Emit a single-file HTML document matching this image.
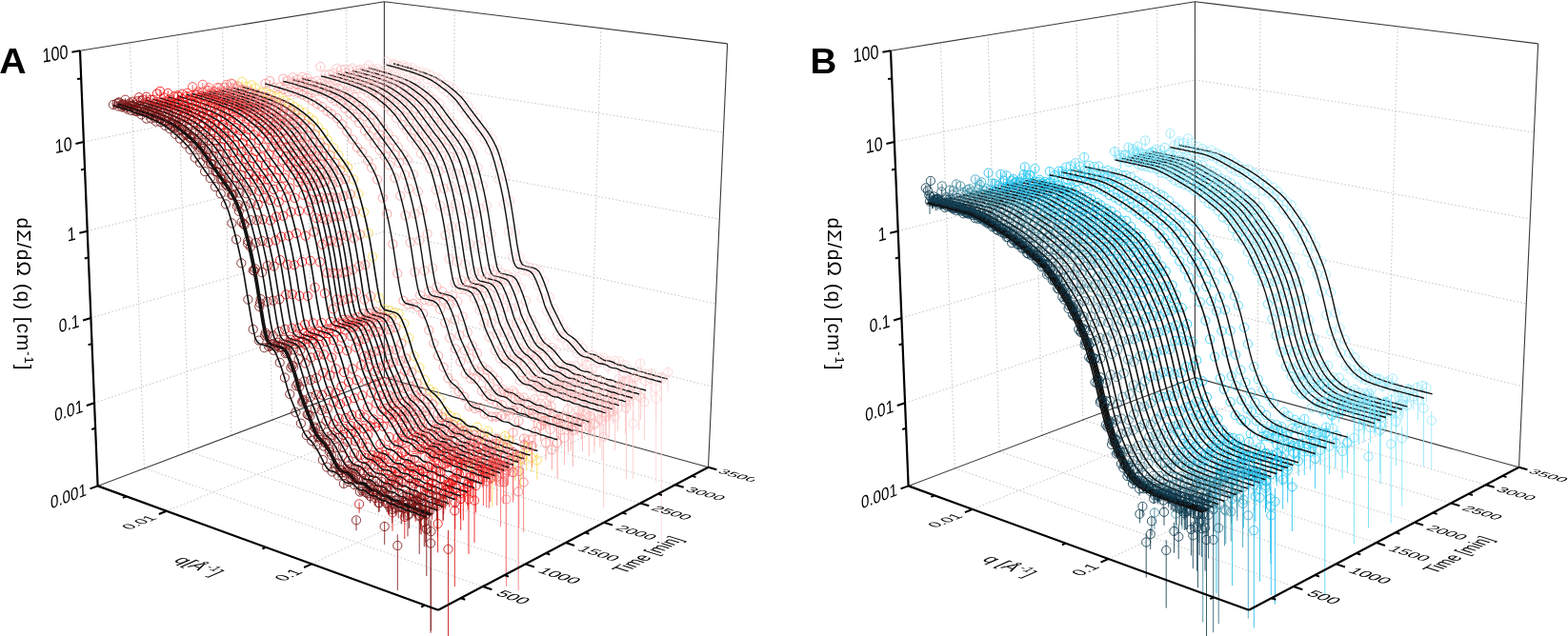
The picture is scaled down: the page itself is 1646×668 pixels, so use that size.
<!DOCTYPE html>
<html><head><meta charset="utf-8"><title>SANS time series</title><style>html,body{margin:0;padding:0;background:#fff;}svg{display:block;}</style></head><body>
<svg width="1646" height="668" viewBox="0 0 1646 668">
<defs><clipPath id="cpA"><rect x="0" y="0" width="792" height="668"/></clipPath></defs>
<g clip-path="url(#cpA)">
<path d="M99 423.2L403.4 320.7M403.4 320.7L747.3 405.9M95.4 334L403.4 243.4M403.4 243.4L751.2 319M91.7 242.7L403.4 164.5M403.4 164.5L755.3 230.1M87.9 149.1L403.4 84M403.4 84L759.4 139.1M151.5 491.8L136.4 44.8M151.5 491.8L506.9 616M198.2 474.2L186.2 36.8M198.2 474.2L551.5 592.4M242.9 457.3L233.6 29.1M242.9 457.3L593.8 570M285.6 441.1L279 21.8M285.6 441.1L634 548.8M326.5 425.6L322.3 14.8M326.5 425.6L672.2 528.5M365.8 410.8L363.7 8.1M365.8 410.8L708.7 509.2M473.5 416L477.2 10.8M174.9 536.8L473.5 416M618.8 456.3L630.9 29.6M327.1 592.3L618.8 456.3" stroke="#c6c6c6" stroke-width="1" stroke-dasharray="1.6 2.2" fill="none"/>
<path d="M84 53.3L403.4 1.7M403.4 1.7L763.6 45.9M763.6 45.9L743.5 490.8M403.4 1.7L403.4 396.5M102.6 510.4L403.4 396.5M403.4 396.5L743.5 490.8" stroke="#3a3a3a" stroke-width="1.1" fill="none"/>
<marker id="mA0" markerUnits="userSpaceOnUse" markerWidth="12" markerHeight="12" refX="6" refY="6" overflow="visible"><circle cx="6" cy="6" r="4.6" fill="none" stroke="#fdd4d4" stroke-width="0.85"/></marker>
<path d="M413.1 65.3V71.6M418.1 67.6V71.7M422.7 67.6V70.6M426.9 69.4V71.6M432.6 70.7V72.2M437.3 73.6V74.9M441.8 75.2V76.3M447.1 76.4V77.2M451.9 78.8V79.8M456.8 80.8V81.7M461.6 83V83.9M466.8 88.6V89.3M471.2 90.2V91M476.4 93.6V94.2M481.3 99.2V100M486.7 105.5V106.4M491.5 110.6V111.2M496.3 117.6V118.2M501.1 123.3V124M506.4 131.4V132M511.5 139.1V139.8M516.4 145.5V146.2M522 157.2V157.8M526.9 171.1V171.9M530.3 185V185.7M535.4 210.6V211.5M540.7 243.8V244.7M545.3 269.2V269.9M550.6 278.3V279.3M555.8 280.8V281.7M561.8 281.6V282.6M565.7 284.3V285.2M571 295.2V296.4M576.9 311.8V313M581.4 324.2V325.7M586.4 334.9V336.3M591 344V346.6M595.8 348.3V350.6M601.7 358.4V361M607 359.3V362.1M611.7 364.6V367.8M617.1 372.3V376.8M622.2 391.8V398.7M627.8 374.2V379.1M633.7 374.3V379.3M639.2 377.6V383.7M644.7 377V385.2M650 376.4V386M655.9 380.2V390M661.4 388.1V401.5M666.6 391.6V405.5M672.2 377.9V391.3M678.2 388.1V405.5M683.1 392.5V417.2M688.7 409V506.9M694.3 393.2V569.4M701.2 384.8V410.9" stroke="#fdd4d4" fill="none" stroke-width="0.85"/>
<path d="M413.1 66.8 418.1 69.1 422.7 68.3 426.9 70 432.6 71.2 437.3 74.1 441.8 75.5 447.1 76.6 451.9 79.1 456.8 81.1 461.6 83.3 466.8 88.8 471.2 90.5 476.4 93.8 481.3 99.5 486.7 105.7 491.5 110.8 496.3 117.8 501.1 123.6 506.4 131.6 511.5 139.3 516.4 145.7 522 157.3 526.9 171.3 530.3 185.3 535.4 210.9 540.7 244 545.3 269.4 550.6 278.6 555.8 281.1 561.8 282 565.7 284.5 571 295.6 576.9 312.3 581.4 324.6 586.4 335.4 591 344.7 595.8 349.1 601.7 359.2 607 360.3 611.7 365.6 617.1 374 622.2 394.1 627.8 376.1 633.7 375.7 639.2 379.5 644.7 379 650 379.1 655.9 383.2 661.4 391.1 666.6 396.6 672.2 381.6 678.2 392.7 683.1 398 688.7 418.9 694.3 398.1 701.2 391.1" fill="none" stroke="none" marker-start="url(#mA0)" marker-mid="url(#mA0)" marker-end="url(#mA0)"/>
<polyline points="413,66.9 414.7,67.3 416.4,67.8 418.1,68.2 419.7,68.7 421.4,69.1 423.1,69.6 424.8,70.1 426.5,70.5 428.2,71 429.9,71.5 431.6,72 433.3,72.5 435,73.1 436.8,73.6 438.5,74.2 440.2,74.8 441.9,75.3 443.6,75.9 445.3,76.6 447.1,77.2 448.8,77.9 450.5,78.6 452.3,79.3 454,80.1 455.7,80.9 457.5,81.7 459.2,82.6 460.9,83.6 462.7,84.7 464.4,85.8 466.2,87 467.9,88.3 469.6,89.5 471.4,90.8 473.1,92.2 474.9,93.6 476.6,95 478.4,96.6 480.1,98.2 481.9,99.9 483.7,101.6 485.4,103.5 487.2,105.6 488.9,107.9 490.7,110.4 492.4,112.8 494.2,115.2 496,117.5 497.7,119.9 499.5,122.2 501.2,124.5 503,126.8 504.8,129.2 506.6,131.5 508.3,133.8 510.1,136.1 511.9,138.5 513.6,141.1 515.4,143.9 517.2,146.9 518.9,150.2 520.7,153.9 522.5,158.1 524.2,163.1 525.9,168.8 527.7,175.1 529.4,181.7 531.1,188.7 532.8,196.2 534.5,204.4 536.2,213.2 537.8,223 539.5,234.1 541.1,245.2 542.7,256.2 544.4,265.5 546.1,273.3 547.8,277 549.6,278.9 551.4,279.5 553.3,279.9 555.1,280.3 556.9,280.7 558.8,281.1 560.6,281.6 562.4,282.4 564.3,283.7 566.1,285.6 567.9,289 569.6,292.9 571.4,297.2 573.1,301.9 574.9,307 576.6,312.5 578.4,318.2 580.1,322.4 581.9,326.1 583.7,329.7 585.5,333.3 587.3,337 589.1,340.6 590.9,344 592.7,347 594.5,349.4 596.3,351.3 598.2,352.5 600.1,353.7 601.9,355.1 603.8,356.7 605.6,358.6 607.5,360.6 609.3,362.8 611.1,365 613,367.2 614.8,369 616.7,370.4 618.6,371.3 620.5,371.9 622.4,372.2 624.3,372.7 626.2,373.4 628.1,374.5 630,375.8 631.9,377.1 633.8,378.1 635.7,378.7 637.7,378.9 639.6,379.2 641.5,379.7 643.4,380.5 645.4,381.6 647.3,382.6 649.2,383.2 651.2,383.5 653.1,383.8 655.1,384.4 657,385.3 658.9,386.3 660.9,386.9 662.9,387.2 664.8,387.5 666.8,388.3 668.7,389.2 670.7,389.9 672.7,390.2 674.7,390.6 676.6,391.3 678.6,392.1 680.6,392.6 682.6,392.9 684.6,393.5 686.5,394.3 688.5,394.8 690.5,395.2 692.5,395.8 694.5,396.5 696.5,396.9 698.6,397.4 700.6,398.1" stroke="#111" fill="none" stroke-width="1.4"/>
<marker id="mA4" markerUnits="userSpaceOnUse" markerWidth="12" markerHeight="12" refX="6" refY="6" overflow="visible"><circle cx="6" cy="6" r="4.6" fill="none" stroke="#fdd1d1" stroke-width="0.85"/></marker>
<path d="M405.7 63.4V68.6M411.2 67.4V70.5M415.4 67.6V70.1M419.5 69.5V71.9M425.2 70.7V72.7M430.6 72.7V74.2M435 76.1V77.3M440 78.4V79.4M444.6 78.7V79.5M448.8 83.2V84.2M453.8 84.9V85.9M459 87.3V87.9M464.4 92.7V94M469.5 96.5V97.2M474.7 101V101.7M479.3 105.1V105.9M484.8 113V113.7M489.3 118.8V119.6M494.2 125.1V125.7M499.8 133.1V133.9M504.2 137.7V138.5M508.5 145.9V146.8M514.2 157.3V158.2M519.6 173.7V174.3M523.3 187.8V188.3M529.2 214.3V214.9M533.9 242.9V243.6M538.2 270V270.7M543.2 281.7V282.5M548.8 283.5V284.3M554 284.3V285.3M559.9 288.9V290.3M564.6 299.5V300.6M568.8 312.6V314M574.1 326.6V328.1M579.9 335.8V337.6M585.4 351.6V353.7M590 354.1V357M595.2 360.9V364.4M601.2 362.4V366M605.7 369.7V372.9M610.8 377.2V383.6M615.8 373.5V378.3M621.8 371.6V376M628.2 379.5V385M632.2 377.6V382.5M638.2 382.7V393.2M642.2 409V428.8M649.4 383.5V392.7M655.1 388.3V397.5M660 394.4V413.6M664.5 431.1V503.1M672 387.4V402.8M677.3 395.6V419.5M683.9 386.3V404M688.7 400.8V442.7M694.4 390.5V422.3" stroke="#fdd1d1" fill="none" stroke-width="0.85"/>
<path d="M405.7 64.6 411.2 68.6 415.4 68.2 419.5 70.2 425.2 71.3 430.6 73 435 76.6 440 78.7 444.6 79 448.8 83.4 453.8 85.2 459 87.5 464.4 92.9 469.5 96.7 474.7 101.3 479.3 105.4 484.8 113.1 489.3 119 494.2 125.3 499.8 133.2 504.2 138 508.5 146.1 514.2 157.6 519.6 174 523.3 188 529.2 214.5 533.9 243.1 538.2 270.2 543.2 281.9 548.8 283.8 554 284.5 559.9 289.2 564.6 299.9 568.8 313.1 574.1 326.9 579.9 336.4 585.4 352.2 590 354.7 595.2 361.8 601.2 363.5 605.7 370.8 610.8 378.7 615.8 375 621.8 373.2 628.2 381.2 632.2 378.8 638.2 384.6 642.2 414.3 649.4 385.9 655.1 392.1 660 399.4 664.5 444.9 672 393.6 677.3 400.2 683.9 392.3 688.7 408 694.4 395.9" fill="none" stroke="none" marker-start="url(#mA4)" marker-mid="url(#mA4)" marker-end="url(#mA4)"/>
<polyline points="405.7,68.1 407.4,68.6 409.1,69 410.8,69.5 412.5,69.9 414.2,70.4 415.9,70.9 417.6,71.3 419.3,71.8 421,72.3 422.7,72.8 424.4,73.3 426.1,73.8 427.8,74.4 429.6,74.9 431.3,75.5 433,76 434.7,76.6 436.4,77.2 438.2,77.9 439.9,78.5 441.6,79.2 443.4,79.9 445.1,80.6 446.8,81.4 448.6,82.2 450.3,83 452.1,83.9 453.8,84.9 455.5,86 457.3,87.1 459,88.3 460.8,89.6 462.5,90.9 464.3,92.2 466,93.5 467.8,94.9 469.6,96.3 471.3,97.9 473.1,99.5 474.8,101.2 476.6,103 478.4,104.9 480.1,107 481.9,109.3 483.6,111.7 485.4,114.2 487.2,116.6 488.9,118.9 490.7,121.2 492.5,123.6 494.3,125.9 496,128.3 497.8,130.6 499.6,133 501.4,135.3 503.1,137.6 504.9,140 506.7,142.6 508.5,145.4 510.3,148.4 512,151.7 513.8,155.3 515.6,159.5 517.3,164.5 519.1,170.3 520.8,176.6 522.5,183.2 524.2,190.2 525.9,197.7 527.7,205.9 529.3,214.8 531,224.6 532.7,235.7 534.3,246.8 536,258 537.6,267.4 539.3,275.3 541.1,279.1 542.9,281.1 544.7,281.7 546.5,282.1 548.4,282.5 550.2,282.9 552.1,283.4 553.9,283.9 555.7,284.6 557.6,286 559.4,287.9 561.2,291.3 563,295.2 564.7,299.5 566.5,304.3 568.3,309.3 570,314.9 571.8,320.7 573.5,324.9 575.3,328.6 577.1,332.3 578.9,335.9 580.7,339.6 582.5,343.3 584.3,346.7 586.1,349.7 588,352.2 589.8,354.1 591.7,355.3 593.5,356.5 595.4,357.9 597.2,359.6 599.1,361.5 600.9,363.5 602.8,365.8 604.6,368 606.5,370.2 608.4,372.1 610.2,373.5 612.1,374.4 614,374.9 616,375.3 617.9,375.7 619.8,376.5 621.7,377.6 623.6,379 625.5,380.2 627.4,381.2 629.3,381.8 631.3,382 633.2,382.3 635.1,382.8 637.1,383.7 639,384.8 640.9,385.8 642.8,386.4 644.8,386.6 646.8,386.9 648.7,387.6 650.7,388.6 652.6,389.5 654.6,390.1 656.5,390.4 658.5,390.8 660.5,391.6 662.4,392.5 664.4,393.1 666.4,393.4 668.4,393.8 670.4,394.6 672.3,395.4 674.3,395.9 676.3,396.2 678.3,396.9 680.3,397.6 682.3,398.1 684.3,398.5 686.3,399.2 688.3,399.9 690.3,400.2 692.4,400.7 694.4,401.5" stroke="#111" fill="none" stroke-width="1.4"/>
<marker id="mA8" markerUnits="userSpaceOnUse" markerWidth="12" markerHeight="12" refX="6" refY="6" overflow="visible"><circle cx="6" cy="6" r="4.6" fill="none" stroke="#fccaca" stroke-width="0.85"/></marker>
<path d="M387 67.4V72.1M391.6 71.3V74.9M396.5 71.1V74.9M401 74.4V76.4M406.3 76.6V78.4M411.5 78.2V79.7M416.1 80.1V81.2M421.4 81V81.9M426.1 83.5V84.4M431.5 85.5V86.3M435.9 87.2V88M440.3 90.7V91.4M446.1 96.5V97.2M450.9 100.8V101.3M455.6 104.3V105M461.3 108.6V109.4M466.2 116.4V117.1M471.4 123.7V124.4M476.1 129.3V130.2M481.4 137.8V138.5M486.5 144.3V145.1M492.3 151.6V152.2M496.4 160.5V161.1M501.7 176.1V176.8M506.8 195.3V195.8M510.9 215.6V216.3M515.8 245.6V246.3M522 281.6V282.4M525.6 286.1V286.6M531.8 288.2V288.9M536.4 290.8V291.8M541.7 293.3V294.4M546.4 301.7V302.6M551.9 315.3V316.7M557.6 335.3V337.2M561.9 341.8V343.9M567.9 354.4V356.6M573 359V361.5M579.1 364.1V366.5M583.4 367V369.8M588.8 396.5V403.8M594.5 382V385.8M599.5 382.6V386.8M604.4 382.7V387.9M611.2 386.3V393.1M615.7 382V385.7M621.6 385.2V392.1M627.4 396.3V411M631.9 434.1V483.7M637.8 400.6V416M643.7 403.8V423M649.6 394.4V410.4M655.9 395.5V410.1M661.8 404.9V429.3M666.3 391.6V409.5M672.6 409.7V441.3M676.5 413.2V462.6" stroke="#fccaca" fill="none" stroke-width="0.85"/>
<path d="M387 68.6 391.6 72.8 396.5 72.2 401 75.1 406.3 77.2 411.5 78.8 416.1 80.4 421.4 81.3 426.1 83.7 431.5 85.7 435.9 87.4 440.3 91 446.1 96.7 450.9 100.9 455.6 104.5 461.3 108.9 466.2 116.6 471.4 123.9 476.1 129.5 481.4 138 486.5 144.5 492.3 151.9 496.4 160.7 501.7 176.3 506.8 195.4 510.9 215.8 515.8 245.9 522 281.9 525.6 286.3 531.8 288.4 536.4 291.1 541.7 293.7 546.4 302 551.9 315.8 557.6 335.8 561.9 342.5 567.9 355.4 573 360.2 579.1 365.1 583.4 367.7 588.8 398.1 594.5 383.3 599.5 384.6 604.4 384.4 611.2 388.5 615.7 383.6 621.6 387.3 627.4 399.5 631.9 442 637.8 404.9 643.7 409.3 649.6 398 655.9 400.7 661.8 413.5 666.3 396.1 672.6 417.9 676.5 422.2" fill="none" stroke="none" marker-start="url(#mA8)" marker-mid="url(#mA8)" marker-end="url(#mA8)"/>
<polyline points="386.9,71.4 388.6,71.9 390.3,72.3 392,72.7 393.7,73.2 395.4,73.7 397.1,74.2 398.8,74.7 400.5,75.1 402.2,75.6 404,76.1 405.7,76.7 407.4,77.2 409.1,77.7 410.8,78.3 412.6,78.8 414.3,79.4 416,80 417.8,80.6 419.5,81.2 421.3,81.9 423,82.6 424.7,83.3 426.5,84 428.2,84.8 430,85.6 431.7,86.4 433.5,87.3 435.3,88.3 437,89.4 438.8,90.5 440.5,91.7 442.3,93 444.1,94.2 445.8,95.6 447.6,96.9 449.4,98.3 451.1,99.8 452.9,101.3 454.7,102.9 456.5,104.6 458.2,106.4 460,108.3 461.8,110.4 463.6,112.7 465.4,115.1 467.1,117.6 468.9,120.1 470.7,122.5 472.5,124.8 474.3,127.2 476.1,129.6 477.9,132 479.7,134.4 481.4,136.7 483.2,139.1 485,141.4 486.8,143.9 488.6,146.5 490.4,149.3 492.2,152.3 494,155.6 495.8,159.2 497.6,163.4 499.4,168.3 501.1,174 502.9,180.3 504.7,187.1 506.4,194.1 508.2,201.7 509.9,209.9 511.6,218.8 513.3,228.6 515,239.8 516.7,251.2 518.4,262.5 520.1,272.2 521.8,280.5 523.6,284.7 525.4,286.8 527.2,287.5 529.1,287.9 530.9,288.3 532.8,288.7 534.6,289.2 536.5,289.7 538.3,290.4 540.2,291.8 542,293.7 543.8,297.1 545.6,301.1 547.4,305.4 549.2,310.3 551,315.5 552.8,321.2 554.5,327.1 556.3,331.4 558.2,335.3 560,339 561.8,342.7 563.6,346.5 565.4,350.3 567.2,353.8 569.1,356.9 570.9,359.5 572.8,361.3 574.7,362.6 576.5,363.9 578.4,365.4 580.3,367.1 582.2,369 584,371.2 585.9,373.5 587.8,375.9 589.6,378.1 591.5,380 593.4,381.4 595.3,382.3 597.2,382.8 599.2,383.2 601.1,383.7 603,384.6 604.9,385.7 606.8,387.1 608.8,388.4 610.7,389.4 612.6,389.9 614.6,390.2 616.5,390.4 618.5,391 620.4,392 622.4,393.2 624.3,394.1 626.3,394.7 628.3,394.9 630.2,395.3 632.2,396 634.2,397 636.1,398 638.1,398.5 640.1,398.8 642.1,399.2 644.1,400.1 646,401 648,401.6 650,401.9 652,402.4 654,403.3 656,404 658,404.4 660,404.8 662,405.6 664.1,406.3 666.1,406.7 668.1,407.2 670.1,407.9 672.1,408.5 674.2,408.9 676.2,409.5 678.2,410.2" stroke="#111" fill="none" stroke-width="1.4"/>
<marker id="mA12" markerUnits="userSpaceOnUse" markerWidth="12" markerHeight="12" refX="6" refY="6" overflow="visible"><circle cx="6" cy="6" r="4.6" fill="none" stroke="#fcc7c7" stroke-width="0.85"/></marker>
<path d="M378.1 71.1V77.6M383.7 71V74.4M388.3 73.8V77.7M393 75V77.4M397.4 77V78.7M402.4 78V79.5M407.5 79.9V80.9M413 83.3V84.1M417.3 84.2V85.2M421.9 86.9V87.7M427.2 89.7V90.4M432.5 94.5V95.2M438.4 96.8V97.5M443.8 101.8V102.5M447.7 103.9V104.8M453.3 110.6V111.4M458.6 119.1V119.8M463.6 126.2V126.9M468.2 130.1V130.8M472.8 138.1V138.8M478.3 144V144.6M482.8 151.7V152.4M488.8 160.9V161.6M494.1 178.3V179M498.1 192.2V192.8M503.7 218.9V219.6M508.7 252V252.7M513.9 282.3V283.2M519.1 288.2V289M524.2 290.8V291.7M528.8 293V293.9M534.2 294.3V295.2M540.1 305.1V306.1M544.4 320.9V322.7M549.7 334.1V335.2M555.5 348.1V349.9M560.2 355.3V357.6M564.8 363.9V366.5M570.6 365.3V368.2M576.3 372.5V375M581.3 379.8V383.6M587.2 383.8V390.1M592.7 387V391.4M597.4 390.6V396.4M602.9 393.8V400M608 414.3V428.2M613.7 397.6V406M620.1 394.1V404.7M624.1 434.6V468M631.5 397V405.7M635.6 426.6V457M642 401.5V416.1M648.9 403.3V426M653.7 397V414M659.1 407V434.5M664.9 408.9V441.2M670.9 407.5V451.5" stroke="#fcc7c7" fill="none" stroke-width="0.85"/>
<path d="M378.1 73.1 383.7 72.2 388.3 74.9 393 75.7 397.4 77.3 402.4 78.5 407.5 80.2 413 83.6 417.3 84.4 421.9 87.1 427.2 89.9 432.5 94.7 438.4 97 443.8 102.1 447.7 104.1 453.3 110.9 458.6 119.4 463.6 126.5 468.2 130.4 472.8 138.4 478.3 144.2 482.8 151.9 488.8 161.1 494.1 178.5 498.1 192.4 503.7 219 508.7 252.3 513.9 282.6 519.1 288.4 524.2 291.1 528.8 293.3 534.2 294.7 540.1 305.5 544.4 321.3 549.7 334.5 555.5 348.7 560.2 355.7 564.8 364.5 570.6 366 576.3 373.2 581.3 380.9 587.2 385 592.7 388.2 597.4 392.2 602.9 395.8 608 418.7 613.7 399.6 620.1 396.7 624.1 444.7 631.5 400 635.6 432.9 642 404.9 648.9 407.6 653.7 400.5 659.1 416.6 664.9 415.1 670.9 415.7" fill="none" stroke="none" marker-start="url(#mA12)" marker-mid="url(#mA12)" marker-end="url(#mA12)"/>
<polyline points="378.5,72.9 380.2,73.3 381.9,73.7 383.6,74.2 385.4,74.7 387.1,75.1 388.8,75.6 390.5,76.1 392.2,76.6 393.9,77.1 395.7,77.6 397.4,78.1 399.1,78.6 400.8,79.2 402.6,79.7 404.3,80.3 406,80.9 407.8,81.5 409.5,82.1 411.3,82.7 413,83.4 414.8,84.1 416.5,84.8 418.3,85.5 420,86.3 421.8,87.1 423.5,87.9 425.3,88.8 427.1,89.8 428.8,90.9 430.6,92 432.4,93.2 434.1,94.4 435.9,95.7 437.7,97.1 439.4,98.4 441.2,99.8 443,101.3 444.8,102.8 446.6,104.4 448.3,106.1 450.1,107.9 451.9,109.8 453.7,111.9 455.5,114.2 457.3,116.6 459.1,119.1 460.9,121.6 462.6,124 464.4,126.4 466.2,128.8 468,131.2 469.8,133.6 471.6,136 473.4,138.4 475.2,140.7 477,143.1 478.8,145.6 480.7,148.2 482.5,151 484.3,154 486.1,157.3 487.9,160.9 489.7,165 491.4,170 493.2,175.7 495,182 496.8,188.8 498.5,195.8 500.3,203.4 502,211.7 503.8,220.6 505.5,230.4 507.2,241.6 508.9,253.1 510.6,264.4 512.3,274.4 514,282.8 515.8,287.2 517.6,289.3 519.5,290 521.3,290.4 523.2,290.9 525.1,291.3 526.9,291.8 528.8,292.3 530.6,293 532.5,294.3 534.3,296.3 536.2,299.7 538,303.7 539.8,308.1 541.6,313 543.4,318.2 545.2,324 546.9,329.9 548.7,334.3 550.6,338.2 552.4,341.9 554.2,345.7 556,349.6 557.9,353.4 559.7,357 561.5,360.1 563.4,362.7 565.3,364.6 567.1,365.9 569,367.1 570.9,368.6 572.8,370.4 574.7,372.4 576.5,374.6 578.4,376.9 580.3,379.3 582.2,381.6 584.1,383.5 586,385 587.9,385.8 589.8,386.3 591.7,386.7 593.7,387.3 595.6,388.1 597.5,389.3 599.5,390.8 601.4,392.1 603.3,393 605.3,393.5 607.2,393.8 609.2,394.1 611.1,394.7 613.1,395.7 615,396.9 617,397.8 619,398.4 620.9,398.6 622.9,399 624.9,399.7 626.9,400.8 628.8,401.7 630.8,402.2 632.8,402.5 634.8,403 636.8,403.9 638.8,404.8 640.8,405.4 642.8,405.7 644.8,406.2 646.8,407.1 648.8,407.8 650.8,408.2 652.8,408.6 654.9,409.4 656.9,410.2 658.9,410.5 660.9,411 663,411.8 665,412.4 667,412.8 669.1,413.4 671.1,414.1" stroke="#111" fill="none" stroke-width="1.4"/>
<marker id="mA16" markerUnits="userSpaceOnUse" markerWidth="12" markerHeight="12" refX="6" refY="6" overflow="visible"><circle cx="6" cy="6" r="4.6" fill="none" stroke="#fcc4c4" stroke-width="0.85"/></marker>
<path d="M369.9 69.9V77.2M375 72.3V77.1M379.7 74.5V77.6M384.6 76.8V79.3M389.6 79.9V81.4M394.9 79.5V81.3M400.2 82.6V83.9M405.1 84.4V85.4M409.7 85.3V86.1M414.3 87.8V88.7M419.4 92.6V93.4M424.4 94.2V94.9M430 99V99.6M433.5 101V101.7M439.8 107V107.8M444 110.8V111.6M449.9 118.7V119.5M455.5 126.8V127.6M459.8 131.3V132.1M464.3 139.9V140.8M470.9 147.6V148.3M476.1 156.3V157M480.9 164.8V165.6M486.3 181.1V181.7M490.5 197.2V197.9M496.3 224.9V225.6M501.3 257.3V258.2M505.8 284.9V285.8M510.9 292.1V293.2M516.6 293.1V293.9M521.8 295.5V296.5M526.3 298.9V300.4M532.3 312V313M537.2 323.3V324.6M542.1 338.7V340.3M547.8 350.3V352M552.8 361.5V363.3M558.1 368.3V370.9M562.9 372.3V374.7M568.9 374.1V376.4M572.8 407.1V413.8M579.2 387.2V390.4M584 388.6V393.6M589.5 392V396.9M595.8 399.6V405.5M601.2 398.3V406.6M607 394.8V401.9M612 423.1V442.1M618.3 398.7V406.2M623.4 400V410.4M629.5 402.4V411.4M633.6 445.9V532.9M639.9 426.5V448.9M645.7 430.6V472.9M652.3 402.6V423.2M657.4 420V503.1M664.2 398.5V426.9" stroke="#fcc4c4" fill="none" stroke-width="0.85"/>
<path d="M369.9 71.6 375 73.8 379.7 75.5 384.6 77.4 389.6 80.2 394.9 80.1 400.2 83 405.1 84.6 409.7 85.6 414.3 88.1 419.4 92.8 424.4 94.4 430 99.2 433.5 101.2 439.8 107.2 444 111 449.9 119 455.5 127.1 459.8 131.6 464.3 140.1 470.9 147.8 476.1 156.5 480.9 165.1 486.3 181.4 490.5 197.4 496.3 225.1 501.3 257.6 505.8 285.3 510.9 292.4 516.6 293.4 521.8 295.8 526.3 299.3 532.3 312.3 537.2 323.7 542.1 339.2 547.8 350.8 552.8 362 558.1 369 562.9 373.2 568.9 374.9 572.8 408.6 579.2 388.3 584 390.3 589.5 393.3 595.8 401.4 601.2 401.6 607 397 612 427.4 618.3 400.5 623.4 403.1 629.5 404.9 633.6 458.8 639.9 433 645.7 437.5 652.3 409.7 657.4 428.6 664.2 404.9" fill="none" stroke="none" marker-start="url(#mA16)" marker-mid="url(#mA16)" marker-end="url(#mA16)"/>
<polyline points="370.1,74.3 371.8,74.8 373.5,75.2 375.2,75.7 377,76.1 378.7,76.6 380.4,77.1 382.1,77.6 383.8,78.1 385.6,78.6 387.3,79.1 389,79.6 390.8,80.1 392.5,80.7 394.2,81.2 396,81.8 397.7,82.4 399.5,83 401.2,83.6 403,84.2 404.7,84.9 406.5,85.6 408.2,86.3 410,87 411.7,87.8 413.5,88.6 415.3,89.4 417,90.3 418.8,91.3 420.6,92.4 422.3,93.5 424.1,94.7 425.9,95.9 427.7,97.2 429.4,98.6 431.2,99.9 433,101.3 434.8,102.8 436.6,104.3 438.4,106 440.2,107.7 441.9,109.5 443.7,111.4 445.5,113.4 447.3,115.7 449.1,118.1 450.9,120.7 452.7,123.2 454.5,125.6 456.3,128 458.1,130.4 459.9,132.8 461.7,135.2 463.5,137.7 465.3,140.1 467.2,142.4 469,144.8 470.8,147.3 472.6,149.9 474.4,152.7 476.2,155.7 478,159 479.8,162.6 481.6,166.7 483.4,171.7 485.2,177.4 487,183.7 488.8,190.5 490.6,197.5 492.3,205.1 494.1,213.4 495.9,222.4 497.6,232.2 499.3,243.4 501,255 502.7,266.4 504.5,276.5 506.2,285 508,289.6 509.8,291.8 511.7,292.6 513.5,293 515.4,293.4 517.3,293.9 519.1,294.3 521,294.9 522.9,295.6 524.7,296.9 526.6,298.8 528.4,302.3 530.2,306.3 532.1,310.7 533.9,315.7 535.7,321 537.5,326.8 539.3,332.8 541.1,337.2 542.9,341.1 544.7,344.9 546.6,348.8 548.4,352.7 550.2,356.5 552.1,360.1 553.9,363.3 555.8,365.9 557.7,367.8 559.6,369.1 561.4,370.4 563.3,372 565.2,373.8 567.1,375.8 569,378 570.9,380.4 572.8,382.8 574.6,385.1 576.5,387.1 578.5,388.5 580.4,389.4 582.3,389.9 584.3,390.3 586.2,390.8 588.1,391.7 590.1,393 592,394.4 593.9,395.7 595.9,396.7 597.8,397.2 599.8,397.4 601.8,397.7 603.7,398.4 605.7,399.4 607.6,400.6 609.6,401.6 611.6,402.1 613.6,402.3 615.5,402.7 617.5,403.5 619.5,404.6 621.5,405.5 623.5,406 625.5,406.3 627.5,406.8 629.5,407.7 631.5,408.7 633.5,409.2 635.5,409.5 637.5,410.1 639.5,411 641.5,411.7 643.6,412 645.6,412.5 647.6,413.3 649.6,414.1 651.7,414.4 653.7,414.9 655.7,415.8 657.8,416.3 659.8,416.7 661.9,417.4 663.9,418.1" stroke="#111" fill="none" stroke-width="1.4"/>
<marker id="mA20" markerUnits="userSpaceOnUse" markerWidth="12" markerHeight="12" refX="6" refY="6" overflow="visible"><circle cx="6" cy="6" r="4.6" fill="none" stroke="#fbc1c1" stroke-width="0.85"/></marker>
<path d="M362.1 71.1V76.6M366.9 71.8V76.5M371.9 76.8V80.7M376.3 76.7V78.6M381.7 83V84.6M386.8 83.5V84.8M392 82.9V84.2M396.5 84.8V85.8M400.9 87.7V89M406.4 89.8V90.5M411.7 92.7V93.4M416.7 95.5V96.2M422.3 101.2V102M426.5 103.4V104M431.3 108.4V109.3M436.6 113.8V114.4M442.2 120.9V121.6M446.7 127.3V127.8M451.8 134.5V135.3M457 141.2V141.8M463 149.6V150.3M467.8 154.9V155.5M472.7 164.9V165.8M478.3 182.1V182.8M483.3 199.6V200.4M487.7 220.5V221.1M493.4 256.1V256.8M498.1 285.2V286M502.3 293.8V294.9M508 295.1V296M513.9 295.6V296.6M519.2 301.4V302.6M524.1 312.7V313.9M529.1 323V324.1M534.7 339.8V342M539.1 350.6V352.7M545.2 365.1V367M550.3 369.6V371.8M555.8 372.2V374.4M560.9 377.9V381.3M566.9 385.3V388.9M570.9 390.4V394.4M576 436.7V451.2M583.2 396.4V402.7M588.1 399.2V406M594.6 400.8V407.5M599.8 403.2V412.7M605.1 396.1V402.9M611.2 411.5V423M616.6 406V414.9M622.4 412.3V427.9M627.5 415.6V440.8M633.5 407V426.8M639.4 420.8V459.5M645.3 413.9V436.2M651.2 400V415.6M656.5 412.7V455.5" stroke="#fbc1c1" fill="none" stroke-width="0.85"/>
<path d="M362.1 73.1 366.9 73.4 371.9 78 376.3 77.3 381.7 83.4 386.8 83.9 392 83.2 396.5 85 400.9 87.9 406.4 90 411.7 93 416.7 95.7 422.3 101.5 426.5 103.5 431.3 108.7 436.6 114 442.2 121 446.7 127.5 451.8 134.7 457 141.3 463 149.9 467.8 155.1 472.7 165.2 478.3 182.4 483.3 199.8 487.7 220.7 493.4 256.3 498.1 285.5 502.3 294 508 295.3 513.9 295.9 519.2 301.9 524.1 313 529.1 323.3 534.7 340.5 539.1 351.1 545.2 365.7 550.3 370.2 555.8 373 560.9 378.9 566.9 386.3 570.9 391.7 576 441.4 583.2 398.3 588.1 401.2 594.6 402.8 599.8 406 605.1 399.1 611.2 415.2 616.6 408.5 622.4 416.6 627.5 420.2 633.5 414.3 639.4 428.8 645.3 418.7 651.2 404.3 656.5 422.4" fill="none" stroke="none" marker-start="url(#mA20)" marker-mid="url(#mA20)" marker-end="url(#mA20)"/>
<polyline points="361.9,75.7 363.6,76.2 365.3,76.6 367,77.1 368.8,77.6 370.5,78 372.2,78.5 373.9,79 375.7,79.5 377.4,80 379.1,80.5 380.9,81.1 382.6,81.6 384.3,82.1 386.1,82.7 387.8,83.2 389.6,83.8 391.3,84.4 393.1,85.1 394.8,85.7 396.6,86.3 398.3,87 400.1,87.7 401.9,88.5 403.6,89.2 405.4,90 407.2,90.9 408.9,91.8 410.7,92.8 412.5,93.8 414.3,95 416,96.2 417.8,97.4 419.6,98.7 421.4,100 423.2,101.4 425,102.8 426.8,104.3 428.6,105.8 430.4,107.5 432.1,109.2 433.9,111 435.7,112.8 437.5,114.9 439.3,117.2 441.1,119.6 443,122.2 444.8,124.7 446.6,127.2 448.4,129.6 450.2,132 452,134.4 453.8,136.8 455.6,139.3 457.4,141.7 459.3,144.1 461.1,146.5 462.9,148.9 464.7,151.6 466.5,154.4 468.4,157.4 470.2,160.7 472,164.3 473.8,168.4 475.6,173.3 477.4,179 479.2,185.3 481,192.1 482.8,199.2 484.6,206.8 486.4,215.1 488.1,224.1 489.9,233.9 491.6,245.2 493.3,256.8 495.1,268.3 496.8,278.6 498.6,287.2 500.4,292 502.2,294.3 504.1,295.1 505.9,295.5 507.8,296 509.7,296.4 511.5,296.9 513.4,297.4 515.3,298.1 517.2,299.5 519,301.4 520.9,304.8 522.7,308.9 524.5,313.3 526.3,318.3 528.1,323.6 530,329.5 531.8,335.6 533.6,340.1 535.4,344 537.3,347.8 539.1,351.7 540.9,355.7 542.8,359.6 544.6,363.2 546.5,366.4 548.4,369.1 550.2,371 552.1,372.3 554,373.6 555.9,375.2 557.8,377 559.7,379.1 561.6,381.3 563.5,383.8 565.4,386.3 567.3,388.6 569.2,390.6 571.1,392 573,392.9 575,393.4 576.9,393.8 578.9,394.3 580.8,395.3 582.8,396.5 584.7,398 586.6,399.3 588.6,400.3 590.6,400.8 592.5,401 594.5,401.3 596.5,402 598.4,403.1 600.4,404.3 602.4,405.2 604.4,405.7 606.4,405.9 608.3,406.4 610.3,407.2 612.3,408.3 614.3,409.2 616.3,409.7 618.3,410 620.3,410.6 622.3,411.5 624.3,412.4 626.3,412.9 628.4,413.2 630.4,413.9 632.4,414.8 634.4,415.5 636.4,415.8 638.5,416.3 640.5,417.2 642.5,417.9 644.6,418.2 646.6,418.8 648.7,419.6 650.7,420.1 652.8,420.5 654.8,421.3 656.9,421.9" stroke="#111" fill="none" stroke-width="1.4"/>
<marker id="mA24" markerUnits="userSpaceOnUse" markerWidth="12" markerHeight="12" refX="6" refY="6" overflow="visible"><circle cx="6" cy="6" r="4.6" fill="none" stroke="#fbbebe" stroke-width="0.85"/></marker>
<path d="M353.3 70.5V76.9M358.3 72V74.5M362.9 76.1V78.9M367.7 80.2V82.9M373 82.6V85.1M377.8 80.6V81.7M382.6 84.4V85.4M387.8 88.2V89.4M392.2 88.3V89.1M397.4 91V91.8M402.5 93.4V94.2M407.8 97.4V98.2M411.6 100.2V100.8M417.2 104.2V104.9M422.5 109.2V109.7M427.2 114.8V115.6M432.5 120.9V121.7M437.8 127.5V128.1M442.7 135.5V136.3M447 139.9V140.6M452.2 147.1V147.7M456.7 152.3V152.9M463.2 163.8V164.5M468.1 176.1V176.8M473.6 195.5V196.2M478.1 213.9V214.7M482.6 237.5V238.1M488.3 277.2V278.1M492.3 295.4V296.2M498 298.7V299.8M503.2 301.6V302.7M508.8 302.2V303.2M514.1 307.8V308.9M518.7 319.2V320.4M523.6 334.3V335.5M529 348.7V350.1M534 359V361M539.8 371.1V373.9M544.8 375.8V378M550.6 379.2V381.7M556.4 384.7V387.9M560.2 390.2V394.1M565.6 399.9V405.5M570.6 437.8V451.3M577 400.1V405M582.1 404.3V409.7M587.1 402.7V408.4M594.5 402.8V410.4M598.9 407.3V414M603.8 412V423.3M609.3 398.7V407.7M616.1 414.6V429M620.8 433.5V458.8M627.1 409.4V426.4M631.9 423V444.3M638.4 412.7V440.9M643.6 426.3V445M648.6 418.9V452.8" stroke="#fbbebe" fill="none" stroke-width="0.85"/>
<path d="M353.3 71.8 358.3 73.1 362.9 77.1 367.7 81.1 373 83.1 377.8 81.1 382.6 84.7 387.8 88.5 392.2 88.6 397.4 91.2 402.5 93.7 407.8 97.6 411.6 100.4 417.2 104.4 422.5 109.4 427.2 115 432.5 121.1 437.8 127.6 442.7 135.8 447 140.1 452.2 147.3 456.7 152.5 463.2 164 468.1 176.3 473.6 195.8 478.1 214.2 482.6 237.7 488.3 277.5 492.3 295.6 498 298.9 503.2 302 508.8 302.4 514.1 308.2 518.7 319.5 523.6 334.6 529 349.2 534 359.7 539.8 371.8 544.8 376.6 550.6 380 556.4 385.8 560.2 391.6 565.6 401.4 570.6 441.8 577 401.4 582.1 406 587.1 404.5 594.5 405.6 598.9 409.1 603.8 414.7 609.3 400.6 616.1 419.4 620.8 439.7 627.1 412.1 631.9 427.1 638.4 418.3 643.6 432.2 648.6 428.3" fill="none" stroke="none" marker-start="url(#mA24)" marker-mid="url(#mA24)" marker-end="url(#mA24)"/>
<polyline points="353.6,77.2 355.3,77.6 357,78.1 358.8,78.5 360.5,79 362.2,79.5 363.9,80 365.7,80.5 367.4,81 369.1,81.5 370.9,82 372.6,82.5 374.4,83 376.1,83.6 377.9,84.1 379.6,84.7 381.4,85.3 383.1,85.9 384.9,86.5 386.6,87.2 388.4,87.8 390.2,88.5 391.9,89.2 393.7,89.9 395.5,90.7 397.2,91.5 399,92.4 400.8,93.3 402.6,94.2 404.3,95.3 406.1,96.4 407.9,97.6 409.7,98.9 411.5,100.2 413.3,101.5 415.1,102.9 416.9,104.3 418.7,105.8 420.5,107.3 422.3,109 424.1,110.7 425.9,112.5 427.7,114.4 429.5,116.4 431.3,118.7 433.1,121.1 434.9,123.7 436.7,126.2 438.5,128.7 440.4,131.1 442.2,133.5 444,136 445.8,138.4 447.6,140.9 449.5,143.3 451.3,145.7 453.1,148.1 454.9,150.6 456.8,153.2 458.6,156.1 460.4,159.1 462.3,162.4 464.1,166 465.9,170.1 467.7,174.9 469.5,180.6 471.4,187 473.2,193.8 475,200.9 476.8,208.5 478.5,216.8 480.3,225.8 482.1,235.6 483.8,246.9 485.6,258.7 487.3,270.2 489.1,280.7 490.9,289.4 492.7,294.5 494.5,296.8 496.4,297.6 498.2,298.1 500.1,298.5 502,298.9 503.9,299.4 505.8,300 507.6,300.7 509.5,302 511.4,303.9 513.2,307.4 515.1,311.5 516.9,315.9 518.7,321 520.6,326.3 522.4,332.2 524.2,338.4 526,342.9 527.9,346.9 529.7,350.8 531.6,354.7 533.4,358.7 535.3,362.6 537.1,366.4 539,369.6 540.9,372.3 542.8,374.2 544.7,375.6 546.6,376.9 548.5,378.5 550.4,380.3 552.3,382.4 554.2,384.7 556.1,387.2 558,389.7 559.9,392.1 561.8,394.1 563.7,395.5 565.7,396.4 567.6,396.9 569.6,397.3 571.5,397.9 573.5,398.8 575.4,400.2 577.3,401.6 579.3,403 581.3,403.9 583.2,404.4 585.2,404.6 587.2,404.9 589.2,405.7 591.1,406.8 593.1,408 595.1,408.9 597.1,409.4 599.1,409.6 601.1,410.1 603.1,411 605.1,412.1 607,413 609.1,413.4 611.1,413.7 613.1,414.3 615.1,415.3 617.1,416.2 619.1,416.7 621.2,417 623.2,417.7 625.2,418.6 627.2,419.3 629.3,419.6 631.3,420.2 633.4,421.1 635.4,421.7 637.5,422 639.5,422.7 641.6,423.5 643.6,424 645.7,424.4 647.7,425.2 649.8,425.8" stroke="#111" fill="none" stroke-width="1.4"/>
<marker id="mA28" markerUnits="userSpaceOnUse" markerWidth="12" markerHeight="12" refX="6" refY="6" overflow="visible"><circle cx="6" cy="6" r="4.6" fill="none" stroke="#fbbbbb" stroke-width="0.85"/></marker>
<path d="M345.4 76.7V81.9M350 76.1V81.2M355 78.5V81M359.3 81V83.1M365.4 82.9V84.8M369.4 82.8V84M374.6 86.2V87.5M379.1 88.1V88.9M384.3 91V92.1M388.3 91.2V92.4M393.6 94.2V94.8M398.2 98.9V99.8M404.5 101.6V102.3M408.6 106.1V106.7M413.6 110.7V111.5M419.7 115.9V116.5M424.1 121.7V122.4M429.3 127.5V128.1M434.9 137V137.8M439.8 143.7V144.5M444.8 150.1V151M450.1 156.9V157.6M454.2 163.1V163.7M460.6 179.9V180.5M465.7 197.6V198.3M470.9 221.2V221.8M474.4 238.1V238.9M479.8 274.5V275.3M484.9 294.4V295.2M491 298.4V299.3M495.8 302.5V303.7M501.5 303.9V304.9M506.2 310.4V311.8M510.9 323.5V324.8M515.7 338.9V340.3M521.2 350.3V351.8M527.2 364.7V366.3M531.5 372.6V374.7M536.4 377.7V380.2M542.6 380.5V382.5M548.3 389.9V393.5M554.1 395.6V399.2M559.1 398.2V402.1M564.4 398.3V402.5M568.7 403.3V409M574.7 407.6V413.9M580.2 409.3V414.4M586 408.8V415.8M591.1 411.3V417.9M596.8 436.2V459.3M603.3 413.2V423.7M608.7 407V417.1M614 412.5V425.5M619.4 431.2V455.3M625.8 412.7V432.8M631.5 421.1V441.6M636.2 430.4V462.7M643.7 412.9V436.1" stroke="#fbbbbb" fill="none" stroke-width="0.85"/>
<path d="M345.4 78.2 350 77 355 79.4 359.3 81.6 365.4 83.3 369.4 83.3 374.6 86.6 379.1 88.4 384.3 91.3 388.3 91.4 393.6 94.4 398.2 99.2 404.5 101.8 408.6 106.3 413.6 111 419.7 116.1 424.1 122 429.3 127.7 434.9 137.3 439.8 143.9 444.8 150.4 450.1 157.1 454.2 163.3 460.6 180.1 465.7 197.9 470.9 221.4 474.4 238.3 479.8 274.8 484.9 294.6 491 298.7 495.8 303 501.5 304.2 506.2 310.9 510.9 323.9 515.7 339.3 521.2 350.9 527.2 365.1 531.5 373.4 536.4 378.4 542.6 381.2 548.3 390.9 554.1 396.7 559.1 399.7 564.4 399.9 568.7 404.9 574.7 409.3 580.2 411 586 411.1 591.1 412.8 596.8 443 603.3 416.4 608.7 409 614 416.7 619.4 436.7 625.8 416.7 631.5 425.3 636.2 437.7 643.7 418.8" fill="none" stroke="none" marker-start="url(#mA28)" marker-mid="url(#mA28)" marker-end="url(#mA28)"/>
<polyline points="345.3,78.6 347,79 348.7,79.5 350.4,80 352.2,80.4 353.9,80.9 355.6,81.4 357.4,81.9 359.1,82.4 360.8,82.9 362.6,83.5 364.3,84 366.1,84.5 367.8,85.1 369.6,85.6 371.3,86.2 373.1,86.8 374.8,87.4 376.6,88 378.4,88.7 380.1,89.3 381.9,90 383.7,90.7 385.4,91.4 387.2,92.2 389,93 390.8,93.9 392.6,94.7 394.3,95.7 396.1,96.8 397.9,97.9 399.7,99.1 401.5,100.4 403.3,101.7 405.1,103 406.9,104.4 408.7,105.8 410.5,107.3 412.3,108.8 414.1,110.5 415.9,112.2 417.7,114 419.6,115.9 421.4,117.9 423.2,120.2 425,122.6 426.8,125.2 428.6,127.8 430.5,130.3 432.3,132.7 434.1,135.1 435.9,137.6 437.8,140 439.6,142.5 441.4,145 443.3,147.4 445.1,149.8 446.9,152.3 448.8,154.9 450.6,157.8 452.4,160.8 454.3,164.1 456.1,167.7 457.9,171.8 459.8,176.6 461.6,182.3 463.4,188.6 465.2,195.5 467,202.6 468.9,210.2 470.7,218.6 472.5,227.6 474.2,237.4 476,248.7 477.8,260.5 479.5,272.1 481.3,282.8 483.1,291.7 484.9,296.9 486.8,299.3 488.6,300.2 490.5,300.6 492.4,301.1 494.3,301.5 496.1,302 498,302.5 499.9,303.2 501.8,304.6 503.7,306.5 505.5,309.9 507.4,314.1 509.2,318.6 511.1,323.6 512.9,329 514.7,335 516.6,341.2 518.4,345.8 520.3,349.8 522.1,353.7 524,357.7 525.8,361.8 527.7,365.8 529.6,369.5 531.4,372.8 533.3,375.5 535.2,377.5 537.1,378.8 539,380.2 541,381.8 542.9,383.7 544.8,385.8 546.7,388.1 548.6,390.7 550.5,393.2 552.4,395.6 554.3,397.7 556.2,399.1 558.2,400 560.2,400.4 562.1,400.8 564.1,401.4 566,402.4 568,403.8 569.9,405.3 571.9,406.7 573.8,407.6 575.8,408 577.8,408.3 579.8,408.6 581.8,409.4 583.8,410.5 585.7,411.8 587.7,412.7 589.7,413.1 591.7,413.3 593.7,413.8 595.7,414.8 597.7,415.9 599.7,416.8 601.8,417.2 603.8,417.5 605.8,418.2 607.8,419.2 609.8,420.1 611.9,420.5 613.9,420.8 615.9,421.6 618,422.5 620,423.1 622,423.5 624.1,424.1 626.1,425 628.2,425.6 630.3,425.9 632.3,426.6 634.4,427.4 636.4,427.9 638.5,428.4 640.6,429.2 642.6,429.7" stroke="#111" fill="none" stroke-width="1.4"/>
<marker id="mA32" markerUnits="userSpaceOnUse" markerWidth="12" markerHeight="12" refX="6" refY="6" overflow="visible"><circle cx="6" cy="6" r="4.6" fill="none" stroke="#fab8b8" stroke-width="0.85"/></marker>
<path d="M336.4 68.6V73M341.4 77.4V82.1M346 82.2V85.3M351.8 83.4V86M356.3 83.9V85.3M361.3 86.8V87.9M366 88.8V89.9M371.5 90.5V91.8M375.8 92.7V93.7M381.7 93.6V94.4M386.5 97.4V98.3M390.8 100.1V100.8M396 102.2V103M401.4 106.6V107.2M406.7 111.2V111.9M410.9 117V117.7M416.1 123.9V124.7M422.4 131V131.7M426.9 135.8V136.5M432 144.5V145.2M437.6 151.8V152.5M442.1 161.2V161.8M446.9 164.7V165.3M451.5 176.9V177.5M457.7 199.4V200.2M462 215.5V216.3M467.7 246.8V247.4M471.6 271.6V272.3M477.3 296.7V297.5M482.6 303.5V304.4M487.4 303.6V304.6M493 306.2V307.1M498.1 313.2V314.2M503.7 325.5V326.7M508.3 338.4V340M513.8 353.8V355M519.7 367.7V369.3M525 375.7V378.3M530.5 381.2V383.9M534.4 432.8V444.6M539.9 411.3V416.2M545.9 398.6V402M551.5 398.9V402.6M556.8 403.8V408.3M562.8 404.9V409M567.3 410V415M573.1 409.9V416.2M578 416.4V425.6M584.3 406.1V411.7M590.5 412.4V420.3M595.7 413V424.7M601.6 413.3V425.5M606.9 426.8V447.9M612.8 426.1V444.2M617.9 425.8V455M623.8 433V475.5M629.8 435.5V469.8M636.3 418.2V444.6" stroke="#fab8b8" fill="none" stroke-width="0.85"/>
<path d="M336.4 70 341.4 78.7 346 83.1 351.8 84.3 356.3 84.2 361.3 87.1 366 89.1 371.5 90.8 375.8 93.1 381.7 93.9 386.5 97.7 390.8 100.3 396 102.5 401.4 106.9 406.7 111.5 410.9 117.2 416.1 124.2 422.4 131.2 426.9 136 432 144.7 437.6 152 442.1 161.4 446.9 164.9 451.5 177.1 457.7 199.6 462 215.8 467.7 247 471.6 271.8 477.3 296.9 482.6 303.8 487.4 303.9 493 306.5 498.1 313.4 503.7 325.9 508.3 339.3 513.8 354.2 519.7 368.2 525 376.5 530.5 382.1 534.4 436.5 539.9 413 545.9 399.8 551.5 400 556.8 404.9 562.8 406.4 567.3 411.4 573.1 412.2 578 417.8 584.3 407.4 590.5 414.9 595.7 415.9 601.6 417.9 606.9 430.9 612.8 432 617.9 429.6 623.8 445.8 629.8 440.5 636.3 426.5" fill="none" stroke="none" marker-start="url(#mA32)" marker-mid="url(#mA32)" marker-end="url(#mA32)"/>
<polyline points="337,79.8 338.7,80.3 340.5,80.7 342.2,81.2 343.9,81.7 345.7,82.2 347.4,82.7 349.1,83.2 350.9,83.7 352.6,84.2 354.4,84.7 356.1,85.2 357.9,85.8 359.6,86.3 361.4,86.9 363.1,87.4 364.9,88 366.7,88.6 368.4,89.3 370.2,89.9 372,90.6 373.8,91.3 375.5,92 377.3,92.7 379.1,93.5 380.9,94.3 382.7,95.1 384.4,96 386.2,97 388,98 389.8,99.2 391.6,100.4 393.4,101.6 395.2,102.9 397,104.3 398.8,105.7 400.6,107.1 402.4,108.6 404.3,110.1 406.1,111.7 407.9,113.5 409.7,115.3 411.5,117.2 413.4,119.2 415.2,121.4 417,123.9 418.8,126.5 420.7,129.1 422.5,131.6 424.3,134 426.1,136.5 428,139 429.8,141.4 431.6,143.9 433.5,146.4 435.3,148.9 437.2,151.3 439,153.8 440.9,156.4 442.7,159.2 444.6,162.3 446.4,165.5 448.2,169.1 450.1,173.2 451.9,178 453.8,183.7 455.6,190 457.4,196.9 459.2,204.1 461.1,211.7 462.9,220 464.7,229.1 466.5,238.9 468.3,250.2 470.1,262.1 471.8,273.8 473.6,284.7 475.4,293.6 477.2,299.1 479.1,301.5 481,302.5 482.9,303 484.7,303.4 486.6,303.9 488.5,304.4 490.4,304.9 492.3,305.6 494.2,306.9 496.1,308.8 497.9,312.3 499.8,316.4 501.7,321 503.5,326.1 505.3,331.5 507.2,337.5 509,343.8 510.9,348.5 512.7,352.5 514.6,356.5 516.5,360.6 518.3,364.7 520.2,368.7 522.1,372.5 524,375.9 525.9,378.6 527.8,380.6 529.7,381.9 531.6,383.3 533.5,385 535.4,386.9 537.4,389.1 539.3,391.4 541.2,394 543.1,396.6 545,399.1 546.9,401.1 548.9,402.6 550.8,403.4 552.8,403.9 554.8,404.3 556.7,404.9 558.7,406 560.7,407.4 562.6,408.9 564.6,410.3 566.5,411.2 568.5,411.6 570.5,411.8 572.5,412.2 574.5,413 576.5,414.2 578.5,415.5 580.5,416.4 582.5,416.8 584.5,417 586.5,417.5 588.5,418.5 590.5,419.7 592.5,420.5 594.5,420.9 596.6,421.2 598.6,421.9 600.6,423 602.6,423.9 604.7,424.3 606.7,424.6 608.8,425.4 610.8,426.4 612.9,427 614.9,427.3 617,427.9 619,428.9 621.1,429.4 623.1,429.8 625.2,430.5 627.3,431.3 629.3,431.7 631.4,432.3 633.5,433.1 635.6,433.6" stroke="#111" fill="none" stroke-width="1.4"/>
<marker id="mA36" markerUnits="userSpaceOnUse" markerWidth="12" markerHeight="12" refX="6" refY="6" overflow="visible"><circle cx="6" cy="6" r="4.6" fill="none" stroke="#faafaf" stroke-width="0.85"/></marker>
<path d="M317.3 78.8V85.1M322.3 80.6V84.3M327.2 84.4V87.8M332.4 84.2V86.3M336.9 86.8V88.8M341.5 89V90.3M346.4 89.4V91M351.2 92.6V93.8M356.6 94V95M361.3 97.7V98.6M366.1 99.3V100.2M371.9 101.9V102.6M377.2 106.9V107.6M381.1 109.2V109.8M387.2 116V116.7M392 120.4V121.1M396.7 125.6V126.4M402 133.4V134.1M407.3 140.2V140.9M413.5 146.8V147.5M417.8 154.3V154.8M423.6 161.9V162.5M427.9 168.1V168.7M433.8 183.1V183.8M438.9 200.9V201.7M443.4 220.2V220.9M448.6 245.4V246M454.1 281.5V282M458.4 301V302M464.3 306V306.8M469 311.1V311.8M474.9 310.4V311.3M480.4 316.3V317.2M485.7 332.1V333M490.8 348.9V350.3M495.8 362.5V364.7M501 370.7V372.3M506.1 384V386.3M511.6 388.3V390.5M517 393.4V396.6M522.4 398.6V401.7M528.1 408.4V411.3M533.2 411.5V415.2M538.4 408.9V413.9M544.8 415.4V420.8M549.8 415.8V420.1M554.9 421.2V428.6M560.9 416.8V424.4M566.8 421.9V431.8M572.5 421.5V429.9M578.4 423V434.2M584.5 438.1V454.5M588.6 444.5V467.1M596.2 426.5V441.7M601.1 436.2V456.2M606.7 434.6V457.6M611.5 440.9V474.1M618.3 439V479.4" stroke="#faafaf" fill="none" stroke-width="0.85"/>
<path d="M317.3 80.7 322.3 82 327.2 85.9 332.4 84.9 336.9 87.5 341.5 89.4 346.4 89.8 351.2 93 356.6 94.2 361.3 98 366.1 99.6 371.9 102 377.2 107.1 381.1 109.4 387.2 116.2 392 120.7 396.7 125.8 402 133.7 407.3 140.4 413.5 147.1 417.8 154.4 423.6 162.1 427.9 168.3 433.8 183.3 438.9 201.2 443.4 220.4 448.6 245.5 454.1 281.7 458.4 301.3 464.3 306.2 469 311.3 474.9 310.7 480.4 316.7 485.7 332.5 490.8 349.4 495.8 363 501 371 506.1 384.8 511.6 388.9 517 394.5 522.4 399.7 528.1 409.1 533.2 412.7 538.4 410.5 544.8 417.4 549.8 417.5 554.9 423 560.9 419.4 566.8 423.7 572.5 423.4 578.4 426.5 584.5 441.9 588.6 451.4 596.2 429.9 601.1 441.3 606.7 442.5 611.5 448.6 618.3 448.6" fill="none" stroke="none" marker-start="url(#mA36)" marker-mid="url(#mA36)" marker-end="url(#mA36)"/>
<polyline points="317.2,82.6 318.9,83 320.7,83.5 322.4,84 324.2,84.4 325.9,84.9 327.7,85.4 329.4,85.9 331.2,86.5 332.9,87 334.7,87.5 336.4,88 338.2,88.6 340,89.1 341.7,89.7 343.5,90.3 345.3,90.9 347.1,91.5 348.8,92.1 350.6,92.8 352.4,93.4 354.2,94.1 356,94.8 357.8,95.6 359.6,96.3 361.4,97.2 363.2,98 365,98.9 366.8,99.8 368.6,100.9 370.4,102 372.2,103.2 374,104.5 375.8,105.8 377.6,107.2 379.5,108.5 381.3,110 383.1,111.5 384.9,113 386.8,114.6 388.6,116.4 390.4,118.2 392.3,120.1 394.1,122.1 395.9,124.3 397.8,126.8 399.6,129.3 401.5,132 403.3,134.6 405.2,137.1 407,139.6 408.9,142.1 410.7,144.6 412.6,147.1 414.4,149.6 416.3,152.1 418.1,154.6 420,157.1 421.9,159.7 423.7,162.6 425.6,165.6 427.5,168.9 429.3,172.5 431.2,176.5 433.1,181.3 434.9,186.9 436.8,193.2 438.6,200.1 440.5,207.4 442.4,215 444.2,223.4 446,232.5 447.9,242.3 449.7,253.7 451.5,265.8 453.3,277.7 455.2,288.9 457,298.2 458.8,304.3 460.7,306.8 462.6,308 464.5,308.4 466.4,308.9 468.3,309.4 470.2,309.9 472.1,310.4 474,311.1 475.9,312.4 477.8,314.3 479.7,317.8 481.6,322 483.5,326.6 485.3,331.8 487.2,337.4 489.1,343.5 490.9,350 492.8,354.8 494.7,359 496.6,363.1 498.5,367.2 500.4,371.5 502.3,375.7 504.2,379.6 506.1,383.1 508,385.9 509.9,387.9 511.8,389.4 513.8,390.8 515.7,392.5 517.6,394.5 519.6,396.8 521.5,399.3 523.4,402 525.4,404.8 527.3,407.3 529.2,409.4 531.2,410.9 533.2,411.8 535.1,412.2 537.1,412.7 539.1,413.3 541.1,414.5 543.1,415.9 545,417.6 547,419 549,419.9 551,420.3 553,420.5 555,420.9 557,421.8 559,423.1 561,424.4 563,425.2 565.1,425.6 567.1,425.8 569.1,426.4 571.1,427.5 573.2,428.7 575.2,429.5 577.2,429.9 579.3,430.2 581.3,431.1 583.4,432.2 585.4,433 587.5,433.3 589.5,433.8 591.6,434.7 593.6,435.6 595.7,436.1 597.8,436.5 599.8,437.3 601.9,438.2 604,438.7 606.1,439.1 608.2,439.9 610.2,440.7 612.3,441.1 614.4,441.7 616.5,442.6 618.6,443" stroke="#111" fill="none" stroke-width="1.4"/>
<marker id="mA40" markerUnits="userSpaceOnUse" markerWidth="12" markerHeight="12" refX="6" refY="6" overflow="visible"><circle cx="6" cy="6" r="4.6" fill="none" stroke="#f9a8a8" stroke-width="0.85"/></marker>
<path d="M307.6 79.5V85M312.5 82.1V86M317.9 85.5V88.3M322.9 85.5V87.4M327.6 89.2V90.8M332.4 90.1V91.5M337.1 91.1V92.2M342.8 95.9V97.1M346.5 94.5V95.5M352.6 97.3V98.1M357.6 100.1V100.8M362.6 103.6V104.4M367.5 107.1V107.6M372.7 111V111.7M378 114.7V115.5M382.6 121.6V122.4M388.4 128.8V129.8M393.2 136V136.9M398.4 141.1V142.1M402.5 146V146.5M408.3 155.3V156M413.9 162.2V162.9M419 170.8V171.3M424.9 183.3V184M429.1 198.1V198.9M435.4 224.4V225M440.4 252.2V253.1M445.3 284.1V284.9M450.2 305.5V306.4M455.2 310.3V311.3M460.5 310.3V311.3M466 314.3V315.6M471.6 319.8V320.9M477.2 335.1V337.1M482.4 351.9V353.2M487.8 367.5V369.1M493.1 375.8V377.7M497.7 387.4V389.2M503.2 390.2V393M509.3 395.7V399.5M513.9 404.5V408.1M520.2 408.3V411.3M525.2 411.5V415.2M530.2 411.1V415.8M536.5 416.6V421.1M541.9 423.4V429.2M547.2 418.6V425.2M551.9 430.4V437.8M558.8 428.7V437.5M564.6 427.9V438.2M570.3 438.3V450.3M576.1 427.5V438.5M581.3 431.7V443.5M586.5 436.9V460.1M592.6 454V488.6M599.2 439.8V472.8M604.9 433V456.7M610.3 432.7V460.9" stroke="#f9a8a8" fill="none" stroke-width="0.85"/>
<path d="M307.6 81.4 312.5 83.4 317.9 86.2 322.9 86.2 327.6 89.7 332.4 90.5 337.1 91.4 342.8 96.2 346.5 94.8 352.6 97.6 357.6 100.4 362.6 103.8 367.5 107.3 372.7 111.2 378 114.9 382.6 121.8 388.4 129.1 393.2 136.2 398.4 141.4 402.5 146.2 408.3 155.5 413.9 162.4 419 171 424.9 183.6 429.1 198.3 435.4 224.6 440.4 252.5 445.3 284.3 450.2 305.8 455.2 310.6 460.5 310.6 466 314.7 471.6 320.2 477.2 335.8 482.4 352.3 487.8 368.1 493.1 376.3 497.7 388.1 503.2 390.6 509.3 396.6 513.9 405.3 520.2 409.4 525.2 412.4 530.2 412.8 536.5 418.1 541.9 425.1 547.2 420.5 551.9 432.3 558.8 430.9 564.6 431 570.3 442.1 576.1 430.7 581.3 434.2 586.5 440.5 592.6 459.9 599.2 448.8 604.9 438.5 610.3 440.8" fill="none" stroke="none" marker-start="url(#mA40)" marker-mid="url(#mA40)" marker-end="url(#mA40)"/>
<polyline points="307.9,83.8 309.6,84.3 311.4,84.8 313.1,85.3 314.9,85.7 316.6,86.2 318.4,86.7 320.1,87.3 321.9,87.8 323.6,88.3 325.4,88.8 327.2,89.4 328.9,89.9 330.7,90.5 332.5,91 334.3,91.6 336,92.2 337.8,92.8 339.6,93.5 341.4,94.1 343.2,94.8 345,95.5 346.8,96.2 348.6,96.9 350.4,97.7 352.2,98.5 354,99.4 355.8,100.2 357.6,101.2 359.4,102.2 361.2,103.4 363,104.6 364.8,105.8 366.7,107.1 368.5,108.5 370.3,109.9 372.1,111.3 374,112.8 375.8,114.4 377.6,116 379.5,117.7 381.3,119.5 383.2,121.4 385,123.4 386.9,125.7 388.7,128.1 390.6,130.7 392.4,133.4 394.3,136 396.1,138.5 398,141 399.8,143.5 401.7,146 403.6,148.6 405.4,151.1 407.3,153.7 409.2,156.1 411,158.7 412.9,161.3 414.8,164.1 416.7,167.2 418.5,170.5 420.4,174.1 422.3,178.1 424.2,182.8 426,188.4 427.9,194.8 429.8,201.7 431.7,209 433.5,216.6 435.4,225 437.2,234.1 439.1,244 440.9,255.3 442.8,267.5 444.6,279.4 446.4,290.9 448.3,300.3 450.2,306.7 452,309.3 453.9,310.6 455.8,311 457.7,311.5 459.6,311.9 461.6,312.4 463.5,313 465.4,313.7 467.3,315 469.2,316.9 471.1,320.3 473,324.6 474.9,329.3 476.8,334.5 478.7,340.1 480.5,346.3 482.4,352.9 484.3,357.7 486.2,362 488.1,366.1 490,370.4 491.9,374.7 493.8,378.9 495.7,383 497.6,386.5 499.5,389.4 501.5,391.4 503.4,392.9 505.4,394.3 507.3,396.1 509.2,398.2 511.2,400.5 513.1,403 515.1,405.8 517,408.6 518.9,411.2 520.9,413.4 522.9,414.9 524.8,415.7 526.8,416.2 528.8,416.6 530.8,417.3 532.8,418.5 534.8,420 536.7,421.7 538.7,423.1 540.7,424 542.7,424.4 544.8,424.5 546.8,425 548.8,425.9 550.8,427.3 552.8,428.6 554.8,429.4 556.9,429.8 558.9,430 560.9,430.7 562.9,431.8 565,433 567,433.8 569.1,434.1 571.1,434.5 573.2,435.4 575.2,436.5 577.3,437.3 579.3,437.6 581.4,438.1 583.5,439.1 585.5,440 587.6,440.5 589.7,440.8 591.8,441.7 593.8,442.6 595.9,443.1 598,443.5 600.1,444.4 602.2,445.1 604.3,445.5 606.4,446.2 608.5,447 610.6,447.4" stroke="#111" fill="none" stroke-width="1.4"/>
<marker id="mA44" markerUnits="userSpaceOnUse" markerWidth="12" markerHeight="12" refX="6" refY="6" overflow="visible"><circle cx="6" cy="6" r="4.6" fill="none" stroke="#f9a0a0" stroke-width="0.85"/></marker>
<path d="M297.2 81V89.8M301.9 83.2V88.7M307.7 85.7V89.1M311.6 87.9V90.5M316.9 89.5V91.2M322 91.8V93.5M326.6 93.9V95.1M331.7 95.4V96.6M336.7 95.5V96.5M341.8 98.3V99M347.7 103V103.8M352.2 106V106.8M357.6 108.4V109.2M362 113.6V114.3M367.3 118.8V119.6M372.4 123V123.6M377.2 128.7V129.6M383 137.1V137.8M387.7 142.3V143M393 150.1V150.8M398.7 157.4V158.3M404.1 164.3V164.9M408.9 173.2V173.9M414.5 186.7V187.4M420.2 205.5V206.2M425.6 226.1V226.7M430.6 254.6V255.3M435.3 285.5V286.2M441.1 309.8V310.9M445.8 314.7V315.3M451.1 316V317M457 316.8V318M462.1 324.5V325.4M467.4 338.7V340.2M472.2 354.1V355.9M477.7 365.8V367.3M483.3 379.4V381.2M488.7 392V393.8M494.2 396.7V399M498.7 397.4V399.6M505.8 409.8V412.6M510.6 415.4V419.1M515.5 418.4V421.8M521.8 422V427.1M526.9 423.7V429.7M532.3 429.4V437.5M538.8 428.5V436.2M543.4 427.5V434.8M548.1 473.5V502.5M554.9 427.9V436.2M560.7 434.3V449.7M568.1 435.2V451.4M572.2 436.9V450.9M577.6 445V463.7M584.3 435.6V459.3M590.4 431.3V453.5M596.4 443.1V474.9M601.3 444.1V490.2" stroke="#f9a0a0" fill="none" stroke-width="0.85"/>
<path d="M297.2 82.7 301.9 84.7 307.7 86.5 311.6 88.6 316.9 90.2 322 92.4 326.6 94.3 331.7 95.7 336.7 95.8 341.8 98.6 347.7 103.2 352.2 106.2 357.6 108.7 362 113.8 367.3 119 372.4 123.2 377.2 129 383 137.3 387.7 142.6 393 150.3 398.7 157.7 404.1 164.5 408.9 173.4 414.5 186.9 420.2 205.7 425.6 226.3 430.6 254.8 435.3 285.7 441.1 310.1 445.8 314.9 451.1 316.3 457 317.1 462.1 324.8 467.4 339.1 472.2 354.7 477.7 366.3 483.3 379.9 488.7 392.5 494.2 397.7 498.7 398.1 505.8 410.7 510.6 416.1 515.5 419.4 521.8 423.3 526.9 425.3 532.3 431.6 538.8 431.1 543.4 429.3 548.1 481.5 554.9 431.2 560.7 438 568.1 439.4 572.2 442.1 577.6 451 584.3 440.3 590.4 439.1 596.4 448 601.3 452" fill="none" stroke="none" marker-start="url(#mA44)" marker-mid="url(#mA44)" marker-end="url(#mA44)"/>
<polyline points="297.4,85.3 299.1,85.8 300.9,86.2 302.6,86.7 304.4,87.2 306.2,87.7 307.9,88.2 309.7,88.7 311.4,89.2 313.2,89.8 315,90.3 316.7,90.9 318.5,91.4 320.3,92 322.1,92.5 323.9,93.1 325.6,93.7 327.4,94.3 329.2,95 331,95.6 332.8,96.3 334.6,97 336.4,97.7 338.2,98.4 340,99.2 341.8,100 343.6,100.9 345.4,101.8 347.3,102.7 349.1,103.7 350.9,104.9 352.7,106.1 354.6,107.3 356.4,108.6 358.2,110 360,111.4 361.9,112.9 363.7,114.3 365.6,115.9 367.4,117.5 369.3,119.3 371.1,121.1 373,123 374.8,125 376.7,127.2 378.5,129.6 380.4,132.2 382.3,134.9 384.1,137.6 386,140.1 387.9,142.6 389.7,145.2 391.6,147.7 393.5,150.3 395.3,152.8 397.2,155.4 399.1,157.9 401,160.4 402.9,163.1 404.7,165.9 406.6,169 408.5,172.2 410.4,175.8 412.3,179.8 414.2,184.5 416.1,190.1 417.9,196.4 419.8,203.4 421.7,210.7 423.6,218.4 425.5,226.8 427.4,235.9 429.2,245.8 431.1,257.1 433,269.4 434.8,281.4 436.7,293.1 438.5,302.7 440.4,309.5 442.3,312.1 444.2,313.5 446.1,313.9 448,314.4 449.9,314.8 451.9,315.3 453.8,315.9 455.7,316.6 457.6,317.9 459.5,319.8 461.5,323.2 463.4,327.5 465.3,332.2 467.2,337.5 469.1,343.2 470.9,349.4 472.8,356.1 474.7,361.1 476.6,365.4 478.6,369.6 480.5,373.9 482.4,378.3 484.3,382.6 486.2,386.7 488.1,390.3 490.1,393.2 492,395.3 493.9,396.8 495.9,398.3 497.9,400.1 499.8,402.2 501.8,404.6 503.7,407.2 505.7,410.1 507.6,412.9 509.6,415.6 511.5,417.8 513.5,419.3 515.5,420.1 517.5,420.6 519.5,421.1 521.5,421.8 523.5,423 525.4,424.6 527.4,426.3 529.4,427.7 531.4,428.6 533.5,429 535.5,429.1 537.5,429.6 539.5,430.6 541.5,432 543.6,433.3 545.6,434.1 547.6,434.5 549.7,434.7 551.7,435.4 553.8,436.6 555.8,437.9 557.8,438.6 559.9,438.9 562,439.3 564,440.3 566.1,441.4 568.1,442.2 570.2,442.5 572.3,443 574.4,444 576.4,444.9 578.5,445.4 580.6,445.8 582.7,446.7 584.8,447.6 586.9,448 589,448.5 591.1,449.5 593.2,450.1 595.3,450.5 597.4,451.3 599.5,452.1 601.6,452.4" stroke="#111" fill="none" stroke-width="1.4"/>
<marker id="mA48" markerUnits="userSpaceOnUse" markerWidth="12" markerHeight="12" refX="6" refY="6" overflow="visible"><circle cx="6" cy="6" r="4.6" fill="none" stroke="#f89292" stroke-width="0.85"/></marker>
<path d="M278.5 86.3V93.5M283.3 83.9V88.4M287.7 91.3V94.6M293.5 90.7V93.3M297.8 93.2V95.3M302.8 95.9V97.2M308.3 96.1V97.3M313.3 96.8V97.9M317.7 99.3V100.2M323.1 102V103M327.9 105.5V106.4M332.9 109.2V109.8M338.1 111.8V112.4M343.7 116.5V117.4M348 119.4V120.1M354 124V124.7M358.8 130.2V130.8M364.3 138.1V138.9M370.1 146.3V147M375.1 154.7V155.5M380 159.4V160.1M386.2 168.7V169.2M390.2 176.1V176.7M396.1 188.2V188.9M401.8 207.5V208.2M406.3 224.5V225.2M412.3 256.2V257.3M417.3 287V287.6M423.4 315.5V316.2M428.4 319.5V320.7M433.7 318.7V319.5M438.2 321.9V322.9M444.1 329V330.3M450.3 346.4V347.9M455.3 360.2V361.7M460 373.1V375M465.6 385.1V386.7M470.4 396.7V398.4M476.6 402.9V405M481.6 409.7V413.3M487 415.7V418.7M492.6 425.8V430.1M498.9 427.8V432.2M503.6 426.4V431.1M508.6 433.4V437M516.4 436V442.2M521 435V441.6M526.7 435V442.5M531.1 487.1V606.8M538.6 449.6V465.3M544.5 439.2V450.7M550 455.9V472.3M555.7 457.1V474.6M561.9 449V470M567.7 441.4V463.2M573 456.9V483.4M579.3 462.7V493.7M585.1 457.5V502.6" stroke="#f89292" fill="none" stroke-width="0.85"/>
<path d="M278.5 87.8 283.3 85.1 287.7 92 293.5 91.7 297.8 93.8 302.8 96.4 308.3 96.4 313.3 97 317.7 99.6 323.1 102.4 327.9 105.7 332.9 109.4 338.1 112.1 343.7 116.8 348 119.6 354 124.1 358.8 130.4 364.3 138.4 370.1 146.5 375.1 155 380 159.7 386.2 168.8 390.2 176.3 396.1 188.6 401.8 207.8 406.3 224.7 412.3 256.4 417.3 287.2 423.4 315.8 428.4 319.8 433.7 319 438.2 322.3 444.1 329.4 450.3 346.7 455.3 360.5 460 373.7 465.6 385.7 470.4 397.1 476.6 403.5 481.6 411.1 487 416.6 492.6 426.8 498.9 429.2 503.6 427.9 508.6 434.6 516.4 437.6 521 437.7 526.7 436.6 531.1 496.2 538.6 454.3 544.5 442.1 550 460.6 555.7 461.7 561.9 453.1 567.7 446.8 573 464.9 579.3 472.4 585.1 465.1" fill="none" stroke="none" marker-start="url(#mA48)" marker-mid="url(#mA48)" marker-end="url(#mA48)"/>
<polyline points="278.2,88 279.9,88.4 281.7,88.9 283.4,89.4 285.2,89.9 287,90.4 288.7,90.9 290.5,91.4 292.3,92 294.1,92.5 295.8,93 297.6,93.6 299.4,94.1 301.2,94.7 303,95.3 304.8,95.9 306.6,96.5 308.4,97.1 310.2,97.7 312,98.4 313.8,99.1 315.6,99.8 317.4,100.5 319.2,101.2 321,102 322.8,102.8 324.7,103.7 326.5,104.6 328.3,105.5 330.2,106.5 332,107.6 333.8,108.8 335.7,110.1 337.5,111.4 339.4,112.8 341.2,114.2 343.1,115.7 344.9,117.2 346.8,118.7 348.6,120.4 350.5,122.1 352.3,123.9 354.2,125.8 356.1,127.8 358,130 359.8,132.4 361.7,135 363.6,137.7 365.5,140.4 367.4,143 369.2,145.6 371.1,148.2 373,150.7 374.9,153.3 376.8,155.9 378.7,158.5 380.6,161.1 382.5,163.6 384.4,166.3 386.3,169.1 388.2,172.2 390.1,175.5 392,179.1 393.9,183.1 395.8,187.7 397.7,193.2 399.6,199.5 401.6,206.5 403.5,213.9 405.4,221.6 407.3,230 409.2,239.2 411.1,249.1 413,260.3 414.9,272.8 416.8,285 418.7,297.1 420.6,306.9 422.5,314.3 424.4,317.3 426.3,318.8 428.3,319.2 430.2,319.7 432.1,320.2 434,320.7 436,321.3 437.9,321.9 439.8,323.2 441.8,325.1 443.7,328.5 445.6,332.9 447.6,337.6 449.5,343 451.4,348.8 453.3,355.1 455.2,362.1 457.2,367.1 459.1,371.6 461,375.9 463,380.4 464.9,384.9 466.8,389.3 468.8,393.6 470.7,397.3 472.7,400.3 474.6,402.5 476.6,404 478.5,405.6 480.5,407.4 482.5,409.7 484.5,412.2 486.4,414.9 488.4,417.9 490.4,420.9 492.3,423.7 494.3,425.9 496.3,427.5 498.3,428.3 500.3,428.8 502.3,429.2 504.3,430 506.3,431.3 508.3,433 510.3,434.8 512.4,436.3 514.4,437.1 516.4,437.4 518.5,437.6 520.5,438.2 522.5,439.3 524.6,440.8 526.6,442.1 528.6,442.9 530.7,443.1 532.8,443.4 534.8,444.2 536.9,445.6 538.9,446.8 541,447.5 543.1,447.7 545.1,448.2 547.2,449.3 549.3,450.5 551.4,451.1 553.4,451.4 555.5,452.1 557.6,453.2 559.7,454 561.8,454.4 563.9,454.9 566,455.9 568.1,456.8 570.2,457.1 572.4,457.8 574.5,458.8 576.6,459.3 578.7,459.7 580.8,460.7 583,461.3 585.1,461.7" stroke="#111" fill="none" stroke-width="1.4"/>
<marker id="mA52" markerUnits="userSpaceOnUse" markerWidth="12" markerHeight="12" refX="6" refY="6" overflow="visible"><circle cx="6" cy="6" r="4.6" fill="none" stroke="#f8d848" stroke-width="0.85"/></marker>
<path d="M254.1 84.6V88.8M258.9 89.7V93.3M263.9 88.8V92.3M268.4 92V94.1M274.1 96.5V98.4M278.8 96.7V98.3M283.7 98.5V99.9M289.3 101.5V102.7M293.2 101.8V102.7M298.5 105.6V106.3M303.8 108.1V109M309 112V112.8M313.7 115.1V115.8M319 118.1V119M324.5 122.9V123.6M329 126.4V127.1M334.1 133.4V133.9M339.5 139.5V140.5M343.7 146.8V147.5M350.1 155.1V155.6M355.4 162.7V163.5M361.2 172.2V173.1M365.1 175.3V176.2M371.1 188.2V189M376.5 203.3V204M381.9 222.7V223.3M386.5 244.4V244.9M391 269.5V270.4M397.7 312.6V313.4M403.1 324.6V325.4M408.4 325.5V326.2M413.3 328.1V329.4M418.6 329.2V330.2M424.3 339.6V340.8M429.3 354.7V355.7M434.6 373.5V374.6M440.5 385.7V387.4M446 398.6V400.6M450.7 408.2V410M455.9 411.4V414.6M461.7 418.6V421M467.8 430.9V435.2M472.9 436.1V440.1M478.8 438V441M484.3 443V448.7M490.1 448.3V454.4M494.6 482.3V501.8M501 446.8V453.1M506.9 455.3V465.6M512.1 450.5V458M516.8 492.4V532.5M524 461.6V478.6M530.1 455V469.6M534.8 458.4V472.3M540.9 473V505.1M546.7 472.8V512.5M552.7 464V493.7M558.1 472V496.1M563.8 476.6V503.6" stroke="#f8d848" fill="none" stroke-width="0.85"/>
<path d="M254.1 85.8 258.9 90.9 263.9 89.5 268.4 92.6 274.1 97.1 278.8 97.2 283.7 99 289.3 101.8 293.2 102.1 298.5 105.8 303.8 108.3 309 112.2 313.7 115.3 319 118.4 324.5 123.1 329 126.6 334.1 133.6 339.5 139.8 343.7 147 350.1 155.3 355.4 162.9 361.2 172.5 365.1 175.6 371.1 188.5 376.5 203.5 381.9 222.9 386.5 244.6 391 269.7 397.7 312.8 403.1 324.9 408.4 325.8 413.3 328.4 418.6 329.5 424.3 339.8 429.3 355 434.6 374 440.5 386.2 446 399.1 450.7 408.9 455.9 412 461.7 419.4 467.8 432.1 472.9 437 478.8 438.9 484.3 444.8 490.1 450.9 494.6 488.4 501 448.5 506.9 457.7 512.1 452.7 516.8 501.1 524 466.1 530.1 458 534.8 463 540.9 480.2 546.7 482.5 552.7 469.9 558.1 480.8 563.8 483.4" fill="none" stroke="none" marker-start="url(#mA52)" marker-mid="url(#mA52)" marker-end="url(#mA52)"/>
<polyline points="254.1,91.3 255.8,91.8 257.6,92.3 259.4,92.8 261.2,93.3 262.9,93.8 264.7,94.3 266.5,94.8 268.3,95.4 270.1,95.9 271.9,96.5 273.7,97 275.5,97.6 277.3,98.1 279.1,98.7 280.9,99.3 282.7,99.9 284.5,100.6 286.3,101.2 288.1,101.9 289.9,102.6 291.8,103.3 293.6,104 295.4,104.7 297.2,105.5 299.1,106.3 300.9,107.2 302.8,108.1 304.6,109 306.4,110 308.3,111.1 310.1,112.3 312,113.6 313.9,114.9 315.7,116.3 317.6,117.7 319.5,119.2 321.3,120.7 323.2,122.2 325.1,123.9 326.9,125.6 328.8,127.4 330.7,129.3 332.6,131.4 334.5,133.5 336.4,135.9 338.3,138.5 340.2,141.2 342.1,144 344,146.7 345.9,149.3 347.8,151.9 349.7,154.5 351.6,157.2 353.5,159.8 355.5,162.5 357.4,165.1 359.3,167.7 361.2,170.3 363.1,173.2 365.1,176.2 367,179.5 368.9,183.1 370.9,187.1 372.8,191.6 374.7,197.1 376.7,203.4 378.6,210.3 380.6,217.8 382.5,225.6 384.5,234 386.4,243.2 388.4,253.2 390.3,264.3 392.3,276.9 394.2,289.4 396.2,301.9 398.1,312.2 400.1,320.4 402,323.6 403.9,325.4 405.9,325.9 407.8,326.4 409.8,326.9 411.7,327.4 413.7,327.9 415.6,328.6 417.6,329.9 419.5,331.8 421.5,335.1 423.4,339.6 425.4,344.4 427.3,349.9 429.3,355.9 431.2,362.3 433.2,369.5 435.1,374.7 437.1,379.3 439.1,383.8 441,388.4 443,393.1 444.9,397.8 446.9,402.2 448.9,406.1 450.8,409.2 452.8,411.5 454.8,413.1 456.8,414.7 458.8,416.7 460.8,419 462.8,421.6 464.8,424.6 466.7,427.8 468.7,430.9 470.7,433.9 472.7,436.2 474.7,437.8 476.8,438.6 478.8,439.1 480.8,439.5 482.9,440.4 484.9,441.9 486.9,443.7 488.9,445.6 491,447.1 493,447.9 495.1,448.1 497.1,448.3 499.2,449 501.2,450.2 503.3,451.8 505.3,453.1 507.4,453.8 509.5,454.1 511.6,454.4 513.6,455.4 515.7,456.8 517.8,458.1 519.9,458.6 522,458.9 524,459.5 526.1,460.8 528.2,461.9 530.3,462.5 532.4,462.8 534.5,463.6 536.7,464.8 538.8,465.5 540.9,465.8 543,466.5 545.1,467.6 547.3,468.3 549.4,468.7 551.5,469.5 553.7,470.5 555.8,470.9 558,471.5 560.1,472.5 562.3,473 564.4,473.6" stroke="#111" fill="none" stroke-width="1.6"/>
<marker id="mA56" markerUnits="userSpaceOnUse" markerWidth="12" markerHeight="12" refX="6" refY="6" overflow="visible"><circle cx="6" cy="6" r="4.6" fill="none" stroke="#f57878" stroke-width="0.85"/></marker>
<path d="M244.1 86.4V93.4M249.6 89V93.2M254.5 93V96.4M259.8 94.6V96.7M263.9 96.9V99.2M269.6 98.2V99.7M274.4 100.7V101.9M279.9 101.8V102.9M283.8 104.8V105.7M289.7 106.5V107.4M293.3 108.4V109.4M299 111V111.8M304.5 116V116.8M309.2 119V119.9M315.2 123.9V124.6M319.8 129.9V130.6M325.3 133.6V134.4M330.4 140.9V141.6M336 149.9V150.8M340.7 154.9V155.6M346.6 162.9V163.7M351.4 170.8V171.5M357 178.4V179.1M362.4 187.9V188.6M367.7 203.6V204.2M372.5 221.8V222.3M378 246.2V246.9M383.4 277.9V278.7M389.1 310.8V311.6M394.5 327.2V327.9M398.8 329.5V330.4M404.2 333.5V334.8M410.8 333.8V334.8M415.3 343.7V345M421.4 360.3V361.3M426.3 376.1V377.5M432.2 390.2V391.8M437.5 402.2V403.8M442.4 410.1V412.4M448.8 418.4V420.9M454.3 423.7V426.6M459.5 433.6V437.2M464 436.5V440.4M470 442.6V445.8M476.1 444.6V450.3M481.9 448.1V453.1M486.7 450.8V456.5M491.6 452.8V461.9M497.9 455.2V462.6M504.4 454.7V462.4M509.4 460.3V469.9M516.2 463.8V474.3M521.3 456.6V468.7M527.8 465V477.3M531.5 503.1V615.9M538.6 473.3V497.4M544.2 498.4V620.4M550.3 461V488.3M558.3 463V490.9" stroke="#f57878" fill="none" stroke-width="0.85"/>
<path d="M244.1 88.3 249.6 90.5 254.5 94.1 259.8 95.3 263.9 97.5 269.6 98.8 274.4 101.1 279.9 102.1 283.8 105 289.7 106.8 293.3 108.7 299 111.2 304.5 116.2 309.2 119.2 315.2 124.1 319.8 130.1 325.3 133.8 330.4 141.2 336 150.1 340.7 155.2 346.6 163.2 351.4 171 357 178.6 362.4 188 367.7 203.8 372.5 222 378 246.4 383.4 278.1 389.1 311.1 394.5 327.4 398.8 329.9 404.2 333.9 410.8 334.1 415.3 344 421.4 360.7 426.3 376.5 432.2 390.8 437.5 402.6 442.4 410.9 448.8 419.3 454.3 424.5 459.5 434.4 464 438 470 443.5 476.1 446.1 481.9 449.8 486.7 452.2 491.6 455.5 497.9 456.9 504.4 456.4 509.4 462.7 516.2 466.9 521.3 460.9 527.8 468.4 531.5 524.4 538.6 480 544.2 516.3 550.3 467.2 558.3 468.4" fill="none" stroke="none" marker-start="url(#mA56)" marker-mid="url(#mA56)" marker-end="url(#mA56)"/>
<polyline points="244.8,92.6 246.6,93.1 248.4,93.6 250.2,94.1 251.9,94.6 253.7,95.1 255.5,95.6 257.3,96.1 259.1,96.7 260.9,97.2 262.7,97.8 264.5,98.3 266.3,98.9 268.1,99.5 269.9,100.1 271.7,100.7 273.5,101.3 275.3,101.9 277.2,102.5 279,103.2 280.8,103.9 282.6,104.6 284.5,105.3 286.3,106.1 288.1,106.9 290,107.7 291.8,108.5 293.6,109.4 295.5,110.3 297.3,111.3 299.2,112.4 301.1,113.6 302.9,114.9 304.8,116.2 306.7,117.6 308.5,119 310.4,120.5 312.3,122 314.2,123.6 316,125.2 317.9,127 319.8,128.8 321.7,130.7 323.6,132.7 325.5,134.8 327.4,137.2 329.3,139.8 331.2,142.6 333.1,145.4 335,148.1 337,150.7 338.9,153.3 340.8,156 342.7,158.6 344.6,161.3 346.6,164 348.5,166.6 350.4,169.2 352.3,171.9 354.3,174.7 356.2,177.8 358.1,181.1 360.1,184.7 362,188.6 364,193.1 365.9,198.5 367.9,204.8 369.8,211.8 371.8,219.3 373.8,227.1 375.7,235.5 377.7,244.7 379.7,254.7 381.6,265.9 383.6,278.5 385.6,291.1 387.6,303.7 389.5,314.2 391.5,322.6 393.4,326.1 395.4,327.9 397.3,328.4 399.2,328.9 401.2,329.4 403.1,329.9 405.1,330.5 407.1,331.2 409,332.5 411,334.3 413,337.7 414.9,342.2 416.9,347 418.8,352.5 420.8,358.5 422.8,365 424.7,372.3 426.7,377.6 428.7,382.3 430.6,386.8 432.6,391.5 434.6,396.3 436.6,401 438.5,405.5 440.5,409.4 442.5,412.7 444.5,414.9 446.5,416.5 448.5,418.2 450.5,420.2 452.5,422.6 454.5,425.3 456.5,428.3 458.5,431.5 460.5,434.8 462.5,437.8 464.5,440.2 466.5,441.7 468.5,442.6 470.5,443 472.6,443.5 474.6,444.4 476.7,445.9 478.7,447.8 480.7,449.7 482.8,451.2 484.8,452 486.9,452.2 488.9,452.4 491,453.1 493.1,454.4 495.1,456.1 497.2,457.4 499.3,458.1 501.3,458.3 503.4,458.7 505.5,459.7 507.6,461.2 509.7,462.4 511.8,462.9 513.9,463.2 516,463.9 518.1,465.2 520.2,466.3 522.3,466.8 524.4,467.1 526.5,468 528.6,469.2 530.7,469.9 532.9,470.2 535,471 537.1,472.1 539.3,472.8 541.4,473.1 543.5,474.1 545.7,475 547.8,475.4 550,476.1 552.1,477.1 554.3,477.5 556.5,478.1" stroke="#111" fill="none" stroke-width="1.6"/>
<marker id="mA60" markerUnits="userSpaceOnUse" markerWidth="12" markerHeight="12" refX="6" refY="6" overflow="visible"><circle cx="6" cy="6" r="4.6" fill="none" stroke="#f57070" stroke-width="0.85"/></marker>
<path d="M237.8 87.6V92.4M242.6 86.6V89.8M247.8 91.5V94.3M252.1 94.6V97.1M257 98.4V101.1M262.3 99.1V100.5M267.4 101V102.4M272.3 104.1V105M277.3 108V109M282.9 107.1V107.8M287.5 111.1V112.4M291.9 113V113.8M297.3 116.1V116.9M303.3 120.4V121.1M308.1 125.6V126.1M312.4 128.6V129.5M317.8 134.6V135.5M323.6 142.7V143.5M328.5 149.2V150.1M334.1 157.6V158.4M338.8 164.1V164.7M344.5 171.9V172.5M350 181.5V182.1M355.4 191V192.1M360.6 205.8V206.3M365.9 223.7V224.5M371.4 249.9V250.6M377 279.4V280.1M382.5 314.3V315.2M387.3 328.7V329.4M392.7 332.1V333.3M398.4 332.9V334M403.3 333.1V334.1M409 345.7V347.1M415.5 366.9V368.9M420.2 378.7V379.9M425.2 389V390.7M430.6 405.1V406.8M436 415.1V416.8M441.3 417V419.3M447.1 430.7V434.1M452.8 464.5V471.3M458.6 444.7V449.2M464.2 443.7V448.7M468.6 443.2V447.7M475.1 449.4V455.6M480.3 452.5V457.6M486.4 452V459.2M491.9 461.4V469.3M497.5 458.1V467.8M502.8 466.4V475.1M509.2 462.1V473M514.9 469.8V490.7M520.9 471.3V485.8M526.5 474.7V496.5M532.2 464.9V481.1M538.7 479.2V525M544.7 483.2V554.5M549.6 491.9V559.1" stroke="#f57070" fill="none" stroke-width="0.85"/>
<path d="M237.8 88.9 242.6 87.7 247.8 92.4 252.1 95.4 257 99.1 262.3 99.6 267.4 101.4 272.3 104.4 277.3 108.3 282.9 107.4 287.5 111.4 291.9 113.3 297.3 116.4 303.3 120.6 308.1 125.7 312.4 128.9 317.8 134.9 323.6 142.9 328.5 149.4 334.1 157.8 338.8 164.3 344.5 172 350 181.8 355.4 191.3 360.6 205.9 365.9 223.9 371.4 250.2 377 279.6 382.5 314.7 387.3 328.9 392.7 332.5 398.4 333.2 403.3 333.4 409 346.1 415.5 367.4 420.2 379 425.2 389.6 430.6 405.8 436 415.5 441.3 417.7 447.1 431.9 452.8 466.3 458.6 445.4 464.2 445.2 468.6 444.8 475.1 451.5 480.3 453.9 486.4 453.5 491.9 463.6 497.5 461.5 502.8 469 509.2 465.4 514.9 472.7 520.9 477.9 526.5 480.3 532.2 469.8 538.7 496.1 544.7 494.8 549.6 506.6" fill="none" stroke="none" marker-start="url(#mA60)" marker-mid="url(#mA60)" marker-end="url(#mA60)"/>
<polyline points="237.6,93.6 239.3,94.1 241.1,94.6 242.9,95.1 244.7,95.6 246.5,96.1 248.3,96.6 250,97.1 251.8,97.7 253.6,98.2 255.4,98.8 257.2,99.4 259,99.9 260.9,100.5 262.7,101.1 264.5,101.7 266.3,102.3 268.1,102.9 269.9,103.6 271.8,104.3 273.6,104.9 275.4,105.7 277.3,106.4 279.1,107.1 280.9,107.9 282.8,108.7 284.6,109.6 286.5,110.5 288.3,111.4 290.2,112.4 292,113.5 293.9,114.7 295.8,115.9 297.6,117.3 299.5,118.7 301.4,120.1 303.3,121.6 305.1,123.1 307,124.7 308.9,126.3 310.8,128 312.7,129.8 314.6,131.8 316.5,133.8 318.4,135.9 320.3,138.3 322.2,140.9 324.1,143.6 326.1,146.4 328,149.2 329.9,151.8 331.8,154.5 333.7,157.1 335.7,159.8 337.6,162.5 339.5,165.2 341.5,167.8 343.4,170.4 345.3,173.1 347.3,175.9 349.2,179 351.2,182.3 353.1,185.9 355.1,189.8 357,194.3 359,199.7 360.9,206 362.9,213 364.9,220.5 366.9,228.3 368.8,236.7 370.8,246 372.8,256 374.8,267.1 376.8,279.8 378.8,292.4 380.7,305.1 382.7,315.7 384.7,324.4 386.6,328 388.6,329.9 390.5,330.4 392.5,330.9 394.4,331.4 396.4,332 398.4,332.5 400.3,333.2 402.3,334.5 404.3,336.3 406.2,339.6 408.2,344.2 410.2,349.1 412.1,354.6 414.1,360.7 416.1,367.2 418.1,374.5 420,379.9 422,384.6 424,389.2 426,393.9 428,398.7 429.9,403.5 431.9,408.1 433.9,412.1 435.9,415.3 437.9,417.6 439.9,419.3 441.9,420.9 443.9,423 445.9,425.4 447.9,428.2 449.9,431.2 451.9,434.5 453.9,437.8 455.9,440.9 457.9,443.3 460,444.9 462,445.7 464,446.1 466.1,446.6 468.1,447.6 470.2,449.1 472.2,451.1 474.2,453 476.3,454.5 478.3,455.3 480.4,455.5 482.5,455.7 484.5,456.4 486.6,457.8 488.7,459.4 490.7,460.8 492.8,461.4 494.9,461.6 497,462 499.1,463.1 501.2,464.6 503.3,465.8 505.4,466.3 507.5,466.6 509.6,467.3 511.7,468.7 513.8,469.8 515.9,470.3 518,470.6 520.1,471.5 522.3,472.8 524.4,473.4 526.5,473.7 528.7,474.6 530.8,475.7 532.9,476.3 535.1,476.7 537.2,477.7 539.4,478.6 541.6,479 543.7,479.7 545.9,480.7 548,481.1 550.2,481.8" stroke="#111" fill="none" stroke-width="1.6"/>
<marker id="mA64" markerUnits="userSpaceOnUse" markerWidth="12" markerHeight="12" refX="6" refY="6" overflow="visible"><circle cx="6" cy="6" r="4.6" fill="none" stroke="#f56969" stroke-width="0.85"/></marker>
<path d="M230 90.7V97.9M235.4 90V94.4M239.3 94.9V98.2M244.9 96.6V99M249.9 99.5V101.2M254.7 101.3V102.6M259.9 103.3V104.5M264.9 104.5V105.7M270.2 107.6V108.6M275.2 107.7V108.6M279.5 111.4V112.2M285.7 114.7V115.6M290.6 116.7V117.4M296.1 120.9V121.6M301.3 125.4V126.1M306.7 130.6V131.3M311.7 138.8V139.4M316.4 143.8V144.5M322.3 152V153M327 159V159.7M332.2 164.2V164.7M337.7 172.1V172.5M343.7 183.1V183.9M348.8 193.5V194.2M353.8 207.5V208.1M359.2 227V227.7M364.3 247.6V248.5M370.5 283.1V283.7M374 306.6V307.5M381 329.2V330M386.2 332.9V334M391.5 333.7V334.5M397.5 339.3V340.4M402.4 348.1V349.4M408.6 367.6V369.1M412.9 380.1V381.4M419.8 395.3V396.9M424.1 407.5V409.5M430.1 418.7V420.5M435 420.5V422.7M440.5 429.4V432.5M446.3 435.7V438.3M452.2 445.3V449.4M457.2 449.6V452.9M462.7 452.6V456.7M468.4 454.5V460.3M473.7 453.9V459.9M479.4 458.8V465.1M485.7 466.8V477.3M491.8 464.6V475.9M497.6 462.8V472.5M502.9 465.4V475.9M508.8 470.8V486.2M513.4 471.6V482.5M520.2 462.2V477.7M525.6 496.3V552.9M532.2 483.4V511.1M538.5 468.8V486.5M544.1 472.2V495.7" stroke="#f56969" fill="none" stroke-width="0.85"/>
<path d="M230 92.5 235.4 91.7 239.3 95.9 244.9 97.5 249.9 100.1 254.7 101.8 259.9 103.6 264.9 104.9 270.2 108 275.2 107.9 279.5 111.6 285.7 115.1 290.6 116.9 296.1 121.1 301.3 125.7 306.7 130.8 311.7 139 316.4 144.1 322.3 152.3 327 159.2 332.2 164.3 337.7 172.3 343.7 183.4 348.8 193.7 353.8 207.7 359.2 227.2 364.3 247.9 370.5 283.3 374 306.9 381 329.5 386.2 333.3 391.5 334 397.5 339.7 402.4 348.5 408.6 368 412.9 380.5 419.8 395.9 424.1 407.8 430.1 419.2 435 421.2 440.5 430.6 446.3 436.7 452.2 446.3 457.2 450.8 462.7 453.8 468.4 456.2 473.7 456 479.4 461.2 485.7 469.8 491.8 468.2 497.6 465.5 502.9 469.1 508.8 474.9 513.4 475.2 520.2 465.8 525.6 506.1 532.2 494.2 538.5 474.9 544.1 479.3" fill="none" stroke="none" marker-start="url(#mA64)" marker-mid="url(#mA64)" marker-end="url(#mA64)"/>
<polyline points="230.4,94.6 232.2,95.1 234,95.6 235.8,96.1 237.6,96.6 239.4,97.1 241.1,97.6 242.9,98.2 244.7,98.7 246.5,99.3 248.3,99.8 250.1,100.4 252,101 253.8,101.5 255.6,102.1 257.4,102.7 259.2,103.3 261,104 262.9,104.6 264.7,105.3 266.5,106 268.4,106.7 270.2,107.4 272,108.2 273.9,109 275.7,109.8 277.6,110.6 279.4,111.5 281.3,112.4 283.2,113.4 285,114.5 286.9,115.7 288.8,117 290.6,118.3 292.5,119.7 294.4,121.1 296.3,122.6 298.2,124.1 300,125.7 301.9,127.3 303.8,129.1 305.7,130.9 307.6,132.8 309.5,134.8 311.5,137 313.4,139.3 315.3,141.9 317.2,144.7 319.1,147.5 321.1,150.3 323,152.9 324.9,155.6 326.8,158.2 328.8,160.9 330.7,163.6 332.6,166.3 334.6,169 336.5,171.6 338.5,174.3 340.4,177.1 342.4,180.2 344.3,183.5 346.3,187.1 348.2,191 350.2,195.5 352.2,200.8 354.1,207.1 356.1,214.1 358.1,221.6 360.1,229.4 362.1,237.9 364.1,247.1 366.1,257.2 368.1,268.2 370.1,281 372.1,293.7 374.1,306.5 376,317.3 378,326.1 380,329.9 381.9,331.8 383.9,332.4 385.9,332.9 387.8,333.4 389.8,333.9 391.7,334.5 393.7,335.2 395.7,336.4 397.7,338.3 399.6,341.6 401.6,346.1 403.6,351.1 405.6,356.6 407.6,362.7 409.5,369.3 411.5,376.7 413.5,382.2 415.5,386.9 417.5,391.6 419.5,396.3 421.5,401.2 423.5,406 425.4,410.6 427.4,414.7 429.4,418 431.4,420.3 433.4,421.9 435.4,423.6 437.5,425.7 439.5,428.2 441.5,431 443.5,434.1 445.5,437.5 447.5,440.8 449.5,443.9 451.6,446.3 453.6,447.9 455.6,448.8 457.7,449.2 459.7,449.7 461.8,450.7 463.8,452.3 465.9,454.2 467.9,456.2 470,457.7 472,458.5 474.1,458.7 476.2,458.9 478.2,459.7 480.3,461.1 482.4,462.8 484.4,464.1 486.5,464.7 488.6,464.9 490.7,465.3 492.8,466.5 494.9,468 497,469.2 499.1,469.7 501.2,469.9 503.3,470.7 505.4,472.1 507.5,473.2 509.7,473.7 511.8,474 513.9,475 516.1,476.2 518.2,476.9 520.3,477.2 522.5,478.1 524.6,479.2 526.8,479.8 528.9,480.2 531.1,481.2 533.2,482.1 535.4,482.5 537.6,483.3 539.7,484.2 541.9,484.6 544.1,485.4" stroke="#111" fill="none" stroke-width="1.6"/>
<marker id="mA68" markerUnits="userSpaceOnUse" markerWidth="12" markerHeight="12" refX="6" refY="6" overflow="visible"><circle cx="6" cy="6" r="4.6" fill="none" stroke="#f56262" stroke-width="0.85"/></marker>
<path d="M224.9 94.5V102.1M228.4 90.8V94.4M233.8 96V98.7M238.9 98.1V100.8M244 99.4V101.5M248.8 103.1V104.6M253.5 103.7V104.9M258.9 105.6V107M264.7 107.6V108.6M269.1 110.3V111M274.6 112.9V113.7M278.9 114.7V115.6M284.7 119.6V120.5M290.3 124.1V124.9M294.9 126.4V127.2M299.6 131.3V132M305.8 139V139.7M311.1 143.9V144.6M316.3 151.1V151.8M321 158.5V159.1M326.4 166.8V167.5M331.6 173.5V174.3M336.9 181.3V182M341.5 190.4V191.1M348.2 206.9V207.6M353.4 227.1V227.8M358.2 247.2V248.2M364.7 285.2V286M369.2 312.8V313.5M375.5 333V333.9M381 337.1V338M386.7 336.1V337.1M390.9 338.1V339M396.9 348.6V350.1M402.6 365.2V366.5M407.5 382.3V383.7M413.7 399.1V400.6M418.6 407.3V409.2M424.8 421.4V423.3M429.8 428.2V431.3M435.7 434.1V437M441.1 441.3V444.7M446 477.5V486.7M452 474.7V481.6M457.9 449.4V453.3M463.4 462.4V468.2M469.4 460.1V467M474.8 466.6V475.2M480.7 469V479.2M485.8 462.5V469.5M492.4 468.9V479.4M497.9 462.8V472.4M503.3 466.4V476.5M509.4 470.1V480.6M514.8 471.2V492.1M520.6 484.8V502.7M527.3 484.7V511.2M533.3 482V509.5M538.6 488.1V527.7" stroke="#f56262" fill="none" stroke-width="0.85"/>
<path d="M224.9 96.5 228.4 91.9 233.8 96.8 238.9 98.8 244 100.4 248.8 103.6 253.5 104 258.9 105.9 264.7 108 269.1 110.5 274.6 113.1 278.9 115 284.7 119.8 290.3 124.3 294.9 126.7 299.6 131.5 305.8 139.2 311.1 144.1 316.3 151.3 321 158.7 326.4 167 331.6 173.8 336.9 181.4 341.5 190.6 348.2 207.2 353.4 227.4 358.2 247.5 364.7 285.4 369.2 313 375.5 333.3 381 337.3 386.7 336.3 390.9 338.4 396.9 348.9 402.6 365.6 407.5 382.8 413.7 399.5 418.6 407.8 424.8 421.8 429.8 429.3 435.7 434.9 441.1 442.2 446 479.7 452 476.7 457.9 451.1 463.4 464.3 469.4 462.3 474.8 468.8 480.7 471.9 485.8 464.7 492.4 472.4 497.9 465.7 503.3 470.4 509.4 473.6 514.8 475.8 520.6 488.8 527.3 490.1 533.3 489.6 538.6 495.8" fill="none" stroke="none" marker-start="url(#mA68)" marker-mid="url(#mA68)" marker-end="url(#mA68)"/>
<polyline points="224.4,95.4 226.2,95.9 228,96.4 229.7,96.9 231.5,97.4 233.3,98 235.1,98.5 236.9,99 238.7,99.6 240.5,100.1 242.3,100.7 244.1,101.2 245.9,101.8 247.8,102.4 249.6,103 251.4,103.6 253.2,104.2 255,104.8 256.9,105.5 258.7,106.2 260.5,106.9 262.4,107.6 264.2,108.3 266.1,109 267.9,109.8 269.8,110.6 271.6,111.5 273.5,112.4 275.3,113.3 277.2,114.3 279.1,115.4 280.9,116.6 282.8,117.8 284.7,119.2 286.6,120.6 288.5,122 290.3,123.5 292.2,125 294.1,126.6 296,128.2 297.9,130 299.8,131.8 301.7,133.7 303.6,135.7 305.6,137.8 307.5,140.2 309.4,142.8 311.3,145.6 313.3,148.4 315.2,151.2 317.1,153.8 319.1,156.5 321,159.2 322.9,161.9 324.9,164.6 326.8,167.3 328.7,170 330.7,172.6 332.6,175.3 334.6,178.2 336.5,181.2 338.5,184.5 340.5,188.1 342.4,192 344.4,196.5 346.4,201.8 348.4,208.1 350.4,215 352.3,222.6 354.3,230.4 356.3,238.9 358.3,248.1 360.4,258.2 362.4,269.2 364.4,282 366.4,294.8 368.4,307.7 370.4,318.5 372.4,327.5 374.4,331.5 376.3,333.5 378.3,334.1 380.2,334.6 382.2,335.1 384.2,335.6 386.1,336.2 388.1,336.9 390.1,338.1 392.1,340 394,343.2 396,347.8 398,352.7 400,358.3 402,364.5 404,371 406,378.6 408,384.1 410,388.9 412,393.5 414,398.3 416,403.2 418,408.1 419.9,412.8 421.9,416.8 424,420.2 426,422.5 428,424.2 430,425.9 432,428.1 434,430.6 436,433.4 438,436.5 440.1,439.9 442.1,443.3 444.1,446.5 446.1,448.9 448.2,450.5 450.2,451.4 452.3,451.8 454.3,452.3 456.4,453.3 458.4,454.9 460.5,457 462.5,459 464.6,460.5 466.6,461.2 468.7,461.4 470.8,461.6 472.9,462.4 474.9,463.8 477,465.6 479.1,466.9 481.2,467.5 483.3,467.7 485.4,468.1 487.5,469.3 489.6,470.9 491.7,472.1 493.8,472.5 495.9,472.8 498,473.6 500.1,475 502.3,476.1 504.4,476.5 506.5,476.9 508.7,478 510.8,479.2 512.9,479.8 515.1,480.1 517.2,481.1 519.4,482.2 521.5,482.7 523.7,483.2 525.8,484.2 528,485.1 530.2,485.4 532.3,486.3 534.5,487.2 536.7,487.6 538.9,488.4" stroke="#111" fill="none" stroke-width="1.6"/>
<marker id="mA72" markerUnits="userSpaceOnUse" markerWidth="12" markerHeight="12" refX="6" refY="6" overflow="visible"><circle cx="6" cy="6" r="4.6" fill="none" stroke="#f55d5d" stroke-width="0.85"/></marker>
<path d="M219.2 89.7V97M224.5 94.8V99.1M228.7 96.8V99.9M233.5 97.9V100.4M239.4 101.9V103.8M243.9 101.2V102.7M249.2 106.3V107.6M253.8 107.6V108.4M258.6 108.7V109.5M263.9 112.2V113M269 112.9V113.7M274.2 115.6V116.3M279.3 119.7V120.3M284.3 122.9V123.9M290 127.9V128.8M294.6 130V130.8M299.2 136.4V137M305.6 146.5V147.1M311.4 152.7V153.4M316.6 162V162.6M321.8 166.6V167.4M326.6 173V173.6M331.8 183.6V184.6M336.9 191.7V192.3M343 207.9V208.6M348.5 227.5V228.2M354.4 254.2V255.1M360.2 286.3V286.9M364.6 313.8V314.6M370.4 334.5V335.3M375.6 338.7V339.6M381.5 337.6V338.5M386.9 341.6V342.7M392.1 348.3V349.6M398 368V369.4M402.9 383.6V385M409.3 400.8V402.3M414.5 416.3V418.1M420.2 423.1V425M425.7 430.8V433.2M430.7 431.5V433.5M435.3 440.2V442.9M442.8 447.7V450.6M446.8 454.2V457.7M452.8 455.6V460.5M459.4 455.8V461.7M464.4 460.9V466M470.1 463.6V469.9M476.3 467.1V474.1M480.7 470.5V481.3M487.6 475.8V487.3M492.3 472.7V482.6M498.7 477.6V491.6M505.3 482V508.6M510.8 483.1V505M516.6 478.5V508.4M521.7 491.4V530.9M528.5 482.6V506.5M534.2 476.2V501.1" stroke="#f55d5d" fill="none" stroke-width="0.85"/>
<path d="M219.2 92.1 224.5 95.9 228.7 97.8 233.5 98.7 239.4 102.4 243.9 101.7 249.2 106.6 253.8 107.9 258.6 108.9 263.9 112.5 269 113.1 274.2 115.9 279.3 119.8 284.3 123.2 290 128 294.6 130.3 299.2 136.6 305.6 146.7 311.4 152.9 316.6 162.2 321.8 166.9 326.6 173.2 331.8 183.9 336.9 191.9 343 208.1 348.5 227.8 354.4 254.5 360.2 286.5 364.6 314.1 370.4 334.7 375.6 339 381.5 337.9 386.9 342 392.1 348.7 398 368.4 402.9 384 409.3 401.2 414.5 416.9 420.2 423.7 425.7 431.6 430.7 432.3 435.3 440.9 442.8 448.5 446.8 455 452.8 456.9 459.4 457.7 464.4 462.3 470.1 465.6 476.3 469.1 480.7 472.5 487.6 479.2 492.3 475.9 498.7 482.1 505.3 489.1 510.8 487.4 516.6 489.9 521.7 500.8 528.5 490.4 534.2 483.9" fill="none" stroke="none" marker-start="url(#mA72)" marker-mid="url(#mA72)" marker-end="url(#mA72)"/>
<polyline points="219.2,96.1 221,96.6 222.8,97.1 224.6,97.7 226.4,98.2 228.2,98.7 230,99.2 231.8,99.7 233.6,100.3 235.4,100.8 237.2,101.4 239,102 240.8,102.5 242.6,103.1 244.5,103.7 246.3,104.3 248.1,105 249.9,105.6 251.8,106.2 253.6,106.9 255.4,107.6 257.3,108.3 259.1,109 261,109.8 262.8,110.6 264.7,111.4 266.5,112.2 268.4,113.1 270.2,114.1 272.1,115.1 274,116.1 275.9,117.3 277.7,118.6 279.6,119.9 281.5,121.3 283.4,122.7 285.3,124.2 287.2,125.8 289.1,127.3 291,129 292.9,130.7 294.8,132.5 296.7,134.5 298.6,136.5 300.5,138.6 302.5,140.9 304.4,143.5 306.3,146.3 308.2,149.1 310.2,151.9 312.1,154.6 314.1,157.3 316,160 317.9,162.7 319.9,165.4 321.8,168.1 323.8,170.8 325.7,173.5 327.7,176.2 329.6,179 331.6,182.1 333.6,185.4 335.5,189 337.5,192.9 339.5,197.4 341.4,202.6 343.4,208.9 345.4,215.9 347.4,223.4 349.4,231.3 351.5,239.7 353.5,249 355.5,259 357.5,270.1 359.5,282.8 361.6,295.7 363.6,308.7 365.6,319.6 367.6,328.8 369.6,332.8 371.5,334.9 373.5,335.5 375.4,336 377.4,336.5 379.4,337 381.3,337.6 383.3,338.3 385.3,339.5 387.3,341.4 389.3,344.7 391.3,349.2 393.3,354.2 395.3,359.8 397.3,366 399.3,372.5 401.3,380.1 403.3,385.7 405.3,390.5 407.3,395.2 409.3,400 411.3,405 413.3,409.9 415.3,414.6 417.3,418.7 419.3,422.1 421.3,424.5 423.3,426.1 425.3,427.9 427.3,430 429.4,432.6 431.4,435.4 433.4,438.6 435.4,442.1 437.5,445.5 439.5,448.7 441.5,451.2 443.6,452.8 445.6,453.6 447.7,454 449.7,454.6 451.8,455.6 453.8,457.2 455.9,459.3 457.9,461.3 460,462.8 462.1,463.5 464.1,463.7 466.2,464 468.3,464.8 470.4,466.2 472.5,468 474.5,469.3 476.6,469.9 478.7,470 480.9,470.5 482.9,471.8 485,473.4 487.2,474.5 489.3,474.9 491.4,475.2 493.5,476.1 495.6,477.5 497.7,478.6 499.9,479 502,479.4 504.2,480.5 506.3,481.7 508.4,482.3 510.6,482.6 512.7,483.6 514.9,484.7 517,485.2 519.2,485.7 521.4,486.8 523.5,487.6 525.7,488 527.9,488.9 530.1,489.8 532.2,490.2 534.4,491" stroke="#111" fill="none" stroke-width="1.6"/>
<marker id="mA76" markerUnits="userSpaceOnUse" markerWidth="12" markerHeight="12" refX="6" refY="6" overflow="visible"><circle cx="6" cy="6" r="4.6" fill="none" stroke="#f55252" stroke-width="0.85"/></marker>
<path d="M212.8 87.1V92.3M218 93.3V97.9M223.2 97.8V100.5M227.9 99.5V102.5M232.6 100.9V102.8M238.3 104.1V106.3M243 104.5V105.6M248.2 108.4V109.5M252.9 109.6V110.7M258.2 112.7V113.4M262.9 112.8V113.6M267.9 114.8V115.6M273.2 120.4V121.4M278.1 123.4V124.2M284 128.7V129.4M289.1 132.2V132.9M294.8 139.9V140.5M299.9 146V146.7M304.5 153.7V154.5M310.3 161.3V162.2M315.8 168.9V169.6M319.9 173.4V174M326.2 183.3V184.1M331.7 194.3V195.3M337 207.3V207.9M343.3 230.4V231.2M348.1 252.5V253.2M354.2 287V287.8M359 315.5V316.1M364.9 335.9V336.9M370.2 338.2V339.5M376.2 337.6V338.5M380.9 342.1V343.1M386 351.5V352.6M392.8 368.9V370.1M396.9 385.8V387.6M403.2 400.1V401.8M408.3 415.1V417.5M414.1 422.9V425.2M419.9 431.6V434.3M424.2 437.5V442.1M431.1 445.5V449.2M436.3 452.4V456.4M442.4 451.6V455M447.5 456.4V462.1M453.9 464.6V471.4M459.1 464.8V472.8M464.3 467.8V475.4M470.6 468.3V476.3M476.3 472.5V483.4M481.8 477V487M487.3 476.6V487.8M493.2 473.4V483.9M499 482.8V497.4M505 479.1V502.5M510.7 497.6V533.3M516.8 481.7V502.1M523 480.6V501.2M528.6 494.5V529.1" stroke="#f55252" fill="none" stroke-width="0.85"/>
<path d="M212.8 88.8 218 94.9 223.2 98.6 227.9 100.1 232.6 101.5 238.3 104.6 243 104.9 248.2 108.7 252.9 109.9 258.2 112.9 262.9 113.1 267.9 115.1 273.2 120.6 278.1 123.6 284 129 289.1 132.4 294.8 140.1 299.9 146.2 304.5 153.9 310.3 161.5 315.8 169.1 319.9 173.7 326.2 183.5 331.7 194.5 337 207.5 343.3 230.7 348.1 252.8 354.2 287.3 359 315.7 364.9 336.2 370.2 338.5 376.2 338 380.9 342.4 386 351.9 392.8 369.2 396.9 386.3 403.2 400.5 408.3 415.6 414.1 423.6 419.9 432.4 424.2 438.4 431.1 446.4 436.3 453.7 442.4 452.6 447.5 458.4 453.9 466.3 459.1 467.5 464.3 470.1 470.6 470.7 476.3 476.2 481.8 480.2 487.3 480.4 493.2 477.4 499 486.3 505 484.1 510.7 505.3 516.8 488.7 523 486.3 528.6 506.3" fill="none" stroke="none" marker-start="url(#mA76)" marker-mid="url(#mA76)" marker-end="url(#mA76)"/>
<polyline points="213.1,96.9 214.9,97.5 216.7,98 218.5,98.5 220.3,99 222.1,99.5 223.9,100.1 225.7,100.6 227.5,101.1 229.3,101.7 231.1,102.3 232.9,102.8 234.7,103.4 236.6,104 238.4,104.6 240.2,105.2 242,105.8 243.9,106.5 245.7,107.1 247.5,107.8 249.4,108.5 251.2,109.2 253.1,109.9 254.9,110.7 256.8,111.5 258.6,112.3 260.5,113.1 262.4,114 264.2,115 266.1,115.9 268,117 269.8,118.2 271.7,119.5 273.6,120.8 275.5,122.2 277.4,123.6 279.3,125.1 281.2,126.7 283.1,128.2 285,129.9 286.9,131.6 288.8,133.4 290.7,135.3 292.6,137.4 294.6,139.5 296.5,141.8 298.4,144.4 300.4,147.2 302.3,150 304.2,152.8 306.2,155.6 308.1,158.3 310.1,160.9 312,163.7 314,166.4 315.9,169.1 317.9,171.8 319.8,174.5 321.8,177.2 323.7,180 325.7,183.1 327.7,186.4 329.7,190 331.6,193.9 333.6,198.4 335.6,203.6 337.6,209.8 339.6,216.8 341.6,224.4 343.6,232.2 345.7,240.7 347.7,250 349.7,260 351.7,271.1 353.8,283.8 355.8,296.8 357.8,309.8 359.9,320.9 361.9,330.2 363.9,334.4 365.8,336.6 367.8,337.2 369.8,337.7 371.7,338.2 373.7,338.7 375.7,339.3 377.7,340 379.6,341.2 381.6,343.1 383.6,346.3 385.6,350.9 387.6,355.9 389.6,361.5 391.6,367.7 393.7,374.3 395.7,382 397.7,387.6 399.7,392.5 401.7,397.2 403.7,402.1 405.7,407 407.7,412 409.7,416.8 411.7,420.9 413.7,424.4 415.8,426.8 417.8,428.4 419.8,430.2 421.8,432.4 423.9,434.9 425.9,437.8 427.9,441.1 429.9,444.6 432,448.1 434,451.3 436,453.8 438.1,455.4 440.1,456.2 442.2,456.7 444.3,457.2 446.3,458.3 448.4,459.9 450.4,462 452.5,464.1 454.6,465.6 456.6,466.3 458.7,466.5 460.8,466.7 462.9,467.6 465,469.1 467.1,470.8 469.1,472.2 471.2,472.7 473.4,472.9 475.5,473.4 477.6,474.7 479.7,476.3 481.8,477.4 483.9,477.8 486,478.1 488.2,479.1 490.3,480.5 492.4,481.6 494.5,481.9 496.7,482.4 498.8,483.5 501,484.7 503.1,485.3 505.3,485.6 507.4,486.6 509.6,487.8 511.7,488.2 513.9,488.7 516.1,489.9 518.2,490.6 520.4,491 522.6,492 524.8,492.9 527,493.2 529.2,494.1" stroke="#111" fill="none" stroke-width="1.6"/>
<marker id="mA80" markerUnits="userSpaceOnUse" markerWidth="12" markerHeight="12" refX="6" refY="6" overflow="visible"><circle cx="6" cy="6" r="4.6" fill="none" stroke="#f54646" stroke-width="0.85"/></marker>
<path d="M207.4 94.7V101.2M212.9 95.1V100.7M218.5 98.7V101.7M222.7 98.7V102.1M228.2 103V104.6M233.1 104.5V106.9M237.6 104.2V105.8M242.8 109.8V111M248.1 110.7V111.5M252.5 111V111.9M258.3 115.1V115.8M263.4 117.5V118.2M268.3 121.7V122.7M273.5 123.7V124.4M278.4 130.5V131.3M283.5 135.6V136.2M289 139V139.7M295.7 147.4V148.1M300.1 154.9V155.5M305.4 163.5V164.2M310.6 168.7V169.4M316.3 177V177.8M322.1 185.7V186.4M326.7 195V195.8M332.3 209.2V210.1M338.2 228.9V229.8M343.6 252.9V253.7M349.4 286.3V286.9M353.8 314.2V315.1M359.9 335.6V336.4M366.4 337.3V338.2M370.7 342.9V344M376.7 342.6V343.6M382.5 355.7V357M387.8 372.2V373.8M393.3 389.5V390.9M398.2 400.6V402M403.1 413.6V415.4M409.5 425.9V428.1M415.4 431.7V434.1M420.7 439.7V442.8M426.4 447V450.2M431.6 455.3V458.3M437.2 457.2V460.9M443 458.5V463.3M449 464V469.1M455.7 467.1V472.8M460.3 468.3V474.6M465.8 469.7V478.1M471.8 472.4V480.2M477.9 471.5V482.3M483.5 481.2V500M489.2 485.9V500.6M494.6 493.8V521.3M500.9 480.3V497.8M507.3 488V507.4M513.3 489.7V533.8M518.5 478.2V498.4M525.4 478.7V509" stroke="#f54646" fill="none" stroke-width="0.85"/>
<path d="M207.4 96.7 212.9 96.5 218.5 99.8 222.7 99.5 228.2 103.6 233.1 105 237.6 104.7 242.8 110.2 248.1 110.9 252.5 111.2 258.3 115.4 263.4 117.8 268.3 121.9 273.5 123.9 278.4 130.7 283.5 135.9 289 139.3 295.7 147.8 300.1 155.1 305.4 163.7 310.6 169 316.3 177.1 322.1 186 326.7 195.2 332.3 209.5 338.2 229.2 343.6 253.2 349.4 286.6 353.8 314.4 359.9 335.9 366.4 337.5 370.7 343.2 376.7 342.8 382.5 356.1 387.8 372.8 393.3 390.1 398.2 401.1 403.1 414.1 409.5 426.6 415.4 432.3 420.7 440.6 426.4 448 431.6 456.1 437.2 458.6 443 460 449 465.8 455.7 469.1 460.3 470.1 465.8 472.5 471.8 475 477.9 474.7 483.5 484.9 489.2 489.4 494.6 499.2 500.9 483.8 507.3 493 513.3 496 518.5 483.1 525.4 488.7" fill="none" stroke="none" marker-start="url(#mA80)" marker-mid="url(#mA80)" marker-end="url(#mA80)"/>
<polyline points="208.1,97.6 209.9,98.2 211.7,98.7 213.5,99.2 215.3,99.7 217.1,100.2 218.9,100.8 220.7,101.3 222.5,101.8 224.3,102.4 226.1,103 228,103.6 229.8,104.1 231.6,104.7 233.4,105.3 235.2,105.9 237.1,106.5 238.9,107.2 240.8,107.8 242.6,108.5 244.4,109.2 246.3,109.9 248.1,110.7 250,111.4 251.8,112.2 253.7,113 255.6,113.9 257.4,114.8 259.3,115.7 261.2,116.7 263,117.7 264.9,118.9 266.8,120.2 268.7,121.5 270.6,122.9 272.5,124.4 274.4,125.9 276.3,127.4 278.2,129 280.1,130.6 282,132.3 283.9,134.2 285.8,136.1 287.8,138.1 289.7,140.2 291.6,142.5 293.6,145.1 295.5,147.9 297.4,150.8 299.4,153.6 301.3,156.3 303.3,159 305.2,161.7 307.2,164.4 309.1,167.2 311.1,169.9 313.1,172.6 315,175.3 317,178 318.9,180.9 320.9,183.9 322.9,187.3 324.9,190.8 326.8,194.7 328.8,199.2 330.8,204.4 332.8,210.6 334.8,217.6 336.9,225.2 338.9,233.1 340.9,241.5 342.9,250.8 345,260.9 347,271.9 349.1,284.7 351.1,297.7 353.2,310.7 355.2,322 357.2,331.4 359.2,335.7 361.2,337.9 363.1,338.6 365.1,339.1 367.1,339.6 369.1,340.1 371,340.7 373,341.4 375,342.6 377,344.5 379,347.7 381,352.3 383,357.3 385,362.9 387,369.2 389.1,375.8 391.1,383.5 393.1,389.2 395.1,394.1 397.1,398.8 399.1,403.7 401.1,408.7 403.2,413.8 405.2,418.6 407.2,422.8 409.2,426.2 411.2,428.6 413.3,430.3 415.3,432.1 417.3,434.3 419.3,436.9 421.4,439.8 423.4,443.1 425.4,446.6 427.5,450.2 429.5,453.4 431.6,455.9 433.6,457.6 435.7,458.4 437.7,458.8 439.8,459.4 441.9,460.5 443.9,462.2 446,464.3 448,466.4 450.1,467.9 452.2,468.6 454.3,468.7 456.4,469 458.5,469.8 460.5,471.4 462.6,473.2 464.7,474.5 466.8,475 468.9,475.2 471.1,475.7 473.2,477.1 475.3,478.7 477.4,479.8 479.5,480.2 481.6,480.5 483.8,481.5 485.9,483 488,484 490.2,484.3 492.3,484.8 494.5,486 496.6,487.2 498.8,487.7 500.9,488.1 503.1,489.1 505.2,490.3 507.4,490.7 509.6,491.2 511.7,492.4 513.9,493.1 516.1,493.5 518.3,494.5 520.5,495.4 522.7,495.7 524.9,496.7" stroke="#111" fill="none" stroke-width="1.6"/>
<marker id="mA84" markerUnits="userSpaceOnUse" markerWidth="12" markerHeight="12" refX="6" refY="6" overflow="visible"><circle cx="6" cy="6" r="4.6" fill="none" stroke="#f53838" stroke-width="0.85"/></marker>
<path d="M202.1 89.4V95.7M206.8 97.3V102.6M211.8 99.6V102.9M216.5 101.3V104.3M222.5 104.1V106M227 105.5V107.4M232 108.5V110M238 109.9V110.9M241.8 110.8V111.8M247.3 113.5V114.4M252.6 115.8V116.6M257.6 119.6V120.5M262.7 122.5V123.2M267.3 126.3V127.3M272.8 129.1V129.9M278 134.8V135.5M283.1 140.1V141M289 147V147.7M293.6 153.2V154M300 164.4V165.1M305.4 170.5V171.1M310.3 178.3V179.2M315.8 186.6V187.3M321.4 196.5V197.3M326.2 209.2V209.9M332.2 229V229.9M338.3 256.5V257.1M343.4 286.4V287.3M349.7 324.3V325.1M354.9 339.2V340.3M359.9 339.3V340.1M365.3 340.6V341.5M371.3 342.8V343.8M376.4 357.8V359.1M382.3 373.4V374.8M386.6 385V387M392.9 403.1V405.1M397.9 415V416.8M404.3 428.1V430.5M409.7 433.7V436.8M415.8 437.3V440.6M420.5 451.2V455M427.1 453.7V457.5M432.6 460.6V464.8M437.5 457V462.5M444 492.9V502.7M449.7 469.9V477M454.5 476.4V484.7M460.8 475.1V483.9M466.6 474.4V481.5M472.5 478.8V489.8M478.1 479.7V490.7M484.5 484.7V501.2M489.8 482.2V495.7M496 482.9V499.2M501.8 473.9V487.6M507.4 494.1V531M513 483.2V502.2M520.1 480.7V510.4" stroke="#f53838" fill="none" stroke-width="0.85"/>
<path d="M202.1 91.2 206.8 98.6 211.8 100.9 216.5 102.6 222.5 104.6 227 105.9 232 108.9 238 110.3 241.8 111.1 247.3 113.8 252.6 116.1 257.6 119.9 262.7 122.7 267.3 126.7 272.8 129.3 278 135 283.1 140.4 289 147.2 293.6 153.5 300 164.5 305.4 170.7 310.3 178.6 315.8 186.8 321.4 196.7 326.2 209.5 332.2 229.2 338.3 256.6 343.4 286.6 349.7 324.5 354.9 339.5 359.9 339.6 365.3 340.9 371.3 343.2 376.4 358.3 382.3 373.8 386.6 385.5 392.9 403.5 397.9 415.7 404.3 429 409.7 434.6 415.8 438.2 420.5 452.2 427.1 455 432.6 461.7 437.5 459 444 495.7 449.7 471.8 454.5 478.1 460.8 478.1 466.6 476.8 472.5 481.7 478.1 482.9 484.5 489.3 489.8 485.6 496 486.5 501.8 477.8 507.4 501.3 513 488.7 520.1 486" fill="none" stroke="none" marker-start="url(#mA84)" marker-mid="url(#mA84)" marker-end="url(#mA84)"/>
<polyline points="202.2,98.5 203.9,99 205.7,99.5 207.5,100 209.3,100.6 211.1,101.1 212.9,101.6 214.8,102.1 216.6,102.7 218.4,103.3 220.2,103.8 222,104.4 223.8,105 225.7,105.6 227.5,106.2 229.3,106.8 231.2,107.4 233,108 234.8,108.7 236.7,109.4 238.5,110.1 240.4,110.8 242.2,111.5 244.1,112.3 245.9,113.1 247.8,113.9 249.7,114.7 251.5,115.6 253.4,116.6 255.3,117.5 257.2,118.6 259,119.8 260.9,121 262.8,122.4 264.7,123.8 266.6,125.2 268.5,126.7 270.4,128.3 272.3,129.8 274.3,131.5 276.2,133.2 278.1,135 280,137 281.9,139 283.9,141.1 285.8,143.4 287.7,146 289.7,148.8 291.6,151.6 293.6,154.5 295.5,157.2 297.5,159.9 299.5,162.7 301.4,165.4 303.4,168.1 305.3,170.9 307.3,173.6 309.3,176.3 311.2,179 313.2,181.9 315.2,184.9 317.1,188.3 319.1,191.8 321.1,195.7 323.1,200.2 325.1,205.4 327.1,211.6 329.1,218.5 331.2,226.1 333.2,234 335.2,242.5 337.3,251.8 339.3,261.8 341.4,272.9 343.4,285.6 345.5,298.7 347.6,311.8 349.6,323.2 351.6,332.8 353.6,337.3 355.6,339.5 357.6,340.2 359.6,340.7 361.5,341.3 363.5,341.8 365.5,342.4 367.5,343 369.5,344.3 371.5,346.1 373.5,349.3 375.5,353.9 377.5,358.9 379.5,364.6 381.6,370.9 383.6,377.5 385.6,385.3 387.6,391 389.6,396 391.7,400.8 393.7,405.7 395.7,410.8 397.7,415.8 399.8,420.7 401.8,424.9 403.8,428.4 405.8,430.8 407.9,432.6 409.9,434.4 411.9,436.6 414,439.2 416,442.2 418,445.5 420.1,449.1 422.1,452.7 424.2,456 426.2,458.5 428.3,460.2 430.3,461 432.4,461.4 434.5,462 436.5,463.1 438.6,464.8 440.7,467 442.7,469.1 444.8,470.6 446.9,471.3 449,471.4 451.1,471.7 453.2,472.6 455.3,474.2 457.4,476 459.5,477.3 461.6,477.8 463.7,478 465.8,478.6 467.9,479.9 470,481.6 472.1,482.7 474.3,483 476.4,483.3 478.5,484.4 480.7,485.9 482.8,486.9 484.9,487.2 487.1,487.7 489.2,488.9 491.4,490.1 493.6,490.6 495.7,491 497.9,492.1 500,493.2 502.2,493.6 504.4,494.2 506.6,495.4 508.8,496.1 510.9,496.5 513.1,497.5 515.3,498.3 517.5,498.7 519.7,499.7" stroke="#111" fill="none" stroke-width="1.6"/>
<marker id="mA88" markerUnits="userSpaceOnUse" markerWidth="12" markerHeight="12" refX="6" refY="6" overflow="visible"><circle cx="6" cy="6" r="4.6" fill="none" stroke="#f52929" stroke-width="0.85"/></marker>
<path d="M196.6 96.2V101.7M201.4 98.5V103.4M205.5 98.8V101.4M210.4 102.1V104.5M215.6 104.3V106M220.6 104.9V106.3M225.6 106.5V107.8M230.1 108.7V109.7M234.8 111.1V112.2M239.8 115.1V116.1M245.2 116.8V117.6M250.9 117.7V118.6M255.3 122V122.7M260.8 125.1V126.2M265.6 128.6V129.3M271 136.7V137.6M276.6 140.1V140.9M281.7 145.7V146.5M286.7 153.9V154.6M292.1 160.3V160.9M296.8 168.2V168.8M301.9 175.2V175.9M307.9 183.4V184.1M312.8 191V191.7M318.5 204.4V205.3M323.9 220.7V221.6M329.5 243.4V244.1M335.8 274.9V275.7M340.9 307.7V308.7M347.1 337.6V338.7M351.7 341.6V342.4M356.9 344.8V345.8M362.2 346.2V347.2M368.6 352.4V353.7M373.5 364.3V365.7M379.3 383.1V384.4M384.7 400.2V402.4M389.7 412V413.9M395 423.1V424.4M400.1 431.6V433.7M405.9 438.7V440.7M412 442.8V446.8M417.4 458.4V461.9M422.3 461.6V465.7M427.8 462.9V466.4M433.8 468.9V473.8M439.6 469.9V475M445.5 469.2V473.9M451.6 474.5V480.8M455.7 477.6V487.9M461.5 476.5V486.2M467.2 484.7V495.5M473.7 481.4V496.2M479.7 481.4V497.2M485.2 482.8V496.8M490.8 500.2V531.2M496.4 494.4V523M502.5 488.3V508.2M508.4 490.1V508.5M514.7 492.5V527" stroke="#f52929" fill="none" stroke-width="0.85"/>
<path d="M196.6 97.7 201.4 100.1 205.5 99.9 210.4 102.8 215.6 104.9 220.6 105.3 225.6 107 230.1 109 234.8 111.3 239.8 115.5 245.2 117 250.9 118 255.3 122.2 260.8 125.3 265.6 128.8 271 137 276.6 140.4 281.7 145.9 286.7 154.1 292.1 160.5 296.8 168.3 301.9 175.4 307.9 183.6 312.8 191.2 318.5 204.7 323.9 221 329.5 243.6 335.8 275.2 340.9 308.1 347.1 337.9 351.7 341.9 356.9 345.1 362.2 346.5 368.6 352.9 373.5 364.7 379.3 383.5 384.7 400.6 389.7 412.5 395 423.6 400.1 432.3 405.9 439.2 412 443.7 417.4 459.6 422.3 462.9 427.8 463.8 433.8 470.2 439.6 471.5 445.5 470.2 451.6 476.6 455.7 480.3 461.5 479.3 467.2 487.2 473.7 485.5 479.7 486.2 485.2 486.9 490.8 508.3 496.4 502.2 502.5 495.3 508.4 495 514.7 502.4" fill="none" stroke="none" marker-start="url(#mA88)" marker-mid="url(#mA88)" marker-end="url(#mA88)"/>
<polyline points="196,99.3 197.8,99.8 199.6,100.4 201.4,100.9 203.2,101.4 205,101.9 206.9,102.5 208.7,103 210.5,103.6 212.3,104.1 214.1,104.7 215.9,105.3 217.8,105.9 219.6,106.4 221.4,107 223.3,107.7 225.1,108.3 226.9,108.9 228.8,109.6 230.6,110.3 232.5,111 234.3,111.7 236.2,112.4 238,113.2 239.9,114 241.8,114.8 243.6,115.6 245.5,116.5 247.4,117.5 249.3,118.4 251.1,119.5 253,120.7 254.9,121.9 256.8,123.2 258.7,124.6 260.6,126.1 262.5,127.6 264.4,129.1 266.4,130.7 268.3,132.4 270.2,134.1 272.1,135.9 274,137.9 276,139.9 277.9,142 279.8,144.3 281.8,146.9 283.7,149.6 285.7,152.5 287.7,155.4 289.6,158.2 291.6,160.9 293.5,163.6 295.5,166.3 297.5,169.1 299.4,171.9 301.4,174.6 303.4,177.3 305.3,180 307.3,182.9 309.3,186 311.3,189.3 313.3,192.8 315.3,196.7 317.3,201.2 319.3,206.3 321.3,212.5 323.3,219.5 325.4,227.1 327.4,235 329.4,243.5 331.5,252.7 333.5,262.8 335.6,273.8 337.7,286.6 339.8,299.8 341.8,313 343.9,324.5 345.9,334.2 347.9,338.9 349.9,341.2 351.9,341.9 353.9,342.4 355.9,342.9 357.8,343.5 359.8,344.1 361.8,344.7 363.8,345.9 365.8,347.8 367.8,351 369.9,355.6 371.9,360.6 373.9,366.4 375.9,372.6 378,379.3 380,387.2 382,392.9 384.1,397.9 386.1,402.8 388.1,407.7 390.1,412.8 392.2,418 394.2,422.8 396.2,427.1 398.3,430.7 400.3,433.1 402.3,434.9 404.4,436.7 406.4,438.9 408.5,441.6 410.5,444.6 412.5,448 414.6,451.6 416.6,455.3 418.7,458.6 420.7,461.2 422.8,462.8 424.9,463.6 426.9,464.1 429,464.7 431.1,465.8 433.1,467.5 435.2,469.7 437.3,471.9 439.4,473.4 441.5,474.1 443.6,474.2 445.7,474.5 447.8,475.4 449.9,477 452,478.9 454.1,480.2 456.2,480.7 458.3,480.8 460.4,481.4 462.5,482.8 464.6,484.5 466.8,485.6 468.9,485.9 471,486.3 473.2,487.4 475.3,488.9 477.5,489.9 479.6,490.2 481.8,490.7 483.9,491.9 486.1,493.1 488.2,493.6 490.4,494 492.6,495.2 494.7,496.3 496.9,496.6 499.1,497.3 501.3,498.5 503.5,499.1 505.7,499.6 507.9,500.7 510,501.4 512.3,501.8 514.5,502.9" stroke="#111" fill="none" stroke-width="1.6"/>
<marker id="mA92" markerUnits="userSpaceOnUse" markerWidth="12" markerHeight="12" refX="6" refY="6" overflow="visible"><circle cx="6" cy="6" r="4.6" fill="none" stroke="#f31d1d" stroke-width="0.85"/></marker>
<path d="M186.4 97.3V105.6M191.3 97.4V102.2M195.8 100.2V103.1M200.4 104.4V106.6M205.7 105.5V107.4M210.4 108.3V110.3M214.9 109.5V110.6M220.7 111.7V113M225.2 112.3V113.4M230.3 115.8V116.8M235.8 117.5V118.1M240.6 120.9V121.5M245.5 122.8V123.6M250.3 126.3V127.2M256.8 133V133.8M260.6 135.9V136.8M266.6 141.4V142.3M271.7 146.8V147.6M276.5 154.6V155.1M282.2 162V162.8M287.6 170.4V171M293.1 178.2V178.8M298.4 186.6V187.2M304.2 197.3V198M309.4 207.7V208.4M314.1 221.5V222.4M320.7 247.5V248.4M325.8 273.6V274.1M330.6 301.7V302.3M337.6 338.6V339.7M342 346.2V347.2M347.5 344.7V346M353.2 347.5V348.6M358.8 354.3V355.6M364.1 367.8V369.1M370.2 387V388.6M374.5 398.9V400.1M380.3 415V416.2M385.9 426.8V429.4M392.2 439.7V441.7M397.7 443.3V445.9M402 447.2V449.4M408.5 457.9V461.3M413.5 467V470.6M418.1 465.2V469.9M425.2 472.5V477.1M429.6 500V509.4M435.2 479.4V485.3M442.1 470.2V475.3M447.4 529.3V562.1M453 485.7V495.5M458.4 489.7V502.4M464.8 484V498.3M470.2 482.2V491.9M476.2 497.7V522.2M482 493.3V513.1M487.9 500.4V527M493.4 494.7V523.2M499.5 504V538.5M506.3 487.8V511.6" stroke="#f31d1d" fill="none" stroke-width="0.85"/>
<path d="M186.4 100.1 191.3 98.7 195.8 101.2 200.4 105.2 205.7 106.2 210.4 109 214.9 109.8 220.7 112.1 225.2 112.6 230.3 116.3 235.8 117.7 240.6 121.1 245.5 123.1 250.3 126.5 256.8 133.3 260.6 136.2 266.6 141.7 271.7 147 276.5 154.7 282.2 162.3 287.6 170.6 293.1 178.4 298.4 186.8 304.2 197.5 309.4 207.9 314.1 221.7 320.7 247.7 325.8 273.8 330.6 301.9 337.6 339.1 342 346.4 347.5 345.1 353.2 347.8 358.8 354.6 364.1 368.2 370.2 387.4 374.5 399.2 380.3 415.3 385.9 427.5 392.2 440.4 397.7 444 402 447.8 408.5 459 413.5 468.2 418.1 466.4 425.2 474 429.6 502.8 435.2 480.9 442.1 472 447.4 539.5 453 488.1 458.4 493 464.8 487 470.2 485.3 476.2 503.3 482 497.9 487.9 505.1 493.4 501.7 499.5 510 506.3 492.8" fill="none" stroke="none" marker-start="url(#mA92)" marker-mid="url(#mA92)" marker-end="url(#mA92)"/>
<polyline points="186.1,100.7 187.9,101.2 189.7,101.8 191.5,102.3 193.3,102.8 195.1,103.3 196.9,103.9 198.7,104.4 200.5,105 202.4,105.5 204.2,106.1 206,106.7 207.8,107.3 209.7,107.9 211.5,108.5 213.4,109.1 215.2,109.7 217,110.4 218.9,111 220.7,111.7 222.6,112.4 224.5,113.1 226.3,113.9 228.2,114.6 230,115.4 231.9,116.2 233.8,117.1 235.7,118 237.5,118.9 239.4,119.9 241.3,120.9 243.2,122.1 245.1,123.3 247,124.7 248.9,126.1 250.8,127.5 252.7,129 254.7,130.6 256.6,132.2 258.5,133.8 260.4,135.6 262.4,137.4 264.3,139.3 266.2,141.3 268.2,143.5 270.1,145.7 272.1,148.3 274,151.1 276,154 278,156.9 279.9,159.7 281.9,162.4 283.9,165.2 285.8,167.9 287.8,170.7 289.8,173.5 291.8,176.2 293.7,179 295.7,181.7 297.7,184.6 299.7,187.6 301.7,191 303.7,194.5 305.7,198.4 307.7,202.8 309.7,207.9 311.8,214.1 313.8,221 315.8,228.6 317.9,236.6 320,245.1 322,254.4 324.1,264.5 326.2,275.5 328.3,288.2 330.4,301.6 332.5,314.8 334.6,326.5 336.6,336.4 338.6,341.5 340.6,343.9 342.6,344.7 344.6,345.2 346.6,345.7 348.6,346.3 350.6,346.9 352.6,347.5 354.6,348.7 356.6,350.6 358.6,353.7 360.6,358.4 362.7,363.4 364.7,369.2 366.8,375.5 368.8,382.2 370.9,390.2 372.9,396 374.9,401.1 377,406 379,411 381.1,416.2 383.1,421.4 385.1,426.4 387.2,430.8 389.2,434.4 391.3,436.8 393.3,438.6 395.4,440.5 397.4,442.8 399.4,445.5 401.5,448.6 403.6,452 405.6,455.7 407.7,459.5 409.7,462.9 411.8,465.5 413.9,467.2 415.9,468 418,468.4 420.1,469 422.2,470.2 424.2,472 426.3,474.3 428.4,476.4 430.5,478 432.6,478.6 434.7,478.8 436.8,479 438.9,480 441,481.7 443.1,483.6 445.2,484.9 447.4,485.3 449.5,485.5 451.6,486.2 453.7,487.6 455.9,489.4 458,490.4 460.1,490.7 462.3,491.1 464.4,492.2 466.6,493.8 468.7,494.7 470.9,495 473,495.6 475.2,496.9 477.4,498.1 479.5,498.5 481.7,499 483.9,500.2 486.1,501.2 488.3,501.6 490.4,502.3 492.6,503.5 494.8,504.1 497,504.6 499.2,505.8 501.4,506.4 503.6,506.9 505.9,508" stroke="#111" fill="none" stroke-width="1.6"/>
<marker id="mA96" markerUnits="userSpaceOnUse" markerWidth="12" markerHeight="12" refX="6" refY="6" overflow="visible"><circle cx="6" cy="6" r="4.6" fill="none" stroke="#f21212" stroke-width="0.85"/></marker>
<path d="M176.3 95.2V103.3M182.7 100V105.4M187 100.8V102.9M192 103.4V106M196.7 105.4V107.9M202 108.2V110.1M206.2 110.1V111.9M211 112.8V113.8M216.4 113.6V114.3M221.3 116V117M226.7 117.9V118.7M232.1 122.4V123.1M236.7 124.6V125.3M242 127.9V128.6M247.1 133.5V134.3M252.4 136.9V137.6M258.1 143.3V144.2M263.2 150.4V151.3M268.6 158.9V159.5M274.5 164.9V166M279 173.1V173.8M284.4 178.6V179.4M289.8 186.9V187.6M294.8 195.8V196.5M300.6 207.1V207.9M305.4 222.4V223M311 244.8V245.4M317.2 274.9V275.6M322.9 310.6V311.5M328.5 339.1V339.9M334.2 348V348.7M339.5 349.9V350.8M345 349.9V350.9M350.1 356.8V358.7M355.4 366.3V367.6M361.2 390.6V391.9M366 400.7V402.2M372 417.8V419.3M377.6 434.5V436.6M382.7 437.8V440M388.5 446.7V449.2M394.1 448V450M399.3 464.9V468.7M405.7 471.6V476.5M410.9 502.2V513.3M417.2 478.2V483.9M422.1 474V478.7M428.6 480V486.6M433.5 489.1V497.4M439.4 487.5V496.7M444.6 492.6V504.5M450.2 487.5V496.5M457.2 488.5V499M462.4 492.6V505.4M468 504.8V523.9M474.5 499.4V520.5M479.6 492.5V507.1M486.3 507.7V546.5M492 516.1V581.8M498 513.1V569.9" stroke="#f21212" fill="none" stroke-width="0.85"/>
<path d="M176.3 97.9 182.7 101.1 187 101.5 192 104 196.7 106 202 108.5 206.2 110.6 211 113.1 216.4 113.7 221.3 116.3 226.7 118.1 232.1 122.6 236.7 124.8 242 128 247.1 133.8 252.4 137.1 258.1 143.5 263.2 150.7 268.6 159.1 274.5 165.2 279 173.2 284.4 178.7 289.8 187.1 294.8 196.1 300.6 207.3 305.4 222.6 311 245 317.2 275.1 322.9 310.9 328.5 339.3 334.2 348.2 339.5 350.3 345 350.3 350.1 357.3 355.4 366.7 361.2 391 366 401.2 372 418.2 377.6 435.1 382.7 438.4 388.5 447.4 394.1 448.6 399.3 466.2 405.7 472.4 410.9 504.9 417.2 479.4 422.1 475.2 428.6 482.1 433.5 491.5 439.4 489.6 444.6 496.1 450.2 490.1 457.2 491.7 462.4 496.3 468 509.5 474.5 504.4 479.6 496.9 486.3 515.1 492 524.5 498 525.6" fill="none" stroke="none" marker-start="url(#mA96)" marker-mid="url(#mA96)" marker-end="url(#mA96)"/>
<polyline points="177.1,101.9 178.9,102.5 180.7,103 182.5,103.5 184.3,104.1 186.1,104.6 187.9,105.1 189.8,105.7 191.6,106.2 193.4,106.8 195.2,107.4 197.1,108 198.9,108.6 200.7,109.2 202.6,109.8 204.4,110.4 206.3,111 208.1,111.7 210,112.3 211.8,113 213.7,113.7 215.5,114.4 217.4,115.2 219.3,115.9 221.2,116.7 223,117.5 224.9,118.4 226.8,119.3 228.7,120.2 230.6,121.2 232.5,122.2 234.4,123.4 236.3,124.6 238.2,126 240.1,127.4 242,128.8 243.9,130.4 245.8,131.9 247.8,133.5 249.7,135.1 251.6,136.9 253.6,138.7 255.5,140.6 257.4,142.7 259.4,144.8 261.3,147 263.3,149.6 265.3,152.4 267.2,155.3 269.2,158.2 271.2,161 273.2,163.8 275.1,166.5 277.1,169.3 279.1,172.1 281.1,174.9 283.1,177.7 285.1,180.4 287,183.2 289,186.1 291,189.1 293,192.5 295,196 297,199.9 299.1,204.3 301.1,209.4 303.1,215.5 305.2,222.4 307.3,230 309.3,238 311.4,246.5 313.5,255.8 315.6,265.9 317.7,276.9 319.8,289.7 321.9,303.1 324,316.4 326.1,328.4 328.2,338.5 330.2,343.8 332.2,346.3 334.2,347.1 336.2,347.7 338.2,348.2 340.2,348.8 342.2,349.4 344.2,350 346.2,351.2 348.2,353 350.3,356.1 352.3,360.8 354.4,365.9 356.4,371.7 358.5,378.1 360.5,384.8 362.6,392.9 364.7,398.8 366.7,403.9 368.8,408.9 370.8,414 372.9,419.3 374.9,424.5 377,429.6 379,434 381.1,437.7 383.1,440.2 385.2,442 387.2,443.9 389.3,446.2 391.3,449 393.4,452.1 395.5,455.7 397.5,459.5 399.6,463.3 401.7,466.7 403.7,469.4 405.8,471.1 407.9,471.9 410,472.3 412,473 414.1,474.2 416.2,476.1 418.3,478.4 420.4,480.6 422.5,482.1 424.6,482.7 426.7,482.9 428.8,483.2 430.9,484.2 433,486 435.2,487.9 437.3,489.2 439.4,489.6 441.5,489.7 443.7,490.4 445.8,492 447.9,493.7 450.1,494.7 452.2,495 454.4,495.4 456.5,496.7 458.7,498.2 460.8,499.1 463,499.4 465.2,500 467.3,501.4 469.5,502.6 471.7,502.9 473.9,503.5 476.1,504.8 478.2,505.8 480.4,506.1 482.6,506.9 484.8,508.1 487,508.6 489.2,509.2 491.5,510.4 493.7,511 495.9,511.5 498.1,512.7" stroke="#111" fill="none" stroke-width="1.6"/>
<marker id="mA100" markerUnits="userSpaceOnUse" markerWidth="12" markerHeight="12" refX="6" refY="6" overflow="visible"><circle cx="6" cy="6" r="4.6" fill="none" stroke="#ef0808" stroke-width="0.85"/></marker>
<path d="M168 93.9V100.2M172.1 101.3V104.8M177.6 103.5V106.3M183 107.5V109.9M186.8 106.6V108.2M193.1 110.1V111.6M197.7 112.9V114.5M203.4 113.4V114.4M207.9 114.9V115.7M212.6 118.9V119.9M218.2 120.6V121.7M222.6 123.6V124.6M227.7 125.4V126.1M233.9 130.8V131.7M238.8 134.3V135.2M243.7 138.9V139.7M248.8 143.2V143.9M254.8 150.2V150.9M259.2 156.2V156.8M265.1 165.8V166.7M270.5 173.2V173.9M276.7 182.3V183M280.9 188.1V188.9M287.4 198.9V199.6M292.7 212.1V212.8M297.2 226.3V227.4M303 247.4V248.2M308.8 277.9V278.7M314.4 310.5V311.4M320.1 340.4V341.1M325.9 349.3V350.1M330.2 349.8V350.8M335.8 352.8V354.1M342.3 358.5V359.6M348.3 375.1V376.4M352.6 386.8V388.4M358.5 405.1V406.5M364 420.7V422.1M369.3 435.3V437.2M375.8 445.5V447.8M381.8 449.1V452.4M386.2 455.6V459.5M392.2 512.3V521.8M397.5 474.2V478.8M403.3 476.5V480.8M408 481.5V486M415.3 490.9V496M420.3 483V488.4M426.1 486.1V494.5M431.7 488.9V495.4M438.3 498.1V508.4M442.8 489.4V498.2M448.5 497.8V509.4M454.4 497.1V511.2M461 508.1V530M467.3 508.8V534.8M473.3 503.1V521.7M479.1 504.9V532.8M483.4 512.4V545.1M491.2 502.8V535.3" stroke="#ef0808" fill="none" stroke-width="0.85"/>
<path d="M168 95.8 172.1 102.5 177.6 104.5 183 108 186.8 107.3 193.1 110.6 197.7 113.3 203.4 113.9 207.9 115.2 212.6 119.2 218.2 120.9 222.6 123.9 227.7 125.7 233.9 131 238.8 134.6 243.7 139.2 248.8 143.4 254.8 150.3 259.2 156.4 265.1 166.1 270.5 173.4 276.7 182.4 280.9 188.3 287.4 199.1 292.7 212.3 297.2 226.7 303 247.6 308.8 278.2 314.4 310.8 320.1 340.7 325.9 349.5 330.2 350 335.8 353.1 342.3 358.8 348.3 375.5 352.6 387.3 358.5 405.8 364 421.3 369.3 435.9 375.8 446.3 381.8 450 386.2 456.6 392.2 514.1 397.5 476 403.3 477.9 408 482.3 415.3 492.2 420.3 484.3 426.1 489.2 431.7 490.9 438.3 501.1 442.8 492.4 448.5 500.6 454.4 500.9 461 512.6 467.3 514.8 473.3 508.5 479.1 512.7 483.4 518.4 491.2 511.2" fill="none" stroke="none" marker-start="url(#mA100)" marker-mid="url(#mA100)" marker-end="url(#mA100)"/>
<polyline points="168.2,103.1 170,103.7 171.8,104.2 173.7,104.8 175.5,105.3 177.3,105.8 179.1,106.4 180.9,106.9 182.8,107.5 184.6,108.1 186.4,108.6 188.3,109.2 190.1,109.8 191.9,110.4 193.8,111 195.6,111.7 197.5,112.3 199.3,112.9 201.2,113.6 203.1,114.3 204.9,115 206.8,115.7 208.7,116.5 210.5,117.2 212.4,118 214.3,118.8 216.2,119.7 218,120.6 219.9,121.5 221.8,122.5 223.7,123.5 225.6,124.7 227.5,125.9 229.5,127.2 231.4,128.6 233.3,130.1 235.2,131.6 237.1,133.2 239.1,134.8 241,136.4 242.9,138.2 244.9,140 246.8,141.9 248.8,143.9 250.7,146.1 252.7,148.3 254.7,150.9 256.6,153.6 258.6,156.6 260.6,159.5 262.6,162.4 264.6,165.1 266.6,167.9 268.5,170.7 270.5,173.5 272.5,176.3 274.5,179.1 276.5,181.9 278.5,184.7 280.5,187.5 282.5,190.6 284.5,193.9 286.5,197.5 288.5,201.4 290.6,205.7 292.6,210.8 294.7,216.9 296.7,223.8 298.8,231.4 300.9,239.5 303,247.9 305.1,257.2 307.2,267.3 309.3,278.3 311.5,291.1 313.6,304.6 315.7,318 317.8,330.2 319.9,340.5 322,346.1 324,348.7 326,349.6 328,350.1 330,350.7 332,351.2 334,351.8 336,352.5 338,353.6 340,355.5 342.1,358.5 344.1,363.2 346.2,368.3 348.3,374.2 350.3,380.6 352.4,387.4 354.5,395.5 356.5,401.6 358.6,406.8 360.7,411.8 362.7,416.9 364.8,422.2 366.8,427.6 368.9,432.7 371,437.2 373,440.9 375.1,443.5 377.1,445.3 379.2,447.3 381.3,449.6 383.3,452.5 385.4,455.6 387.5,459.2 389.6,463.1 391.6,467 393.7,470.6 395.8,473.3 397.9,475 400,475.8 402,476.2 404.1,476.8 406.2,478.1 408.3,480 410.4,482.4 412.5,484.7 414.6,486.2 416.7,486.8 418.9,486.9 421,487.2 423.1,488.3 425.2,490.2 427.3,492.1 429.5,493.4 431.6,493.7 433.7,493.9 435.9,494.7 438,496.3 440.1,498.1 442.3,499 444.4,499.3 446.6,499.7 448.8,501 450.9,502.6 453.1,503.5 455.3,503.7 457.4,504.4 459.6,505.9 461.8,507 464,507.3 466.2,507.9 468.4,509.3 470.5,510.2 472.8,510.5 475,511.4 477.2,512.7 479.4,513.1 481.6,513.7 483.8,515 486,515.5 488.2,516.1 490.5,517.3" stroke="#111" fill="none" stroke-width="1.6"/>
<marker id="mA104" markerUnits="userSpaceOnUse" markerWidth="12" markerHeight="12" refX="6" refY="6" overflow="visible"><circle cx="6" cy="6" r="4.6" fill="none" stroke="#e50b0b" stroke-width="0.85"/></marker>
<path d="M160.8 103V109.7M164.9 97.4V100.9M170 106.2V109.6M175 106.9V109.7M180 108.9V111.2M184.8 110.3V111.6M190.4 114V115.2M195.1 113.8V115.4M200.8 117.3V118.2M204.9 118.9V119.7M210.6 122.3V123.1M215.6 124.6V125.5M220.7 129.3V130.2M225.6 130.8V131.6M231.4 135.1V135.9M235.5 139.6V140.4M240.9 146.2V147.1M246.8 152.1V152.9M253.3 159.6V160.3M257.8 166.7V167.2M262.3 173.9V174.6M268.9 184.4V185.2M273.8 188.7V189.4M278.6 197.2V197.9M283.8 209.9V210.6M290.1 227.5V228.5M295.5 248.3V249.1M301.8 277.7V278.3M306.7 308.9V309.7M313.2 344.2V345M318.8 349.6V350.5M323.5 351.7V352.5M328.8 356.3V357.5M335.2 361.4V362.7M339.9 372.1V373.3M346.2 393.9V395.5M352.3 412.1V413.8M357.1 423.9V425.3M363 438.5V440.2M368.4 446.7V448.8M373.8 452.6V455.6M379.8 464.1V468.2M385.8 468.8V471.2M390.8 477.1V481.7M396.7 477.8V484.3M401.8 484.2V488.5M407.6 525.2V540M413.6 489.8V496.8M419.2 493.3V501.2M424.9 493.7V501.1M430.2 492.6V500.3M436.7 500.5V512.5M442.3 531.5V561.3M448.6 507.8V522M453.7 503.3V519.3M459.5 524V564.7M466.1 499.8V510.1M471.8 509V532.8M477.7 516.6V555.9M483.7 513.9V556.8" stroke="#e50b0b" fill="none" stroke-width="0.85"/>
<path d="M160.8 104.8 164.9 98.4 170 107.4 175 107.7 180 109.5 184.8 110.8 190.4 114.3 195.1 114.3 200.8 117.6 204.9 119.1 210.6 122.6 215.6 124.8 220.7 129.5 225.6 131 231.4 135.3 235.5 139.7 240.9 146.5 246.8 152.4 253.3 159.9 257.8 166.8 262.3 174.2 268.9 184.7 273.8 188.9 278.6 197.4 283.8 210.1 290.1 227.6 295.5 248.6 301.8 277.9 306.7 309.1 313.2 344.5 318.8 350 323.5 352 328.8 356.6 335.2 361.8 339.9 372.4 346.2 394.4 352.3 412.8 357.1 424.4 363 439 368.4 447.3 373.8 453.3 379.8 465.4 385.8 469.6 390.8 478.3 396.7 479.6 401.8 485.3 407.6 528.3 413.6 491.5 419.2 495.2 424.9 496.2 430.2 494.6 436.7 503.9 442.3 539.8 448.6 511.8 453.7 507.5 459.5 531.3 466.1 503.3 471.8 516.6 477.7 527.8 483.7 524.1" fill="none" stroke="none" marker-start="url(#mA104)" marker-mid="url(#mA104)" marker-end="url(#mA104)"/>
<polyline points="160.4,104.2 162.2,104.8 164,105.3 165.8,105.9 167.7,106.4 169.5,106.9 171.3,107.5 173.1,108 175,108.6 176.8,109.2 178.6,109.8 180.5,110.3 182.3,110.9 184.2,111.5 186,112.2 187.9,112.8 189.7,113.4 191.6,114.1 193.4,114.7 195.3,115.4 197.2,116.1 199,116.8 200.9,117.6 202.8,118.4 204.7,119.1 206.5,120 208.4,120.8 210.3,121.7 212.2,122.7 214.1,123.6 216,124.7 217.9,125.8 219.8,127.1 221.7,128.4 223.7,129.8 225.6,131.2 227.5,132.8 229.5,134.3 231.4,135.9 233.3,137.6 235.3,139.3 237.2,141.1 239.2,143.1 241.1,145.1 243.1,147.2 245.1,149.5 247,152 249,154.8 251,157.7 253,160.6 255,163.5 257,166.3 259,169.1 260.9,171.9 262.9,174.7 264.9,177.6 266.9,180.4 268.9,183.2 270.9,186 272.9,188.8 275,191.9 277,195.2 279,198.8 281,202.7 283.1,207 285.1,212.1 287.2,218.1 289.3,225 291.3,232.6 293.4,240.7 295.5,249.2 297.7,258.5 299.8,268.6 301.9,279.6 304.1,292.3 306.2,305.9 308.4,319.4 310.5,331.8 312.6,342.2 314.7,348.1 316.7,350.8 318.7,351.8 320.7,352.3 322.7,352.8 324.7,353.4 326.7,354 328.7,354.7 330.7,355.8 332.8,357.7 334.8,360.7 336.9,365.4 339,370.5 341,376.4 343.1,382.8 345.2,389.7 347.3,397.9 349.4,404 351.4,409.2 353.5,414.3 355.6,419.5 357.6,424.9 359.7,430.3 361.8,435.5 363.9,440 365.9,443.8 368,446.4 370.1,448.3 372.1,450.2 374.2,452.6 376.3,455.5 378.3,458.8 380.4,462.4 382.5,466.4 384.6,470.3 386.7,473.9 388.8,476.7 390.9,478.4 392.9,479.2 395,479.6 397.1,480.3 399.2,481.6 401.3,483.6 403.4,486 405.5,488.3 407.7,489.8 409.8,490.4 411.9,490.5 414,490.9 416.1,492 418.3,493.9 420.4,495.9 422.5,497.1 424.7,497.5 426.8,497.6 429,498.4 431.1,500.1 433.2,501.9 435.4,502.8 437.6,503 439.7,503.6 441.9,504.9 444.1,506.6 446.2,507.4 448.4,507.6 450.6,508.4 452.8,509.9 454.9,510.9 457.1,511.2 459.3,511.9 461.5,513.3 463.7,514.2 465.9,514.5 468.1,515.5 470.4,516.7 472.6,517.1 474.8,517.8 477,519 479.2,519.5 481.5,520.2 483.7,521.3" stroke="#111" fill="none" stroke-width="1.6"/>
<marker id="mA108" markerUnits="userSpaceOnUse" markerWidth="12" markerHeight="12" refX="6" refY="6" overflow="visible"><circle cx="6" cy="6" r="4.6" fill="none" stroke="#dc0e0e" stroke-width="0.85"/></marker>
<path d="M153.7 98.8V105.5M158.3 103.5V108.4M163.3 107.7V111.3M168.2 109.3V112.3M173.4 109.8V111.5M177.7 110.9V112.3M183.3 114V115M187.9 115V116.1M193.7 117.6V118.5M198 119.1V119.9M203.4 123V124M208.1 124.5V125.3M213.9 128.6V129.5M219.3 130.9V131.5M223.1 136.7V137.5M229.5 142V142.8M234.5 146.2V147.3M240 153V153.7M245.1 160.1V160.9M250.3 166.3V167M256.5 176V176.8M261.5 182.7V183.5M266.4 188.2V189.2M272 200.2V200.9M277.2 207.7V208.2M283.9 231.3V232.1M289.3 252.1V253M294 272.8V273.6M300.3 309.2V309.9M306.4 344.5V345.3M312 351.1V352M317.3 358.4V359.3M322.4 355.6V356.7M328.3 360.7V361.9M333.8 372.9V374.5M339.2 391.1V392.4M345.3 410.5V412.3M350.3 421.9V423.4M355.7 438.8V441M361.5 449.4V452.3M368.3 454.8V457.6M372.9 462.4V466M378.7 477V481.9M384 479.9V483.4M390.2 480.2V485.4M395.2 482.6V486.8M400.8 488.2V493.8M406.8 491.8V499.6M412 533.1V557.6M418 500.6V510.8M424.8 538.3V566.1M430.4 514.2V526.4M436.2 526.3V547.9M441.7 508V526.6M448 508V524.9M453.1 507.6V526M459.6 539.4V580.3M465.8 510.1V540M471.3 502.6V517.5M477.3 527.7V616.1" stroke="#dc0e0e" fill="none" stroke-width="0.85"/>
<path d="M153.7 101.7 158.3 104.7 163.3 108.8 168.2 110.2 173.4 110.3 177.7 111.5 183.3 114.2 187.9 115.4 193.7 117.8 198 119.4 203.4 123.3 208.1 124.8 213.9 129 219.3 131.1 223.1 137 229.5 142.2 234.5 146.4 240 153.2 245.1 160.3 250.3 166.5 256.5 176.2 261.5 183 266.4 188.5 272 200.5 277.2 207.9 283.9 231.6 289.3 252.4 294 273.1 300.3 309.4 306.4 344.8 312 351.4 317.3 358.7 322.4 355.9 328.3 361.1 333.8 373.3 339.2 391.5 345.3 410.9 350.3 422.4 355.7 439.5 361.5 450.3 368.3 455.6 372.9 463.3 378.7 478 384 481.2 390.2 481.7 395.2 484.2 400.8 490.1 406.8 494.3 412 538.3 418 503.9 424.8 543 430.4 517.9 436.2 532.7 441.7 513.4 448 512.6 453.1 512.9 459.6 550.1 465.8 518.1 471.3 507.2 477.3 536.4" fill="none" stroke="none" marker-start="url(#mA108)" marker-mid="url(#mA108)" marker-end="url(#mA108)"/>
<polyline points="153.5,105.1 155.3,105.7 157.1,106.3 159,106.8 160.8,107.4 162.6,107.9 164.4,108.5 166.3,109 168.1,109.6 169.9,110.1 171.8,110.7 173.6,111.3 175.4,111.9 177.3,112.5 179.1,113.1 181,113.8 182.9,114.4 184.7,115.1 186.6,115.7 188.4,116.4 190.3,117.1 192.2,117.8 194.1,118.6 195.9,119.4 197.8,120.2 199.7,121 201.6,121.8 203.5,122.7 205.4,123.7 207.3,124.6 209.2,125.7 211.1,126.8 213,128 215,129.4 216.9,130.8 218.8,132.2 220.7,133.8 222.7,135.3 224.6,136.9 226.6,138.6 228.5,140.3 230.5,142.2 232.4,144.1 234.4,146.1 236.3,148.2 238.3,150.5 240.3,153 242.3,155.8 244.3,158.7 246.3,161.7 248.3,164.6 250.3,167.4 252.3,170.2 254.3,173 256.3,175.8 258.3,178.7 260.3,181.5 262.3,184.3 264.3,187.1 266.3,190 268.3,193.1 270.3,196.4 272.4,199.9 274.4,203.8 276.4,208.2 278.5,213.2 280.6,219.2 282.7,226.1 284.8,233.7 286.9,241.8 289,250.3 291.1,259.6 293.2,269.7 295.4,280.7 297.5,293.4 299.7,307.1 301.9,320.6 304,333.2 306.2,343.7 308.2,349.9 310.3,352.6 312.3,353.7 314.3,354.2 316.3,354.7 318.3,355.3 320.3,355.9 322.3,356.6 324.3,357.7 326.4,359.6 328.4,362.5 330.5,367.3 332.6,372.4 334.7,378.3 336.7,384.8 338.8,391.7 340.9,399.9 343,406.1 345.1,411.4 347.2,416.5 349.3,421.8 351.3,427.2 353.4,432.7 355.5,437.9 357.6,442.5 359.7,446.4 361.7,449 363.8,450.9 365.9,452.9 368,455.3 370,458.2 372.1,461.5 374.2,465.2 376.3,469.3 378.4,473.3 380.5,476.9 382.6,479.7 384.7,481.4 386.8,482.2 388.9,482.7 391,483.3 393.1,484.7 395.2,486.7 397.3,489.2 399.4,491.5 401.5,493 403.6,493.6 405.8,493.7 407.9,494.1 410,495.2 412.1,497.2 414.3,499.2 416.4,500.4 418.6,500.7 420.7,500.9 422.9,501.8 425,503.5 427.2,505.3 429.3,506.2 431.5,506.4 433.7,506.9 435.8,508.4 438,510 440.2,510.8 442.4,511 444.5,511.8 446.7,513.4 448.9,514.4 451.1,514.7 453.3,515.4 455.5,516.9 457.7,517.7 459.9,518 462.2,519.1 464.4,520.2 466.6,520.6 468.8,521.4 471,522.6 473.3,523 475.5,523.8 477.8,524.9" stroke="#111" fill="none" stroke-width="1.6"/>
<marker id="mA112" markerUnits="userSpaceOnUse" markerWidth="12" markerHeight="12" refX="6" refY="6" overflow="visible"><circle cx="6" cy="6" r="4.6" fill="none" stroke="#c11212" stroke-width="0.85"/></marker>
<path d="M146 100.6V105.6M149.9 103.1V108.3M154.9 105.8V108.8M160.4 110.9V113.3M165.2 110.7V113.1M169.6 113.1V114.9M175.7 114.5V116M180.7 117.6V118.6M185.3 117.8V118.8M190.9 122.3V123.4M195.1 122.1V123M200.9 125V125.8M205 128.7V129.4M210.9 132.8V133.7M216 138.4V139.4M221.1 141.1V141.9M227 147.5V148.4M232.2 153.9V154.7M238.2 161.7V162.4M243.2 168.3V169.1M247.5 175.5V176.3M253.6 183.3V184.2M258.8 191.4V192.2M264.5 199.5V200.2M270.7 214.8V215.6M276 230.3V231M281.7 254.3V255.1M287.5 279.3V280.1M293.3 314.2V314.9M299.2 345.6V346.3M304.7 356.4V357.2M309.7 357.5V358.4M315.2 359.6V360.9M320.5 361.8V362.7M326.5 375.1V376.4M332.1 396.7V398M338.1 414.3V415.9M343.7 428.7V430.7M349.9 444.8V447M354.8 450.1V451.9M360.1 455.9V458.2M364.8 463.3V466.3M372 475.5V478.3M377.1 527.5V538.8M383.2 488.9V492.7M389.1 487V492.3M394.1 520V530.3M400.5 493.3V497.6M404.9 500V508.6M412 497.9V505.8M417.4 506.8V518.4M422.8 502.6V512.3M429.6 504.1V516.4M435.4 503.2V516.3M441.6 517.5V535.9M446.5 512.9V543.7M453.4 520.2V545.8M458 518.1V537.6M465 518.6V547.6M470.5 556.7V690.1" stroke="#c11212" fill="none" stroke-width="0.85"/>
<path d="M146 102.2 149.9 104.6 154.9 107 160.4 111.6 165.2 111.6 169.6 113.5 175.7 114.9 180.7 118 185.3 118.2 190.9 122.6 195.1 122.4 200.9 125.2 205 128.9 210.9 133 216 138.7 221.1 141.3 227 147.7 232.2 154.1 238.2 161.9 243.2 168.6 247.5 175.8 253.6 183.7 258.8 191.7 264.5 199.8 270.7 215 276 230.5 281.7 254.6 287.5 279.6 293.3 314.4 299.2 345.8 304.7 356.7 309.7 357.7 315.2 360 320.5 362 326.5 375.5 332.1 397.2 338.1 414.7 343.7 429.3 349.9 445.3 354.8 450.8 360.1 456.8 364.8 464.1 372 476.2 377.1 529.4 383.2 489.9 389.1 488.3 394.1 523.1 400.5 494.6 404.9 502.4 412 501.8 417.4 510.8 422.8 507.1 429.6 508.1 435.4 508.2 441.6 522.3 446.5 519.2 453.4 526.1 458 522.4 465 525.7 470.5 576.8" fill="none" stroke="none" marker-start="url(#mA112)" marker-mid="url(#mA112)" marker-end="url(#mA112)"/>
<polyline points="145.6,106.2 147.4,106.8 149.2,107.4 151,107.9 152.8,108.5 154.7,109 156.5,109.6 158.3,110.1 160.2,110.7 162,111.3 163.9,111.9 165.7,112.5 167.5,113.1 169.4,113.7 171.3,114.3 173.1,114.9 175,115.6 176.8,116.2 178.7,116.9 180.6,117.6 182.4,118.3 184.3,119 186.2,119.7 188.1,120.5 190,121.3 191.9,122.1 193.8,123 195.7,123.9 197.6,124.8 199.5,125.8 201.4,126.8 203.3,128 205.2,129.2 207.1,130.5 209.1,131.9 211,133.4 212.9,134.9 214.9,136.5 216.8,138.1 218.8,139.7 220.7,141.5 222.7,143.3 224.6,145.2 226.6,147.3 228.6,149.4 230.6,151.6 232.5,154.1 234.5,156.9 236.5,159.8 238.5,162.8 240.5,165.7 242.5,168.6 244.5,171.4 246.5,174.2 248.6,177.1 250.6,179.9 252.6,182.8 254.6,185.6 256.6,188.4 258.6,191.3 260.6,194.4 262.7,197.7 264.7,201.3 266.8,205.1 268.8,209.5 270.9,214.4 273,220.4 275.1,227.3 277.2,234.9 279.3,243 281.4,251.5 283.5,260.8 285.7,271 287.9,282 290,294.6 292.2,308.4 294.4,321.9 296.6,334.8 298.7,345.4 300.8,352 302.8,354.8 304.9,355.9 306.9,356.4 308.9,356.9 310.9,357.5 312.9,358.1 314.9,358.8 317,359.9 319,361.7 321.1,364.7 323.1,369.4 325.2,374.6 327.3,380.5 329.4,387 331.5,394 333.6,402.3 335.7,408.6 337.8,413.9 339.9,419.1 342,424.4 344.1,429.9 346.2,435.4 348.3,440.7 350.4,445.4 352.5,449.3 354.5,452 356.6,453.9 358.7,455.9 360.8,458.4 362.9,461.3 365,464.7 367.1,468.5 369.2,472.6 371.3,476.7 373.4,480.4 375.5,483.2 377.6,484.9 379.7,485.7 381.8,486.2 383.9,486.8 386,488.2 388.1,490.3 390.2,492.9 392.3,495.2 394.4,496.8 396.6,497.3 398.7,497.4 400.8,497.8 403,499 405.1,501 407.2,503 409.4,504.2 411.5,504.5 413.7,504.7 415.9,505.6 418,507.4 420.2,509.2 422.3,510.1 424.5,510.3 426.7,510.9 428.9,512.4 431,514 433.2,514.7 435.4,514.9 437.6,515.9 439.8,517.4 442,518.4 444.2,518.7 446.4,519.5 448.6,521 450.8,521.7 453,522 455.3,523.2 457.5,524.3 459.7,524.7 461.9,525.6 464.2,526.8 466.4,527.1 468.7,528 470.9,529.1" stroke="#111" fill="none" stroke-width="1.6"/>
<marker id="mA116" markerUnits="userSpaceOnUse" markerWidth="12" markerHeight="12" refX="6" refY="6" overflow="visible"><circle cx="6" cy="6" r="4.6" fill="none" stroke="#aa1616" stroke-width="0.85"/></marker>
<path d="M139.1 104.5V112.2M144.1 105.2V110.2M148.1 104.8V108.2M153.8 109.4V111.8M158.2 111.3V113.1M163.8 113.7V115.1M168.4 115.5V116.9M173.3 117.6V118.6M178.6 119.8V120.8M183.9 123V124.2M189.2 124.9V126.1M193.6 127.5V128.5M199 129.6V130.6M205.2 137V137.9M209.7 138.5V139.3M215.3 145.1V145.7M219.7 146.6V147.5M226.4 155.7V156.5M230.6 161.5V162.3M236.2 169.3V170.2M242.2 177.1V177.9M247.9 186.7V187.6M252.7 193.2V194.1M258.6 203.1V203.6M263.5 213.2V213.9M269.6 231.1V231.9M275.3 252.9V253.6M280.8 278.7V279.5M286.8 315.4V316.2M292.8 348V348.7M297.9 356.5V357.4M303.3 359.7V360.5M309.6 360.5V361.7M315.3 367.6V368.4M320.5 381.2V382.3M326.2 398.7V400.1M331.8 414.2V416M337.6 430.5V432.2M342.5 441.6V443.7M348.4 456.3V459.3M354.6 459.1V461M360 468.3V471M365.9 482.8V485.7M372 490.8V495.2M376.1 487.6V492.3M382.4 494.7V498.5M387.7 499.4V503.9M394.2 495.3V501.6M400.5 504.4V510.7M405.6 511.4V520M411.5 501.4V509.3M417.7 504V513.1M422.7 514.3V529.8M429.5 517.6V541.4M434.7 516.3V530.1M440.3 517V535.6M447.1 527.5V574.5M454 510.1V530.7M458.6 518.1V545.7M465.4 520.3V546.1" stroke="#aa1616" fill="none" stroke-width="0.85"/>
<path d="M139.1 106.7 144.1 106.3 148.1 105.9 153.8 110.1 158.2 111.9 163.8 114.2 168.4 115.9 173.3 118.1 178.6 120.1 183.9 123.4 189.2 125.4 193.6 127.8 199 129.8 205.2 137.2 209.7 138.7 215.3 145.2 219.7 146.9 226.4 156 230.6 161.8 236.2 169.6 242.2 177.3 247.9 186.9 252.7 193.6 258.6 203.3 263.5 213.4 269.6 231.3 275.3 253.1 280.8 279 286.8 315.7 292.8 348.2 297.9 356.7 303.3 360 309.6 361.1 315.3 367.8 320.5 381.5 326.2 399.2 331.8 414.6 337.6 431 342.5 442.1 348.4 457.1 354.6 459.8 360 469.4 365.9 483.9 372 492.1 376.1 489.3 382.4 496 387.7 501.3 394.2 497.1 400.5 506 405.6 514.5 411.5 504.1 417.7 506.6 422.7 519.1 429.5 520.8 434.7 521.1 440.3 522.3 447.1 536.5 454 514.4 458.6 523.3 465.4 527.6" fill="none" stroke="none" marker-start="url(#mA116)" marker-mid="url(#mA116)" marker-end="url(#mA116)"/>
<polyline points="138.9,107.1 140.7,107.7 142.5,108.3 144.4,108.9 146.2,109.4 148,110 149.9,110.5 151.7,111.1 153.5,111.6 155.4,112.2 157.2,112.8 159.1,113.4 160.9,114 162.8,114.6 164.6,115.2 166.5,115.9 168.4,116.5 170.2,117.2 172.1,117.8 174,118.5 175.8,119.2 177.7,120 179.6,120.7 181.5,121.5 183.4,122.3 185.3,123.1 187.2,124 189.1,124.9 191,125.8 192.9,126.8 194.8,127.8 196.7,128.9 198.6,130.2 200.6,131.5 202.5,132.9 204.4,134.3 206.4,135.9 208.3,137.4 210.3,139.1 212.2,140.7 214.2,142.5 216.2,144.3 218.1,146.2 220.1,148.2 222.1,150.4 224.1,152.6 226,155.1 228,157.8 230,160.8 232.1,163.8 234.1,166.7 236.1,169.6 238.1,172.4 240.1,175.3 242.1,178.1 244.1,181 246.1,183.9 248.2,186.7 250.2,189.5 252.2,192.4 254.2,195.5 256.3,198.8 258.3,202.4 260.4,206.2 262.4,210.6 264.5,215.5 266.6,221.4 268.7,228.3 270.8,235.9 272.9,244.1 275.1,252.6 277.2,261.9 279.4,272 281.5,283 283.7,295.6 285.9,309.5 288.2,323.1 290.3,336.1 292.5,346.9 294.6,353.7 296.6,356.5 298.6,357.7 300.7,358.2 302.7,358.8 304.7,359.4 306.7,360 308.7,360.7 310.8,361.7 312.8,363.6 314.9,366.5 317,371.2 319.1,376.4 321.2,382.4 323.3,388.9 325.4,395.9 327.5,404.3 329.6,410.6 331.7,416 333.8,421.2 335.9,426.6 338,432.1 340.1,437.7 342.2,443.1 344.3,447.8 346.4,451.7 348.5,454.5 350.6,456.4 352.7,458.4 354.7,460.9 356.8,463.9 358.9,467.3 361,471.2 363.2,475.3 365.3,479.5 367.4,483.3 369.5,486.1 371.6,487.9 373.7,488.7 375.8,489.1 377.9,489.8 380,491.2 382.1,493.4 384.3,496 386.4,498.4 388.5,499.9 390.6,500.4 392.8,500.5 394.9,500.9 397.1,502.2 399.2,504.2 401.3,506.3 403.5,507.4 405.7,507.7 407.8,507.9 410,508.9 412.1,510.7 414.3,512.5 416.5,513.4 418.6,513.5 420.8,514.2 423,515.8 425.2,517.4 427.4,518 429.6,518.3 431.8,519.3 434,520.9 436.2,521.8 438.4,522 440.6,522.9 442.8,524.4 445,525.1 447.2,525.5 449.5,526.7 451.7,527.8 453.9,528.1 456.2,529.1 458.4,530.2 460.7,530.6 462.9,531.5 465.1,532.6" stroke="#111" fill="none" stroke-width="1.6"/>
<marker id="mA120" markerUnits="userSpaceOnUse" markerWidth="12" markerHeight="12" refX="6" refY="6" overflow="visible"><circle cx="6" cy="6" r="4.6" fill="none" stroke="#8c1a1a" stroke-width="0.85"/></marker>
<path d="M131.6 103.1V110.7M136.3 107.1V111.5M141.6 109.2V112.4M146.7 110.7V113.3M151.7 111.8V113.8M156.8 115.1V117M160.8 117.8V118.8M166.9 120V121.6M172.9 121.4V122.3M176.9 122.7V123.6M182 126.6V127.5M187.5 127.8V128.8M191.6 129.9V130.6M197.3 133.6V134.3M203.4 140V140.9M208.4 145.5V146.2M213.2 149.3V150.1M218.8 156.6V157.6M223.9 163.5V164.3M230.1 172.4V173.1M235.6 177.8V178.8M240 186.6V187.6M246.5 194.7V195.5M251.4 202.3V203.2M257.5 216.4V217.4M263.3 230.9V231.7M268.6 254.7V255.3M275 285.9V286.6M280.4 316.4V317.4M286.7 352.2V353M291.7 359.5V360.3M297.5 361.1V362.1M302.9 361.5V362.6M308.1 366.9V368.1M313.5 377.1V378.2M319.3 400V401.8M325.8 416.6V417.9M330.8 428.5V430.2M336.8 447.3V449.2M343.3 453.5V455.3M347.4 459.9V462.1M353.3 469.3V472.2M359.2 478.2V481.3M365.1 488.2V492M370.7 492V496.5M377.3 493.9V498.3M382 501.6V507.7M387.6 499.9V505.8M394 503.5V511.4M399.5 511V520.9M405.4 510.6V519.7M411.3 511.5V522M417.1 520.4V533M423.4 526.6V546.7M428.3 524.7V546.7M436.1 520.9V535.1M441.5 519.2V535.5M447.3 524.2V543.1M453.7 521.6V541.2M458.9 522.9V557.6" stroke="#8c1a1a" fill="none" stroke-width="0.85"/>
<path d="M131.6 104.7 136.3 108.3 141.6 110 146.7 111.6 151.7 112.4 156.8 115.6 160.8 118.1 166.9 120.4 172.9 121.7 176.9 122.9 182 127 187.5 128.1 191.6 130.1 197.3 133.7 203.4 140.2 208.4 145.7 213.2 149.7 218.8 156.9 223.9 163.7 230.1 172.7 235.6 178.1 240 186.8 246.5 195 251.4 202.6 257.5 216.6 263.3 231.2 268.6 254.9 275 286.1 280.4 316.7 286.7 352.4 291.7 359.8 297.5 361.5 302.9 361.8 308.1 367.3 313.5 377.4 319.3 400.5 325.8 417 330.8 429.1 336.8 447.9 343.3 454.2 347.4 460.6 353.3 470.1 359.2 478.9 365.1 489.5 370.7 493.5 377.3 495.3 382 503.1 387.6 501.4 394 505.7 399.5 514.3 405.4 512.5 411.3 514 417.1 524.3 423.4 533.3 428.3 529.1 436.1 524.7 441.5 524.4 447.3 531.7 453.7 528.8 458.9 529.4" fill="none" stroke="none" marker-start="url(#mA120)" marker-mid="url(#mA120)" marker-end="url(#mA120)"/>
<polyline points="132,108.1 133.8,108.7 135.6,109.3 137.5,109.8 139.3,110.4 141.1,110.9 143,111.5 144.8,112 146.6,112.6 148.5,113.2 150.3,113.8 152.2,114.4 154,115 155.9,115.6 157.7,116.2 159.6,116.9 161.5,117.5 163.3,118.2 165.2,118.8 167.1,119.5 169,120.2 170.9,121 172.7,121.7 174.6,122.5 176.5,123.3 178.4,124.1 180.3,125 182.2,125.9 184.1,126.8 186.1,127.8 188,128.8 189.9,129.9 191.8,131.2 193.8,132.5 195.7,133.9 197.6,135.3 199.6,136.9 201.5,138.4 203.5,140.1 205.4,141.7 207.4,143.5 209.4,145.3 211.3,147.2 213.3,149.2 215.3,151.4 217.3,153.6 219.3,156.1 221.3,158.8 223.3,161.8 225.3,164.8 227.3,167.8 229.3,170.6 231.3,173.5 233.4,176.3 235.4,179.2 237.4,182.1 239.4,185 241.5,187.9 243.5,190.7 245.5,193.6 247.5,196.6 249.6,200 251.6,203.5 253.7,207.4 255.8,211.7 257.8,216.6 259.9,222.5 262,229.4 264.2,237 266.3,245.1 268.5,253.7 270.6,262.9 272.8,273.1 275,284.1 277.2,296.7 279.4,310.6 281.6,324.3 283.8,337.5 286,348.3 288.1,355.4 290.2,358.4 292.2,359.6 294.2,360.2 296.2,360.7 298.2,361.3 300.3,361.9 302.3,362.6 304.3,363.7 306.4,365.5 308.5,368.4 310.6,373.1 312.7,378.3 314.8,384.3 316.9,390.9 319,397.9 321.2,406.3 323.3,412.8 325.4,418.2 327.5,423.5 329.6,428.9 331.7,434.5 333.8,440.1 335.9,445.5 338,450.3 340.1,454.3 342.2,457.1 344.3,459 346.4,461.1 348.5,463.6 350.6,466.6 352.7,470.1 354.8,474 356.9,478.2 359,482.4 361.2,486.3 363.3,489.2 365.4,490.9 367.5,491.7 369.6,492.2 371.7,492.9 373.8,494.3 376,496.5 378.1,499.2 380.2,501.6 382.4,503.1 384.5,503.6 386.6,503.7 388.8,504.1 390.9,505.4 393.1,507.6 395.2,509.6 397.4,510.8 399.5,511 401.7,511.2 403.9,512.3 406,514.2 408.2,516 410.4,516.8 412.5,516.9 414.7,517.6 416.9,519.3 419.1,520.9 421.3,521.5 423.5,521.7 425.7,522.8 427.9,524.4 430.1,525.3 432.3,525.5 434.5,526.5 436.8,528 439,528.7 441.2,529.1 443.4,530.3 445.7,531.4 447.9,531.7 450.2,532.7 452.4,533.9 454.7,534.2 456.9,535.2 459.2,536.2" stroke="#111" fill="none" stroke-width="1.6"/>
<marker id="mA124" markerUnits="userSpaceOnUse" markerWidth="12" markerHeight="12" refX="6" refY="6" overflow="visible"><circle cx="6" cy="6" r="4.6" fill="none" stroke="#7f1717" stroke-width="0.85"/></marker>
<path d="M124.8 105.9V111.7M129.7 109.4V114.3M134.6 109.2V112.3M139.5 111V113.6M143.6 114.8V117.4M150.9 117.2V118.5M154.3 117.4V118.5M159.7 119V120.1M164.7 121.6V122.6M169.7 123.9V124.9M175.3 127.1V128M180.3 128.2V129M186 131.2V132M190.6 136.1V136.7M196.2 140.3V141.2M200.7 143.9V144.5M206.9 149.4V150.3M212.7 155.8V156.5M217.7 163.2V163.8M223.7 172.6V173.4M228.4 180.8V181.7M233.9 188.2V189.1M239.3 195.7V196.5M244.8 204.4V205M250.3 214.7V215.5M256.7 235.9V236.7M262.9 259.1V259.8M267.9 282.1V283M273.7 313.9V314.7M280.5 351.8V352.6M286 361.1V362M291.3 362.4V363.4M296.3 363.9V365M301.6 369V370.1M308.1 385.2V386.2M314.2 405.7V407.2M319.1 419.7V421M325.4 436.4V438.2M331.1 449.2V451.5M336.9 461.2V464.1M341.9 464.3V466.7M348 477.3V479.9M353.8 486V488.7M359.4 495.1V500M365.2 494.2V498.3M370.3 498.2V503.4M375.9 502.4V508M380.6 503.8V509.5M388.1 507.8V515.1M393.7 508.1V516.5M399.9 517.9V529M405 510.4V518.9M411.5 523.8V539.3M417.3 561.4V620.1M422.9 523.3V539.1M428.8 528.1V545.5M434.5 520.4V538.9M440.9 533.8V561.2M446.9 530.1V569.9M452.1 556.3V664.8" stroke="#7f1717" fill="none" stroke-width="0.85"/>
<path d="M124.8 107.3 129.7 110.8 134.6 110.2 139.5 111.7 143.6 115.7 150.9 117.6 154.3 117.7 159.7 119.3 164.7 122 169.7 124.1 175.3 127.4 180.3 128.4 186 131.4 190.6 136.3 196.2 140.6 200.7 144.1 206.9 149.8 212.7 156 217.7 163.4 223.7 172.9 228.4 181 233.9 188.4 239.3 195.9 244.8 204.6 250.3 214.9 256.7 236.2 262.9 259.3 267.9 282.4 273.7 314.1 280.5 352 286 361.3 291.3 362.7 296.3 364.2 301.6 369.4 308.1 385.6 314.2 406.1 319.1 420.2 325.4 437 331.1 449.9 336.9 461.9 341.9 465.1 348 478.1 353.8 486.6 359.4 496.2 365.2 495.3 370.3 500 375.9 504.1 380.6 505 388.1 511.3 393.7 511 399.9 520.3 405 512.9 411.5 528.6 417.3 573 422.9 527.8 428.8 533.4 434.5 526.4 440.9 541.3 446.9 540.4 452.1 570.6" fill="none" stroke="none" marker-start="url(#mA124)" marker-mid="url(#mA124)" marker-end="url(#mA124)"/>
<polyline points="125.1,109 126.9,109.6 128.8,110.2 130.6,110.8 132.4,111.3 134.3,111.9 136.1,112.4 138,113 139.8,113.6 141.6,114.2 143.5,114.7 145.4,115.4 147.2,116 149.1,116.6 150.9,117.2 152.8,117.8 154.7,118.5 156.5,119.1 158.4,119.8 160.3,120.5 162.2,121.2 164.1,122 166,122.7 167.8,123.5 169.7,124.3 171.6,125.1 173.5,126 175.5,126.9 177.4,127.8 179.3,128.8 181.2,129.8 183.1,130.9 185.1,132.1 187,133.5 188.9,134.9 190.9,136.3 192.8,137.9 194.8,139.4 196.8,141.1 198.7,142.7 200.7,144.5 202.6,146.3 204.6,148.2 206.6,150.2 208.6,152.4 210.6,154.6 212.6,157.1 214.6,159.8 216.6,162.7 218.6,165.8 220.6,168.8 222.7,171.7 224.7,174.5 226.7,177.4 228.7,180.3 230.8,183.2 232.8,186.1 234.8,189 236.8,191.8 238.9,194.7 240.9,197.8 243,201.1 245,204.7 247.1,208.5 249.2,212.8 251.2,217.7 253.4,223.6 255.5,230.4 257.6,238.1 259.8,246.2 261.9,254.7 264.1,264 266.3,274.2 268.5,285.2 270.7,297.7 272.9,311.7 275.2,325.4 277.4,338.8 279.6,349.8 281.7,357.2 283.8,360.2 285.8,361.5 287.8,362.1 289.8,362.6 291.9,363.2 293.9,363.8 295.9,364.5 298,365.5 300,367.4 302.1,370.2 304.2,375 306.3,380.2 308.4,386.2 310.6,392.8 312.7,399.8 314.8,408.3 317,414.9 319.1,420.4 321.2,425.7 323.3,431.1 325.4,436.7 327.6,442.4 329.7,447.9 331.8,452.8 333.9,456.8 336,459.6 338.1,461.6 340.2,463.7 342.3,466.2 344.4,469.3 346.5,472.8 348.6,476.8 350.7,481.1 352.9,485.4 355,489.3 357.1,492.2 359.2,494 361.3,494.8 363.5,495.2 365.6,495.9 367.7,497.4 369.8,499.7 372,502.4 374.1,504.8 376.2,506.4 378.4,506.8 380.5,506.9 382.7,507.3 384.8,508.7 387,510.9 389.1,513 391.3,514.1 393.5,514.3 395.6,514.5 397.8,515.6 400,517.6 402.1,519.4 404.3,520.2 406.5,520.3 408.7,521.1 410.9,522.8 413.1,524.4 415.3,525 417.5,525.2 419.7,526.3 421.9,528 424.1,528.8 426.3,529 428.6,530.1 430.8,531.6 433,532.2 435.2,532.6 437.5,534 439.7,535 442,535.3 444.2,536.4 446.5,537.5 448.7,537.8 451,538.9 453.2,539.9" stroke="#111" fill="none" stroke-width="1.6"/>
<marker id="mA128" markerUnits="userSpaceOnUse" markerWidth="12" markerHeight="12" refX="6" refY="6" overflow="visible"><circle cx="6" cy="6" r="4.6" fill="none" stroke="#7d1616" stroke-width="0.85"/></marker>
<path d="M124.6 106.7V112.4M129.4 107.7V113.4M133.2 111.3V115.6M139.1 109.9V112.3M143.4 114.1V116M148.4 114.7V116.4M154.2 117.8V118.9M158.8 120.3V121.5M164 122V122.9M168.6 124.8V125.6M174 126.5V127.6M179.3 129.8V130.9M184.8 133.2V133.8M190.1 135.5V136M195.4 140.3V141.1M199.4 144.5V145.4M205.6 150.3V151M210.9 155.4V156.1M216.2 164.4V165.1M222 172.1V172.9M227.3 179.8V180.4M232.5 188.4V189M237.9 194.1V194.7M243.8 205V205.9M250.8 221.6V222.4M255.8 234.9V235.7M260.3 252.8V253.5M266.8 284.2V285.1M272.9 318.1V318.9M278.7 349.3V350.2M284.9 361.3V362.1M289.6 364.1V365.1M295.2 363.9V365.1M301.2 370.5V371.6M306.7 383.8V384.8M312.5 402.6V403.7M317.7 420.7V422.3M323.5 435.4V437.3M329.8 447.9V449.9M335.2 457.7V460.1M341.6 464.4V466.8M345.7 473.7V476M351.8 485.1V488.4M358.3 492.8V497.5M364.2 493.2V497.1M369.7 500.6V506.7M375.3 500.8V506.4M380.7 510.9V519M386.6 509.5V516M392.1 514.5V523.4M398.2 523.7V537.3M403.7 547.8V572.1M410.2 521.5V535.4M415.8 530V541.6M421.9 527.1V543.4M427.7 523.1V542.2M434.4 519.9V541.8M440.2 533.2V582.1M445.8 528.8V559.9M452.4 546.4V662.5" stroke="#7d1616" fill="none" stroke-width="0.85"/>
<path d="M124.6 108.3 129.4 109.4 133.2 112.9 139.1 110.8 143.4 114.8 148.4 115.2 154.2 118.3 158.8 120.6 164 122.3 168.6 125 174 126.7 179.3 130.1 184.8 133.4 190.1 135.6 195.4 140.6 199.4 144.7 205.6 150.5 210.9 155.6 216.2 164.6 222 172.4 227.3 180 232.5 188.6 237.9 194.3 243.8 205.2 250.8 221.8 255.8 235.1 260.3 253 266.8 284.4 272.9 318.4 278.7 349.6 284.9 361.6 289.6 364.4 295.2 364.3 301.2 370.8 306.7 384 312.5 402.9 317.7 421.2 323.5 436 329.8 448.4 335.2 458.7 341.6 465.2 345.7 474.4 351.8 486.4 358.3 493.7 364.2 494.2 369.7 503.1 375.3 502.4 380.7 513 386.6 511.8 392.1 516.6 398.2 528.2 403.7 553 410.2 525.3 415.8 533.4 421.9 532.2 427.7 528.6 434.4 526.9 440.2 542.3 445.8 535.3 452.4 558.2" fill="none" stroke="none" marker-start="url(#mA128)" marker-mid="url(#mA128)" marker-end="url(#mA128)"/>
<polyline points="124,109.2 125.8,109.8 127.6,110.4 129.5,110.9 131.3,111.5 133.1,112 135,112.6 136.8,113.2 138.7,113.7 140.5,114.3 142.4,114.9 144.2,115.5 146.1,116.1 147.9,116.7 149.8,117.4 151.7,118 153.5,118.7 155.4,119.3 157.3,120 159.2,120.7 161.1,121.4 162.9,122.1 164.8,122.9 166.7,123.7 168.6,124.5 170.5,125.3 172.4,126.1 174.3,127 176.3,128 178.2,129 180.1,130 182,131.1 184,132.3 185.9,133.6 187.8,135 189.8,136.5 191.7,138 193.7,139.6 195.6,141.2 197.6,142.9 199.6,144.6 201.5,146.5 203.5,148.4 205.5,150.4 207.5,152.5 209.5,154.8 211.5,157.2 213.5,160 215.5,162.9 217.5,165.9 219.5,168.9 221.6,171.8 223.6,174.7 225.6,177.6 227.6,180.5 229.7,183.4 231.7,186.3 233.7,189.2 235.8,192 237.8,194.9 239.8,198 241.9,201.3 243.9,204.9 246,208.7 248.1,213 250.2,217.9 252.3,223.8 254.4,230.6 256.5,238.2 258.7,246.4 260.9,254.9 263,264.2 265.2,274.4 267.4,285.4 269.6,297.9 271.9,311.9 274.1,325.6 276.3,339 278.5,350 280.7,357.5 282.7,360.5 284.7,361.8 286.8,362.4 288.8,362.9 290.8,363.5 292.8,364.1 294.9,364.8 296.9,365.9 299,367.7 301.1,370.5 303.2,375.3 305.3,380.5 307.4,386.5 309.5,393.1 311.7,400.2 313.8,408.7 315.9,415.2 318.1,420.7 320.2,426 322.3,431.5 324.4,437.1 326.5,442.8 328.6,448.3 330.8,453.2 332.9,457.2 335,460 337.1,462 339.2,464.1 341.3,466.7 343.4,469.8 345.5,473.2 347.6,477.2 349.7,481.5 351.9,485.9 354,489.8 356.1,492.7 358.2,494.5 360.3,495.3 362.4,495.7 364.6,496.4 366.7,497.9 368.8,500.2 371,502.9 373.1,505.4 375.2,506.9 377.4,507.4 379.5,507.4 381.7,507.9 383.8,509.3 386,511.4 388.1,513.5 390.3,514.7 392.5,514.9 394.6,515.1 396.8,516.2 399,518.2 401.2,520 403.3,520.7 405.5,520.9 407.7,521.6 409.9,523.4 412.1,525 414.3,525.5 416.5,525.8 418.7,526.9 420.9,528.6 423.1,529.4 425.4,529.6 427.6,530.7 429.8,532.2 432,532.8 434.3,533.2 436.5,534.6 438.7,535.6 441,535.9 443.2,537 445.5,538.1 447.7,538.4 450,539.5 452.3,540.5" stroke="#111" fill="none" stroke-width="1.6"/>
<marker id="mA132" markerUnits="userSpaceOnUse" markerWidth="12" markerHeight="12" refX="6" refY="6" overflow="visible"><circle cx="6" cy="6" r="4.6" fill="none" stroke="#7b1616" stroke-width="0.85"/></marker>
<path d="M122.6 106.1V113.4M128.1 111.1V117.7M133.3 110.6V113.7M137.6 109.9V112.5M142 115.9V117.6M147.6 116.3V117.9M152.3 116.5V117.9M157.5 119.7V120.9M163.2 123.5V124.4M168.6 124.3V125.2M173.6 126.7V127.5M178.1 130.1V130.9M183.9 134V134.7M187.9 136.1V136.9M194.8 141.6V142.2M199.4 144.9V145.5M204.7 151.4V152.3M210 157V157.7M216.4 165.5V166.3M221 171.5V172.2M226.1 179.8V180.8M231.7 187.4V188.3M236.8 193.4V194.3M243.1 204.5V205.2M248.8 216.4V216.9M253.7 233V234M260.1 255.8V256.5M265.8 283.7V284.3M272.3 321.7V322.6M278.2 352.2V353.2M284 362.8V364.1M288.9 363V364.2M293.7 364.5V365.5M299.6 370.9V371.9M305.4 385.8V387.1M311 404.7V406M317.2 422.1V423.8M322.6 434.5V436.2M328.7 452.2V454.3M333.9 458.5V460.6M339.8 467.8V469.7M345.9 471.1V473.5M352.1 489.8V492.7M357.3 492.6V496.3M362.8 494.7V499.6M368.1 500.4V504.9M374 542.7V557.2M380.4 513.7V520.4M385.9 515.9V525.2M392 515.9V523.7M397.4 525.5V538.2M403.3 516.5V527M408.7 527.3V540.8M414.9 520.5V539.8M421.3 524.4V550.3M428 534.2V563.4M433.9 522.3V541.9M439 519V540.4M445.3 541.7V574.1M450.9 528.4V560.5" stroke="#7b1616" fill="none" stroke-width="0.85"/>
<path d="M122.6 108.6 128.1 112.3 133.3 111.4 137.6 110.7 142 116.6 147.6 116.8 152.3 117.1 157.5 120.2 163.2 123.7 168.6 124.6 173.6 126.9 178.1 130.4 183.9 134.2 187.9 136.3 194.8 141.7 199.4 145.1 204.7 151.7 210 157.3 216.4 165.7 221 171.7 226.1 180.1 231.7 187.7 236.8 193.6 243.1 204.8 248.8 216.6 253.7 233.2 260.1 256.1 265.8 283.9 272.3 322 278.2 352.4 284 363.1 288.9 363.3 293.7 364.9 299.6 371.2 305.4 386.2 311 405.2 317.2 422.6 322.6 435.1 328.7 452.7 333.9 459.3 339.8 468.6 345.9 471.9 352.1 490.7 357.3 493.9 362.8 496.5 368.1 501.8 374 546.3 380.4 515.5 385.9 518.2 392 518.9 397.4 528.1 403.3 519 408.7 532 414.9 525.7 421.3 533.1 428 541.3 433.9 528 439 525.6 445.3 548.3 450.9 536.9" fill="none" stroke="none" marker-start="url(#mA132)" marker-mid="url(#mA132)" marker-end="url(#mA132)"/>
<polyline points="122.9,109.3 124.7,109.9 126.5,110.5 128.4,111.1 130.2,111.6 132,112.2 133.9,112.8 135.7,113.3 137.5,113.9 139.4,114.5 141.2,115.1 143.1,115.7 145,116.3 146.8,116.9 148.7,117.5 150.6,118.2 152.4,118.8 154.3,119.5 156.2,120.1 158.1,120.8 159.9,121.6 161.8,122.3 163.7,123 165.6,123.8 167.5,124.6 169.4,125.4 171.3,126.3 173.2,127.2 175.1,128.1 177.1,129.1 179,130.1 180.9,131.3 182.8,132.5 184.8,133.8 186.7,135.2 188.7,136.6 190.6,138.2 192.6,139.8 194.5,141.4 196.5,143.1 198.5,144.8 200.4,146.6 202.4,148.5 204.4,150.6 206.4,152.7 208.4,155 210.4,157.4 212.4,160.1 214.4,163.1 216.4,166.1 218.4,169.1 220.5,172 222.5,174.9 224.5,177.8 226.5,180.6 228.6,183.6 230.6,186.5 232.6,189.3 234.7,192.2 236.7,195.1 238.7,198.2 240.8,201.5 242.9,205 244.9,208.9 247,213.2 249.1,218.1 251.2,223.9 253.3,230.8 255.5,238.4 257.6,246.6 259.8,255.1 261.9,264.4 264.1,274.5 266.3,285.6 268.6,298.1 270.8,312 273.1,325.8 275.3,339.3 277.5,350.3 279.6,357.8 281.7,360.8 283.7,362.1 285.7,362.7 287.7,363.2 289.8,363.8 291.8,364.4 293.8,365.1 295.9,366.2 297.9,368 300,370.9 302.1,375.6 304.2,380.8 306.3,386.8 308.5,393.5 310.6,400.5 312.8,409 314.9,415.6 317,421.1 319.1,426.4 321.3,431.9 323.4,437.5 325.5,443.2 327.6,448.7 329.7,453.6 331.8,457.7 333.9,460.5 336,462.4 338.1,464.5 340.2,467.1 342.3,470.2 344.5,473.7 346.6,477.7 348.7,482 350.8,486.3 353,490.3 355.1,493.2 357.2,495 359.3,495.8 361.4,496.2 363.6,496.9 365.7,498.4 367.8,500.7 370,503.5 372.1,505.9 374.2,507.4 376.4,507.9 378.5,507.9 380.7,508.4 382.8,509.8 385,512 387.1,514.1 389.3,515.2 391.5,515.4 393.6,515.6 395.8,516.8 398,518.8 400.2,520.6 402.3,521.3 404.5,521.4 406.7,522.2 408.9,523.9 411.1,525.5 413.3,526.1 415.5,526.3 417.7,527.5 419.9,529.2 422.1,530 424.4,530.2 426.6,531.3 428.8,532.8 431,533.4 433.3,533.8 435.5,535.2 437.8,536.2 440,536.5 442.3,537.6 444.5,538.7 446.8,539 449,540.1 451.3,541.1" stroke="#111" fill="none" stroke-width="1.6"/>
<marker id="mA136" markerUnits="userSpaceOnUse" markerWidth="12" markerHeight="12" refX="6" refY="6" overflow="visible"><circle cx="6" cy="6" r="4.6" fill="none" stroke="#731414" stroke-width="0.85"/></marker>
<path d="M118.9 108.5V114.6M124.1 109.9V113.5M128 108.6V112.4M133.7 113.9V116.8M137.9 115.5V117.3M143.6 116.6V118.1M148.4 119.9V121.4M153.8 124.2V125.8M158.6 124.2V125.4M163.9 127.3V128.3M168.9 127.9V128.7M173.3 131.6V132.5M178.2 134.9V135.9M184 140.7V141.8M189 145.4V146.2M194.5 150.7V151.7M199.6 156.7V157.5M204.7 165.5V166.3M210 170.6V171.3M215.1 179.9V180.5M220.8 186.9V187.8M226 196V196.6M231.7 203.2V203.9M237 214.1V214.8M243.4 234.2V235.1M248.1 251.4V252.1M253.3 276.2V276.8M260.4 314.4V315M265.7 345.7V346.6M271.7 357.4V358.1M277.5 364.9V365.9M282.4 363.7V364.5M287.3 367.5V368.5M293.7 380.4V381.5M298.9 396.2V397.4M304.3 413.7V414.6M310.4 432.4V434M315.9 444.2V445.9M321.8 456.7V458.1M327.1 462.2V464.5M332.8 466.6V468.6M338.8 482.1V484.9M343.1 489.7V492.1M348.6 494.5V497.3M355.1 498.4V502.2M360.9 506.3V512.1M366.2 505V508.9M372 506.8V513.5M377.9 513.9V520.3M383.8 515V520.8M388.6 518.7V528.4M394.9 517.2V527.9M400.5 519.9V531.5M406.1 524.8V538.1M411.7 530.7V549.4M418.2 528.5V544.3M423.5 518.4V531.1M429.5 534.8V555M435.9 527.5V543.1M441.4 529.6V556.3M447.8 540.3V605.1" stroke="#731414" fill="none" stroke-width="0.85"/>
<path d="M118.9 110 124.1 111.5 128 109.9 133.7 114.7 137.9 116.1 143.6 117.2 148.4 120.4 153.8 124.6 158.6 124.5 163.9 127.6 168.9 128.2 173.3 131.9 178.2 135.2 184 140.9 189 145.6 194.5 151 199.6 157 204.7 165.7 210 170.8 215.1 180.1 220.8 187.2 226 196.2 231.7 203.4 237 214.4 243.4 234.4 248.1 251.5 253.3 276.4 260.4 314.6 265.7 345.9 271.7 357.6 277.5 365.2 282.4 364 287.3 367.8 293.7 380.8 298.9 396.6 304.3 414 310.4 433 315.9 444.7 321.8 457.2 327.1 462.9 332.8 467.3 338.8 483 343.1 490.6 348.6 495.5 355.1 499.5 360.9 508 366.2 506.1 372 509.2 377.9 516.6 383.8 517.1 388.6 521.2 394.9 520.1 400.5 523.4 406.1 528.7 411.7 534.8 418.2 532.3 423.5 522 429.5 539.7 435.9 533.5 441.4 537.2 447.8 555.7" fill="none" stroke="none" marker-start="url(#mA136)" marker-mid="url(#mA136)" marker-end="url(#mA136)"/>
<polyline points="118.9,110.8 120.8,111.3 122.6,111.9 124.4,112.4 126.3,113 128.1,113.6 129.9,114.2 131.8,114.8 133.6,115.4 135.5,116 137.3,116.6 139.2,117.2 141.1,117.9 142.9,118.5 144.8,119.2 146.7,119.9 148.5,120.6 150.4,121.3 152.3,122.1 154.2,122.8 156.1,123.6 157.9,124.4 159.8,125.3 161.7,126.1 163.6,127.1 165.6,128 167.5,129 169.4,130.1 171.3,131.3 173.2,132.5 175.2,133.9 177.1,135.3 179,136.8 181,138.4 182.9,140 184.9,141.7 186.8,143.4 188.8,145.2 190.8,147 192.8,149 194.7,151.1 196.7,153.3 198.7,155.6 200.7,158.3 202.7,161.1 204.7,164.1 206.7,167.2 208.8,170.1 210.8,173 212.8,175.9 214.8,178.7 216.8,181.6 218.9,184.6 220.9,187.4 222.9,190.3 224.9,193.2 227,196.1 229,199.3 231.1,202.8 233.1,206.5 235.2,210.6 237.3,215.3 239.4,220.7 241.5,227.2 243.6,234.5 245.8,242.5 247.9,250.8 250.1,259.8 252.3,269.6 254.5,280.3 256.7,292.1 258.9,305.7 261.2,319.5 263.5,333.4 265.7,345.2 267.8,354.8 269.9,358.9 271.9,360.9 273.9,361.5 276,362.1 278,362.7 280,363.3 282,363.9 284,364.7 286.1,366.3 288.2,368.6 290.2,372.7 292.3,377.9 294.5,383.5 296.6,390 298.7,396.9 300.9,404.9 303,412.4 305.1,418.2 307.2,423.5 309.4,428.9 311.5,434.5 313.6,440.2 315.7,445.9 317.8,451 319.9,455.4 322,458.7 324.1,460.9 326.2,462.8 328.3,465.2 330.4,468.2 332.5,471.6 334.6,475.4 336.8,479.7 338.9,484 341,488.2 343.1,491.6 345.2,493.8 347.3,494.8 349.4,495.3 351.5,495.9 353.7,497.1 355.8,499.1 357.9,501.8 360,504.5 362.2,506.4 364.3,507.2 366.4,507.2 368.6,507.5 370.7,508.5 372.9,510.5 375,512.8 377.2,514.3 379.3,514.8 381.5,514.8 383.6,515.6 385.8,517.4 388,519.4 390.1,520.5 392.3,520.7 394.5,521.2 396.7,522.7 398.8,524.5 401,525.4 403.2,525.6 405.4,526.4 407.6,528 409.8,529.2 412,529.4 414.2,530.2 416.5,531.7 418.7,532.7 420.9,532.9 423.1,534 425.4,535.4 427.6,535.7 429.8,536.5 432.1,537.8 434.3,538.3 436.6,539.1 438.8,540.3 441.1,540.6 443.3,541.7 445.6,542.5 447.9,543" stroke="#111" fill="none" stroke-width="1.6"/>
<path d="M102.6 510.4L84 53.3M102.6 510.4L460 640.8M460 640.8L743.5 490.8" stroke="#000" stroke-width="2.2" fill="none" stroke-linejoin="miter"/>
<path d="M102.6 510.4L94.5 513.4M99 423.2L90.8 426M95.4 334L87.1 336.5M91.7 242.7L83.3 244.8M87.9 149.1L79.4 150.9M84 53.3L75.4 54.7M100.1 449.7L96.2 451M96.5 361.1L92.6 362.3M92.8 270.4L88.8 271.5M89.1 177.5L85 178.4M85.2 82.4L81.1 83.1M174.9 536.8L166.8 540M327.1 592.3L319.1 596M132.7 521.4L128.8 522.9M279.2 574.8L275.4 576.5M445.8 635.6L442.1 637.6M506.9 616L516.4 619.3M551.5 592.4L560.9 595.5M593.8 570L603 573M634 548.8L643.1 551.6M672.2 528.5L681.3 531.2M708.7 509.2L717.7 511.8M743.5 490.8L752.4 493.3M483.8 628.2L488.3 629.8M529.5 604L534 605.6M572.9 581.1L577.3 582.5M614.1 559.3L618.5 560.7M653.3 538.5L657.7 539.9M690.7 518.8L695 520M726.3 499.9L730.5 501.1" stroke="#000" stroke-width="2" fill="none"/>
<g font-family="&#39;Liberation Sans&#39;, Arial, sans-serif" fill="#000">
<text transform="matrix(0.8432 -0.3211 0.0433 1.0290 91.1652 520.1118)" font-size="18" text-anchor="end">0.001</text>
<text transform="matrix(0.8546 -0.2899 0.0444 1.0533 87.4826 432.6625)" font-size="18" text-anchor="end">0.01</text>
<text transform="matrix(0.8662 -0.2571 0.0454 1.0785 83.7125 343.1359)" font-size="18" text-anchor="end">0.1</text>
<text transform="matrix(0.8782 -0.2227 0.0465 1.1045 79.8518 251.4570)" font-size="18" text-anchor="end">1</text>
<text transform="matrix(0.8906 -0.1864 0.0477 1.1316 75.8971 157.5473)" font-size="18" text-anchor="end">10</text>
<text transform="matrix(0.9032 -0.1484 0.0488 1.1596 71.8451 61.3244)" font-size="18" text-anchor="end">100</text>
<text transform="matrix(0.8437 -0.3429 0.7864 0.2908 165.5815 544.4829)" font-size="18" text-anchor="end">0.01</text>
<text transform="matrix(0.8326 -0.3903 0.8938 0.3305 318.6116 601.0715)" font-size="18" text-anchor="end">0.1</text>
<text transform="matrix(0.9908 0.3476 -0.7637 0.4107 519.1629 624.6120)" font-size="18" text-anchor="start">500</text>
<text transform="matrix(0.9806 0.3297 -0.7243 0.3893 563.1955 600.4163)" font-size="18" text-anchor="start">1000</text>
<text transform="matrix(0.9701 0.3131 -0.6879 0.3696 604.9639 577.4648)" font-size="18" text-anchor="start">1500</text>
<text transform="matrix(0.9594 0.2978 -0.6543 0.3513 644.6383 555.6639)" font-size="18" text-anchor="start">2000</text>
<text transform="matrix(0.9486 0.2835 -0.6230 0.3343 682.3724 534.9291)" font-size="18" text-anchor="start">2500</text>
<text transform="matrix(0.9377 0.2703 -0.5940 0.3185 718.3052 515.1843)" font-size="18" text-anchor="start">3000</text>
<text transform="matrix(0.9268 0.2580 -0.5669 0.3038 752.5626 496.3600)" font-size="18" text-anchor="start">3500</text>
<text transform="matrix(0.6583 -0.3756 1.0067 0.3181 686.7152 584.7347)" font-size="20.5" text-anchor="middle">Time [min]</text>
<text transform="matrix(0.8489 0.3281 -0.8803 0.3875 202.5026 597.4940)" font-size="21" text-anchor="middle">q[&#197;<tspan dy="-8" font-size="14">-1</tspan><tspan dy="8">]</tspan></text>
</g>
<text x="0" y="0" transform="translate(18 309) rotate(90)" font-family="&#39;Liberation Sans&#39;, Arial, sans-serif" font-size="21" letter-spacing="0.9" text-anchor="middle">d&#931;/d&#937; (q) [cm<tspan dy="-8" font-size="13">-1</tspan><tspan dy="8">]</tspan></text>
</g>
<path d="M950 423.2L1254.4 320.7M1254.4 320.7L1598.3 405.9M946.4 334L1254.4 243.4M1254.4 243.4L1602.2 319M942.7 242.7L1254.4 164.5M1254.4 164.5L1606.3 230.1M938.9 149.1L1254.4 84M1254.4 84L1610.4 139.1M1002.5 491.8L987.4 44.8M1002.5 491.8L1357.9 616M1049.2 474.2L1037.2 36.8M1049.2 474.2L1402.5 592.4M1093.9 457.3L1084.6 29.1M1093.9 457.3L1444.8 570M1136.6 441.1L1130 21.8M1136.6 441.1L1485 548.8M1177.5 425.6L1173.3 14.8M1177.5 425.6L1523.2 528.5M1216.8 410.8L1214.7 8.1M1216.8 410.8L1559.7 509.2M1319.7 414.6L1323.1 10.2M1020.9 534.9L1319.7 414.6M1456 452.4L1467.3 27.9M1163.5 587L1456 452.4" stroke="#c6c6c6" stroke-width="1" stroke-dasharray="1.6 2.2" fill="none"/>
<path d="M935 53.3L1254.4 1.7M1254.4 1.7L1614.6 45.9M1614.6 45.9L1594.5 490.8M1254.4 1.7L1254.4 396.5M953.6 510.4L1254.4 396.5M1254.4 396.5L1594.5 490.8" stroke="#3a3a3a" stroke-width="1.1" fill="none"/>
<marker id="mB0" markerUnits="userSpaceOnUse" markerWidth="12" markerHeight="12" refX="6" refY="6" overflow="visible"><circle cx="6" cy="6" r="4.6" fill="none" stroke="#9be8fa" stroke-width="0.85"/></marker>
<path d="M1237.7 145.5V155.6M1242.2 148.2V156.1M1247 143.7V148.5M1251.1 148.3V152.8M1257.4 153.4V155.8M1262 155.4V157.4M1266.3 157.9V159.6M1271.6 157.3V158.5M1276.3 160.2V161.4M1280.8 162.5V163.4M1286.3 164.7V165.9M1290.7 166.5V167.4M1295.7 170.7V171.5M1300.4 173.9V174.8M1305.9 177.8V178.5M1310.7 177.6V178.3M1315.9 181.8V182.5M1320.5 183.6V184.1M1325.8 188.7V189.5M1330.4 192.9V193.7M1336.2 196.4V196.8M1341 200.8V201.4M1346.1 206.6V207.3M1351.2 212V212.6M1355.8 215V215.8M1361.5 224.7V225.5M1367.1 232.9V233.9M1370.8 239.5V240.6M1375.8 249.1V251M1381 258.3V259.6M1387 273.3V275.2M1391.7 287.9V289.7M1397 306.1V308.5M1401.8 327.7V329.9M1406.6 343.8V345.7M1411.7 355.9V358.4M1416.5 369.5V373.6M1422.2 374.5V378.7M1426.5 383.7V389M1432.1 387V392.6M1437.6 393.6V399.3M1443.7 395.3V403.8M1448 395.8V405M1453.2 399.7V407.3M1458.9 401.9V412.3M1465 403.9V414M1469.9 405.4V424.1M1475.9 411.7V432.6M1480.3 404.6V421.9M1487.3 401.1V421.9M1493 401V420.4M1497.5 400.7V422.3M1502.7 432V493.6" stroke="#9be8fa" fill="none" stroke-width="0.85"/>
<path d="M1237.7 148.3 1242.2 150.1 1247 145.5 1251.1 150.2 1257.4 154.1 1262 156.2 1266.3 158.5 1271.6 157.7 1276.3 160.6 1280.8 162.7 1286.3 165.1 1290.7 166.7 1295.7 171 1300.4 174.2 1305.9 178 1310.7 177.7 1315.9 182 1320.5 183.8 1325.8 188.9 1330.4 193.1 1336.2 196.5 1341 201 1346.1 206.9 1351.2 212.2 1355.8 215.4 1361.5 225 1367.1 233.1 1370.8 239.8 1375.8 249.6 1381 258.7 1387 273.9 1391.7 288.5 1397 307 1401.8 328.6 1406.6 344.5 1411.7 356.7 1416.5 370.8 1422.2 375.3 1426.5 385.4 1432.1 388.8 1437.6 395.7 1443.7 397.2 1448 398.1 1453.2 401.7 1458.9 404.9 1465 406.9 1469.9 409.3 1475.9 416.4 1480.3 409.4 1487.3 407.1 1493 404.9 1497.5 407.4 1502.7 441.6" fill="none" stroke="none" marker-start="url(#mB0)" marker-mid="url(#mB0)" marker-end="url(#mB0)"/>
<polyline points="1237.7,152.4 1239.2,152.7 1240.8,153 1242.3,153.4 1243.9,153.7 1245.5,154 1247,154.3 1248.6,154.6 1250.1,154.9 1251.7,155.2 1253.3,155.5 1254.8,155.9 1256.4,156.2 1258,156.5 1259.6,156.8 1261.1,157.2 1262.7,157.5 1264.3,157.8 1265.9,158.2 1267.5,158.5 1269,158.9 1270.6,159.2 1272.2,159.6 1273.8,160.1 1275.4,160.6 1277,161.1 1278.6,161.7 1280.2,162.4 1281.8,163.1 1283.4,163.8 1285,164.5 1286.6,165.3 1288.2,166.1 1289.8,167 1291.4,167.8 1293.1,168.7 1294.7,169.6 1296.3,170.5 1297.9,171.4 1299.5,172.3 1301.1,173.3 1302.8,174.2 1304.4,175.1 1306,176 1307.6,177 1309.3,177.9 1310.9,178.9 1312.5,179.9 1314.2,180.9 1315.8,182 1317.5,183.1 1319.1,184.2 1320.7,185.3 1322.4,186.5 1324,187.7 1325.7,188.9 1327.3,190.1 1329,191.3 1330.6,192.6 1332.3,193.9 1333.9,195.2 1335.6,196.5 1337.2,197.9 1338.9,199.2 1340.5,200.6 1342.2,202 1343.9,203.5 1345.5,205 1347.2,206.7 1348.8,208.5 1350.5,210.4 1352.2,212.5 1353.8,214.6 1355.5,216.9 1357.2,219.2 1358.8,221.5 1360.5,223.9 1362.2,226.3 1363.8,228.7 1365.5,231.1 1367.2,233.7 1368.8,236.3 1370.5,239 1372.2,241.8 1373.8,244.8 1375.5,248 1377.1,251.5 1378.8,255 1380.5,258.7 1382.1,262.4 1383.8,266.1 1385.4,270 1387.1,274 1388.7,278.3 1390.4,283.1 1392,288.3 1393.6,293.9 1395.3,299.8 1396.9,306.1 1398.5,312.7 1400.1,319.5 1401.7,326.6 1403.3,333.3 1404.9,339.4 1406.5,344.8 1408.2,349.7 1409.8,354.3 1411.5,358.4 1413.1,362.3 1414.8,365.8 1416.5,369 1418.2,372 1419.9,374.9 1421.6,377.4 1423.3,379.8 1425,382 1426.7,384 1428.4,385.8 1430.1,387.5 1431.8,389 1433.6,390.4 1435.3,391.7 1437,392.9 1438.8,394 1440.5,395 1442.3,395.9 1444,396.7 1445.8,397.4 1447.6,398.1 1449.3,398.7 1451.1,399.4 1452.9,400 1454.7,400.6 1456.4,401.2 1458.2,401.7 1460,402.3 1461.8,402.8 1463.6,403.4 1465.4,403.9 1467.2,404.4 1469,404.9 1470.8,405.3 1472.6,405.8 1474.4,406.3 1476.2,406.8 1478,407.2 1479.8,407.7 1481.6,408.2 1483.4,408.6 1485.2,409.1 1487.1,409.6 1488.9,410.1 1490.7,410.5 1492.5,411 1494.4,411.5 1496.2,412 1498,412.4 1499.9,412.9 1501.7,413.4 1503.6,413.9" stroke="#111" fill="none" stroke-width="1.4"/>
<marker id="mB4" markerUnits="userSpaceOnUse" markerWidth="12" markerHeight="12" refX="6" refY="6" overflow="visible"><circle cx="6" cy="6" r="4.6" fill="none" stroke="#95e7fa" stroke-width="0.85"/></marker>
<path d="M1228.4 137.2V146.7M1232.6 149.7V161.4M1237.5 148.3V153.5M1242.4 154.8V158.6M1247.4 155.1V158.6M1252.1 158.1V160M1256.4 159.4V161.2M1262.4 161V162.4M1266.9 163.4V164.5M1272.1 163.6V164.6M1277.1 166V166.7M1281.4 169.7V170.5M1286.6 171.8V172.6M1291.7 176.5V177.4M1296.7 179.4V180.2M1301.3 181.1V181.7M1306.2 182.6V183.2M1311.4 188.4V189.1M1316.2 191.6V192.4M1321.3 193.3V193.8M1325.8 200.1V200.9M1331.7 202.5V203.1M1336.4 206.8V207.5M1341.7 213.3V214M1347 219.7V220.6M1352.3 224.5V225.4M1358 237.1V238.1M1362.4 243.3V244.5M1366.9 251.5V252.7M1372.6 264.4V265.8M1377.4 276.5V278.1M1382.9 287.8V289.5M1387.5 305.9V307.9M1392.3 329.8V332.3M1397.4 347.1V349.8M1402.5 359.9V362.5M1407.1 369.1V372.2M1412.7 382.6V387.7M1418.2 387V390.9M1424 391V397.6M1428.8 394.5V403.5M1434.1 396.8V403.1M1439.7 406.9V417.7M1445.4 396.2V403.8M1451.2 403.3V411.7M1456.4 398.7V406.1M1461.8 395V404.9M1467.6 408.2V427.5M1473 414.5V438.8M1478.1 402.8V417M1483.8 410.9V430.3M1488.5 413.3V441.2M1494.5 419.4V490" stroke="#95e7fa" fill="none" stroke-width="0.85"/>
<path d="M1228.4 140.1 1232.6 152.5 1237.5 150.4 1242.4 156.1 1247.4 156.1 1252.1 158.9 1256.4 159.8 1262.4 161.5 1266.9 163.9 1272.1 164 1277.1 166.2 1281.4 169.9 1286.6 172.1 1291.7 176.7 1296.7 179.7 1301.3 181.2 1306.2 182.8 1311.4 188.6 1316.2 191.8 1321.3 193.5 1325.8 200.3 1331.7 202.7 1336.4 207 1341.7 213.5 1347 220 1352.3 224.8 1358 237.4 1362.4 243.6 1366.9 251.9 1372.6 264.9 1377.4 276.9 1382.9 288.1 1387.5 306.5 1392.3 330.6 1397.4 348.4 1402.5 360.6 1407.1 370.6 1412.7 384.3 1418.2 388.4 1424 393 1428.8 396.1 1434.1 399 1439.7 409.1 1445.4 398.3 1451.2 405.6 1456.4 400.7 1461.8 397.5 1467.6 411.9 1473 420.8 1478.1 408.4 1483.8 416.6 1488.5 420.3 1494.5 428.9" fill="none" stroke="none" marker-start="url(#mB4)" marker-mid="url(#mB4)" marker-end="url(#mB4)"/>
<polyline points="1228.2,154.6 1229.8,154.9 1231.3,155.2 1232.9,155.5 1234.4,155.9 1236,156.2 1237.6,156.5 1239.1,156.8 1240.7,157.1 1242.3,157.4 1243.8,157.8 1245.4,158.1 1247,158.4 1248.5,158.7 1250.1,159.1 1251.7,159.4 1253.3,159.7 1254.9,160.1 1256.5,160.4 1258,160.8 1259.6,161.1 1261.2,161.5 1262.8,161.9 1264.4,162.3 1266,162.8 1267.6,163.4 1269.2,164 1270.8,164.6 1272.4,165.3 1274,166 1275.6,166.8 1277.3,167.6 1278.9,168.4 1280.5,169.2 1282.1,170.1 1283.7,171 1285.3,171.9 1287,172.8 1288.6,173.7 1290.2,174.6 1291.8,175.6 1293.5,176.5 1295.1,177.4 1296.7,178.3 1298.3,179.3 1300,180.2 1301.6,181.2 1303.3,182.2 1304.9,183.2 1306.5,184.3 1308.2,185.4 1309.8,186.5 1311.5,187.7 1313.1,188.8 1314.8,190 1316.4,191.2 1318.1,192.5 1319.7,193.7 1321.4,195 1323,196.3 1324.7,197.6 1326.4,198.9 1328,200.3 1329.7,201.6 1331.3,203 1333,204.4 1334.7,205.9 1336.3,207.5 1338,209.1 1339.7,210.9 1341.4,212.9 1343,214.9 1344.7,217.1 1346.4,219.3 1348,221.6 1349.7,224 1351.4,226.4 1353,228.8 1354.7,231.2 1356.4,233.7 1358.1,236.2 1359.7,238.8 1361.4,241.5 1363.1,244.4 1364.8,247.4 1366.4,250.6 1368.1,254.1 1369.8,257.6 1371.4,261.3 1373.1,265.1 1374.8,268.8 1376.4,272.7 1378.1,276.7 1379.8,281.1 1381.4,285.8 1383.1,291.1 1384.7,296.7 1386.3,302.6 1388,308.9 1389.6,315.6 1391.2,322.4 1392.8,329.5 1394.4,336.4 1396,342.5 1397.7,348 1399.3,353 1401,357.6 1402.7,361.8 1404.3,365.7 1406,369.3 1407.7,372.6 1409.4,375.7 1411.1,378.5 1412.8,381.2 1414.5,383.6 1416.2,385.8 1417.9,387.8 1419.6,389.7 1421.4,391.4 1423.1,392.9 1424.8,394.4 1426.6,395.7 1428.3,396.9 1430.1,398.1 1431.8,399.1 1433.6,400 1435.3,400.8 1437.1,401.5 1438.9,402.2 1440.6,402.8 1442.4,403.5 1444.2,404.1 1446,404.7 1447.8,405.3 1449.6,405.9 1451.3,406.4 1453.1,407 1454.9,407.5 1456.7,408 1458.5,408.6 1460.3,409.1 1462.1,409.5 1463.9,410 1465.8,410.5 1467.6,411 1469.4,411.4 1471.2,411.9 1473,412.4 1474.8,412.9 1476.7,413.4 1478.5,413.8 1480.3,414.3 1482.2,414.8 1484,415.3 1485.8,415.8 1487.7,416.2 1489.5,416.7 1491.3,417.2 1493.2,417.7 1495,418.2" stroke="#111" fill="none" stroke-width="1.4"/>
<marker id="mB8" markerUnits="userSpaceOnUse" markerWidth="12" markerHeight="12" refX="6" refY="6" overflow="visible"><circle cx="6" cy="6" r="4.6" fill="none" stroke="#88e4f9" stroke-width="0.85"/></marker>
<path d="M1209.4 153.8V173.5M1213.4 154.8V163.8M1218.1 155.6V162M1222.6 153.8V157.2M1227.4 160.2V164.5M1232 162.8V165.5M1237.6 163.6V165.1M1242.4 165.3V166.5M1246.9 166.6V167.3M1251.7 171.3V172.7M1257.1 172V173.2M1262 173.3V174.3M1266.6 177.6V178.4M1272.3 179.6V180.2M1277.2 182V182.6M1282.2 187.3V188.1M1287.5 189.2V189.8M1292 191.8V192.5M1297.9 196.3V197M1302 201.1V201.7M1307.8 203.8V204.5M1312.9 208.9V209.8M1317.7 211.8V212.6M1323.1 218.1V218.9M1327.6 225V225.7M1332.7 231.3V232.1M1338.3 240.7V241.5M1343.3 248.6V249.8M1349 260.3V261.6M1353.9 269.2V270.9M1359.3 280.2V281.9M1364.3 295.3V296.9M1369.3 313.4V315.1M1374.3 335.5V337.6M1379.1 354V356.3M1384.2 366.3V370.2M1390.3 383.9V387.8M1394.2 383.3V386.2M1400 394.5V401M1405.9 396.1V399.6M1411 401.6V406.9M1416.7 408.9V415.2M1421.9 406.7V414.3M1426.6 410.5V417.6M1432.5 410.6V420.7M1437.6 410.7V423.3M1444 417.9V429.3M1449.7 418.7V431.3M1454.5 418V443.4M1460.4 427V456.2M1465.8 421.2V450.1M1471.1 420.5V441.9M1477.3 416.8V461.1" stroke="#88e4f9" fill="none" stroke-width="0.85"/>
<path d="M1209.4 159.6 1213.4 156.9 1218.1 157.7 1222.6 154.9 1227.4 160.9 1232 163.5 1237.6 164.2 1242.4 165.6 1246.9 166.8 1251.7 171.7 1257.1 172.3 1262 173.5 1266.6 177.8 1272.3 179.8 1277.2 182.2 1282.2 187.5 1287.5 189.4 1292 192.1 1297.9 196.6 1302 201.2 1307.8 204 1312.9 209.2 1317.7 212.1 1323.1 218.3 1327.6 225.2 1332.7 231.6 1338.3 240.9 1343.3 248.9 1349 260.7 1353.9 269.7 1359.3 280.7 1364.3 295.8 1369.3 314.1 1374.3 336.1 1379.1 354.9 1384.2 367.2 1390.3 385.1 1394.2 384 1400 396.4 1405.9 396.8 1411 402.8 1416.7 410.6 1421.9 409 1426.6 412.2 1432.5 413.3 1437.6 413.4 1444 421.5 1449.7 423.9 1454.5 424.3 1460.4 434.1 1465.8 426.9 1471.1 424.5 1477.3 425.8" fill="none" stroke="none" marker-start="url(#mB8)" marker-mid="url(#mB8)" marker-end="url(#mB8)"/>
<polyline points="1208.6,159.1 1210.2,159.4 1211.7,159.8 1213.3,160.1 1214.9,160.4 1216.4,160.7 1218,161 1219.6,161.4 1221.2,161.7 1222.7,162 1224.3,162.3 1225.9,162.7 1227.5,163 1229.1,163.3 1230.6,163.7 1232.2,164 1233.8,164.3 1235.4,164.7 1237,165 1238.6,165.4 1240.2,165.7 1241.8,166.1 1243.4,166.5 1245,166.9 1246.6,167.4 1248.2,168 1249.8,168.6 1251.4,169.2 1253.1,169.9 1254.7,170.6 1256.3,171.4 1257.9,172.2 1259.5,173 1261.1,173.8 1262.8,174.7 1264.4,175.6 1266,176.5 1267.7,177.4 1269.3,178.4 1270.9,179.3 1272.6,180.3 1274.2,181.2 1275.8,182.2 1277.5,183.1 1279.1,184 1280.8,185 1282.4,186 1284.1,187 1285.7,188 1287.4,189.1 1289,190.2 1290.7,191.4 1292.3,192.5 1294,193.7 1295.6,194.9 1297.3,196.1 1299,197.4 1300.6,198.6 1302.3,199.9 1304,201.2 1305.6,202.6 1307.3,203.9 1309,205.3 1310.7,206.7 1312.3,208.1 1314,209.5 1315.7,210.9 1317.4,212.5 1319.1,214.2 1320.7,216 1322.4,217.9 1324.1,220 1325.8,222.1 1327.5,224.4 1329.2,226.7 1330.8,229.1 1332.5,231.5 1334.2,234 1335.9,236.4 1337.6,238.9 1339.3,241.5 1341,244.1 1342.7,246.9 1344.3,249.7 1346,252.7 1347.7,256 1349.4,259.4 1351.1,263 1352.8,266.8 1354.5,270.6 1356.1,274.4 1357.8,278.2 1359.5,282.3 1361.2,286.7 1362.9,291.4 1364.5,296.7 1366.2,302.3 1367.9,308.3 1369.5,314.7 1371.1,321.4 1372.8,328.3 1374.4,335.5 1376.1,342.5 1377.7,348.9 1379.4,354.6 1381,359.7 1382.7,364.5 1384.4,368.9 1386.1,372.9 1387.8,376.6 1389.5,380 1391.2,383.1 1392.9,386.1 1394.6,388.9 1396.3,391.4 1398,393.7 1399.8,395.8 1401.5,397.7 1403.3,399.5 1405,401.1 1406.7,402.6 1408.5,404 1410.3,405.2 1412,406.4 1413.8,407.4 1415.6,408.4 1417.3,409.2 1419.1,410 1420.9,410.7 1422.7,411.4 1424.5,412 1426.2,412.7 1428,413.3 1429.8,413.9 1431.6,414.5 1433.4,415.1 1435.2,415.6 1437,416.2 1438.9,416.7 1440.7,417.2 1442.5,417.8 1444.3,418.3 1446.1,418.7 1447.9,419.2 1449.8,419.7 1451.6,420.2 1453.4,420.7 1455.3,421.2 1457.1,421.7 1458.9,422.2 1460.8,422.7 1462.6,423.2 1464.4,423.6 1466.3,424.1 1468.1,424.6 1470,425.1 1471.8,425.6 1473.7,426.1 1475.6,426.6 1477.4,427.1" stroke="#111" fill="none" stroke-width="1.4"/>
<marker id="mB12" markerUnits="userSpaceOnUse" markerWidth="12" markerHeight="12" refX="6" refY="6" overflow="visible"><circle cx="6" cy="6" r="4.6" fill="none" stroke="#83e3f9" stroke-width="0.85"/></marker>
<path d="M1202.2 145V154.2M1207.6 157.2V167.9M1211.6 160.5V165.6M1216.7 160.5V165.2M1220.9 162.4V165.1M1227 161.9V164.5M1231.3 166V168M1236.5 168.3V169.7M1240.6 167.9V169.2M1245.6 170.1V171.1M1251.7 172.9V173.7M1255.9 175V175.9M1260.8 179.2V180M1266.2 181.4V182M1271.2 184.6V185.2M1275.3 186.3V187.3M1280.7 189V189.7M1286.2 193.9V194.5M1291.3 198.3V199.1M1296.5 200.3V201M1301.3 204.7V205.3M1306.5 210V210.6M1311.8 216.3V217.2M1316.6 220.6V221.4M1321.8 226V226.8M1327 233.1V234M1332.4 242.2V243.2M1337.6 249.2V250.4M1342.6 259.8V261M1347.9 271V272.2M1353.1 281.8V283.3M1358.4 297.7V299.2M1363.5 315.2V317M1367.9 332.4V334.6M1373.9 355.1V357.9M1377.9 369.6V372.9M1384 382.7V386.6M1388.7 393.2V396.7M1394.5 400.9V406.2M1400.1 402.8V407.2M1404.2 407.7V412.7M1410.6 415.2V422.9M1416 409.7V416.4M1421.1 416.9V425.4M1427 416.7V425.4M1432.2 415.2V427.8M1438.1 415.9V427.4M1443.1 418.9V430.8M1449.1 434.1V458.6M1455.1 417.1V436.7M1460.6 425.6V451.1M1465.4 434V489.1M1471.7 447.5V531.5" stroke="#83e3f9" fill="none" stroke-width="0.85"/>
<path d="M1202.2 147.5 1207.6 161.1 1211.6 162.5 1216.7 162 1220.9 163.6 1227 162.7 1231.3 166.6 1236.5 168.8 1240.6 168.4 1245.6 170.4 1251.7 173.1 1255.9 175.3 1260.8 179.4 1266.2 181.5 1271.2 184.8 1275.3 186.6 1280.7 189.3 1286.2 194.1 1291.3 198.5 1296.5 200.6 1301.3 204.9 1306.5 210.1 1311.8 216.6 1316.6 220.8 1321.8 226.3 1327 233.4 1332.4 242.5 1337.6 249.6 1342.6 260.3 1347.9 271.5 1353.1 282.2 1358.4 298.2 1363.5 315.9 1367.9 333.1 1373.9 355.8 1377.9 370.7 1384 383.6 1388.7 394.3 1394.5 402.3 1400.1 403.8 1404.2 409.3 1410.6 417.9 1416 412.2 1421.1 419.1 1427 419.1 1432.2 417.6 1438.1 419.2 1443.1 422.9 1449.1 439 1455.1 422.2 1460.6 432.2 1465.4 443 1471.7 460.4" fill="none" stroke="none" marker-start="url(#mB12)" marker-mid="url(#mB12)" marker-end="url(#mB12)"/>
<polyline points="1202.4,160.6 1203.9,160.9 1205.5,161.2 1207.1,161.5 1208.6,161.8 1210.2,162.2 1211.8,162.5 1213.3,162.8 1214.9,163.1 1216.5,163.5 1218.1,163.8 1219.7,164.1 1221.2,164.4 1222.8,164.8 1224.4,165.1 1226,165.5 1227.6,165.8 1229.2,166.1 1230.8,166.5 1232.4,166.9 1234,167.2 1235.6,167.6 1237.2,168 1238.8,168.4 1240.4,168.9 1242,169.4 1243.6,170 1245.3,170.7 1246.9,171.4 1248.5,172.1 1250.1,172.9 1251.7,173.6 1253.4,174.5 1255,175.3 1256.6,176.2 1258.2,177.1 1259.9,178 1261.5,178.9 1263.1,179.9 1264.8,180.8 1266.4,181.8 1268.1,182.7 1269.7,183.7 1271.3,184.6 1273,185.5 1274.6,186.5 1276.3,187.5 1277.9,188.5 1279.6,189.6 1281.2,190.7 1282.9,191.8 1284.6,192.9 1286.2,194.1 1287.9,195.2 1289.5,196.4 1291.2,197.7 1292.9,198.9 1294.5,200.2 1296.2,201.5 1297.9,202.8 1299.6,204.1 1301.2,205.5 1302.9,206.9 1304.6,208.2 1306.3,209.7 1308,211.1 1309.6,212.5 1311.3,214.1 1313,215.8 1314.7,217.6 1316.4,219.5 1318.1,221.6 1319.8,223.8 1321.4,226 1323.1,228.4 1324.8,230.8 1326.5,233.2 1328.2,235.6 1329.9,238.1 1331.6,240.6 1333.3,243.2 1335,245.8 1336.7,248.6 1338.4,251.4 1340.1,254.4 1341.8,257.7 1343.4,261.1 1345.1,264.8 1346.8,268.5 1348.5,272.3 1350.2,276.1 1351.9,280 1353.6,284.1 1355.3,288.5 1356.9,293.2 1358.6,298.5 1360.3,304.1 1362,310.1 1363.6,316.5 1365.3,323.2 1366.9,330.2 1368.6,337.4 1370.2,344.5 1371.9,351 1373.5,356.7 1375.2,361.9 1376.9,366.7 1378.6,371.1 1380.3,375.2 1382,378.9 1383.7,382.3 1385.4,385.5 1387.1,388.5 1388.8,391.3 1390.5,393.9 1392.3,396.2 1394,398.3 1395.7,400.3 1397.5,402 1399.2,403.7 1401,405.2 1402.7,406.6 1404.5,407.9 1406.3,409.1 1408,410.1 1409.8,411.1 1411.6,411.9 1413.4,412.7 1415.1,413.4 1416.9,414.1 1418.7,414.8 1420.5,415.4 1422.3,416 1424.1,416.7 1425.9,417.3 1427.7,417.8 1429.5,418.4 1431.3,419 1433.2,419.5 1435,420 1436.8,420.5 1438.6,421 1440.4,421.5 1442.3,422 1444.1,422.5 1445.9,423 1447.7,423.5 1449.6,424 1451.4,424.5 1453.3,425 1455.1,425.5 1456.9,426 1458.8,426.5 1460.6,427 1462.5,427.5 1464.4,428 1466.2,428.5 1468.1,429 1469.9,429.5 1471.8,430" stroke="#111" fill="none" stroke-width="1.4"/>
<marker id="mB16" markerUnits="userSpaceOnUse" markerWidth="12" markerHeight="12" refX="6" refY="6" overflow="visible"><circle cx="6" cy="6" r="4.6" fill="none" stroke="#7fe2f9" stroke-width="0.85"/></marker>
<path d="M1195.3 156.2V175M1200.2 158.7V166.6M1205.5 159.6V166.4M1209.8 158.3V162.2M1215.8 165.3V168.4M1220.5 165V167.3M1224.2 168.4V170.4M1229.6 166.4V167.9M1235.3 171.1V172.1M1240.3 173.1V174.3M1245.1 174.5V175.4M1249.1 176V176.9M1254.5 180V180.5M1260.1 183.3V184M1264.7 184.1V184.8M1269.6 188.2V188.9M1275 193.1V193.8M1280.3 195.9V196.6M1285 197.6V198.2M1290.2 202.7V203.4M1295.6 206.7V207.3M1300.2 209.2V210M1305.2 216.2V216.9M1311 221.6V222.2M1315.4 228.5V229.3M1321.2 236V236.9M1325.9 242.2V243.3M1331.7 253.7V255M1336.2 260.1V261.2M1342.3 273.3V274.6M1347.1 283.1V284.6M1352 299.2V301M1356.9 317.2V319.4M1362.3 337.2V339.4M1367 358.5V361.9M1372.1 371V373.7M1378.2 383.7V386.7M1383.2 395.3V399M1388.8 400.8V405.7M1393.1 408V413.3M1398.1 417V426.1M1403.8 415.9V424.6M1410.1 421.6V431.2M1415.8 415.6V425.4M1420.1 422.3V430.6M1426.9 419.8V432.5M1431.9 420.2V433.8M1437.3 416.5V434.7M1443.2 423V448M1449.1 425.2V444.6M1454.6 421.5V439.6M1460.5 414.1V437.2M1465.6 425.1V448" stroke="#7fe2f9" fill="none" stroke-width="0.85"/>
<path d="M1195.3 159.4 1200.2 161.7 1205.5 161.7 1209.8 159.6 1215.8 166.6 1220.5 165.7 1224.2 169 1229.6 166.8 1235.3 171.4 1240.3 173.4 1245.1 174.7 1249.1 176.2 1254.5 180.1 1260.1 183.6 1264.7 184.3 1269.6 188.4 1275 193.4 1280.3 196.1 1285 197.8 1290.2 203 1295.6 206.9 1300.2 209.5 1305.2 216.5 1311 221.8 1315.4 228.7 1321.2 236.3 1325.9 242.6 1331.7 254.2 1336.2 260.4 1342.3 273.7 1347.1 283.7 1352 299.7 1356.9 318.1 1362.3 337.8 1367 359.5 1372.1 372 1378.2 384.7 1383.2 396.6 1388.8 402.2 1393.1 409 1398.1 419.3 1403.8 418.6 1410.1 424.4 1415.8 418.6 1420.1 424.7 1426.9 423 1431.9 424 1437.3 419.8 1443.2 429 1449.1 431.3 1454.6 426.3 1460.5 419.9 1465.6 433.7" fill="none" stroke="none" marker-start="url(#mB16)" marker-mid="url(#mB16)" marker-end="url(#mB16)"/>
<polyline points="1195.9,162.1 1197.5,162.4 1199,162.7 1200.6,163 1202.2,163.3 1203.8,163.7 1205.3,164 1206.9,164.3 1208.5,164.6 1210.1,165 1211.6,165.3 1213.2,165.6 1214.8,166 1216.4,166.3 1218,166.6 1219.6,167 1221.2,167.3 1222.8,167.7 1224.4,168 1226,168.4 1227.6,168.7 1229.2,169.1 1230.8,169.5 1232.4,169.9 1234,170.4 1235.6,171 1237.2,171.6 1238.9,172.2 1240.5,172.9 1242.1,173.6 1243.7,174.4 1245.3,175.2 1247,176 1248.6,176.9 1250.2,177.7 1251.9,178.6 1253.5,179.5 1255.1,180.5 1256.8,181.4 1258.4,182.4 1260.1,183.3 1261.7,184.3 1263.3,185.2 1265,186.2 1266.6,187.1 1268.3,188.1 1269.9,189.1 1271.6,190.1 1273.3,191.2 1274.9,192.2 1276.6,193.4 1278.2,194.5 1279.9,195.7 1281.6,196.8 1283.2,198 1284.9,199.3 1286.6,200.5 1288.2,201.8 1289.9,203.1 1291.6,204.4 1293.3,205.8 1295,207.1 1296.6,208.5 1298.3,209.9 1300,211.3 1301.7,212.7 1303.4,214.2 1305.1,215.8 1306.7,217.5 1308.4,219.3 1310.1,221.2 1311.8,223.3 1313.5,225.4 1315.2,227.7 1316.9,230.1 1318.6,232.5 1320.3,234.9 1322,237.4 1323.7,239.8 1325.4,242.3 1327.1,244.9 1328.8,247.6 1330.5,250.3 1332.2,253.2 1333.9,256.2 1335.6,259.5 1337.3,262.9 1339,266.5 1340.7,270.3 1342.4,274.1 1344.1,278 1345.7,281.9 1347.4,286 1349.1,290.3 1350.8,295.1 1352.5,300.3 1354.2,306 1355.9,312 1357.5,318.4 1359.2,325.2 1360.8,332.1 1362.5,339.4 1364.1,346.6 1365.8,353.1 1367.5,358.8 1369.2,364.1 1370.8,368.9 1372.5,373.4 1374.2,377.5 1375.9,381.3 1377.6,384.8 1379.4,388 1381.1,391 1382.8,393.8 1384.5,396.4 1386.3,398.8 1388,400.9 1389.7,402.9 1391.5,404.7 1393.2,406.3 1395,407.9 1396.8,409.3 1398.5,410.6 1400.3,411.8 1402.1,412.9 1403.9,413.8 1405.6,414.7 1407.4,415.5 1409.2,416.2 1411,416.9 1412.8,417.6 1414.6,418.2 1416.4,418.9 1418.2,419.5 1420,420.1 1421.8,420.7 1423.6,421.3 1425.4,421.8 1427.2,422.4 1429.1,422.9 1430.9,423.4 1432.7,423.9 1434.5,424.4 1436.4,424.9 1438.2,425.4 1440,425.9 1441.9,426.4 1443.7,426.9 1445.6,427.4 1447.4,427.9 1449.2,428.4 1451.1,428.9 1452.9,429.4 1454.8,429.9 1456.7,430.4 1458.5,430.9 1460.4,431.4 1462.2,431.9 1464.1,432.4 1466,432.9" stroke="#111" fill="none" stroke-width="1.4"/>
<marker id="mB20" markerUnits="userSpaceOnUse" markerWidth="12" markerHeight="12" refX="6" refY="6" overflow="visible"><circle cx="6" cy="6" r="4.6" fill="none" stroke="#7be1f9" stroke-width="0.85"/></marker>
<path d="M1190.2 154.7V175.2M1194.3 151.6V157.3M1199.2 158.8V165.1M1204 162V166.9M1209 166.4V169.5M1213.4 165.9V168.5M1218.4 166.6V168.3M1222.9 169.4V171.4M1228.2 171.1V172.5M1232.9 173.6V174.8M1237.9 175.6V176.6M1242.3 178V179M1247.6 180.9V181.7M1252.4 183.9V184.9M1257.6 186.6V187.3M1262.3 190.7V191.6M1266.9 190.8V191.5M1272.6 195.8V196.4M1277 197.6V198.3M1282.4 202.9V203.6M1286.5 206.6V207.3M1292.6 211.2V211.9M1297.7 215.4V216.1M1302.2 220.7V221.6M1307.9 227.5V228.3M1312.6 231.4V232.1M1318.4 240.8V241.8M1323.2 250V251.1M1327.5 256V257M1333.1 268.7V270.1M1337.6 275.5V277.1M1343.2 292.5V294.2M1348.7 306.2V308.5M1353.8 327.5V329.8M1358.4 347.2V349.4M1363.3 366.2V369.4M1368.6 379.3V382.9M1373.4 390.3V393.4M1379 399.7V404.5M1384.6 404.1V407.6M1389.6 402.9V406.6M1395 414.3V419M1399.8 412.6V417.7M1405.2 416.9V425.5M1410.9 421.4V430.4M1417.2 416.6V424.1M1421.4 451.5V477.9M1428 417.6V429.6M1432.7 423.2V435.5M1438.8 423.6V439.5M1442.8 430.2V457.1M1449.5 430.2V456.6M1454.3 417.2V433.7M1460.2 452.5V549.5" stroke="#7be1f9" fill="none" stroke-width="0.85"/>
<path d="M1190.2 158.8 1194.3 153.8 1199.2 161.1 1204 163.8 1209 167.5 1213.4 166.5 1218.4 167.1 1222.9 170 1228.2 171.6 1232.9 174 1237.9 175.9 1242.3 178.3 1247.6 181.1 1252.4 184.2 1257.6 186.8 1262.3 191 1266.9 191 1272.6 195.9 1277 198 1282.4 203.1 1286.5 206.8 1292.6 211.5 1297.7 215.8 1302.2 221.1 1307.9 227.7 1312.6 231.7 1318.4 241.1 1323.2 250.2 1327.5 256.2 1333.1 269.1 1337.6 276.1 1343.2 293.1 1348.7 307.1 1353.8 328.2 1358.4 348.1 1363.3 367.3 1368.6 380.3 1373.4 391.4 1379 400.9 1384.6 404.7 1389.6 404.3 1395 415.6 1399.8 414.1 1405.2 419.4 1410.9 424.3 1417.2 418.3 1421.4 459.8 1428 421.3 1432.7 427.4 1438.8 428.7 1442.8 436.7 1449.5 434.6 1454.3 421.8 1460.2 466.3" fill="none" stroke="none" marker-start="url(#mB20)" marker-mid="url(#mB20)" marker-end="url(#mB20)"/>
<polyline points="1189.8,163.4 1191.4,163.8 1193,164.1 1194.5,164.4 1196.1,164.7 1197.7,165.1 1199.3,165.4 1200.8,165.7 1202.4,166 1204,166.4 1205.6,166.7 1207.2,167 1208.8,167.4 1210.4,167.7 1212,168.1 1213.5,168.4 1215.1,168.7 1216.7,169.1 1218.3,169.5 1219.9,169.8 1221.6,170.2 1223.2,170.5 1224.8,170.9 1226.4,171.4 1228,171.9 1229.6,172.4 1231.2,173 1232.8,173.6 1234.5,174.3 1236.1,175 1237.7,175.8 1239.3,176.6 1241,177.4 1242.6,178.3 1244.2,179.2 1245.9,180.1 1247.5,181 1249.2,181.9 1250.8,182.9 1252.4,183.8 1254.1,184.8 1255.7,185.7 1257.4,186.7 1259,187.6 1260.7,188.6 1262.3,189.6 1264,190.6 1265.7,191.6 1267.3,192.7 1269,193.7 1270.6,194.8 1272.3,196 1274,197.2 1275.6,198.3 1277.3,199.6 1279,200.8 1280.7,202.1 1282.3,203.3 1284,204.6 1285.7,206 1287.4,207.3 1289,208.7 1290.7,210.1 1292.4,211.5 1294.1,212.9 1295.8,214.3 1297.5,215.8 1299.2,217.4 1300.9,219 1302.6,220.8 1304.3,222.8 1306,224.8 1307.6,227 1309.3,229.3 1311,231.6 1312.7,234 1314.4,236.5 1316.1,239 1317.8,241.4 1319.5,244 1321.2,246.5 1323,249.2 1324.7,252 1326.4,254.8 1328.1,257.9 1329.8,261.1 1331.5,264.6 1333.2,268.2 1334.9,272 1336.6,275.8 1338.3,279.7 1340,283.6 1341.7,287.7 1343.4,292.1 1345.1,296.8 1346.8,302.1 1348.4,307.8 1350.1,313.8 1351.8,320.2 1353.5,327 1355.1,333.9 1356.8,341.2 1358.4,348.5 1360.1,355 1361.8,360.9 1363.5,366.2 1365.2,371.1 1366.9,375.6 1368.6,379.7 1370.3,383.5 1372,387 1373.7,390.3 1375.4,393.4 1377.2,396.2 1378.9,398.8 1380.6,401.2 1382.4,403.4 1384.1,405.4 1385.9,407.2 1387.6,408.9 1389.4,410.4 1391.2,411.9 1392.9,413.2 1394.7,414.4 1396.5,415.5 1398.3,416.5 1400,417.3 1401.8,418.1 1403.6,418.8 1405.4,419.6 1407.2,420.2 1409,420.9 1410.8,421.5 1412.6,422.2 1414.4,422.8 1416.3,423.4 1418.1,424 1419.9,424.5 1421.7,425.1 1423.5,425.6 1425.4,426.1 1427.2,426.6 1429,427.1 1430.8,427.6 1432.7,428.1 1434.5,428.6 1436.4,429.1 1438.2,429.6 1440,430.1 1441.9,430.6 1443.7,431.2 1445.6,431.7 1447.5,432.2 1449.3,432.7 1451.2,433.2 1453,433.7 1454.9,434.2 1456.8,434.7 1458.6,435.2 1460.5,435.7" stroke="#111" fill="none" stroke-width="1.4"/>
<marker id="mB24" markerUnits="userSpaceOnUse" markerWidth="12" markerHeight="12" refX="6" refY="6" overflow="visible"><circle cx="6" cy="6" r="4.6" fill="none" stroke="#77e0f8" stroke-width="0.85"/></marker>
<path d="M1184.5 150.9V165.9M1188.9 154.6V162.1M1193.4 159.5V167M1197.7 163.9V168M1203 167.2V170M1207.5 166.3V168.8M1212.3 169.3V171.3M1216.7 170.7V172.2M1222.2 172.4V173.9M1226.9 175V175.8M1231.5 178.3V179M1236.3 180.2V181M1241.4 183.1V184.2M1245.9 184.5V185.4M1251.2 188.3V189.1M1256.9 191.4V192.2M1261.1 193.3V194M1267.2 197.8V198.5M1270.8 198.7V199.4M1276.8 205V205.7M1281.9 209.9V210.5M1287 212V212.7M1291.8 217.7V218.5M1296 221.6V222.4M1302.2 227.8V228.8M1307.3 235.9V236.8M1312 242V242.9M1316.2 249.8V251M1322.7 260.3V261.7M1327 267.9V269.2M1332.4 281.5V282.9M1338.1 295.2V297M1343.2 311V312.5M1347.9 326.5V328.2M1352.5 346.3V348.3M1358.5 369.1V372.3M1363.4 381.7V384.7M1368 392.2V396M1372.9 396.7V400.4M1378.6 405.4V410.4M1383.3 408.6V413.1M1389 458.5V474.9M1394.7 415.6V422.4M1399.2 444V464.9M1405.5 419.5V425.4M1410 419.1V429.3M1416.1 424.3V433M1421.3 427.9V442.4M1426.5 422.8V435.5M1432.2 434.5V455.2M1438.6 420.1V438.3M1443.2 426.8V454.8M1449.1 440.3V508.8M1454.7 421.5V450.8" stroke="#77e0f8" fill="none" stroke-width="0.85"/>
<path d="M1184.5 154.6 1188.9 156.3 1193.4 161.2 1197.7 165.3 1203 168.1 1207.5 167.1 1212.3 169.9 1216.7 171.3 1222.2 172.7 1226.9 175.3 1231.5 178.6 1236.3 180.5 1241.4 183.4 1245.9 184.8 1251.2 188.6 1256.9 191.7 1261.1 193.5 1267.2 198 1270.8 198.9 1276.8 205.3 1281.9 210.1 1287 212.2 1291.8 218 1296 221.8 1302.2 228.2 1307.3 236.1 1312 242.3 1316.2 250.1 1322.7 260.7 1327 268.3 1332.4 281.9 1338.1 295.7 1343.2 311.5 1347.9 327 1352.5 347.1 1358.5 369.9 1363.4 382.9 1368 394 1372.9 397.8 1378.6 406.9 1383.3 410 1389 462.3 1394.7 417.5 1399.2 449.9 1405.5 421.3 1410 421.6 1416.1 427.4 1421.3 430.8 1426.5 426.7 1432.2 439.9 1438.6 424.8 1443.2 432.2 1449.1 446.7 1454.7 427.3" fill="none" stroke="none" marker-start="url(#mB24)" marker-mid="url(#mB24)" marker-end="url(#mB24)"/>
<polyline points="1183.7,164.9 1185.3,165.2 1186.9,165.5 1188.4,165.8 1190,166.2 1191.6,166.5 1193.2,166.8 1194.8,167.1 1196.3,167.5 1197.9,167.8 1199.5,168.1 1201.1,168.5 1202.7,168.8 1204.3,169.1 1205.9,169.5 1207.5,169.8 1209.1,170.2 1210.7,170.5 1212.3,170.9 1213.9,171.3 1215.5,171.6 1217.1,172 1218.7,172.4 1220.3,172.8 1221.9,173.3 1223.6,173.8 1225.2,174.4 1226.8,175.1 1228.4,175.8 1230.1,176.5 1231.7,177.2 1233.3,178 1234.9,178.9 1236.6,179.7 1238.2,180.6 1239.9,181.5 1241.5,182.4 1243.1,183.4 1244.8,184.3 1246.4,185.3 1248.1,186.2 1249.7,187.2 1251.4,188.2 1253,189.1 1254.7,190.1 1256.3,191.1 1258,192.1 1259.7,193.1 1261.3,194.2 1263,195.2 1264.7,196.4 1266.3,197.5 1268,198.7 1269.7,199.9 1271.3,201.1 1273,202.3 1274.7,203.6 1276.4,204.9 1278.1,206.2 1279.7,207.5 1281.4,208.9 1283.1,210.2 1284.8,211.6 1286.5,213 1288.2,214.4 1289.9,215.9 1291.6,217.4 1293.3,218.9 1294.9,220.6 1296.6,222.4 1298.3,224.3 1300,226.4 1301.7,228.6 1303.4,230.9 1305.1,233.2 1306.8,235.7 1308.6,238.1 1310.3,240.6 1312,243.1 1313.7,245.6 1315.4,248.2 1317.1,250.9 1318.8,253.6 1320.5,256.5 1322.2,259.5 1323.9,262.8 1325.6,266.3 1327.3,269.9 1329,273.7 1330.8,277.5 1332.5,281.4 1334.2,285.3 1335.9,289.4 1337.6,293.8 1339.3,298.6 1341,303.8 1342.7,309.5 1344.3,315.5 1346,322 1347.7,328.8 1349.4,335.8 1351,343.1 1352.7,350.4 1354.4,357 1356.1,362.9 1357.8,368.3 1359.5,373.2 1361.2,377.8 1362.9,382 1364.6,385.8 1366.3,389.3 1368,392.7 1369.8,395.8 1371.5,398.6 1373.2,401.3 1375,403.7 1376.7,405.9 1378.5,407.9 1380.2,409.7 1382,411.4 1383.8,413 1385.5,414.5 1387.3,415.8 1389.1,417 1390.9,418.1 1392.6,419.1 1394.4,420 1396.2,420.8 1398,421.5 1399.8,422.2 1401.6,422.9 1403.4,423.6 1405.2,424.2 1407,424.9 1408.8,425.5 1410.7,426.1 1412.5,426.7 1414.3,427.2 1416.1,427.8 1417.9,428.3 1419.8,428.9 1421.6,429.4 1423.4,429.9 1425.3,430.4 1427.1,430.9 1429,431.4 1430.8,431.9 1432.7,432.4 1434.5,432.9 1436.4,433.4 1438.2,433.9 1440.1,434.4 1441.9,434.9 1443.8,435.4 1445.6,436 1447.5,436.5 1449.4,437 1451.3,437.5 1453.1,438 1455,438.5" stroke="#111" fill="none" stroke-width="1.4"/>
<marker id="mB28" markerUnits="userSpaceOnUse" markerWidth="12" markerHeight="12" refX="6" refY="6" overflow="visible"><circle cx="6" cy="6" r="4.6" fill="none" stroke="#72dff8" stroke-width="0.85"/></marker>
<path d="M1176.7 162.8V177.3M1181.4 160.3V170.1M1186.4 165.4V172.1M1192.2 164.8V169.8M1196.1 166.6V170M1201 168.4V170.5M1205.5 171.5V173.6M1211.1 171.6V172.9M1215.8 174.1V176M1219.6 176.6V177.6M1224.8 178.3V179.2M1229.4 181.3V182M1234.6 184V184.8M1239.6 186.7V187.6M1244.4 188.9V189.7M1249.6 191.5V192.2M1255.1 196.7V197.3M1260.3 199.8V200.4M1264.9 202.6V203.3M1270.2 206.5V207.3M1274.5 210.1V210.6M1280.7 214.4V215.1M1286.1 219.8V220.7M1290.2 225.7V226.3M1295.6 229V230M1300.6 238.7V239.5M1304.8 241.5V242.3M1311.2 252.7V253.6M1316.1 260.8V262.5M1320.4 271.8V273.4M1326 282V283.6M1331.8 296.7V298.3M1336.6 313.1V314.5M1341 327.2V329M1346.3 349.6V351.7M1351.4 366.6V369.3M1356.8 386V388.5M1361.6 395.5V399.6M1367.2 399.8V404M1372.3 408V413.6M1376.3 458.4V477M1383.1 419.4V425.8M1388.5 419.8V425.4M1393.5 420.5V428.4M1399.4 429.8V439.1M1405.5 429.3V444.1M1409.4 426.3V438.8M1415.8 422.6V435.5M1421.4 432.3V571.7M1426.8 427.7V439.6M1431.8 436.3V464.6M1438.5 440.1V465.5M1443.3 428.8V453.6M1448.7 444.3V496.9" stroke="#72dff8" fill="none" stroke-width="0.85"/>
<path d="M1176.7 166.1 1181.4 162.6 1186.4 167.3 1192.2 166.2 1196.1 167.7 1201 169.1 1205.5 172 1211.1 172 1215.8 174.7 1219.6 176.9 1224.8 178.7 1229.4 181.5 1234.6 184.2 1239.6 187 1244.4 189.1 1249.6 191.8 1255.1 196.9 1260.3 200 1264.9 202.8 1270.2 206.7 1274.5 210.3 1280.7 214.6 1286.1 220.1 1290.2 225.9 1295.6 229.2 1300.6 239 1304.8 241.7 1311.2 253 1316.1 261.3 1320.4 272.3 1326 282.5 1331.8 297.2 1336.6 313.5 1341 327.6 1346.3 350.2 1351.4 367.6 1356.8 387 1361.6 396.3 1367.2 400.9 1372.3 409.3 1376.3 464.1 1383.1 421.5 1388.5 421.8 1393.5 422.3 1399.4 432.1 1405.5 432.2 1409.4 429.4 1415.8 426 1421.4 436.3 1426.8 431.4 1431.8 442.8 1438.5 448.9 1443.3 434.9 1448.7 452.1" fill="none" stroke="none" marker-start="url(#mB28)" marker-mid="url(#mB28)" marker-end="url(#mB28)"/>
<polyline points="1177.1,166.4 1178.7,166.7 1180.3,167 1181.9,167.3 1183.4,167.7 1185,168 1186.6,168.3 1188.2,168.7 1189.8,169 1191.4,169.3 1192.9,169.7 1194.5,170 1196.1,170.3 1197.7,170.7 1199.3,171 1200.9,171.4 1202.5,171.7 1204.1,172.1 1205.7,172.5 1207.3,172.8 1209,173.2 1210.6,173.6 1212.2,173.9 1213.8,174.4 1215.4,174.8 1217,175.4 1218.7,176 1220.3,176.6 1221.9,177.3 1223.5,178 1225.2,178.8 1226.8,179.6 1228.4,180.4 1230.1,181.3 1231.7,182.2 1233.4,183.1 1235,184 1236.6,184.9 1238.3,185.9 1239.9,186.9 1241.6,187.8 1243.2,188.8 1244.9,189.8 1246.6,190.7 1248.2,191.7 1249.9,192.7 1251.5,193.7 1253.2,194.7 1254.9,195.8 1256.5,196.9 1258.2,198 1259.9,199.1 1261.6,200.3 1263.2,201.5 1264.9,202.7 1266.6,204 1268.3,205.2 1269.9,206.5 1271.6,207.8 1273.3,209.2 1275,210.5 1276.7,211.9 1278.4,213.3 1280.1,214.7 1281.8,216.1 1283.5,217.6 1285.2,219.1 1286.9,220.6 1288.6,222.3 1290.3,224.1 1292,226 1293.7,228.1 1295.4,230.3 1297.1,232.6 1298.8,235 1300.5,237.4 1302.2,239.8 1303.9,242.3 1305.6,244.8 1307.3,247.4 1309,250 1310.8,252.6 1312.5,255.4 1314.2,258.3 1315.9,261.3 1317.6,264.6 1319.3,268.1 1321,271.7 1322.8,275.5 1324.5,279.4 1326.2,283.3 1327.9,287.2 1329.6,291.3 1331.3,295.7 1333,300.5 1334.7,305.7 1336.4,311.4 1338.1,317.5 1339.8,323.9 1341.5,330.7 1343.2,337.8 1344.9,345.1 1346.5,352.5 1348.2,359.2 1349.9,365.1 1351.6,370.5 1353.3,375.5 1355,380.1 1356.7,384.4 1358.4,388.2 1360.2,391.8 1361.9,395.2 1363.6,398.3 1365.4,401.2 1367.1,403.9 1368.9,406.3 1370.6,408.6 1372.4,410.6 1374.1,412.5 1375.9,414.2 1377.7,415.8 1379.4,417.3 1381.2,418.6 1383,419.8 1384.8,421 1386.6,422 1388.4,422.8 1390.2,423.6 1392,424.4 1393.8,425.1 1395.6,425.8 1397.4,426.5 1399.2,427.1 1401,427.8 1402.8,428.4 1404.6,429 1406.4,429.6 1408.3,430.2 1410.1,430.7 1411.9,431.3 1413.8,431.8 1415.6,432.3 1417.4,432.8 1419.3,433.3 1421.1,433.8 1423,434.4 1424.8,434.9 1426.7,435.4 1428.5,435.9 1430.4,436.4 1432.2,436.9 1434.1,437.4 1436,437.9 1437.8,438.4 1439.7,439 1441.6,439.5 1443.4,440 1445.3,440.5 1447.2,441 1449.1,441.5" stroke="#111" fill="none" stroke-width="1.4"/>
<marker id="mB32" markerUnits="userSpaceOnUse" markerWidth="12" markerHeight="12" refX="6" refY="6" overflow="visible"><circle cx="6" cy="6" r="4.6" fill="none" stroke="#6edef8" stroke-width="0.85"/></marker>
<path d="M1170 154.9V168.5M1175.2 159.5V168.9M1180 161.3V167.9M1185 168.6V172.9M1189.9 167.4V170.3M1195 172.1V173.9M1199.2 173.5V175.3M1204 174.7V176.3M1208.6 176.1V177.3M1214.1 177.1V178.1M1218.6 181.3V182.6M1223.7 182.3V182.9M1228.7 185.4V186.3M1233.4 189.5V190.2M1238.3 192V192.8M1243.4 193.6V194.5M1248.4 196.2V196.8M1253.4 199.8V200.6M1258.4 201.6V202.2M1263.5 207.8V208.4M1269 213.6V214.3M1273.4 216V216.7M1278.8 221.3V221.9M1283.8 228.1V228.9M1289.4 231.2V231.9M1293.9 239.6V240.4M1299.1 247.2V248.2M1304.2 251.7V252.8M1309.9 264.3V265.3M1315 275V276.1M1320 284V285.2M1325.1 294.8V296.3M1331 318.8V320.8M1335.3 334.1V336.4M1339.6 351.9V355.2M1344.8 369V371.4M1350 384V387.2M1355.6 394.2V397.1M1360.3 407.8V411.9M1366.2 412.2V416.9M1371 413.2V418.1M1376.8 426.9V430.9M1382 421.1V427.9M1387.8 428.4V437.8M1393.2 426.3V435.6M1398.1 433.9V442.9M1404.8 428V436.5M1409.1 427.8V438.2M1414.3 455.2V496.5M1420.2 424.6V440.7M1426.4 440.1V466.8M1432.4 429.9V451.9M1436.5 465.2V554.8M1442.2 429.7V450.3" stroke="#6edef8" fill="none" stroke-width="0.85"/>
<path d="M1170 159.1 1175.2 162.6 1180 163.3 1185 170.4 1189.9 168.3 1195 172.6 1199.2 174 1204 175.3 1208.6 176.4 1214.1 177.5 1218.6 181.6 1223.7 182.5 1228.7 185.7 1233.4 189.7 1238.3 192.1 1243.4 193.9 1248.4 196.3 1253.4 200 1258.4 201.8 1263.5 208 1269 213.7 1273.4 216.2 1278.8 221.5 1283.8 228.4 1289.4 231.5 1293.9 239.9 1299.1 247.6 1304.2 252.1 1309.9 264.6 1315 275.3 1320 284.4 1325.1 295.3 1331 319.4 1335.3 335 1339.6 352.5 1344.8 369.7 1350 385 1355.6 395.2 1360.3 409 1366.2 413.7 1371 414.5 1376.8 428.3 1382 422.5 1387.8 431.1 1393.2 429.1 1398.1 436.5 1404.8 431.2 1409.1 431.6 1414.3 464 1420.2 429.5 1426.4 447.7 1432.4 434.9 1436.5 479.5 1442.2 436.5" fill="none" stroke="none" marker-start="url(#mB32)" marker-mid="url(#mB32)" marker-end="url(#mB32)"/>
<polyline points="1170.5,167.9 1172.1,168.2 1173.7,168.5 1175.2,168.9 1176.8,169.2 1178.4,169.5 1180,169.9 1181.6,170.2 1183.2,170.5 1184.7,170.9 1186.3,171.2 1187.9,171.6 1189.5,171.9 1191.1,172.2 1192.7,172.6 1194.3,172.9 1195.9,173.3 1197.5,173.7 1199.1,174 1200.8,174.4 1202.4,174.7 1204,175.1 1205.6,175.5 1207.2,175.9 1208.8,176.4 1210.5,177 1212.1,177.5 1213.7,178.2 1215.3,178.9 1217,179.6 1218.6,180.4 1220.2,181.2 1221.9,182 1223.5,182.9 1225.2,183.7 1226.8,184.7 1228.5,185.6 1230.1,186.5 1231.8,187.5 1233.4,188.4 1235.1,189.4 1236.7,190.4 1238.4,191.4 1240,192.3 1241.7,193.3 1243.4,194.3 1245,195.3 1246.7,196.3 1248.4,197.4 1250,198.5 1251.7,199.6 1253.4,200.8 1255.1,201.9 1256.7,203.1 1258.4,204.4 1260.1,205.6 1261.8,206.9 1263.5,208.2 1265.2,209.5 1266.9,210.8 1268.5,212.2 1270.2,213.6 1271.9,215 1273.6,216.4 1275.3,217.8 1277,219.3 1278.7,220.8 1280.4,222.3 1282.1,224 1283.8,225.8 1285.5,227.8 1287.3,229.8 1289,232 1290.7,234.3 1292.4,236.7 1294.1,239.1 1295.8,241.6 1297.5,244.1 1299.2,246.6 1301,249.1 1302.7,251.8 1304.4,254.4 1306.1,257.2 1307.8,260.1 1309.6,263.2 1311.3,266.4 1313,269.9 1314.7,273.6 1316.4,277.4 1318.1,281.2 1319.9,285.1 1321.6,289.1 1323.3,293.2 1325,297.6 1326.7,302.4 1328.4,307.6 1330.1,313.4 1331.8,319.4 1333.5,325.8 1335.2,332.7 1336.9,339.7 1338.6,347.1 1340.3,354.5 1342,361.3 1343.7,367.3 1345.4,372.8 1347.1,377.8 1348.8,382.5 1350.5,386.8 1352.3,390.7 1354,394.3 1355.7,397.7 1357.5,400.9 1359.2,403.8 1361,406.5 1362.7,409 1364.5,411.3 1366.2,413.3 1368,415.2 1369.8,416.9 1371.5,418.6 1373.3,420.1 1375.1,421.4 1376.9,422.7 1378.7,423.8 1380.5,424.8 1382.2,425.7 1384,426.5 1385.9,427.3 1387.7,428 1389.5,428.7 1391.3,429.4 1393.1,430.1 1394.9,430.7 1396.7,431.3 1398.6,431.9 1400.4,432.5 1402.2,433.1 1404,433.7 1405.9,434.2 1407.7,434.8 1409.5,435.3 1411.4,435.8 1413.2,436.3 1415.1,436.8 1416.9,437.4 1418.8,437.9 1420.6,438.4 1422.5,438.9 1424.3,439.4 1426.2,439.9 1428.1,440.4 1429.9,441 1431.8,441.5 1433.7,442 1435.6,442.5 1437.4,443 1439.3,443.6 1441.2,444.1 1443.1,444.6" stroke="#111" fill="none" stroke-width="1.4"/>
<marker id="mB36" markerUnits="userSpaceOnUse" markerWidth="12" markerHeight="12" refX="6" refY="6" overflow="visible"><circle cx="6" cy="6" r="4.6" fill="none" stroke="#53d6f8" stroke-width="0.85"/></marker>
<path d="M1138.2 160.8V176.3M1143.3 171.3V183M1148.6 173.2V179.7M1153.4 173.2V178M1158.7 178.5V182.5M1163 178.3V181.8M1167.6 180.1V182.2M1173 181.7V183.3M1177.8 183.4V184.9M1182 183.7V184.7M1187.1 185.7V186.5M1192.7 190V190.8M1197.1 192.5V193.3M1202.4 195.5V196.4M1207 197.4V198.2M1212.8 201.4V202.2M1218.2 203.9V204.5M1221.7 205.9V206.8M1227.2 210.6V211.2M1233 216.5V217.2M1237.9 220.3V221M1242.9 224.5V225.1M1247.6 228.6V229.3M1252.6 231.9V232.7M1258.3 240.2V241.2M1264.1 247V247.9M1269.3 255.6V256.7M1275.1 265.2V266.2M1278.6 268.5V269.9M1284.6 283.8V285.6M1289.9 291.9V293.3M1295.8 310.3V312M1300 320.1V322.3M1306.1 343.3V346.3M1310 360.5V362.7M1316.3 384.2V387.6M1320.7 397.5V401M1325.9 408.2V411.4M1331.9 415.2V418.7M1336.8 422V426.8M1342.2 451V459.1M1347.8 431.3V438.5M1352.9 435.6V439.8M1359 439.4V445.6M1364 440.4V449.7M1369.4 436.5V445.3M1374.9 445.5V455.9M1379.9 446.5V459.7M1385.7 450V467.2M1392.1 444.3V460.4M1398 432.5V446.2M1403.1 452.2V474.9M1409.1 464.4V502.3M1414.5 458.5V490.3" stroke="#53d6f8" fill="none" stroke-width="0.85"/>
<path d="M1138.2 165 1143.3 173.8 1148.6 175 1153.4 174.6 1158.7 179.7 1163 179 1167.6 180.8 1173 182.3 1177.8 183.9 1182 184 1187.1 185.9 1192.7 190.2 1197.1 192.7 1202.4 195.7 1207 197.6 1212.8 201.6 1218.2 204.1 1221.7 206.2 1227.2 210.8 1233 216.8 1237.9 220.5 1242.9 224.7 1247.6 228.8 1252.6 232.1 1258.3 240.6 1264.1 247.3 1269.3 256 1275.1 265.5 1278.6 268.9 1284.6 284.3 1289.9 292.4 1295.8 310.8 1300 320.8 1306.1 343.9 1310 361.2 1316.3 385 1320.7 398.5 1325.9 409.3 1331.9 416.1 1336.8 423.5 1342.2 453.1 1347.8 432.7 1352.9 437 1359 440.8 1364 444 1369.4 440 1374.9 448.5 1379.9 449.9 1385.7 453.7 1392.1 448.6 1398 435.9 1403.1 457.2 1409.1 474 1414.5 465.2" fill="none" stroke="none" marker-start="url(#mB36)" marker-mid="url(#mB36)" marker-end="url(#mB36)"/>
<polyline points="1139,175.1 1140.6,175.5 1142.1,175.8 1143.7,176.2 1145.3,176.5 1146.9,176.8 1148.5,177.2 1150.1,177.5 1151.7,177.9 1153.3,178.2 1154.9,178.6 1156.5,178.9 1158.1,179.3 1159.7,179.6 1161.3,180 1162.9,180.3 1164.6,180.7 1166.2,181.1 1167.8,181.5 1169.4,181.8 1171,182.2 1172.7,182.6 1174.3,183 1175.9,183.4 1177.6,183.9 1179.2,184.4 1180.8,185 1182.5,185.6 1184.1,186.3 1185.7,187 1187.4,187.8 1189,188.6 1190.7,189.4 1192.4,190.3 1194,191.2 1195.7,192.1 1197.3,193.1 1199,194 1200.7,195 1202.3,196 1204,197 1205.7,198 1207.3,199 1209,200 1210.7,201 1212.4,202 1214,203 1215.7,204 1217.4,205.1 1219.1,206.2 1220.8,207.4 1222.5,208.5 1224.2,209.7 1225.9,211 1227.6,212.2 1229.3,213.5 1231,214.8 1232.7,216.1 1234.4,217.4 1236.1,218.8 1237.8,220.2 1239.5,221.6 1241.2,223 1242.9,224.5 1244.6,225.9 1246.3,227.4 1248.1,228.9 1249.8,230.5 1251.5,232.2 1253.2,234 1255,235.9 1256.7,238 1258.4,240.2 1260.2,242.5 1261.9,244.9 1263.6,247.4 1265.4,249.9 1267.1,252.5 1268.8,255 1270.6,257.6 1272.3,260.3 1274.1,263 1275.8,265.8 1277.5,268.7 1279.3,271.8 1281,275.1 1282.8,278.6 1284.5,282.3 1286.3,286.1 1288,290.1 1289.8,294.1 1291.5,298.1 1293.3,302.3 1295,306.7 1296.8,311.4 1298.5,316.7 1300.2,322.5 1302,328.6 1303.7,335.1 1305.4,342.1 1307.2,349.3 1308.9,356.8 1310.6,364.4 1312.4,371.6 1314.1,377.9 1315.8,383.6 1317.6,388.9 1319.3,393.8 1321.1,398.3 1322.8,402.4 1324.6,406.2 1326.3,409.8 1328.1,413.1 1329.9,416.2 1331.6,419.1 1333.4,421.7 1335.2,424.1 1337,426.3 1338.7,428.3 1340.5,430.2 1342.3,431.9 1344.1,433.5 1345.9,434.9 1347.7,436.3 1349.5,437.5 1351.3,438.5 1353.2,439.5 1355,440.4 1356.8,441.1 1358.6,441.9 1360.4,442.6 1362.3,443.4 1364.1,444.1 1365.9,444.7 1367.8,445.4 1369.6,446 1371.5,446.6 1373.3,447.2 1375.1,447.8 1377,448.4 1378.9,449 1380.7,449.5 1382.6,450.1 1384.4,450.6 1386.3,451.1 1388.2,451.7 1390,452.2 1391.9,452.7 1393.8,453.3 1395.7,453.8 1397.5,454.3 1399.4,454.9 1401.3,455.4 1403.2,455.9 1405.1,456.5 1407,457 1408.9,457.6 1410.8,458.1 1412.7,458.6 1414.6,459.2" stroke="#111" fill="none" stroke-width="1.4"/>
<marker id="mB40" markerUnits="userSpaceOnUse" markerWidth="12" markerHeight="12" refX="6" refY="6" overflow="visible"><circle cx="6" cy="6" r="4.6" fill="none" stroke="#44d2f7" stroke-width="0.85"/></marker>
<path d="M1123.8 171.4V188.7M1128.7 168.5V174.8M1133.6 173.2V179.4M1138.7 177.1V181.9M1142.9 182.3V185.6M1147.5 180.4V183M1152.9 184.1V185.9M1158.6 184.5V185.9M1162.7 184.7V185.8M1167.6 187.9V188.6M1172.8 191.7V192.8M1177.1 192.9V193.6M1183 196.5V197.3M1187.4 198.7V199.7M1192.1 201.8V202.6M1197.7 206.6V207.3M1202.8 206.8V207.5M1208.4 211.1V211.8M1213.3 215.2V215.9M1218 218.3V218.9M1223.7 223.6V224.4M1228.9 229V229.7M1234.4 234.3V235.2M1238.6 236.5V237.4M1244.2 244.8V245.8M1249 250.9V251.8M1254.7 260.1V261.1M1260.4 266.7V267.9M1265.5 276.6V278M1270.3 285.4V286.6M1274.7 296V297.7M1280.7 311.1V313M1286.1 325.1V327M1291.6 346.6V348.5M1297.2 372.1V374.7M1302.4 387.8V390.3M1307.4 400.9V403.9M1313 411.4V414.6M1317.5 421V425.3M1322.9 430.1V434.5M1329.2 434.4V439.7M1334.2 443.4V450.9M1339.9 444.1V453.3M1345.4 445.2V454.3M1350.7 455.1V463.7M1356 447.7V457.1M1362 448V456.4M1367.2 453.1V470.8M1373.3 447.6V461.2M1378.8 460.7V481.2M1384.1 449.4V468.3M1390.8 451.4V625.5M1395.4 460.8V497.8M1401.9 458.2V492" stroke="#44d2f7" fill="none" stroke-width="0.85"/>
<path d="M1123.8 174.5 1128.7 171.3 1133.6 174.9 1138.7 178.7 1142.9 183 1147.5 181.4 1152.9 184.7 1158.6 184.9 1162.7 185.2 1167.6 188.2 1172.8 192 1177.1 193.1 1183 196.8 1187.4 199 1192.1 202.1 1197.7 206.8 1202.8 207 1208.4 211.3 1213.3 215.4 1218 218.5 1223.7 223.8 1228.9 229.2 1234.4 234.5 1238.6 236.8 1244.2 245 1249 251.2 1254.7 260.4 1260.4 267 1265.5 277 1270.3 285.8 1274.7 296.5 1280.7 311.9 1286.1 325.5 1291.6 347.3 1297.2 372.6 1302.4 388.6 1307.4 401.6 1313 412.5 1317.5 422.5 1322.9 431.2 1329.2 436 1334.2 445 1339.9 446.2 1345.4 448.1 1350.7 457.6 1356 450.2 1362 450.3 1367.2 457.1 1373.3 451.6 1378.8 465.8 1384.1 454.5 1390.8 455.2 1395.4 468.7 1401.9 465.4" fill="none" stroke="none" marker-start="url(#mB40)" marker-mid="url(#mB40)" marker-end="url(#mB40)"/>
<polyline points="1124.2,178.5 1125.8,178.9 1127.4,179.2 1129,179.6 1130.6,179.9 1132.2,180.3 1133.8,180.6 1135.4,181 1137,181.3 1138.6,181.7 1140.2,182 1141.8,182.4 1143.4,182.7 1145,183.1 1146.6,183.4 1148.3,183.8 1149.9,184.2 1151.5,184.6 1153.1,184.9 1154.7,185.3 1156.4,185.7 1158,186.1 1159.6,186.5 1161.3,186.9 1162.9,187.4 1164.5,187.9 1166.2,188.5 1167.8,189.1 1169.5,189.8 1171.1,190.5 1172.8,191.3 1174.4,192.1 1176.1,192.9 1177.8,193.8 1179.4,194.7 1181.1,195.6 1182.8,196.6 1184.4,197.6 1186.1,198.5 1187.8,199.5 1189.4,200.5 1191.1,201.6 1192.8,202.6 1194.5,203.6 1196.2,204.6 1197.8,205.6 1199.5,206.6 1201.2,207.7 1202.9,208.8 1204.6,209.9 1206.3,211 1208,212.2 1209.7,213.4 1211.4,214.6 1213.1,215.9 1214.8,217.2 1216.5,218.5 1218.2,219.8 1219.9,221.2 1221.7,222.5 1223.4,223.9 1225.1,225.3 1226.8,226.8 1228.5,228.2 1230.3,229.7 1232,231.2 1233.7,232.7 1235.4,234.3 1237.2,236 1238.9,237.8 1240.6,239.7 1242.4,241.8 1244.1,244 1245.9,246.4 1247.6,248.8 1249.3,251.3 1251.1,253.8 1252.8,256.4 1254.6,259 1256.3,261.6 1258.1,264.2 1259.8,267 1261.6,269.8 1263.4,272.8 1265.1,275.9 1266.9,279.1 1268.6,282.6 1270.4,286.4 1272.1,290.2 1273.9,294.2 1275.7,298.2 1277.4,302.3 1279.2,306.5 1280.9,310.9 1282.7,315.7 1284.5,321 1286.2,326.8 1288,332.9 1289.7,339.5 1291.5,346.5 1293.2,353.7 1295,361.3 1296.7,369 1298.5,376.3 1300.2,382.8 1302,388.6 1303.7,394 1305.5,399 1307.3,403.6 1309,407.9 1310.8,411.8 1312.6,415.4 1314.3,418.9 1316.1,422 1317.9,425 1319.7,427.7 1321.5,430.2 1323.3,432.4 1325,434.5 1326.8,436.4 1328.6,438.1 1330.5,439.8 1332.3,441.3 1334.1,442.6 1335.9,443.9 1337.7,445 1339.5,446 1341.3,446.8 1343.2,447.6 1345,448.4 1346.8,449.2 1348.7,449.9 1350.5,450.6 1352.4,451.3 1354.2,452 1356.1,452.6 1357.9,453.3 1359.8,453.9 1361.6,454.5 1363.5,455.1 1365.3,455.6 1367.2,456.2 1369.1,456.8 1370.9,457.3 1372.8,457.8 1374.7,458.4 1376.6,458.9 1378.4,459.5 1380.3,460 1382.2,460.6 1384.1,461.1 1386,461.7 1387.9,462.2 1389.8,462.8 1391.7,463.3 1393.6,463.9 1395.5,464.4 1397.4,465 1399.3,465.5 1401.2,466.1" stroke="#111" fill="none" stroke-width="1.4"/>
<marker id="mB44" markerUnits="userSpaceOnUse" markerWidth="12" markerHeight="12" refX="6" refY="6" overflow="visible"><circle cx="6" cy="6" r="4.6" fill="none" stroke="#3bd0f7" stroke-width="0.85"/></marker>
<path d="M1114.4 175V191.7M1119.1 173.5V180.6M1124.3 180.1V187.1M1128.8 180.5V185.3M1133.9 181.7V185.8M1138.3 185.2V188.1M1143.4 184.8V186.9M1148.1 186.7V188.3M1153.2 187.6V188.8M1158 190.1V191.6M1163.1 192.9V194.1M1167.1 195.2V196M1173.6 199.5V200.3M1177.7 202.9V203.8M1183.2 205V205.7M1187.9 208.1V208.8M1194.1 211.4V212.2M1198.8 213.9V214.7M1204.2 218.7V219.5M1208.5 221.2V221.9M1213.9 223.9V224.5M1219.4 231V231.7M1224 235.3V236.1M1230.3 239.6V240.4M1235 245.6V246.3M1240.2 252.2V253.3M1245.1 262.2V263.1M1251 272.1V273.4M1255.7 276.3V277.3M1260.5 285.6V287.1M1266.3 300.5V302.1M1271.2 315.6V318M1277 326.3V327.7M1282.4 347.2V349M1287.4 369.1V371.4M1292.7 394.2V397.1M1297.4 403.6V406.3M1303.1 419.1V423.1M1309.4 428.3V431.8M1313.7 431.1V435.4M1318.7 440.4V444.7M1324.9 448.4V454.9M1331 452.8V460.3M1336.4 449.1V461.5M1341.5 456.4V467.3M1347.1 456.8V466.2M1352.4 459V473.4M1358.3 463V474.1M1363.9 461.5V484.8M1369.3 470.1V499.1M1374.5 452.2V467.8M1380.7 459.2V480M1386.2 463.5V487.8M1392.2 447.4V471.3" stroke="#3bd0f7" fill="none" stroke-width="0.85"/>
<path d="M1114.4 180 1119.1 175.5 1124.3 182.5 1128.8 181.6 1133.9 183.2 1138.3 185.7 1143.4 185.4 1148.1 187.3 1153.2 187.8 1158 190.4 1163.1 193.2 1167.1 195.5 1173.6 199.7 1177.7 203.1 1183.2 205.2 1187.9 208.3 1194.1 211.6 1198.8 214.2 1204.2 219 1208.5 221.5 1213.9 224.2 1219.4 231.2 1224 235.5 1230.3 239.9 1235 245.8 1240.2 252.4 1245.1 262.5 1251 272.4 1255.7 276.6 1260.5 286.1 1266.3 300.9 1271.2 316.3 1277 326.7 1282.4 347.7 1287.4 369.8 1292.7 395.1 1297.4 405.1 1303.1 420.3 1309.4 429.6 1313.7 432.5 1318.7 441.9 1324.9 450 1331 454.8 1336.4 451.7 1341.5 459 1347.1 459 1352.4 462.2 1358.3 466.1 1363.9 467.8 1369.3 474.5 1374.5 457.1 1380.7 464.6 1386.2 472.8 1392.2 454.8" fill="none" stroke="none" marker-start="url(#mB44)" marker-mid="url(#mB44)" marker-end="url(#mB44)"/>
<polyline points="1114.4,180.8 1116,181.1 1117.6,181.5 1119.2,181.8 1120.8,182.2 1122.4,182.5 1124,182.9 1125.6,183.2 1127.2,183.6 1128.8,183.9 1130.4,184.3 1132,184.7 1133.6,185 1135.3,185.4 1136.9,185.7 1138.5,186.1 1140.1,186.5 1141.7,186.9 1143.4,187.2 1145,187.6 1146.6,188 1148.3,188.4 1149.9,188.8 1151.5,189.2 1153.2,189.7 1154.8,190.2 1156.5,190.8 1158.1,191.4 1159.8,192.1 1161.4,192.8 1163.1,193.6 1164.7,194.4 1166.4,195.2 1168.1,196.1 1169.7,197 1171.4,198 1173.1,198.9 1174.7,199.9 1176.4,200.9 1178.1,201.9 1179.8,202.9 1181.5,203.9 1183.1,204.9 1184.8,206 1186.5,207 1188.2,208 1189.9,209 1191.6,210.1 1193.3,211.2 1195,212.3 1196.7,213.4 1198.4,214.6 1200.1,215.8 1201.8,217.1 1203.5,218.3 1205.2,219.6 1206.9,220.9 1208.6,222.3 1210.4,223.6 1212.1,225 1213.8,226.4 1215.5,227.8 1217.2,229.3 1219,230.8 1220.7,232.2 1222.4,233.7 1224.2,235.3 1225.9,236.8 1227.6,238.5 1229.4,240.3 1231.1,242.3 1232.9,244.4 1234.6,246.6 1236.4,248.9 1238.1,251.3 1239.9,253.8 1241.6,256.4 1243.4,259 1245.1,261.6 1246.9,264.2 1248.6,266.9 1250.4,269.6 1252.2,272.5 1253.9,275.4 1255.7,278.5 1257.4,281.8 1259.2,285.3 1261,289.1 1262.7,293 1264.5,297 1266.3,301 1268.1,305.1 1269.8,309.3 1271.6,313.8 1273.4,318.5 1275.1,323.8 1276.9,329.6 1278.7,335.8 1280.4,342.3 1282.2,349.4 1284,356.7 1285.7,364.3 1287.5,372.1 1289.2,379.5 1291,386 1292.8,392 1294.5,397.5 1296.3,402.5 1298.1,407.2 1299.8,411.5 1301.6,415.5 1303.4,419.2 1305.2,422.7 1307,425.9 1308.8,428.9 1310.6,431.6 1312.3,434.2 1314.1,436.5 1315.9,438.6 1317.7,440.5 1319.6,442.3 1321.4,443.9 1323.2,445.5 1325,446.9 1326.8,448.1 1328.6,449.3 1330.5,450.3 1332.3,451.2 1334.1,452 1336,452.8 1337.8,453.5 1339.6,454.3 1341.5,455 1343.3,455.7 1345.2,456.4 1347,457.1 1348.9,457.7 1350.8,458.3 1352.6,458.9 1354.5,459.5 1356.3,460.1 1358.2,460.7 1360.1,461.2 1362,461.8 1363.8,462.3 1365.7,462.9 1367.6,463.4 1369.5,464 1371.4,464.5 1373.3,465.1 1375.2,465.6 1377.1,466.2 1379,466.7 1380.9,467.3 1382.8,467.8 1384.7,468.4 1386.6,469 1388.5,469.5 1390.4,470.1 1392.3,470.6" stroke="#111" fill="none" stroke-width="1.6"/>
<marker id="mB48" markerUnits="userSpaceOnUse" markerWidth="12" markerHeight="12" refX="6" refY="6" overflow="visible"><circle cx="6" cy="6" r="4.6" fill="none" stroke="#2eccf6" stroke-width="0.85"/></marker>
<path d="M1101.8 176V189.3M1107 179.9V194.7M1111.5 177.7V182.9M1116.5 181.8V185.8M1120.6 187.7V191.4M1126 187.5V190.7M1131 189.8V192.4M1135.6 188.6V189.8M1141 192.3V193.6M1145.6 195.3V196.2M1150.4 196.2V197.2M1155.7 198.3V199.4M1160 201V201.9M1164.9 205.1V205.8M1170.5 207.4V208.1M1174.8 210.2V210.9M1181.2 214.7V215.2M1185.7 217.6V218.3M1191.6 221.6V222.2M1196.2 225.3V226.2M1201.1 228.7V229.4M1206.3 232.7V233.4M1212 237.2V238M1217.4 245V246.1M1222.2 249.9V251M1227 255.8V256.8M1232.9 264.4V265.4M1238.3 274V275M1243.7 282.4V283.5M1248.2 291.2V292.3M1253.9 303.4V305.1M1259.7 316.8V318.3M1265.5 336.1V338.2M1270.1 355.6V357.6M1275 374V376.4M1281 396.5V398.9M1284.8 408V410.9M1291.6 420.9V425.4M1296.7 434.7V438.8M1303 439.5V444M1307.6 441V446.6M1312.7 453.4V459.6M1319.4 492.6V515.2M1324.4 456.1V464.8M1329.8 455.3V463.7M1335.1 456.8V466.4M1340.5 463.5V473M1345.9 451.4V459.4M1352.4 465.2V479.2M1357.5 464.4V482M1363.9 461.4V483.5M1369.5 463.8V489M1375.4 465.6V493.5M1380.5 474.7V513.3" stroke="#2eccf6" fill="none" stroke-width="0.85"/>
<path d="M1101.8 180 1107 184 1111.5 179.6 1116.5 183 1120.6 188.8 1126 188.4 1131 190.5 1135.6 189 1141 192.7 1145.6 195.7 1150.4 196.6 1155.7 198.6 1160 201.3 1164.9 205.2 1170.5 207.7 1174.8 210.4 1181.2 214.9 1185.7 217.8 1191.6 221.7 1196.2 225.5 1201.1 228.9 1206.3 232.9 1212 237.4 1217.4 245.2 1222.2 250.2 1227 256.1 1232.9 264.8 1238.3 274.3 1243.7 282.7 1248.2 291.6 1253.9 303.9 1259.7 317.3 1265.5 336.7 1270.1 356.3 1275 374.6 1281 397.5 1284.8 408.8 1291.6 422.2 1296.7 436 1303 441.2 1307.6 443.1 1312.7 455.5 1319.4 499.1 1324.4 458.5 1329.8 458.1 1335.1 460.3 1340.5 467.1 1345.9 454.3 1352.4 469.4 1357.5 468.2 1363.9 467.8 1369.5 470.8 1375.4 474.5 1380.5 481.8" fill="none" stroke="none" marker-start="url(#mB48)" marker-mid="url(#mB48)" marker-end="url(#mB48)"/>
<polyline points="1101.7,183.7 1103.3,184.1 1104.9,184.4 1106.5,184.8 1108.1,185.1 1109.7,185.5 1111.3,185.8 1112.9,186.2 1114.5,186.5 1116.1,186.9 1117.7,187.3 1119.3,187.6 1120.9,188 1122.6,188.4 1124.2,188.7 1125.8,189.1 1127.4,189.5 1129.1,189.9 1130.7,190.2 1132.3,190.6 1134,191 1135.6,191.4 1137.2,191.8 1138.9,192.2 1140.5,192.7 1142.2,193.2 1143.8,193.8 1145.5,194.4 1147.1,195.1 1148.8,195.8 1150.5,196.6 1152.1,197.4 1153.8,198.3 1155.5,199.1 1157.1,200.1 1158.8,201 1160.5,202 1162.2,202.9 1163.8,203.9 1165.5,204.9 1167.2,206 1168.9,207 1170.6,208 1172.3,209 1174,210.1 1175.7,211.1 1177.4,212.1 1179.1,213.2 1180.8,214.3 1182.5,215.4 1184.2,216.6 1185.9,217.8 1187.6,219 1189.3,220.2 1191,221.5 1192.7,222.8 1194.4,224.1 1196.2,225.5 1197.9,226.8 1199.6,228.2 1201.3,229.6 1203.1,231.1 1204.8,232.5 1206.5,234 1208.3,235.5 1210,237 1211.8,238.6 1213.5,240.2 1215.2,241.8 1217,243.7 1218.7,245.6 1220.5,247.7 1222.2,249.9 1224,252.2 1225.8,254.7 1227.5,257.2 1229.3,259.8 1231,262.4 1232.8,265 1234.6,267.6 1236.3,270.3 1238.1,273.1 1239.9,276 1241.6,278.9 1243.4,282 1245.2,285.3 1247,288.8 1248.7,292.6 1250.5,296.5 1252.3,300.5 1254.1,304.6 1255.9,308.7 1257.6,313 1259.4,317.4 1261.2,322.2 1263,327.5 1264.8,333.3 1266.6,339.5 1268.3,346.1 1270.1,353.2 1271.9,360.5 1273.7,368.2 1275.5,376.1 1277.2,383.6 1279,390.3 1280.8,396.3 1282.6,401.9 1284.3,407.1 1286.1,411.8 1287.9,416.2 1289.7,420.3 1291.5,424.1 1293.3,427.6 1295.1,430.9 1296.9,434 1298.7,436.8 1300.5,439.4 1302.3,441.7 1304.1,443.9 1305.9,445.9 1307.7,447.7 1309.5,449.4 1311.4,451 1313.2,452.4 1315,453.7 1316.8,454.8 1318.7,455.9 1320.5,456.8 1322.4,457.6 1324.2,458.4 1326,459.2 1327.9,460 1329.7,460.7 1331.6,461.4 1333.5,462.1 1335.3,462.8 1337.2,463.5 1339,464.1 1340.9,464.7 1342.8,465.3 1344.7,465.9 1346.5,466.5 1348.4,467 1350.3,467.6 1352.2,468.1 1354.1,468.7 1355.9,469.3 1357.8,469.8 1359.7,470.4 1361.6,471 1363.5,471.5 1365.4,472.1 1367.3,472.6 1369.3,473.2 1371.2,473.8 1373.1,474.3 1375,474.9 1376.9,475.5 1378.8,476 1380.8,476.6" stroke="#111" fill="none" stroke-width="1.6"/>
<marker id="mB52" markerUnits="userSpaceOnUse" markerWidth="12" markerHeight="12" refX="6" refY="6" overflow="visible"><circle cx="6" cy="6" r="4.6" fill="none" stroke="#1ec7f4" stroke-width="0.85"/></marker>
<path d="M1081.5 180.2V195.7M1086.4 174.9V181.9M1091.3 186.9V193M1096.7 188.9V194.5M1101.5 190.3V193.8M1106.7 189.1V191.5M1111.2 193.3V195.5M1116.3 195.9V197.2M1120.4 196.9V198.4M1125.4 198.1V199.3M1130.4 199.4V200.3M1134.8 203.8V204.7M1141.1 206.7V207.4M1145.2 208.6V209.5M1151.9 212.7V213.3M1155.7 215.3V216M1161.4 219.1V219.9M1166.5 221.5V222.3M1172.2 226V226.8M1176.6 231.1V232M1182.2 231.5V232.2M1187.2 237.6V238.5M1192.7 244.4V245.5M1197.8 248.7V249.5M1202.5 255.8V256.7M1208.2 262.8V263.8M1213.5 270.8V271.9M1219.4 278.9V280M1223.8 284.4V285.7M1230.6 299.2V300.4M1234.8 309.1V310.5M1240.7 322.6V324.3M1246.2 339.5V341.7M1251.6 358.5V360.3M1256.3 377.8V379.6M1262.5 399.6V401.9M1267 416.5V419.2M1273 432.7V436.3M1278.4 438.5V443.3M1283.5 450.3V456.3M1289.9 457.7V461.6M1294.1 458.8V468.6M1300.9 458.7V467.4M1305.8 469.2V475.9M1311 461.5V470.1M1317.3 470.1V479.2M1323 466.1V482.6M1328 473.3V485.1M1334.1 475.4V496.5M1340.6 471.9V488.3M1345.5 479.6V509.7M1351.2 478.3V507M1358.3 469.8V488M1363 474.3V499.7" stroke="#1ec7f4" fill="none" stroke-width="0.85"/>
<path d="M1081.5 184.2 1086.4 177.1 1091.3 188.7 1096.7 190.8 1101.5 191.3 1106.7 189.7 1111.2 194.2 1116.3 196.4 1120.4 197.3 1125.4 198.4 1130.4 199.7 1134.8 204 1141.1 206.9 1145.2 208.8 1151.9 212.8 1155.7 215.4 1161.4 219.3 1166.5 221.7 1172.2 226.2 1176.6 231.4 1182.2 231.7 1187.2 237.8 1192.7 244.7 1197.8 249 1202.5 256 1208.2 263.1 1213.5 271.1 1219.4 279.4 1223.8 285 1230.6 299.5 1234.8 309.6 1240.7 323.2 1246.2 340.2 1251.6 358.9 1256.3 378.4 1262.5 400.3 1267 417.2 1273 433.6 1278.4 439.8 1283.5 451.8 1289.9 459.3 1294.1 459.9 1300.9 460.9 1305.8 471 1311 464 1317.3 472.8 1323 469.6 1328 476.8 1334.1 480.2 1340.6 475.8 1345.5 486.7 1351.2 485.8 1358.3 475.7 1363 484.3" fill="none" stroke="none" marker-start="url(#mB52)" marker-mid="url(#mB52)" marker-end="url(#mB52)"/>
<polyline points="1082,188.2 1083.6,188.6 1085.2,188.9 1086.8,189.3 1088.4,189.7 1090,190 1091.7,190.4 1093.3,190.7 1094.9,191.1 1096.5,191.5 1098.1,191.8 1099.7,192.2 1101.4,192.6 1103,193 1104.6,193.3 1106.2,193.7 1107.9,194.1 1109.5,194.5 1111.1,194.9 1112.8,195.3 1114.4,195.7 1116.1,196.1 1117.7,196.5 1119.4,196.9 1121,197.4 1122.7,197.9 1124.3,198.4 1126,199.1 1127.6,199.7 1129.3,200.5 1131,201.2 1132.6,202.1 1134.3,202.9 1136,203.8 1137.7,204.7 1139.4,205.7 1141,206.6 1142.7,207.6 1144.4,208.6 1146.1,209.7 1147.8,210.7 1149.5,211.7 1151.2,212.8 1152.9,213.8 1154.6,214.9 1156.3,215.9 1158,216.9 1159.7,218 1161.4,219.1 1163.1,220.3 1164.8,221.4 1166.6,222.6 1168.3,223.9 1170,225.1 1171.7,226.4 1173.5,227.7 1175.2,229 1176.9,230.4 1178.6,231.8 1180.4,233.2 1182.1,234.6 1183.9,236.1 1185.6,237.6 1187.3,239.1 1189.1,240.6 1190.8,242.1 1192.6,243.7 1194.3,245.2 1196.1,246.9 1197.9,248.8 1199.6,250.7 1201.4,252.8 1203.1,255 1204.9,257.4 1206.7,259.8 1208.5,262.4 1210.2,265 1212,267.6 1213.8,270.3 1215.6,272.9 1217.3,275.7 1219.1,278.4 1220.9,281.3 1222.7,284.3 1224.5,287.4 1226.3,290.7 1228.1,294.3 1229.9,298 1231.7,302 1233.5,306.1 1235.2,310.2 1237,314.4 1238.8,318.6 1240.6,323.1 1242.5,327.9 1244.3,333.2 1246.1,339 1247.9,345.3 1249.7,351.9 1251.5,359 1253.3,366.4 1255.1,374.1 1256.9,382.2 1258.7,389.9 1260.5,396.8 1262.3,403 1264.1,408.8 1265.9,414.1 1267.7,419 1269.5,423.5 1271.3,427.7 1273.1,431.6 1274.9,435.3 1276.7,438.7 1278.5,441.8 1280.4,444.8 1282.2,447.4 1284,449.9 1285.8,452.1 1287.6,454.2 1289.5,456.1 1291.3,457.8 1293.1,459.5 1295,461 1296.8,462.3 1298.6,463.5 1300.5,464.6 1302.3,465.5 1304.2,466.4 1306,467.2 1307.9,468 1309.7,468.8 1311.6,469.6 1313.5,470.3 1315.3,471 1317.2,471.7 1319.1,472.4 1321,473 1322.8,473.7 1324.7,474.3 1326.6,474.9 1328.5,475.5 1330.4,476 1332.3,476.6 1334.2,477.2 1336.1,477.8 1338,478.3 1339.9,478.9 1341.8,479.5 1343.7,480.1 1345.6,480.6 1347.5,481.2 1349.4,481.8 1351.3,482.4 1353.2,482.9 1355.2,483.5 1357.1,484.1 1359,484.7 1361,485.3 1362.9,485.8" stroke="#111" fill="none" stroke-width="1.6"/>
<marker id="mB56" markerUnits="userSpaceOnUse" markerWidth="12" markerHeight="12" refX="6" refY="6" overflow="visible"><circle cx="6" cy="6" r="4.6" fill="none" stroke="#1fc5f2" stroke-width="0.85"/></marker>
<path d="M1075.9 172.3V184.3M1081 181.7V192M1085.9 188.3V195.7M1090.8 189.3V194.7M1095.7 191.7V195.1M1100.7 191.6V194M1104.7 194.6V196.6M1110.3 194.7V196.3M1115.3 198.6V200.2M1120.1 200.9V202M1125.4 201.2V202.1M1130 205.8V206.8M1134.4 207.2V207.8M1139.9 210.9V211.5M1145.6 213.7V214.3M1150.8 215.8V216.8M1155.7 220.6V221.3M1160.4 222.1V222.9M1166.1 226.8V227.6M1171.4 231.2V232M1176.5 234.6V235.7M1181.6 240.5V241.2M1186.9 243.6V244.4M1191.9 249.9V250.6M1197.6 256.5V257.5M1202.7 261.6V262.5M1208.4 272.1V273M1213.4 282.2V283.3M1217.8 286.2V287.3M1224.1 300.2V301.5M1230 312.4V314.1M1235.1 322.4V324M1241.1 345.1V346.9M1245.6 357.2V358.9M1251.9 383.9V386.5M1256.9 401.2V403.8M1262.9 423.7V426.8M1268.1 437.5V441.4M1272.5 441.2V445.3M1278.2 448.3V453.3M1284.3 458.2V464.7M1290 460V466.3M1295.5 470.9V478.4M1300.3 465.7V471.9M1306.4 475.8V486.4M1311.6 476.4V488.1M1317.8 513.9V548.3M1323.6 474.1V486.8M1328.6 471V486.7M1335.5 474V492.1M1340.2 476.3V510.6M1346.2 465.5V479M1351.9 483.1V513.4M1356.4 501.5V558" stroke="#1fc5f2" fill="none" stroke-width="0.85"/>
<path d="M1075.9 175.4 1081 183.8 1085.9 190.6 1090.8 190.8 1095.7 193 1100.7 192.5 1104.7 195.2 1110.3 195.2 1115.3 199.1 1120.1 201.2 1125.4 201.4 1130 206 1134.4 207.4 1139.9 211.1 1145.6 213.8 1150.8 216.2 1155.7 220.8 1160.4 222.3 1166.1 227.1 1171.4 231.5 1176.5 234.9 1181.6 240.7 1186.9 243.8 1191.9 250.1 1197.6 256.7 1202.7 262 1208.4 272.4 1213.4 282.5 1217.8 286.6 1224.1 300.5 1230 312.9 1235.1 322.8 1241.1 345.5 1245.6 357.7 1251.9 384.7 1256.9 402 1262.9 424.9 1268.1 438.7 1272.5 442.4 1278.2 449.8 1284.3 460.9 1290 461.9 1295.5 473.6 1300.3 468.3 1306.4 479.2 1311.6 479.8 1317.8 521.5 1323.6 478.2 1328.6 476.1 1335.5 477.8 1340.2 484 1346.2 470.4 1351.9 489.9 1356.4 511.3" fill="none" stroke="none" marker-start="url(#mB56)" marker-mid="url(#mB56)" marker-end="url(#mB56)"/>
<polyline points="1076.2,189.6 1077.8,189.9 1079.4,190.3 1081,190.6 1082.6,191 1084.2,191.4 1085.8,191.7 1087.5,192.1 1089.1,192.5 1090.7,192.8 1092.3,193.2 1093.9,193.6 1095.5,193.9 1097.2,194.3 1098.8,194.7 1100.4,195.1 1102.1,195.5 1103.7,195.9 1105.3,196.3 1107,196.7 1108.6,197.1 1110.3,197.5 1111.9,197.9 1113.6,198.3 1115.2,198.7 1116.9,199.2 1118.5,199.8 1120.2,200.4 1121.9,201.1 1123.5,201.8 1125.2,202.6 1126.9,203.4 1128.5,204.3 1130.2,205.2 1131.9,206.1 1133.6,207 1135.3,208 1137,209 1138.7,210 1140.3,211.1 1142,212.1 1143.7,213.1 1145.4,214.2 1147.1,215.2 1148.8,216.3 1150.6,217.3 1152.3,218.4 1154,219.4 1155.7,220.6 1157.4,221.7 1159.1,222.9 1160.8,224.1 1162.6,225.3 1164.3,226.6 1166,227.9 1167.7,229.2 1169.5,230.5 1171.2,231.9 1172.9,233.3 1174.7,234.7 1176.4,236.1 1178.2,237.6 1179.9,239.1 1181.7,240.6 1183.4,242.1 1185.2,243.6 1186.9,245.2 1188.7,246.8 1190.4,248.5 1192.2,250.3 1193.9,252.2 1195.7,254.3 1197.5,256.5 1199.3,258.9 1201,261.4 1202.8,263.9 1204.6,266.5 1206.4,269.2 1208.1,271.8 1209.9,274.5 1211.7,277.2 1213.5,280 1215.3,282.9 1217.1,285.9 1218.9,289 1220.7,292.3 1222.5,295.9 1224.3,299.7 1226.1,303.6 1227.9,307.7 1229.7,311.9 1231.5,316 1233.3,320.3 1235.1,324.8 1236.9,329.6 1238.7,334.9 1240.5,340.7 1242.3,347 1244.1,353.6 1245.9,360.7 1247.8,368.2 1249.6,375.9 1251.4,384 1253.2,391.8 1255,398.7 1256.8,405 1258.6,410.8 1260.4,416.2 1262.2,421.1 1264,425.7 1265.8,429.9 1267.7,433.8 1269.5,437.5 1271.3,441 1273.1,444.2 1274.9,447.1 1276.7,449.8 1278.6,452.3 1280.4,454.6 1282.2,456.6 1284.1,458.5 1285.9,460.3 1287.7,462 1289.6,463.5 1291.4,464.8 1293.2,466.1 1295.1,467.1 1296.9,468.1 1298.8,469 1300.6,469.8 1302.5,470.6 1304.4,471.4 1306.2,472.2 1308.1,472.9 1310,473.6 1311.8,474.3 1313.7,475 1315.6,475.7 1317.5,476.3 1319.4,476.9 1321.2,477.5 1323.1,478.1 1325,478.7 1326.9,479.3 1328.8,479.9 1330.7,480.4 1332.6,481 1334.5,481.6 1336.4,482.2 1338.3,482.8 1340.3,483.3 1342.2,483.9 1344.1,484.5 1346,485.1 1347.9,485.7 1349.9,486.2 1351.8,486.8 1353.7,487.4 1355.7,488 1357.6,488.6" stroke="#111" fill="none" stroke-width="1.6"/>
<marker id="mB60" markerUnits="userSpaceOnUse" markerWidth="12" markerHeight="12" refX="6" refY="6" overflow="visible"><circle cx="6" cy="6" r="4.6" fill="none" stroke="#20c3f0" stroke-width="0.85"/></marker>
<path d="M1069.9 186.5V200.9M1074.6 180V188.2M1079.3 185.9V191.3M1083.4 193.1V196.2M1089.5 192.8V196.1M1094.3 191.9V194.6M1098.6 196.2V198.7M1104.5 197.8V199.5M1108.5 198.8V200.1M1113.6 201.6V202.9M1119.4 202.4V203.2M1124.3 206.2V207.2M1128.9 208.5V209.4M1134.3 212.3V213.1M1138.9 216.2V216.9M1143.9 218.1V219M1149.2 222V222.8M1155.1 224.9V225.4M1160.2 230.2V231M1165.1 233.2V233.9M1171.3 237.8V238.6M1175.8 240.6V241.1M1180.6 247.1V247.7M1186.3 251.9V252.6M1191.6 259.2V260.1M1196 265.5V266.9M1201.5 273.1V274.2M1207.9 280.9V282.1M1212.2 288.2V289.2M1218.1 301.1V302.2M1224.1 315.6V317.2M1229.6 325.8V327.6M1234.3 341.2V342.9M1238.9 357.3V359M1245.4 384.2V386.7M1251.1 405V407.8M1256.1 421.1V424.3M1260.9 433.3V437.8M1266.9 445.5V450M1273 454.4V460.6M1278.5 459.9V464.2M1283.4 467V473.2M1289.3 470.8V480.8M1294.6 464.4V471.3M1300.6 468.7V475.6M1305.6 476.4V486.2M1311.7 475.4V488.1M1316.9 478.4V494.5M1323.6 476.5V489M1328.5 479.3V502.4M1334 516.8V592.3M1339.9 478.6V503M1345.2 474.9V494.5M1351.7 485V527.8" stroke="#20c3f0" fill="none" stroke-width="0.85"/>
<path d="M1069.9 191.3 1074.6 183.1 1079.3 187.5 1083.4 193.8 1089.5 194 1094.3 192.7 1098.6 196.8 1104.5 198.2 1108.5 199.1 1113.6 202 1119.4 202.7 1124.3 206.5 1128.9 208.7 1134.3 212.5 1138.9 216.4 1143.9 218.4 1149.2 222.2 1155.1 225 1160.2 230.5 1165.1 233.4 1171.3 238 1175.8 240.7 1180.6 247.2 1186.3 252.1 1191.6 259.5 1196 265.8 1201.5 273.5 1207.9 281.3 1212.2 288.6 1218.1 301.4 1224.1 316 1229.6 326.5 1234.3 341.7 1238.9 357.7 1245.4 385.1 1251.1 405.7 1256.1 422 1260.9 434.7 1266.9 447.1 1273 455.8 1278.5 462.1 1283.4 468.9 1289.3 473 1294.6 466.8 1300.6 470.9 1305.6 479.5 1311.7 479.2 1316.9 482.4 1323.6 480.2 1328.5 486.7 1334 531.7 1339.9 485.7 1345.2 479.9 1351.7 493.8" fill="none" stroke="none" marker-start="url(#mB60)" marker-mid="url(#mB60)" marker-end="url(#mB60)"/>
<polyline points="1069.9,191 1071.5,191.4 1073.1,191.7 1074.7,192.1 1076.3,192.5 1077.9,192.8 1079.5,193.2 1081.1,193.6 1082.7,193.9 1084.4,194.3 1086,194.7 1087.6,195.1 1089.2,195.4 1090.9,195.8 1092.5,196.2 1094.1,196.6 1095.7,197 1097.4,197.4 1099,197.8 1100.7,198.2 1102.3,198.6 1104,199 1105.6,199.4 1107.3,199.8 1108.9,200.2 1110.6,200.7 1112.2,201.3 1113.9,201.9 1115.6,202.6 1117.2,203.3 1118.9,204.1 1120.6,204.9 1122.3,205.8 1123.9,206.7 1125.6,207.6 1127.3,208.6 1129,209.5 1130.7,210.5 1132.4,211.5 1134.1,212.6 1135.8,213.6 1137.5,214.7 1139.2,215.7 1140.9,216.8 1142.6,217.8 1144.3,218.9 1146,219.9 1147.7,221 1149.4,222.1 1151.2,223.3 1152.9,224.4 1154.6,225.6 1156.3,226.9 1158,228.1 1159.8,229.4 1161.5,230.8 1163.2,232.1 1165,233.5 1166.7,234.9 1168.5,236.3 1170.2,237.7 1171.9,239.2 1173.7,240.7 1175.4,242.2 1177.2,243.7 1179,245.2 1180.7,246.8 1182.5,248.4 1184.2,250.1 1186,251.9 1187.8,253.9 1189.5,256 1191.3,258.2 1193.1,260.6 1194.9,263 1196.6,265.6 1198.4,268.2 1200.2,270.8 1202,273.5 1203.8,276.2 1205.6,278.9 1207.4,281.8 1209.2,284.6 1210.9,287.7 1212.7,290.8 1214.5,294.1 1216.3,297.6 1218.2,301.4 1220,305.4 1221.8,309.5 1223.6,313.7 1225.4,317.8 1227.2,322.1 1229,326.6 1230.8,331.4 1232.6,336.7 1234.5,342.6 1236.3,348.8 1238.1,355.5 1239.9,362.6 1241.7,370.1 1243.6,377.9 1245.4,386 1247.2,393.8 1249,400.9 1250.8,407.2 1252.6,413 1254.5,418.4 1256.3,423.4 1258.1,428 1259.9,432.3 1261.7,436.3 1263.5,440 1265.4,443.5 1267.2,446.7 1269,449.7 1270.8,452.4 1272.7,454.9 1274.5,457.2 1276.3,459.3 1278.1,461.2 1280,463.1 1281.8,464.7 1283.7,466.3 1285.5,467.6 1287.4,468.9 1289.2,470 1291.1,470.9 1292.9,471.8 1294.8,472.7 1296.6,473.5 1298.5,474.3 1300.4,475.1 1302.2,475.8 1304.1,476.5 1306,477.2 1307.9,477.9 1309.7,478.6 1311.6,479.2 1313.5,479.8 1315.4,480.5 1317.3,481.1 1319.2,481.6 1321.1,482.2 1323,482.8 1324.9,483.4 1326.8,484 1328.7,484.5 1330.6,485.1 1332.5,485.7 1334.4,486.3 1336.4,486.9 1338.3,487.5 1340.2,488.1 1342.1,488.6 1344.1,489.2 1346,489.8 1347.9,490.4 1349.9,491 1351.8,491.6" stroke="#111" fill="none" stroke-width="1.6"/>
<marker id="mB64" markerUnits="userSpaceOnUse" markerWidth="12" markerHeight="12" refX="6" refY="6" overflow="visible"><circle cx="6" cy="6" r="4.6" fill="none" stroke="#20c1ee" stroke-width="0.85"/></marker>
<path d="M1063.7 184V203.7M1067.5 187.6V198.8M1072.4 184.9V190.4M1077.2 190.8V195.4M1083 196.8V201.2M1087.5 196.4V199.4M1092.9 198V199.9M1097.9 200.2V201.9M1102.2 200.3V201.4M1107.4 203.5V204.6M1112.9 203.3V204.2M1118.3 207.5V208.4M1123.3 212.4V213.2M1127.8 213.7V214.4M1133.2 218.2V218.8M1138.4 220V220.7M1143.5 223.9V224.8M1148.2 225.3V225.8M1153.9 229.3V230.2M1158.6 235.8V236.3M1163.6 238.8V239.6M1170.3 245.8V246.7M1174 246.9V247.7M1179.5 252.7V253.5M1185.1 258.1V259.1M1190.2 264.7V265.6M1196.1 275.6V276.7M1201.1 282.3V283.2M1206.1 294.1V295.5M1212.1 302.3V303.5M1217.1 314.1V315.8M1222.8 327.1V329.1M1228 343.6V345.8M1233.3 357.2V359.7M1239.8 390.7V393.5M1245.1 410V413.6M1250.1 425.2V429.1M1255.7 434.5V438.7M1260.6 445.4V449.8M1266.2 454.1V458.5M1272.2 465V470.5M1278.1 464.3V471.1M1282.9 493.2V506.5M1288.7 475.8V485.8M1293.7 484.9V500.2M1300.2 474.6V486.8M1305.3 478.9V488.6M1310.9 493.7V515.2M1316.4 475.5V491.7M1322.5 510.7V610.7M1329.2 496.5V533.2M1334.3 526.7V625.3M1339.6 479.7V505.6M1346.7 491.3V534.8" stroke="#20c1ee" fill="none" stroke-width="0.85"/>
<path d="M1063.7 187.8 1067.5 190.7 1072.4 187.4 1077.2 192 1083 197.9 1087.5 197.1 1092.9 198.5 1097.9 200.7 1102.2 200.6 1107.4 203.9 1112.9 203.7 1118.3 207.7 1123.3 212.7 1127.8 214 1133.2 218.5 1138.4 220.3 1143.5 224.1 1148.2 225.5 1153.9 229.7 1158.6 236 1163.6 239 1170.3 245.9 1174 247.1 1179.5 252.9 1185.1 258.4 1190.2 265 1196.1 275.9 1201.1 282.6 1206.1 294.7 1212.1 302.7 1217.1 314.6 1222.8 327.6 1228 344 1233.3 358 1239.8 391.6 1245.1 411 1250.1 426.2 1255.7 436.1 1260.6 446.7 1266.2 455.4 1272.2 467.1 1278.1 466 1282.9 496.2 1288.7 478.4 1293.7 490.1 1300.2 476.7 1305.3 482.2 1310.9 498.9 1316.4 479 1322.5 522.6 1329.2 505.8 1334.3 541.3 1339.6 486.8 1346.7 503.7" fill="none" stroke="none" marker-start="url(#mB64)" marker-mid="url(#mB64)" marker-end="url(#mB64)"/>
<polyline points="1063.5,192.5 1065.1,192.8 1066.7,193.2 1068.3,193.6 1069.9,193.9 1071.5,194.3 1073.1,194.7 1074.7,195 1076.4,195.4 1078,195.8 1079.6,196.2 1081.2,196.5 1082.9,196.9 1084.5,197.3 1086.1,197.7 1087.8,198.1 1089.4,198.5 1091,198.9 1092.7,199.3 1094.3,199.7 1096,200.1 1097.6,200.5 1099.3,200.9 1100.9,201.3 1102.6,201.8 1104.2,202.3 1105.9,202.8 1107.6,203.4 1109.2,204.1 1110.9,204.9 1112.6,205.6 1114.2,206.4 1115.9,207.3 1117.6,208.2 1119.3,209.1 1121,210.1 1122.7,211.1 1124.4,212.1 1126.1,213.1 1127.8,214.1 1129.5,215.2 1131.2,216.2 1132.9,217.3 1134.6,218.3 1136.3,219.4 1138,220.4 1139.7,221.5 1141.4,222.6 1143.1,223.7 1144.9,224.8 1146.6,226 1148.3,227.2 1150,228.5 1151.8,229.7 1153.5,231 1155.2,232.4 1157,233.7 1158.7,235.1 1160.5,236.5 1162.2,237.9 1164,239.3 1165.7,240.8 1167.4,242.3 1169.2,243.8 1171,245.3 1172.7,246.9 1174.5,248.5 1176.2,250.1 1178,251.8 1179.8,253.6 1181.5,255.5 1183.3,257.6 1185.1,259.9 1186.9,262.2 1188.7,264.7 1190.4,267.2 1192.2,269.9 1194,272.5 1195.8,275.2 1197.6,277.9 1199.4,280.7 1201.2,283.5 1203,286.4 1204.8,289.4 1206.6,292.5 1208.4,295.9 1210.2,299.4 1212,303.2 1213.8,307.2 1215.6,311.3 1217.4,315.5 1219.3,319.7 1221.1,324 1222.9,328.5 1224.7,333.3 1226.5,338.6 1228.4,344.4 1230.2,350.7 1232,357.3 1233.8,364.5 1235.7,372 1237.5,379.8 1239.3,387.9 1241.2,395.9 1243,403 1244.8,409.4 1246.6,415.2 1248.4,420.7 1250.3,425.7 1252.1,430.4 1253.9,434.7 1255.7,438.7 1257.6,442.5 1259.4,446 1261.2,449.3 1263,452.3 1264.9,455.1 1266.7,457.6 1268.5,459.9 1270.4,462 1272.2,464 1274,465.8 1275.9,467.5 1277.7,469.1 1279.6,470.4 1281.4,471.7 1283.3,472.8 1285.1,473.8 1287,474.7 1288.9,475.5 1290.7,476.4 1292.6,477.2 1294.5,477.9 1296.3,478.7 1298.2,479.4 1300.1,480.1 1302,480.8 1303.9,481.5 1305.7,482.1 1307.6,482.8 1309.5,483.4 1311.4,484 1313.3,484.6 1315.2,485.2 1317.1,485.8 1319,486.3 1320.9,486.9 1322.8,487.5 1324.8,488.1 1326.7,488.7 1328.6,489.3 1330.5,489.9 1332.5,490.5 1334.4,491 1336.3,491.6 1338.2,492.2 1340.2,492.8 1342.1,493.4 1344.1,494 1346,494.6" stroke="#111" fill="none" stroke-width="1.6"/>
<marker id="mB68" markerUnits="userSpaceOnUse" markerWidth="12" markerHeight="12" refX="6" refY="6" overflow="visible"><circle cx="6" cy="6" r="4.6" fill="none" stroke="#21bfec" stroke-width="0.85"/></marker>
<path d="M1056.6 180.7V197.4M1061.7 187.8V194.8M1066.6 189.2V196.3M1071.7 196.6V200.3M1076.6 193.9V197.8M1081.7 197.4V201.3M1086.4 197.6V199.4M1091.4 202.2V203.5M1096.1 202.6V204M1100.6 202.5V203.4M1106.2 207.5V208.4M1111.7 210.9V212M1116.5 212.3V213.2M1121.8 215.7V216.8M1126.7 217.5V218.2M1132.2 222.8V223.5M1136.3 225.9V226.9M1141.5 228V228.5M1146.2 232.6V233.5M1151.9 235.4V236.2M1157.7 242.4V243.2M1162.4 245.4V246.1M1169.1 251.6V252.4M1173.5 254.8V255.3M1178.6 258.8V259.7M1184.6 267.6V268.5M1189.9 279V280M1195.6 283.5V284.6M1200.4 296.9V298M1205.8 302.7V303.9M1211.6 318.9V320.6M1217.4 331.7V333.1M1222.6 346.5V348.3M1227.9 366V369.1M1232.9 392V394.6M1238.2 405.4V407.6M1244.7 426.8V429.6M1249.6 438.6V441.4M1255.3 455.2V459.3M1260.2 459.1V462.4M1266.9 469.9V474.9M1272.3 468.4V475.6M1277.5 475.3V486.8M1283.4 468.1V477.9M1288.1 479.1V487.2M1293.6 499.2V615.1M1299.1 480.5V489.9M1306.1 488V504.4M1311.4 483.2V499.4M1317.1 491.4V511.4M1323 487V514.3M1328.4 503.8V538.3M1333.9 491.5V525M1338.5 512.8V634.6" stroke="#21bfec" fill="none" stroke-width="0.85"/>
<path d="M1056.6 184.3 1061.7 189.6 1066.6 191.5 1071.7 197.9 1076.6 194.7 1081.7 198.6 1086.4 198.4 1091.4 202.7 1096.1 203 1100.6 202.8 1106.2 207.7 1111.7 211.1 1116.5 212.5 1121.8 216 1126.7 217.7 1132.2 223 1136.3 226.2 1141.5 228.2 1146.2 232.9 1151.9 235.7 1157.7 242.6 1162.4 245.7 1169.1 251.8 1173.5 255 1178.6 259.1 1184.6 267.8 1189.9 279.3 1195.6 283.8 1200.4 297.2 1205.8 303 1211.6 319.3 1217.4 332.2 1222.6 347.2 1227.9 367 1232.9 392.8 1238.2 406.1 1244.7 427.5 1249.6 439.7 1255.3 456.5 1260.2 460.1 1266.9 471 1272.3 470.5 1277.5 477.1 1283.4 471.5 1288.1 482.2 1293.6 504.8 1299.1 482.5 1306.1 491.1 1311.4 487.6 1317.1 496.8 1323 495.5 1328.4 510 1333.9 498.4 1338.5 526.8" fill="none" stroke="none" marker-start="url(#mB68)" marker-mid="url(#mB68)" marker-end="url(#mB68)"/>
<polyline points="1057,193.9 1058.7,194.3 1060.3,194.7 1061.9,195.1 1063.5,195.4 1065.1,195.8 1066.7,196.2 1068.3,196.5 1069.9,196.9 1071.6,197.3 1073.2,197.7 1074.8,198 1076.4,198.4 1078.1,198.8 1079.7,199.2 1081.4,199.6 1083,200 1084.6,200.4 1086.3,200.8 1087.9,201.2 1089.6,201.6 1091.2,202 1092.9,202.4 1094.5,202.8 1096.2,203.3 1097.8,203.8 1099.5,204.3 1101.2,205 1102.8,205.6 1104.5,206.4 1106.2,207.1 1107.9,208 1109.6,208.8 1111.2,209.7 1112.9,210.6 1114.6,211.6 1116.3,212.6 1118,213.6 1119.7,214.6 1121.4,215.6 1123.1,216.7 1124.8,217.8 1126.5,218.8 1128.2,219.9 1129.9,220.9 1131.7,222 1133.4,223.1 1135.1,224.1 1136.8,225.3 1138.5,226.4 1140.3,227.6 1142,228.8 1143.7,230.1 1145.5,231.3 1147.2,232.6 1148.9,234 1150.7,235.3 1152.4,236.7 1154.2,238.1 1155.9,239.5 1157.7,241 1159.4,242.5 1161.2,243.9 1162.9,245.5 1164.7,247 1166.4,248.6 1168.2,250.1 1170,251.7 1171.7,253.4 1173.5,255.3 1175.3,257.2 1177.1,259.3 1178.8,261.5 1180.6,263.9 1182.4,266.4 1184.2,268.9 1186,271.6 1187.8,274.2 1189.6,276.9 1191.4,279.7 1193.2,282.4 1195,285.2 1196.8,288.1 1198.6,291.2 1200.4,294.3 1202.2,297.6 1204,301.2 1205.8,305 1207.6,309 1209.5,313.1 1211.3,317.3 1213.1,321.5 1214.9,325.8 1216.7,330.3 1218.6,335.1 1220.4,340.4 1222.2,346.3 1224.1,352.6 1225.9,359.2 1227.7,366.4 1229.6,374 1231.4,381.8 1233.2,389.9 1235.1,397.9 1236.9,405.1 1238.7,411.5 1240.6,417.5 1242.4,423 1244.2,428.1 1246.1,432.8 1247.9,437.1 1249.7,441.2 1251.5,445 1253.4,448.5 1255.2,451.8 1257,454.9 1258.9,457.7 1260.7,460.3 1262.5,462.6 1264.4,464.7 1266.2,466.7 1268.1,468.6 1269.9,470.3 1271.8,471.9 1273.6,473.3 1275.5,474.5 1277.3,475.6 1279.2,476.6 1281.1,477.5 1282.9,478.4 1284.8,479.3 1286.7,480.1 1288.5,480.8 1290.4,481.6 1292.3,482.3 1294.2,483.1 1296,483.8 1297.9,484.4 1299.8,485.1 1301.7,485.7 1303.6,486.4 1305.5,487 1307.4,487.6 1309.3,488.1 1311.2,488.7 1313.1,489.3 1315,489.9 1317,490.5 1318.9,491.1 1320.8,491.7 1322.7,492.3 1324.6,492.9 1326.6,493.5 1328.5,494.1 1330.4,494.7 1332.4,495.3 1334.3,495.9 1336.3,496.4 1338.2,497 1340.2,497.6" stroke="#111" fill="none" stroke-width="1.6"/>
<marker id="mB72" markerUnits="userSpaceOnUse" markerWidth="12" markerHeight="12" refX="6" refY="6" overflow="visible"><circle cx="6" cy="6" r="4.6" fill="none" stroke="#22bdea" stroke-width="0.85"/></marker>
<path d="M1050.5 179.5V194.6M1056.2 191.7V204.2M1059.9 192.4V199M1064.4 191.3V194.7M1070.4 198V201M1075 199.8V203M1079.4 199.3V201.1M1084.3 202.7V204.4M1090 204.2V205.7M1094.6 206.2V207.5M1099.4 208.9V209.7M1104.4 210.7V211.8M1109.6 211.1V211.6M1114.1 214.8V215.5M1120.6 220.4V221.3M1125.2 222V222.8M1130.7 226.3V227M1135.7 229.6V230.4M1140.7 234.1V234.9M1146.4 237.7V238.3M1150.7 241.3V241.9M1155.8 246.7V247.4M1161.7 250.2V251.1M1166.9 257V257.9M1173.7 266.2V266.9M1177.7 271.3V272.2M1183.3 277.3V278.1M1188.7 287.7V288.7M1194.6 297.4V298.6M1199.5 306.6V307.8M1205.4 323.6V325.4M1210.6 331V332.8M1216.3 348.5V350.2M1221.6 367V368.9M1227 389.8V392.1M1232.8 414.7V419.2M1238.6 430.9V433.5M1243.8 443.3V446.8M1248.8 452.7V457.3M1255 466.7V471.8M1259.8 502.9V514.4M1265.5 474.6V480.2M1271.4 474.2V481.3M1277.1 491.4V504.3M1282.8 487.5V494.1M1288.5 484.8V496.2M1293.5 483.2V494.6M1299.9 484.1V499.9M1305.3 483V498.2M1310.5 494.6V519.5M1317.2 489.6V510.8M1322.7 494.1V520.6M1328.5 500.7V538M1333.8 511.7V580.9" stroke="#22bdea" fill="none" stroke-width="0.85"/>
<path d="M1050.5 183 1056.2 196 1059.9 194.5 1064.4 192.4 1070.4 199.2 1075 200.8 1079.4 200.1 1084.3 203.3 1090 204.6 1094.6 206.5 1099.4 209.1 1104.4 210.9 1109.6 211.2 1114.1 215 1120.6 220.8 1125.2 222.2 1130.7 226.5 1135.7 229.9 1140.7 234.4 1146.4 237.8 1150.7 241.5 1155.8 247 1161.7 250.5 1166.9 257.2 1173.7 266.4 1177.7 271.5 1183.3 277.7 1188.7 288 1194.6 297.8 1199.5 307 1205.4 324.1 1210.6 331.5 1216.3 349 1221.6 367.7 1227 390.5 1232.8 416 1238.6 431.8 1243.8 444.4 1248.8 453.8 1255 468.2 1259.8 506 1265.5 476.3 1271.4 475.9 1277.1 493.5 1282.8 489.9 1288.5 487.6 1293.5 486.8 1299.9 487.2 1305.3 486.3 1310.5 499.4 1317.2 493.7 1322.7 500.5 1328.5 512.5 1333.8 523.5" fill="none" stroke="none" marker-start="url(#mB72)" marker-mid="url(#mB72)" marker-end="url(#mB72)"/>
<polyline points="1050.6,195.4 1052.2,195.8 1053.8,196.2 1055.4,196.5 1057,196.9 1058.6,197.3 1060.3,197.7 1061.9,198 1063.5,198.4 1065.1,198.8 1066.7,199.2 1068.4,199.6 1070,199.9 1071.6,200.3 1073.3,200.7 1074.9,201.1 1076.5,201.5 1078.2,201.9 1079.8,202.3 1081.5,202.7 1083.1,203.1 1084.8,203.5 1086.4,203.9 1088.1,204.4 1089.8,204.8 1091.4,205.3 1093.1,205.9 1094.8,206.5 1096.4,207.2 1098.1,207.9 1099.8,208.7 1101.5,209.5 1103.1,210.4 1104.8,211.2 1106.5,212.2 1108.2,213.1 1109.9,214.1 1111.6,215.1 1113.3,216.2 1115,217.2 1116.7,218.3 1118.4,219.3 1120.1,220.4 1121.9,221.5 1123.6,222.5 1125.3,223.6 1127,224.6 1128.7,225.7 1130.4,226.9 1132.2,228 1133.9,229.2 1135.6,230.4 1137.4,231.7 1139.1,232.9 1140.8,234.2 1142.6,235.6 1144.3,236.9 1146.1,238.3 1147.8,239.7 1149.6,241.2 1151.3,242.6 1153.1,244.1 1154.8,245.6 1156.6,247.1 1158.4,248.7 1160.1,250.2 1161.9,251.8 1163.7,253.4 1165.4,255.1 1167.2,256.9 1169,258.9 1170.8,261 1172.5,263.2 1174.3,265.6 1176.1,268.1 1177.9,270.6 1179.7,273.3 1181.5,276 1183.3,278.7 1185.1,281.4 1186.9,284.2 1188.7,287 1190.5,289.9 1192.3,292.9 1194.1,296.1 1196,299.4 1197.8,303 1199.6,306.8 1201.4,310.8 1203.2,314.9 1205.1,319.1 1206.9,323.4 1208.7,327.7 1210.5,332.2 1212.4,337 1214.2,342.3 1216.1,348.2 1217.9,354.5 1219.7,361.1 1221.6,368.3 1223.4,375.9 1225.3,383.7 1227.1,391.9 1229,400 1230.8,407.2 1232.6,413.7 1234.5,419.7 1236.3,425.3 1238.2,430.4 1240,435.2 1241.8,439.5 1243.7,443.6 1245.5,447.5 1247.3,451.1 1249.2,454.4 1251,457.5 1252.8,460.4 1254.7,463 1256.5,465.3 1258.4,467.5 1260.2,469.5 1262.1,471.4 1263.9,473.1 1265.8,474.7 1267.6,476.1 1269.5,477.4 1271.3,478.5 1273.2,479.5 1275.1,480.4 1276.9,481.3 1278.8,482.2 1280.7,483 1282.5,483.8 1284.4,484.5 1286.3,485.3 1288.2,486 1290.1,486.7 1292,487.4 1293.9,488.1 1295.8,488.7 1297.7,489.3 1299.6,489.9 1301.5,490.5 1303.4,491.1 1305.3,491.7 1307.2,492.3 1309.1,492.9 1311,493.5 1312.9,494.1 1314.9,494.7 1316.8,495.3 1318.7,495.9 1320.7,496.5 1322.6,497.1 1324.5,497.7 1326.5,498.3 1328.4,498.9 1330.4,499.5 1332.3,500.1 1334.3,500.7" stroke="#111" fill="none" stroke-width="1.6"/>
<marker id="mB76" markerUnits="userSpaceOnUse" markerWidth="12" markerHeight="12" refX="6" refY="6" overflow="visible"><circle cx="6" cy="6" r="4.6" fill="none" stroke="#22bbe8" stroke-width="0.85"/></marker>
<path d="M1044.3 189.3V201.6M1048.4 191.3V199.8M1053.5 188.5V194.3M1058.5 194.9V199.2M1063.4 200.2V203.3M1068.5 200.1V202.4M1073.2 203.3V205M1078.6 205.1V207.2M1082.4 206.6V208M1087.7 207.2V208.1M1093.5 210.9V212M1098.3 212.4V213.3M1103.1 216.1V217.1M1108.4 218.9V219.7M1113.2 223.1V223.8M1119.2 225.7V226.3M1124.1 227.4V228.3M1129.5 232.2V233.3M1135.2 236.3V237M1139.4 240.7V241.5M1145.3 244V244.8M1150.2 249.3V250.2M1155.7 253.8V254.6M1161.2 259.4V260.6M1166.2 263.7V264.6M1172.4 271.7V272.6M1177.1 281V281.9M1181.7 286.3V287.4M1187.8 297.3V298.5M1192.8 305.1V306.5M1198.4 320.5V322.5M1203.6 333.2V334.4M1210.1 349.3V350.8M1214.4 369V371.3M1220.7 390.5V392.3M1226.9 414.8V416.7M1231.9 431.1V434.3M1237 444.5V448.1M1243.1 459.1V464.7M1248.3 465.2V470.8M1253.7 468.6V473.5M1260 474.3V479.6M1265.6 476.4V482.5M1271.4 484.5V493M1276.9 478.9V623.2M1282.2 487.7V498.1M1288.2 483.5V496.8M1293.3 515.1V546.1M1299.3 489.8V505.2M1305.4 510V554.2M1310.6 491V510.1M1315.9 494.4V520.7M1322.3 495V529.1M1329.2 499.3V533.2" stroke="#22bbe8" fill="none" stroke-width="0.85"/>
<path d="M1044.3 192.8 1048.4 194.6 1053.5 189.6 1058.5 196.4 1063.4 201.3 1068.5 200.9 1073.2 204 1078.6 205.7 1082.4 207 1087.7 207.5 1093.5 211.2 1098.3 212.7 1103.1 216.5 1108.4 219.1 1113.2 223.2 1119.2 225.8 1124.1 227.7 1129.5 232.4 1135.2 236.5 1139.4 240.9 1145.3 244.2 1150.2 249.6 1155.7 254.1 1161.2 259.7 1166.2 264 1172.4 272 1177.1 281.4 1181.7 286.5 1187.8 297.7 1192.8 305.6 1198.4 321.1 1203.6 333.6 1210.1 349.9 1214.4 369.8 1220.7 391.1 1226.9 415.3 1231.9 432.2 1237 445.9 1243.1 460.5 1248.3 466.2 1253.7 469.9 1260 475.7 1265.6 478.6 1271.4 486.7 1276.9 481.8 1282.2 490.6 1288.2 487.4 1293.3 524.1 1299.3 493.6 1305.4 525 1310.6 496.3 1315.9 499.2 1322.3 503.1 1329.2 504.5" fill="none" stroke="none" marker-start="url(#mB76)" marker-mid="url(#mB76)" marker-end="url(#mB76)"/>
<polyline points="1044.1,196.9 1045.7,197.3 1047.3,197.7 1048.9,198 1050.5,198.4 1052.1,198.8 1053.8,199.2 1055.4,199.5 1057,199.9 1058.6,200.3 1060.3,200.7 1061.9,201.1 1063.5,201.5 1065.2,201.8 1066.8,202.2 1068.4,202.6 1070.1,203 1071.7,203.4 1073.4,203.8 1075,204.2 1076.7,204.7 1078.3,205.1 1080,205.5 1081.6,205.9 1083.3,206.4 1085,206.9 1086.6,207.4 1088.3,208 1090,208.7 1091.6,209.4 1093.3,210.2 1095,211 1096.7,211.9 1098.4,212.8 1100.1,213.7 1101.8,214.7 1103.5,215.7 1105.2,216.7 1106.9,217.7 1108.6,218.8 1110.3,219.8 1112,220.9 1113.7,222 1115.4,223 1117.1,224.1 1118.9,225.2 1120.6,226.2 1122.3,227.3 1124,228.5 1125.8,229.6 1127.5,230.8 1129.2,232 1131,233.3 1132.7,234.6 1134.4,235.9 1136.2,237.2 1137.9,238.6 1139.7,240 1141.4,241.4 1143.2,242.8 1144.9,244.3 1146.7,245.8 1148.5,247.3 1150.2,248.8 1152,250.3 1153.8,251.9 1155.5,253.5 1157.3,255.1 1159.1,256.8 1160.9,258.6 1162.6,260.6 1164.4,262.7 1166.2,264.9 1168,267.3 1169.8,269.8 1171.6,272.4 1173.4,275 1175.2,277.7 1177,280.4 1178.8,283.2 1180.6,285.9 1182.4,288.8 1184.2,291.7 1186,294.7 1187.9,297.9 1189.7,301.2 1191.5,304.8 1193.3,308.6 1195.2,312.6 1197,316.7 1198.8,321 1200.6,325.2 1202.5,329.5 1204.3,334.1 1206.2,338.9 1208,344.2 1209.8,350.1 1211.7,356.4 1213.5,363.1 1215.4,370.3 1217.2,377.9 1219.1,385.7 1221,394 1222.8,402.1 1224.7,409.4 1226.5,416 1228.3,422 1230.2,427.6 1232,432.8 1233.9,437.6 1235.7,442 1237.6,446.1 1239.4,450 1241.2,453.7 1243.1,457 1244.9,460.2 1246.8,463 1248.6,465.7 1250.5,468.1 1252.3,470.3 1254.2,472.3 1256,474.2 1257.9,475.9 1259.7,477.5 1261.6,479 1263.4,480.3 1265.3,481.4 1267.2,482.4 1269,483.4 1270.9,484.3 1272.8,485.1 1274.7,485.9 1276.5,486.7 1278.4,487.5 1280.3,488.3 1282.2,489 1284.1,489.7 1286,490.4 1287.9,491.1 1289.8,491.7 1291.7,492.3 1293.6,493 1295.5,493.6 1297.4,494.2 1299.3,494.8 1301.2,495.4 1303.1,496 1305.1,496.6 1307,497.2 1308.9,497.8 1310.8,498.4 1312.8,499 1314.7,499.6 1316.6,500.2 1318.6,500.8 1320.5,501.4 1322.5,502 1324.4,502.6 1326.4,503.2 1328.3,503.8" stroke="#111" fill="none" stroke-width="1.6"/>
<marker id="mB80" markerUnits="userSpaceOnUse" markerWidth="12" markerHeight="12" refX="6" refY="6" overflow="visible"><circle cx="6" cy="6" r="4.6" fill="none" stroke="#23b9e6" stroke-width="0.85"/></marker>
<path d="M1037.6 178.8V189.6M1041.7 189.7V201.4M1046.9 197.1V206.4M1051.7 195.8V200.4M1056.9 196.3V199.7M1061.9 202.4V205.1M1066.7 203.1V205.5M1072.4 205.2V206.4M1076.6 206.3V207.7M1081.2 208.9V210.3M1086.7 212.4V213.2M1092.4 214V214.8M1096.9 217.6V218.3M1102.3 221.5V222.3M1107.1 223.1V223.8M1111.8 226V226.6M1117.6 229.7V230.6M1122.6 234.2V234.8M1129.2 237.2V238.1M1133.1 241V241.7M1137.9 246.7V247.4M1144.2 250.3V251.1M1149.4 256.6V257.3M1154.2 259.5V260.4M1159.9 265.2V266.1M1165.4 271.4V272.5M1170.6 282.2V283.5M1176 290.6V291.8M1180.8 295.9V297.3M1187.1 309.8V311.2M1192 321V322.5M1198.4 337.9V339.8M1203.4 352.1V353.9M1210 375.4V377.2M1214.9 394.3V396.3M1220.7 416V419.7M1225.4 431.4V434M1231.2 447V449.9M1236.3 452.9V456.8M1241.8 464.6V468.8M1247.5 474.3V478.6M1253.2 478.6V486.7M1258.6 481.1V486.8M1265 481.5V492.2M1270.6 508.5V529.7M1276.4 511.3V534.5M1282 496V511M1287.6 496.9V508.1M1293 500.6V519.6M1298.9 493V512M1304.7 493.4V510.2M1310.7 491.2V524.3M1316.3 533.1V659.5M1322.3 492.5V519.6" stroke="#23b9e6" fill="none" stroke-width="0.85"/>
<path d="M1037.6 181.6 1041.7 192.6 1046.9 199 1051.7 197.1 1056.9 197.2 1061.9 203.2 1066.7 203.8 1072.4 205.6 1076.6 206.8 1081.2 209.3 1086.7 212.7 1092.4 214.3 1096.9 217.8 1102.3 221.7 1107.1 223.3 1111.8 226.2 1117.6 229.9 1122.6 234.4 1129.2 237.5 1133.1 241.2 1137.9 246.9 1144.2 250.6 1149.4 256.8 1154.2 259.8 1159.9 265.6 1165.4 271.7 1170.6 282.5 1176 291.1 1180.8 296.4 1187.1 310.1 1192 321.5 1198.4 338.4 1203.4 352.7 1210 376.2 1214.9 395 1220.7 416.8 1225.4 432.1 1231.2 448 1236.3 453.8 1241.8 466.1 1247.5 475.7 1253.2 480.3 1258.6 483.2 1265 484.1 1270.6 513.5 1276.4 517.6 1282 500.9 1287.6 500.1 1293 505.7 1298.9 499.7 1304.7 498.8 1310.7 500.2 1316.3 557.1 1322.3 497.6" fill="none" stroke="none" marker-start="url(#mB80)" marker-mid="url(#mB80)" marker-end="url(#mB80)"/>
<polyline points="1037.5,198.4 1039.1,198.8 1040.8,199.2 1042.4,199.6 1044,199.9 1045.6,200.3 1047.2,200.7 1048.8,201.1 1050.5,201.4 1052.1,201.8 1053.7,202.2 1055.4,202.6 1057,203 1058.6,203.4 1060.3,203.8 1061.9,204.2 1063.5,204.6 1065.2,205 1066.8,205.4 1068.5,205.8 1070.1,206.2 1071.8,206.6 1073.5,207 1075.1,207.5 1076.8,207.9 1078.4,208.4 1080.1,209 1081.8,209.6 1083.5,210.3 1085.1,211 1086.8,211.8 1088.5,212.6 1090.2,213.4 1091.9,214.3 1093.6,215.3 1095.3,216.2 1097,217.2 1098.7,218.2 1100.4,219.3 1102.1,220.3 1103.8,221.4 1105.5,222.5 1107.2,223.5 1109,224.6 1110.7,225.7 1112.4,226.8 1114.1,227.8 1115.9,228.9 1117.6,230.1 1119.3,231.2 1121.1,232.4 1122.8,233.6 1124.5,234.9 1126.3,236.2 1128,237.5 1129.8,238.8 1131.5,240.2 1133.3,241.6 1135,243 1136.8,244.5 1138.5,245.9 1140.3,247.4 1142.1,248.9 1143.8,250.5 1145.6,252 1147.4,253.6 1149.1,255.2 1150.9,256.8 1152.7,258.5 1154.5,260.3 1156.2,262.3 1158,264.4 1159.8,266.6 1161.6,269 1163.4,271.5 1165.2,274.1 1167,276.7 1168.8,279.4 1170.6,282.2 1172.5,284.9 1174.3,287.7 1176.1,290.5 1177.9,293.5 1179.7,296.5 1181.5,299.7 1183.4,303 1185.2,306.6 1187,310.4 1188.8,314.4 1190.7,318.6 1192.5,322.8 1194.4,327.1 1196.2,331.4 1198,336 1199.9,340.8 1201.7,346.1 1203.6,352 1205.4,358.3 1207.3,365 1209.2,372.2 1211,379.8 1212.9,387.7 1214.8,396 1216.6,404.2 1218.5,411.6 1220.3,418.2 1222.2,424.3 1224,429.9 1225.9,435.2 1227.7,440 1229.6,444.5 1231.4,448.6 1233.3,452.6 1235.1,456.2 1237,459.7 1238.8,462.8 1240.6,465.7 1242.5,468.4 1244.3,470.8 1246.2,473 1248.1,475.1 1249.9,477 1251.8,478.8 1253.6,480.4 1255.5,481.9 1257.4,483.2 1259.2,484.3 1261.1,485.4 1263,486.3 1264.8,487.2 1266.7,488.1 1268.6,488.9 1270.5,489.7 1272.4,490.5 1274.2,491.3 1276.1,492 1278,492.7 1279.9,493.4 1281.8,494.1 1283.7,494.7 1285.6,495.4 1287.5,496 1289.4,496.6 1291.4,497.2 1293.3,497.8 1295.2,498.4 1297.1,499 1299,499.6 1301,500.2 1302.9,500.8 1304.8,501.4 1306.8,502 1308.7,502.7 1310.7,503.3 1312.6,503.9 1314.5,504.5 1316.5,505.1 1318.4,505.7 1320.4,506.3 1322.4,506.9" stroke="#111" fill="none" stroke-width="1.6"/>
<marker id="mB84" markerUnits="userSpaceOnUse" markerWidth="12" markerHeight="12" refX="6" refY="6" overflow="visible"><circle cx="6" cy="6" r="4.6" fill="none" stroke="#2cafd5" stroke-width="0.85"/></marker>
<path d="M1030.2 187.9V201.1M1035.5 195.1V204.2M1040.5 198V207M1045.3 202V206.9M1050.8 203.6V207.1M1055.4 202.7V205M1060.2 208.5V210.8M1065.2 206.8V208.3M1070.4 210V211.4M1075.3 210.3V211.3M1079.9 211.9V212.7M1085.7 215.6V216.5M1091.1 218.6V219.4M1096.6 223.1V224.1M1100.5 223.5V224.1M1106.9 226.7V227.4M1110.9 229.9V230.7M1116 235.5V236.4M1121.4 240.9V241.8M1126.8 241.5V242.1M1132.1 248.4V249M1137.4 250.8V251.5M1142.6 259V259.9M1148.4 263.9V265.1M1153.5 267.9V268.7M1158.5 275.9V276.8M1164.2 282.6V283.6M1169.2 292V292.9M1175.7 302.4V303.7M1180.8 309.3V310.4M1185.6 323.7V325M1191.2 335.9V337.6M1197.2 353V354.7M1202.7 371.9V374.5M1207.7 394.5V396.9M1214 416.3V419.4M1219.3 434.4V437.9M1224.7 448.2V452M1230.1 457.4V461.4M1236.8 471.7V475.9M1242.1 474.3V479.8M1248 482.8V490.3M1253.5 491.9V498.5M1259 485.3V492.2M1264.6 488V498.3M1270.7 498.6V511.7M1276.6 495.7V509.1M1281.2 496.5V507.7M1287.2 493.1V509.9M1293.3 495.1V513.5M1299.2 491.8V508.2M1305.4 493V508.2M1311 488.5V504.7M1316.5 502.5V536.5" stroke="#2cafd5" fill="none" stroke-width="0.85"/>
<path d="M1030.2 191.3 1035.5 198.3 1040.5 199.4 1045.3 203.9 1050.8 204.7 1055.4 203.4 1060.2 209.3 1065.2 207.4 1070.4 210.4 1075.3 210.6 1079.9 212.2 1085.7 215.9 1091.1 218.9 1096.6 223.3 1100.5 223.7 1106.9 226.9 1110.9 230.2 1116 235.7 1121.4 241.1 1126.8 241.7 1132.1 248.6 1137.4 251.1 1142.6 259.4 1148.4 264.1 1153.5 268.2 1158.5 276.1 1164.2 282.9 1169.2 292.3 1175.7 302.7 1180.8 309.8 1185.6 324.2 1191.2 336.5 1197.2 353.4 1202.7 372.7 1207.7 395.3 1214 417.6 1219.3 435.5 1224.7 449.1 1230.1 458.5 1236.8 473 1242.1 475.5 1248 484.9 1253.5 493.6 1259 487.1 1264.6 490.8 1270.7 501.6 1276.6 499.2 1281.2 500.2 1287.2 497.2 1293.3 500.2 1299.2 496.7 1305.4 496.6 1311 493.3 1316.5 509.3" fill="none" stroke="none" marker-start="url(#mB84)" marker-mid="url(#mB84)" marker-end="url(#mB84)"/>
<polyline points="1030.9,199.9 1032.6,200.3 1034.2,200.7 1035.8,201.1 1037.4,201.4 1039,201.8 1040.6,202.2 1042.3,202.6 1043.9,203 1045.5,203.4 1047.2,203.7 1048.8,204.1 1050.4,204.5 1052.1,204.9 1053.7,205.3 1055.3,205.7 1057,206.1 1058.6,206.5 1060.3,206.9 1061.9,207.3 1063.6,207.8 1065.2,208.2 1066.9,208.6 1068.6,209 1070.2,209.5 1071.9,210 1073.6,210.5 1075.2,211.1 1076.9,211.8 1078.6,212.5 1080.3,213.3 1082,214.1 1083.7,215 1085.4,215.9 1087.1,216.8 1088.8,217.8 1090.5,218.8 1092.2,219.8 1093.9,220.9 1095.6,221.9 1097.3,223 1099,224.1 1100.7,225.1 1102.5,226.2 1104.2,227.3 1105.9,228.4 1107.6,229.5 1109.4,230.6 1111.1,231.7 1112.8,232.9 1114.6,234.1 1116.3,235.3 1118,236.5 1119.8,237.8 1121.5,239.1 1123.3,240.5 1125,241.9 1126.8,243.3 1128.5,244.7 1130.3,246.1 1132.1,247.6 1133.8,249.1 1135.6,250.6 1137.4,252.2 1139.1,253.7 1140.9,255.3 1142.7,256.9 1144.5,258.5 1146.2,260.2 1148,262.1 1149.8,264 1151.6,266.1 1153.4,268.3 1155.2,270.7 1157,273.2 1158.8,275.8 1160.6,278.5 1162.4,281.2 1164.3,283.9 1166.1,286.7 1167.9,289.5 1169.7,292.3 1171.5,295.3 1173.3,298.3 1175.2,301.5 1177,304.8 1178.8,308.4 1180.7,312.2 1182.5,316.2 1184.3,320.4 1186.2,324.7 1188,329 1189.9,333.3 1191.7,337.9 1193.6,342.7 1195.4,348 1197.3,353.9 1199.2,360.2 1201,367 1202.9,374.2 1204.8,381.8 1206.6,389.7 1208.5,398 1210.4,406.3 1212.2,413.7 1214.1,420.4 1216,426.6 1217.8,432.3 1219.7,437.6 1221.5,442.4 1223.4,447 1225.2,451.2 1227.1,455.1 1228.9,458.9 1230.8,462.3 1232.6,465.5 1234.5,468.4 1236.3,471.1 1238.2,473.6 1240.1,475.8 1241.9,477.9 1243.8,479.9 1245.6,481.7 1247.5,483.3 1249.4,484.8 1251.2,486.1 1253.1,487.3 1255,488.3 1256.8,489.3 1258.7,490.2 1260.6,491.1 1262.5,491.9 1264.4,492.7 1266.3,493.5 1268.2,494.3 1270,495 1271.9,495.7 1273.8,496.4 1275.7,497.1 1277.7,497.8 1279.6,498.4 1281.5,499 1283.4,499.7 1285.3,500.3 1287.2,500.9 1289.1,501.5 1291.1,502.1 1293,502.7 1294.9,503.3 1296.9,503.9 1298.8,504.5 1300.7,505.1 1302.7,505.8 1304.6,506.4 1306.6,507 1308.5,507.6 1310.5,508.2 1312.4,508.8 1314.4,509.4 1316.4,510.1" stroke="#111" fill="none" stroke-width="1.6"/>
<marker id="mB88" markerUnits="userSpaceOnUse" markerWidth="12" markerHeight="12" refX="6" refY="6" overflow="visible"><circle cx="6" cy="6" r="4.6" fill="none" stroke="#35a3c1" stroke-width="0.85"/></marker>
<path d="M1023.9 185.5V197.5M1028.7 191.4V202M1033.9 198V204.5M1038.8 202.3V209.4M1044.1 203V206.8M1049.4 205.3V208.2M1054.2 207.3V209.2M1057.4 209.2V210.9M1063.9 210.2V211.5M1069.1 212.5V213.8M1073.4 214.9V215.8M1078.8 215.6V216.5M1083.7 220.5V221.6M1088.5 222V222.7M1093.8 225.6V226.4M1099 229.9V230.7M1104.1 233.2V233.8M1110.5 236V236.8M1114.8 239.4V240.1M1120.2 244.5V245.3M1125.6 250.6V251.4M1131 253.9V254.7M1136.5 259.3V260M1141.3 264.9V265.6M1146.6 271.8V272.4M1152.6 275.9V276.9M1158.6 287.7V288.6M1163.7 294.8V296M1169.6 305.3V306.8M1174.3 311.4V312.5M1179.8 323.8V325.7M1185.9 338.1V339.9M1190.8 355.8V357.9M1196.6 373.6V375.5M1201.8 399.2V401.7M1208.1 422.6V425.6M1214 439.4V443.3M1218.4 454.5V457.5M1224.3 463V467.5M1231 472.2V478.1M1235.9 480.2V484.1M1241.1 483.6V489.5M1247.4 487.3V493.1M1251.9 489.5V496.4M1258 495.7V505M1263.9 495.7V505.7M1269.5 501V517M1275.7 503.6V524.2M1281 498.3V510.8M1286.6 491.4V508.1M1293.1 498.2V520M1298.8 505.7V543.3M1304.6 518.7V575.1M1310.3 525.3V649.6" stroke="#35a3c1" fill="none" stroke-width="0.85"/>
<path d="M1023.9 188.4 1028.7 194.1 1033.9 200.7 1038.8 204.3 1044.1 204.4 1049.4 206.3 1054.2 207.9 1057.4 209.7 1063.9 210.5 1069.1 212.7 1073.4 215.2 1078.8 215.8 1083.7 220.7 1088.5 222.2 1093.8 225.8 1099 230.2 1104.1 233.5 1110.5 236.2 1114.8 239.6 1120.2 244.7 1125.6 250.8 1131 254.1 1136.5 259.5 1141.3 265.2 1146.6 271.9 1152.6 276.4 1158.6 288 1163.7 295.1 1169.6 305.8 1174.3 311.7 1179.8 324.4 1185.9 338.7 1190.8 356.4 1196.6 374.2 1201.8 400.2 1208.1 423.5 1214 440.2 1218.4 455.6 1224.3 464.5 1231 473 1235.9 481.6 1241.1 486.2 1247.4 489.7 1251.9 491.3 1258 498.6 1263.9 498.6 1269.5 506 1275.7 508.8 1281 502.2 1286.6 496.7 1293.1 502.7 1298.8 513.6 1304.6 528.9 1310.3 541.3" fill="none" stroke="none" marker-start="url(#mB88)" marker-mid="url(#mB88)" marker-end="url(#mB88)"/>
<polyline points="1024.3,201.5 1025.9,201.8 1027.5,202.2 1029.2,202.6 1030.8,203 1032.4,203.4 1034,203.7 1035.6,204.1 1037.3,204.5 1038.9,204.9 1040.5,205.3 1042.2,205.7 1043.8,206.1 1045.5,206.5 1047.1,206.9 1048.7,207.3 1050.4,207.7 1052,208.1 1053.7,208.5 1055.3,208.9 1057,209.3 1058.7,209.7 1060.3,210.2 1062,210.6 1063.6,211.1 1065.3,211.5 1067,212.1 1068.7,212.7 1070.3,213.4 1072,214.1 1073.7,214.9 1075.4,215.7 1077.1,216.6 1078.8,217.5 1080.5,218.4 1082.2,219.4 1083.9,220.4 1085.6,221.4 1087.3,222.4 1089,223.5 1090.8,224.6 1092.5,225.7 1094.2,226.7 1095.9,227.8 1097.6,228.9 1099.4,230 1101.1,231.1 1102.8,232.2 1104.6,233.3 1106.3,234.5 1108,235.7 1109.8,236.9 1111.5,238.2 1113.3,239.5 1115,240.8 1116.8,242.1 1118.5,243.5 1120.3,244.9 1122,246.4 1123.8,247.8 1125.6,249.3 1127.3,250.8 1129.1,252.3 1130.9,253.9 1132.7,255.4 1134.4,257 1136.2,258.6 1138,260.2 1139.8,262 1141.6,263.8 1143.4,265.7 1145.1,267.8 1146.9,270.1 1148.8,272.5 1150.6,275 1152.4,277.6 1154.2,280.2 1156,283 1157.8,285.7 1159.6,288.5 1161.5,291.3 1163.3,294.1 1165.1,297.1 1166.9,300.1 1168.8,303.3 1170.6,306.7 1172.4,310.2 1174.3,314.1 1176.1,318.1 1178,322.3 1179.8,326.6 1181.7,330.9 1183.5,335.2 1185.4,339.8 1187.2,344.7 1189.1,349.9 1190.9,355.8 1192.8,362.2 1194.7,368.9 1196.6,376.1 1198.5,383.8 1200.3,391.7 1202.2,400.1 1204.1,408.4 1206,415.9 1207.8,422.7 1209.7,428.9 1211.6,434.6 1213.4,440 1215.3,444.9 1217.2,449.5 1219,453.7 1220.9,457.7 1222.7,461.5 1224.6,465 1226.4,468.2 1228.3,471.2 1230.2,473.9 1232,476.4 1233.9,478.7 1235.7,480.8 1237.6,482.7 1239.5,484.6 1241.3,486.2 1243.2,487.7 1245.1,489.1 1246.9,490.3 1248.8,491.3 1250.7,492.3 1252.6,493.2 1254.5,494.1 1256.3,494.9 1258.2,495.7 1260.1,496.5 1262,497.3 1263.9,498.1 1265.8,498.8 1267.7,499.5 1269.6,500.2 1271.5,500.8 1273.4,501.5 1275.4,502.1 1277.3,502.7 1279.2,503.4 1281.1,504 1283,504.6 1285,505.2 1286.9,505.8 1288.8,506.4 1290.8,507 1292.7,507.7 1294.7,508.3 1296.6,508.9 1298.5,509.5 1300.5,510.1 1302.5,510.8 1304.4,511.4 1306.4,512 1308.3,512.6 1310.3,513.2" stroke="#111" fill="none" stroke-width="1.6"/>
<marker id="mB92" markerUnits="userSpaceOnUse" markerWidth="12" markerHeight="12" refX="6" refY="6" overflow="visible"><circle cx="6" cy="6" r="4.6" fill="none" stroke="#3d99b1" stroke-width="0.85"/></marker>
<path d="M1017.8 193.9V212.1M1023.2 202V211.8M1027 197V204.2M1031.9 203V207.3M1037.4 206.6V210.5M1041.9 206.7V208.7M1047.8 209.8V211.8M1052 209.3V210.8M1056.7 211.8V213.5M1062.4 213.3V214.3M1067 216.4V217.4M1072.4 218V218.9M1077.7 220.2V221M1081.5 224.5V225.5M1088.4 229.2V230M1092.8 232.7V233.4M1097.5 234.9V235.6M1102.9 237.2V238.1M1108.8 243.2V243.7M1114.1 248V248.9M1119.1 253.3V254M1124.2 254.8V255.4M1129.3 260.4V261.1M1135.7 266.9V267.9M1140.7 270.7V271.4M1145.6 278.3V279.1M1152.4 290.2V291.1M1157.2 296.8V297.8M1162.9 305.6V307.4M1168 316.5V317.7M1173.4 327.9V329.5M1177.9 336.9V338.4M1184.7 355.9V358M1190.2 379.2V381.3M1196.6 406.5V409.4M1201.4 425.8V429.4M1208 444.9V448.2M1213.3 455.2V458.5M1218.1 467.3V470.6M1222.8 476.2V481.4M1229.4 485.7V491.2M1234.5 482.2V488.2M1241.3 487.2V492.5M1246.7 495.7V504.3M1251.6 496.7V509M1258.2 500.7V512.7M1263.5 503.1V519.4M1269.7 501V517.9M1274.8 508.1V529.8M1281.4 506.2V522.1M1286.8 527.1V571.2M1292.7 508V549.7M1298.3 505.5V533.5M1304.8 506.4V529" stroke="#3d99b1" fill="none" stroke-width="0.85"/>
<path d="M1017.8 198.3 1023.2 204.5 1027 198.7 1031.9 204 1037.4 207.5 1041.9 207.5 1047.8 210.5 1052 209.8 1056.7 212.3 1062.4 213.5 1067 216.7 1072.4 218.3 1077.7 220.4 1081.5 224.8 1088.4 229.3 1092.8 232.9 1097.5 235.1 1102.9 237.5 1108.8 243.3 1114.1 248.3 1119.1 253.5 1124.2 255 1129.3 260.7 1135.7 267.2 1140.7 270.9 1145.6 278.5 1152.4 290.5 1157.2 297.1 1162.9 306 1168 317 1173.4 328.4 1177.9 337.4 1184.7 356.6 1190.2 379.9 1196.6 407.3 1201.4 426.9 1208 445.9 1213.3 456.2 1218.1 468.3 1222.8 477.6 1229.4 487.2 1234.5 483.4 1241.3 488.7 1246.7 498.6 1251.6 500 1258.2 503.5 1263.5 508.3 1269.7 505.8 1274.8 513.2 1281.4 511.5 1286.8 536.4 1292.7 517.4 1298.3 513.2 1304.8 511.7" fill="none" stroke="none" marker-start="url(#mB92)" marker-mid="url(#mB92)" marker-end="url(#mB92)"/>
<polyline points="1017.6,203 1019.3,203.4 1020.9,203.7 1022.5,204.1 1024.1,204.5 1025.7,204.9 1027.4,205.3 1029,205.7 1030.6,206.1 1032.3,206.5 1033.9,206.8 1035.5,207.2 1037.2,207.6 1038.8,208 1040.4,208.4 1042.1,208.8 1043.7,209.2 1045.4,209.7 1047,210.1 1048.7,210.5 1050.4,210.9 1052,211.3 1053.7,211.8 1055.3,212.2 1057,212.6 1058.7,213.1 1060.4,213.7 1062,214.3 1063.7,215 1065.4,215.7 1067.1,216.5 1068.8,217.3 1070.5,218.2 1072.2,219.1 1073.9,220 1075.6,221 1077.3,222 1079,223 1080.7,224 1082.4,225.1 1084.2,226.2 1085.9,227.3 1087.6,228.4 1089.3,229.4 1091,230.5 1092.8,231.6 1094.5,232.7 1096.2,233.8 1098,235 1099.7,236.1 1101.5,237.3 1103.2,238.6 1105,239.8 1106.7,241.1 1108.5,242.5 1110.2,243.8 1112,245.2 1113.7,246.6 1115.5,248 1117.3,249.5 1119,251 1120.8,252.5 1122.6,254 1124.3,255.6 1126.1,257.1 1127.9,258.7 1129.7,260.3 1131.5,262 1133.3,263.7 1135,265.5 1136.8,267.5 1138.6,269.6 1140.4,271.8 1142.3,274.2 1144.1,276.7 1145.9,279.3 1147.7,282 1149.5,284.7 1151.3,287.5 1153.2,290.3 1155,293.1 1156.8,296 1158.6,298.9 1160.5,302 1162.3,305.2 1164.1,308.5 1166,312.1 1167.8,315.9 1169.7,320 1171.5,324.2 1173.4,328.4 1175.2,332.8 1177.1,337.2 1179,341.7 1180.8,346.6 1182.7,351.9 1184.6,357.8 1186.4,364.1 1188.3,370.9 1190.2,378.1 1192.1,385.8 1194,393.8 1195.9,402.2 1197.8,410.5 1199.7,418.1 1201.5,424.9 1203.4,431.2 1205.3,437 1207.2,442.4 1209,447.4 1210.9,452 1212.7,456.3 1214.6,460.3 1216.5,464.1 1218.3,467.6 1220.2,470.9 1222.1,473.9 1223.9,476.7 1225.8,479.2 1227.7,481.5 1229.5,483.6 1231.4,485.6 1233.3,487.5 1235.1,489.2 1237,490.7 1238.9,492 1240.7,493.2 1242.6,494.3 1244.5,495.3 1246.4,496.2 1248.3,497.1 1250.2,498 1252.1,498.8 1254,499.6 1255.9,500.4 1257.8,501.1 1259.7,501.9 1261.6,502.6 1263.5,503.3 1265.4,503.9 1267.3,504.6 1269.2,505.2 1271.1,505.9 1273,506.5 1275,507.1 1276.9,507.7 1278.8,508.3 1280.8,508.9 1282.7,509.6 1284.6,510.2 1286.6,510.8 1288.5,511.4 1290.5,512.1 1292.4,512.7 1294.4,513.3 1296.3,513.9 1298.3,514.5 1300.3,515.2 1302.2,515.8 1304.2,516.4" stroke="#111" fill="none" stroke-width="1.6"/>
<marker id="mB96" markerUnits="userSpaceOnUse" markerWidth="12" markerHeight="12" refX="6" refY="6" overflow="visible"><circle cx="6" cy="6" r="4.6" fill="none" stroke="#4092a9" stroke-width="0.85"/></marker>
<path d="M1010.7 197.1V217.2M1015.6 196.8V207.1M1020.7 199.3V205.6M1025 203.8V208.4M1030 203.4V206.1M1035.7 208.7V210.9M1040.5 209V211M1045 213V214.3M1050.4 213.6V215.1M1055.8 215.7V216.9M1059.9 217.5V218.4M1065.5 219.5V220.5M1070.4 222.2V223.1M1075.6 226.2V227M1080.9 228.7V229.5M1086.1 233.2V234.1M1091.3 237V238.2M1097.3 241.1V241.9M1102.2 246.8V247.7M1107.5 246V246.7M1112.9 252.9V253.7M1117.8 258.3V259M1123.4 261.1V262M1128.3 266.6V267.3M1133.6 273.6V274.6M1138.9 279.7V280.5M1144.8 286.8V287.4M1150.2 298.1V299.3M1156.2 307.2V308.6M1161.5 317.4V318.7M1166.7 329.9V331.5M1172.6 342.8V344.4M1177.8 358V359.7M1184 377V378.9M1189.8 403.4V405.6M1195.6 426.5V428.7M1201.3 444.1V447M1206.4 457.5V462M1212.2 465.4V470.3M1217.2 477.6V481.3M1222.9 484.9V491.1M1228.8 490V496.8M1234.4 534.1V557.6M1240.1 498V507.5M1245.9 500.8V512.9M1251.7 501V512.4M1256.3 503.7V516.9M1263.4 501.3V512.6M1268.9 507.3V526.5M1275.4 501.6V517.3M1279.9 501V518.6M1285.9 503.3V522.4M1291.8 511.6V542.3M1298.7 511.8V547" stroke="#4092a9" fill="none" stroke-width="0.85"/>
<path d="M1010.7 202 1015.6 199.4 1020.7 201.4 1025 205.1 1030 204.4 1035.7 209.4 1040.5 209.5 1045 213.5 1050.4 213.9 1055.8 216.1 1059.9 217.8 1065.5 219.8 1070.4 222.4 1075.6 226.4 1080.9 228.9 1086.1 233.6 1091.3 237.3 1097.3 241.3 1102.2 247 1107.5 246.2 1112.9 253.2 1117.8 258.6 1123.4 261.3 1128.3 266.8 1133.6 273.9 1138.9 280 1144.8 286.9 1150.2 298.5 1156.2 307.7 1161.5 317.9 1166.7 330.4 1172.6 343.3 1177.8 358.5 1184 377.6 1189.8 404.4 1195.6 427.2 1201.3 445.1 1206.4 458.9 1212.2 466.8 1217.2 478.8 1222.9 486.1 1228.8 491.4 1234.4 539.7 1240.1 500.3 1245.9 503.2 1251.7 504.3 1256.3 508.3 1263.4 504.5 1268.9 513.1 1275.4 505.5 1279.9 505.9 1285.9 507.8 1291.8 516.8 1298.7 521.5" fill="none" stroke="none" marker-start="url(#mB96)" marker-mid="url(#mB96)" marker-end="url(#mB96)"/>
<polyline points="1010.9,204.5 1012.6,204.9 1014.2,205.3 1015.8,205.7 1017.4,206.1 1019,206.5 1020.7,206.8 1022.3,207.2 1023.9,207.6 1025.6,208 1027.2,208.4 1028.8,208.8 1030.5,209.2 1032.1,209.6 1033.8,210 1035.4,210.4 1037.1,210.8 1038.7,211.2 1040.4,211.6 1042,212.1 1043.7,212.5 1045.3,212.9 1047,213.4 1048.7,213.8 1050.3,214.2 1052,214.7 1053.7,215.3 1055.4,215.9 1057,216.6 1058.7,217.3 1060.4,218.1 1062.1,218.9 1063.8,219.7 1065.5,220.6 1067.2,221.6 1068.9,222.6 1070.6,223.6 1072.4,224.6 1074.1,225.6 1075.8,226.7 1077.5,227.8 1079.2,228.9 1081,230 1082.7,231.1 1084.4,232.2 1086.1,233.3 1087.9,234.4 1089.6,235.5 1091.4,236.6 1093.1,237.8 1094.8,239 1096.6,240.2 1098.3,241.5 1100.1,242.8 1101.8,244.1 1103.6,245.5 1105.4,246.9 1107.1,248.3 1108.9,249.7 1110.7,251.2 1112.4,252.7 1114.2,254.2 1116,255.7 1117.8,257.3 1119.5,258.9 1121.3,260.5 1123.1,262.1 1124.9,263.7 1126.7,265.4 1128.5,267.3 1130.3,269.2 1132.1,271.3 1133.9,273.6 1135.7,276 1137.5,278.5 1139.3,281.1 1141.2,283.8 1143,286.5 1144.8,289.3 1146.6,292.1 1148.5,294.9 1150.3,297.8 1152.1,300.8 1154,303.8 1155.8,307 1157.7,310.4 1159.5,313.9 1161.4,317.8 1163.2,321.8 1165.1,326 1166.9,330.4 1168.8,334.7 1170.7,339.1 1172.5,343.7 1174.4,348.5 1176.3,353.8 1178.1,359.7 1180,366.1 1181.9,372.9 1183.8,380.1 1185.7,387.9 1187.6,395.8 1189.5,404.2 1191.4,412.6 1193.3,420.3 1195.2,427.2 1197.1,433.5 1199,439.4 1200.8,444.8 1202.7,449.8 1204.6,454.5 1206.4,458.8 1208.3,462.9 1210.2,466.8 1212,470.3 1213.9,473.6 1215.8,476.7 1217.6,479.5 1219.5,482 1221.4,484.4 1223.3,486.5 1225.1,488.5 1227,490.4 1228.9,492.1 1230.8,493.7 1232.6,495 1234.5,496.3 1236.4,497.3 1238.3,498.3 1240.2,499.2 1242.1,500.1 1243.9,501 1245.8,501.9 1247.7,502.7 1249.6,503.5 1251.5,504.2 1253.4,505 1255.4,505.7 1257.3,506.4 1259.2,507.1 1261.1,507.7 1263,508.4 1264.9,509 1266.9,509.6 1268.8,510.2 1270.7,510.9 1272.7,511.5 1274.6,512.1 1276.5,512.7 1278.5,513.4 1280.4,514 1282.4,514.6 1284.3,515.2 1286.3,515.9 1288.2,516.5 1290.2,517.1 1292.2,517.8 1294.1,518.4 1296.1,519 1298.1,519.6" stroke="#111" fill="none" stroke-width="1.6"/>
<marker id="mB100" markerUnits="userSpaceOnUse" markerWidth="12" markerHeight="12" refX="6" refY="6" overflow="visible"><circle cx="6" cy="6" r="4.6" fill="none" stroke="#428ba1" stroke-width="0.85"/></marker>
<path d="M1004 189.9V202.5M1008.3 193V201.3M1013.3 202.9V208.5M1017.7 201.1V205.2M1022.6 207.6V211.3M1028.2 210.4V213.8M1033.3 212.3V215M1038 211.5V213.1M1043.1 214.4V215.7M1047.3 215.5V216.7M1053 218V219.3M1058.3 221.2V222M1063.5 224.6V225.5M1068.1 228.9V229.6M1073.5 230.8V231.4M1077.2 232.6V233.4M1083.7 236.8V237.6M1087.8 239.6V240.3M1093.6 244.4V245.2M1099.1 248.9V249.8M1103.5 252V252.8M1108.9 257.8V258.6M1114.1 261.2V261.9M1119.2 265.2V265.9M1124.4 269.6V270.5M1131 281.2V282.2M1135 287.1V288.4M1141 296.9V298M1146 301.4V302.6M1152.3 313.7V314.8M1157.3 323.2V324.7M1163.1 338.3V339.5M1167.9 349.8V351.9M1173.3 366.6V368.1M1179.7 391.4V393.8M1185.6 413.3V416.1M1190.2 434V437.8M1196.1 448.1V451.6M1201.8 464.7V468.5M1207.5 472.7V477M1212.7 479.7V483.5M1218.4 486.5V491.9M1223.8 493.3V500M1230.6 497.8V505.5M1234.7 497.9V506.7M1240.9 528.9V555.6M1245.8 508.4V519.9M1251.9 519.5V538M1256.6 503.8V516.1M1262.7 538.9V653.5M1269.2 506.1V524.2M1274.8 526.7V558.7M1280.5 521.7V559.3M1285.5 526V573.3M1292.2 526.2V568.6" stroke="#428ba1" fill="none" stroke-width="0.85"/>
<path d="M1004 193.4 1008.3 195.3 1013.3 204.8 1017.7 202.5 1022.6 208.6 1028.2 211.4 1033.3 213.1 1038 212.1 1043.1 214.9 1047.3 215.9 1053 218.3 1058.3 221.5 1063.5 224.8 1068.1 229.1 1073.5 231 1077.2 232.8 1083.7 237 1087.8 239.8 1093.6 244.7 1099.1 249.2 1103.5 252.3 1108.9 258.1 1114.1 261.4 1119.2 265.4 1124.4 269.8 1131 281.5 1135 287.3 1141 297.2 1146 301.8 1152.3 314.1 1157.3 323.7 1163.1 338.8 1167.9 350.4 1173.3 367 1179.7 392.2 1185.6 413.9 1190.2 435.2 1196.1 448.9 1201.8 465.7 1207.5 473.8 1212.7 480.8 1218.4 487.7 1223.8 494.7 1230.6 500.8 1234.7 500.7 1240.9 534.4 1245.8 511.4 1251.9 523.5 1256.6 506.7 1262.7 547.9 1269.2 509.4 1274.8 533.8 1280.5 529.8 1285.5 535 1292.2 537.4" fill="none" stroke="none" marker-start="url(#mB100)" marker-mid="url(#mB100)" marker-end="url(#mB100)"/>
<polyline points="1004.2,206.1 1005.8,206.5 1007.4,206.8 1009,207.2 1010.7,207.6 1012.3,208 1013.9,208.4 1015.5,208.8 1017.2,209.2 1018.8,209.6 1020.4,210 1022.1,210.4 1023.7,210.8 1025.4,211.2 1027,211.6 1028.7,212 1030.3,212.4 1032,212.8 1033.6,213.2 1035.3,213.7 1036.9,214.1 1038.6,214.5 1040.3,215 1041.9,215.4 1043.6,215.8 1045.3,216.3 1047,216.9 1048.7,217.5 1050.3,218.2 1052,218.9 1053.7,219.7 1055.4,220.5 1057.1,221.3 1058.8,222.2 1060.5,223.2 1062.2,224.2 1064,225.2 1065.7,226.2 1067.4,227.3 1069.1,228.3 1070.8,229.4 1072.6,230.5 1074.3,231.6 1076,232.7 1077.7,233.8 1079.5,234.9 1081.2,236 1083,237.1 1084.7,238.3 1086.4,239.5 1088.2,240.7 1089.9,241.9 1091.7,243.2 1093.4,244.5 1095.2,245.8 1097,247.2 1098.7,248.6 1100.5,250 1102.3,251.4 1104,252.9 1105.8,254.4 1107.6,255.9 1109.4,257.5 1111.1,259 1112.9,260.6 1114.7,262.2 1116.5,263.8 1118.3,265.5 1120.1,267.2 1121.9,269 1123.7,271 1125.5,273.1 1127.3,275.3 1129.1,277.7 1130.9,280.3 1132.8,282.9 1134.6,285.6 1136.4,288.3 1138.2,291.1 1140.1,293.9 1141.9,296.7 1143.7,299.6 1145.6,302.6 1147.4,305.7 1149.3,308.9 1151.1,312.3 1153,315.8 1154.8,319.7 1156.7,323.7 1158.6,327.9 1160.4,332.3 1162.3,336.6 1164.2,341 1166,345.6 1167.9,350.5 1169.8,355.8 1171.7,361.7 1173.6,368.1 1175.5,374.9 1177.4,382.1 1179.3,389.9 1181.2,397.9 1183.1,406.3 1185,414.8 1186.9,422.6 1188.8,429.5 1190.7,435.9 1192.6,441.8 1194.5,447.3 1196.3,452.3 1198.2,457 1200.1,461.4 1202,465.6 1203.8,469.4 1205.7,473.1 1207.6,476.4 1209.5,479.5 1211.3,482.3 1213.2,484.9 1215.1,487.2 1217,489.4 1218.8,491.5 1220.7,493.4 1222.6,495.1 1224.5,496.7 1226.3,498 1228.2,499.3 1230.1,500.4 1232,501.4 1233.9,502.3 1235.8,503.2 1237.7,504.1 1239.6,505 1241.5,505.8 1243.4,506.6 1245.3,507.3 1247.2,508.1 1249.1,508.8 1251,509.5 1252.9,510.2 1254.9,510.9 1256.8,511.5 1258.7,512.1 1260.6,512.8 1262.6,513.4 1264.5,514 1266.4,514.7 1268.4,515.3 1270.3,515.9 1272.3,516.6 1274.2,517.2 1276.2,517.8 1278.1,518.4 1280.1,519.1 1282,519.7 1284,520.3 1286,521 1287.9,521.6 1289.9,522.3 1291.9,522.9" stroke="#111" fill="none" stroke-width="1.6"/>
<marker id="mB104" markerUnits="userSpaceOnUse" markerWidth="12" markerHeight="12" refX="6" refY="6" overflow="visible"><circle cx="6" cy="6" r="4.6" fill="none" stroke="#458498" stroke-width="0.85"/></marker>
<path d="M997.1 194.7V209.6M1000.8 197.8V206.4M1006 206V213M1011.5 209.8V216.4M1015.6 209.5V214.5M1021.3 210.2V213.3M1025.6 212.8V214.9M1030.9 214.8V216.3M1036.4 217.5V219.3M1040.7 219.3V220.4M1046 222.3V223.3M1050.5 221.5V222.5M1056 226.6V227.6M1060.8 228.9V229.8M1065.7 232.7V233.6M1071.1 235.6V236.2M1076.2 238.2V239.1M1081.8 243.6V244.5M1086.5 245.2V245.9M1091.6 249.7V250.7M1096.3 254.4V255M1102.2 260.7V261.5M1107.1 262.4V263M1113.1 267.2V267.7M1117.1 271.8V272.4M1123.5 280.7V281.5M1128.3 287.9V288.8M1134.8 298.2V299.2M1138.5 303.2V304.6M1144.2 315V316.4M1150.1 323.9V325.5M1155.6 337.5V338.9M1161.9 354.1V356.1M1167 371.4V373.3M1172.2 394.9V397.5M1178.4 415.8V418M1184.8 440.5V443.3M1189.4 450.9V455.1M1194.8 466.5V469.8M1201.3 476.5V480.7M1205.5 485.4V489M1211.9 533.5V555.9M1217.2 497.8V502.3M1222.1 501.8V508.7M1228.4 507.6V517.7M1234.4 508.8V520.5M1238.7 504.3V514.8M1245.1 526.8V556.1M1251.4 514.3V527.4M1256.6 512.7V536.1M1262.1 512.3V531.1M1268.2 512.9V529.3M1274 520.3V547.2M1280.1 509.3V531M1285.2 513.3V536.4" stroke="#458498" fill="none" stroke-width="0.85"/>
<path d="M997.1 199.6 1000.8 200.3 1006 208.1 1011.5 211.5 1015.6 211 1021.3 211 1025.6 213.4 1030.9 215.4 1036.4 218.1 1040.7 219.6 1046 222.8 1050.5 221.8 1056 226.9 1060.8 229.2 1065.7 232.9 1071.1 235.7 1076.2 238.5 1081.8 243.8 1086.5 245.4 1091.6 249.9 1096.3 254.6 1102.2 261 1107.1 262.6 1113.1 267.3 1117.1 272.1 1123.5 281 1128.3 288.2 1134.8 298.6 1138.5 303.5 1144.2 315.6 1150.1 324.5 1155.6 337.8 1161.9 354.6 1167 372 1172.2 396 1178.4 416.7 1184.8 441.3 1189.4 452 1194.8 468.1 1201.3 477.9 1205.5 486.7 1211.9 538.5 1217.2 499.8 1222.1 504 1228.4 509.7 1234.4 512.8 1238.7 506.8 1245.1 534.5 1251.4 517.9 1256.6 517.4 1262.1 516.4 1268.2 518.2 1274 529.1 1280.1 515.6 1285.2 521.4" fill="none" stroke="none" marker-start="url(#mB104)" marker-mid="url(#mB104)" marker-end="url(#mB104)"/>
<polyline points="997,207.7 998.6,208.1 1000.2,208.5 1001.8,208.9 1003.5,209.3 1005.1,209.7 1006.7,210.1 1008.3,210.5 1010,210.9 1011.6,211.3 1013.2,211.7 1014.9,212.1 1016.5,212.5 1018.2,212.9 1019.8,213.3 1021.5,213.7 1023.1,214.1 1024.8,214.5 1026.4,214.9 1028.1,215.4 1029.8,215.8 1031.4,216.2 1033.1,216.7 1034.8,217.1 1036.4,217.6 1038.1,218 1039.8,218.6 1041.5,219.2 1043.2,219.9 1044.9,220.6 1046.6,221.4 1048.3,222.2 1050,223.1 1051.7,224 1053.4,224.9 1055.1,225.9 1056.8,226.9 1058.5,227.9 1060.2,229 1062,230.1 1063.7,231.1 1065.4,232.3 1067.1,233.4 1068.9,234.5 1070.6,235.6 1072.3,236.7 1074.1,237.8 1075.8,238.9 1077.6,240.1 1079.3,241.2 1081.1,242.5 1082.8,243.7 1084.6,245 1086.3,246.3 1088.1,247.6 1089.9,249 1091.6,250.4 1093.4,251.8 1095.2,253.3 1096.9,254.7 1098.7,256.2 1100.5,257.8 1102.3,259.3 1104.1,260.9 1105.9,262.5 1107.6,264.1 1109.4,265.7 1111.2,267.4 1113,269.1 1114.8,270.9 1116.6,272.9 1118.4,275 1120.3,277.2 1122.1,279.6 1123.9,282.1 1125.7,284.8 1127.6,287.5 1129.4,290.2 1131.2,293 1133.1,295.9 1134.9,298.7 1136.7,301.6 1138.6,304.6 1140.4,307.7 1142.3,310.9 1144.1,314.2 1146,317.8 1147.9,321.7 1149.7,325.7 1151.6,330 1153.5,334.3 1155.3,338.7 1157.2,343.1 1159.1,347.7 1161,352.6 1162.9,357.9 1164.8,363.8 1166.7,370.2 1168.6,377 1170.5,384.3 1172.4,392.1 1174.3,400.1 1176.2,408.6 1178.2,417.1 1180.1,424.9 1182,431.9 1183.9,438.4 1185.8,444.3 1187.7,449.9 1189.5,455 1191.4,459.8 1193.3,464.2 1195.2,468.4 1197.1,472.3 1199,476 1200.8,479.3 1202.7,482.5 1204.6,485.3 1206.5,487.9 1208.3,490.3 1210.2,492.5 1212.1,494.6 1214,496.5 1215.9,498.3 1217.7,499.9 1219.6,501.3 1221.5,502.5 1223.4,503.7 1225.3,504.7 1227.2,505.6 1229.1,506.5 1231,507.4 1232.9,508.3 1234.8,509.1 1236.7,509.9 1238.6,510.7 1240.5,511.4 1242.4,512.2 1244.3,512.9 1246.3,513.6 1248.2,514.2 1250.1,514.9 1252,515.5 1254,516.2 1255.9,516.8 1257.8,517.4 1259.8,518.1 1261.7,518.7 1263.7,519.3 1265.6,520 1267.6,520.6 1269.5,521.2 1271.5,521.9 1273.5,522.5 1275.4,523.2 1277.4,523.8 1279.4,524.4 1281.3,525.1 1283.3,525.7 1285.3,526.4" stroke="#111" fill="none" stroke-width="1.6"/>
<marker id="mB108" markerUnits="userSpaceOnUse" markerWidth="12" markerHeight="12" refX="6" refY="6" overflow="visible"><circle cx="6" cy="6" r="4.6" fill="none" stroke="#366d81" stroke-width="0.85"/></marker>
<path d="M988.9 193.1V204.9M995.8 207.3V221.5M999.8 202.9V208.7M1004.3 206.2V211.4M1009.1 209V211.5M1014 213.3V216.5M1019.7 216.5V218.3M1023.9 216.9V218.5M1028.9 218.9V220.1M1034 221V221.9M1038 221.1V221.9M1043.7 224.8V225.5M1048.6 226V226.9M1054.7 231.7V232.5M1059.2 233.6V234.6M1064.2 236.9V237.7M1068.8 240V240.8M1074.3 243V243.7M1079.7 246.2V247M1084.4 249.6V250.6M1090.2 255.9V256.7M1095 258.8V259.6M1100.8 263.8V264.5M1105.6 270.9V271.5M1111.5 275.4V276.1M1116.8 283.4V284.4M1122.1 289.3V290.5M1127.6 297.8V298.8M1132.9 305.5V306.7M1138.1 316V317.2M1145.1 331.6V333.5M1149 339.2V341M1154.5 354.3V356.5M1159.7 364.6V366.9M1166.1 392.7V394.7M1172.8 423.5V426.5M1177.4 438.7V441.2M1182.8 452.8V455.8M1188.7 469.9V475.7M1194.3 479.7V484.9M1199.4 489V493.6M1205 501.1V507.5M1210.6 497.9V503.7M1216.8 502.8V510.5M1222.2 509.1V520.4M1228 508V515.5M1233.9 514.1V527.6M1239.4 505.6V515.2M1244.4 521.1V540.8M1250.5 512.2V525.6M1255.6 505.4V517.9M1262.1 521.9V551.6M1267 517.1V544.3M1273.6 525.4V564.5M1279.2 536.9V655.2" stroke="#366d81" fill="none" stroke-width="0.85"/>
<path d="M988.9 195.4 995.8 209.9 999.8 204.6 1004.3 207.9 1009.1 209.7 1014 214.4 1019.7 216.9 1023.9 217.5 1028.9 219.2 1034 221.3 1038 221.3 1043.7 225.1 1048.6 226.3 1054.7 231.9 1059.2 233.8 1064.2 237.1 1068.8 240.3 1074.3 243.2 1079.7 246.4 1084.4 249.9 1090.2 256.1 1095 259 1100.8 264 1105.6 271.1 1111.5 275.6 1116.8 283.7 1122.1 289.6 1127.6 298.1 1132.9 306 1138.1 316.3 1145.1 332.3 1149 339.9 1154.5 354.8 1159.7 365.3 1166.1 393.4 1172.8 424.4 1177.4 439.6 1182.8 453.8 1188.7 471.7 1194.3 480.7 1199.4 490.3 1205 503.9 1210.6 499.8 1216.8 505.1 1222.2 512 1228 510.6 1233.9 517.7 1239.4 508.4 1244.4 524.3 1250.5 515.8 1255.6 511.1 1262.1 529.4 1267 523 1273.6 535.2 1279.2 554.5" fill="none" stroke="none" marker-start="url(#mB108)" marker-mid="url(#mB108)" marker-end="url(#mB108)"/>
<polyline points="990.2,209.3 991.8,209.7 993.5,210.1 995.1,210.4 996.7,210.8 998.3,211.2 1000,211.6 1001.6,212 1003.2,212.4 1004.9,212.8 1006.5,213.2 1008.2,213.6 1009.8,214 1011.5,214.4 1013.1,214.9 1014.8,215.3 1016.4,215.7 1018.1,216.1 1019.7,216.5 1021.4,217 1023.1,217.4 1024.7,217.8 1026.4,218.3 1028.1,218.7 1029.7,219.2 1031.4,219.6 1033.1,220.2 1034.8,220.8 1036.5,221.5 1038.2,222.2 1039.9,223 1041.6,223.8 1043.3,224.6 1045,225.6 1046.7,226.5 1048.4,227.5 1050.1,228.5 1051.8,229.5 1053.6,230.6 1055.3,231.7 1057,232.8 1058.7,233.9 1060.5,235 1062.2,236.1 1063.9,237.2 1065.7,238.3 1067.4,239.4 1069.2,240.6 1070.9,241.7 1072.7,242.9 1074.4,244.1 1076.2,245.4 1077.9,246.7 1079.7,248 1081.5,249.3 1083.2,250.7 1085,252.1 1086.8,253.5 1088.5,255 1090.3,256.5 1092.1,258 1093.9,259.5 1095.7,261 1097.5,262.6 1099.2,264.2 1101,265.8 1102.8,267.5 1104.6,269.1 1106.4,270.8 1108.2,272.7 1110,274.6 1111.9,276.7 1113.7,279 1115.5,281.4 1117.3,283.9 1119.2,286.5 1121,289.3 1122.8,292 1124.7,294.8 1126.5,297.7 1128.4,300.5 1130.2,303.4 1132,306.4 1133.9,309.5 1135.8,312.7 1137.6,316.1 1139.5,319.7 1141.3,323.5 1143.2,327.6 1145.1,331.9 1147,336.2 1148.8,340.6 1150.7,345.1 1152.6,349.7 1154.5,354.6 1156.4,359.9 1158.3,365.8 1160.2,372.2 1162.1,379 1164,386.3 1166,394.1 1167.9,402.1 1169.8,410.6 1171.8,419.2 1173.7,427.2 1175.6,434.2 1177.5,440.7 1179.4,446.7 1181.3,452.3 1183.2,457.5 1185.1,462.3 1187,466.8 1188.9,471 1190.7,475 1192.6,478.7 1194.5,482.1 1196.4,485.2 1198.3,488.1 1200.2,490.8 1202,493.2 1203.9,495.4 1205.8,497.5 1207.7,499.5 1209.6,501.3 1211.5,502.9 1213.4,504.3 1215.2,505.6 1217.1,506.7 1219,507.7 1220.9,508.7 1222.8,509.6 1224.7,510.5 1226.6,511.4 1228.5,512.2 1230.5,513 1232.4,513.8 1234.3,514.6 1236.2,515.3 1238.1,516 1240,516.7 1242,517.4 1243.9,518.1 1245.8,518.7 1247.8,519.3 1249.7,520 1251.6,520.6 1253.6,521.3 1255.5,521.9 1257.5,522.5 1259.4,523.2 1261.4,523.8 1263.3,524.5 1265.3,525.1 1267.3,525.7 1269.2,526.4 1271.2,527 1273.2,527.7 1275.2,528.3 1277.1,529 1279.1,529.6" stroke="#111" fill="none" stroke-width="1.6"/>
<marker id="mB112" markerUnits="userSpaceOnUse" markerWidth="12" markerHeight="12" refX="6" refY="6" overflow="visible"><circle cx="6" cy="6" r="4.6" fill="none" stroke="#235569" stroke-width="0.85"/></marker>
<path d="M984 206.2V221.2M988.3 199V205.8M993.2 205.3V212.6M998.5 208.1V212.1M1003.6 210.7V214.1M1007.8 213.5V216M1013.7 216.5V218.7M1018.4 218.6V220.4M1022.9 218.6V220.2M1027.4 220.2V221.4M1033.7 225.5V226.7M1037.8 225.1V226.3M1043 229V229.6M1047.4 231.9V232.9M1053.2 236V236.7M1057.8 238.5V239.2M1063.2 242.8V243.9M1068.6 247.7V248.6M1074.7 249.2V249.9M1078.6 253.7V254.6M1084.6 257.7V258.4M1089.7 263.8V264.5M1094.3 265.4V266M1099.4 270.3V270.9M1104.6 276.2V276.9M1110.8 285.3V286.2M1116.5 290.9V292M1121.5 300.6V301.6M1126.9 308.4V309.4M1132.3 319.2V320.5M1137.7 332.1V333.5M1144.1 346.4V348.1M1149.4 357.3V359.1M1155.1 376.1V378.2M1160.9 401.6V404.3M1165.6 419.9V422.8M1171.8 440.4V443.3M1176.8 454.5V457.3M1182.6 470.9V474M1189.2 482.8V487.3M1193.9 490.5V496.2M1199.3 494.9V501.2M1204.8 503.8V511.7M1210.9 508.1V517.7M1216.6 510.1V521.8M1222.2 511V520.9M1227.6 507V516.4M1233.1 515.3V527.9M1238.5 513.8V523.7M1244 512.2V526.9M1249.2 512.1V525.8M1256.5 518.7V537M1261.5 542.1V585.1M1268.6 532.2V586.6M1273.7 544.3V664.2" stroke="#235569" fill="none" stroke-width="0.85"/>
<path d="M984 210.1 988.3 201.4 993.2 207.3 998.5 209.6 1003.6 211.7 1007.8 214.1 1013.7 217.1 1018.4 218.9 1022.9 219.1 1027.4 220.5 1033.7 225.8 1037.8 225.5 1043 229.2 1047.4 232.1 1053.2 236.3 1057.8 238.7 1063.2 243.1 1068.6 247.9 1074.7 249.4 1078.6 254 1084.6 257.9 1089.7 264 1094.3 265.6 1099.4 270.5 1104.6 276.4 1110.8 285.5 1116.5 291.3 1121.5 300.9 1126.9 308.7 1132.3 319.5 1137.7 332.6 1144.1 346.9 1149.4 357.8 1155.1 376.6 1160.9 402.3 1165.6 421 1171.8 441 1176.8 455.5 1182.6 471.8 1189.2 483.9 1193.9 492.1 1199.3 496.5 1204.8 506.4 1210.9 510.9 1216.6 512.8 1222.2 514 1227.6 509.8 1233.1 519.5 1238.5 517.6 1244 515.7 1249.2 516.4 1256.5 526.4 1261.5 555.1 1268.6 540.9 1273.7 566.9" fill="none" stroke="none" marker-start="url(#mB112)" marker-mid="url(#mB112)" marker-end="url(#mB112)"/>
<polyline points="984.2,210.6 985.8,211 987.4,211.4 989.1,211.8 990.7,212.2 992.3,212.6 994,213 995.6,213.4 997.2,213.8 998.9,214.2 1000.5,214.6 1002.1,215 1003.8,215.4 1005.4,215.9 1007.1,216.3 1008.7,216.7 1010.4,217.1 1012.1,217.5 1013.7,218 1015.4,218.4 1017,218.8 1018.7,219.3 1020.4,219.7 1022.1,220.1 1023.7,220.6 1025.4,221.1 1027.1,221.6 1028.8,222.2 1030.5,222.9 1032.2,223.6 1033.9,224.4 1035.6,225.2 1037.3,226.1 1039,227 1040.7,227.9 1042.4,228.9 1044.1,229.9 1045.9,231 1047.6,232 1049.3,233.1 1051,234.2 1052.8,235.3 1054.5,236.4 1056.2,237.6 1058,238.7 1059.7,239.8 1061.5,240.9 1063.2,242 1065,243.2 1066.7,244.4 1068.5,245.6 1070.2,246.9 1072,248.2 1073.7,249.5 1075.5,250.8 1077.3,252.2 1079.1,253.6 1080.8,255 1082.6,256.5 1084.4,258 1086.2,259.5 1088,261 1089.7,262.6 1091.5,264.2 1093.3,265.8 1095.1,267.4 1096.9,269 1098.7,270.7 1100.5,272.4 1102.3,274.2 1104.1,276.2 1106,278.3 1107.8,280.6 1109.6,283 1111.4,285.5 1113.3,288.1 1115.1,290.9 1117,293.6 1118.8,296.5 1120.6,299.3 1122.5,302.2 1124.3,305.1 1126.2,308.1 1128,311.2 1129.9,314.4 1131.8,317.8 1133.6,321.4 1135.5,325.2 1137.4,329.3 1139.3,333.6 1141.1,337.9 1143,342.4 1144.9,346.8 1146.8,351.4 1148.7,356.3 1150.6,361.6 1152.5,367.5 1154.4,373.9 1156.3,380.8 1158.3,388.1 1160.2,395.9 1162.1,404 1164.1,412.5 1166,421.1 1168,429.1 1169.9,436.2 1171.8,442.8 1173.7,448.9 1175.6,454.5 1177.5,459.7 1179.4,464.6 1181.3,469.1 1183.2,473.3 1185.1,477.3 1187,481.1 1188.9,484.5 1190.7,487.7 1192.6,490.7 1194.5,493.3 1196.4,495.8 1198.3,498 1200.2,500.2 1202.1,502.1 1204,503.9 1205.8,505.6 1207.7,507 1209.6,508.3 1211.5,509.4 1213.4,510.5 1215.3,511.4 1217.2,512.4 1219.1,513.3 1221,514.1 1222.9,515 1224.9,515.8 1226.8,516.6 1228.7,517.4 1230.6,518.1 1232.5,518.8 1234.5,519.5 1236.4,520.2 1238.3,520.9 1240.2,521.5 1242.2,522.2 1244.1,522.8 1246.1,523.5 1248,524.1 1250,524.8 1251.9,525.4 1253.9,526 1255.8,526.7 1257.8,527.3 1259.8,528 1261.7,528.6 1263.7,529.3 1265.7,529.9 1267.6,530.6 1269.6,531.2 1271.6,531.9 1273.6,532.5" stroke="#111" fill="none" stroke-width="1.6"/>
<marker id="mB116" markerUnits="userSpaceOnUse" markerWidth="12" markerHeight="12" refX="6" refY="6" overflow="visible"><circle cx="6" cy="6" r="4.6" fill="none" stroke="#103e52" stroke-width="0.85"/></marker>
<path d="M978.5 206.2V219.2M983.9 205.5V216.5M988.9 211.7V219.8M993 208.4V212.1M997.7 215.1V219.2M1002.5 216.2V218.6M1007.4 217.5V219.6M1012.8 220.2V221.9M1018.3 222.5V224.1M1021.8 223.4V224.7M1027.2 225.6V226.5M1032.5 227.1V228.1M1038.2 230.6V231.4M1043.1 232.3V233.1M1048.1 236.7V237.4M1052.8 239.5V240.2M1058.3 242.2V243M1063.5 245.2V245.8M1068.5 251.4V252M1073.2 252.9V253.7M1078.7 257.6V258.3M1084.2 264.2V264.9M1089.1 269V269.8M1094.6 273.3V274.1M1099.3 277.1V277.9M1105.1 284.3V285.2M1110.5 293.1V294.2M1116.7 302.7V303.7M1121.9 307.8V308.6M1127.5 320V321.2M1132.7 330.6V332.1M1138.9 346.6V347.9M1144.9 359.9V361.8M1150 376.4V377.8M1155.1 395.6V397.8M1160.9 420.2V422.6M1167.2 444.2V447.2M1172.6 461.2V464.4M1178.7 473.9V477.7M1184 487.4V491.4M1189.5 492.4V497.5M1194.5 499.5V505.6M1199.9 503.6V509.4M1206.2 510.1V518.7M1210.5 513.2V520.8M1216.5 518.4V527.3M1223 515.3V524.8M1227.9 517.3V527.6M1234.8 528.4V551.5M1239.7 516.7V531.8M1245.3 520.8V543.1M1252.5 521.1V544.5M1257.4 532.6V617.4M1262.8 531.4V561M1268.9 517.2V551.6" stroke="#103e52" fill="none" stroke-width="0.85"/>
<path d="M978.5 210.3 983.9 208.8 988.9 214.3 993 209.4 997.7 216.4 1002.5 217 1007.4 218 1012.8 220.7 1018.3 223.1 1021.8 223.7 1027.2 225.9 1032.5 227.4 1038.2 230.8 1043.1 232.5 1048.1 236.9 1052.8 239.7 1058.3 242.4 1063.5 245.4 1068.5 251.6 1073.2 253.1 1078.7 257.8 1084.2 264.4 1089.1 269.2 1094.6 273.6 1099.3 277.4 1105.1 284.5 1110.5 293.4 1116.7 303 1121.9 308 1127.5 320.3 1132.7 331 1138.9 347 1144.9 360.4 1150 376.8 1155.1 396.3 1160.9 421.1 1167.2 445.2 1172.6 462.1 1178.7 474.9 1184 488.6 1189.5 493.9 1194.5 501.3 1199.9 505.2 1206.2 512.7 1210.5 515.6 1216.5 521 1223 518.5 1227.9 520 1234.8 532.7 1239.7 521.8 1245.3 528.7 1252.5 525.7 1257.4 540.3 1262.8 539.9 1268.9 523" fill="none" stroke="none" marker-start="url(#mB116)" marker-mid="url(#mB116)" marker-end="url(#mB116)"/>
<polyline points="978.9,211.9 980.5,212.3 982.1,212.7 983.7,213.1 985.4,213.5 987,213.9 988.6,214.3 990.3,214.7 991.9,215.1 993.5,215.5 995.2,215.9 996.8,216.3 998.5,216.7 1000.1,217.1 1001.8,217.5 1003.4,217.9 1005.1,218.4 1006.8,218.8 1008.4,219.2 1010.1,219.6 1011.7,220.1 1013.4,220.5 1015.1,221 1016.8,221.4 1018.4,221.9 1020.1,222.3 1021.8,222.9 1023.5,223.5 1025.2,224.1 1026.9,224.9 1028.6,225.6 1030.3,226.5 1032,227.3 1033.7,228.3 1035.4,229.2 1037.1,230.2 1038.9,231.2 1040.6,232.2 1042.3,233.3 1044,234.4 1045.8,235.5 1047.5,236.6 1049.2,237.7 1051,238.9 1052.7,240 1054.5,241.1 1056.2,242.2 1058,243.3 1059.7,244.5 1061.5,245.7 1063.2,246.9 1065,248.2 1066.7,249.5 1068.5,250.8 1070.3,252.1 1072,253.5 1073.8,254.9 1075.6,256.4 1077.4,257.8 1079.2,259.3 1080.9,260.8 1082.7,262.4 1084.5,263.9 1086.3,265.5 1088.1,267.1 1089.9,268.8 1091.7,270.4 1093.5,272.1 1095.3,273.8 1097.1,275.6 1098.9,277.6 1100.8,279.7 1102.6,282 1104.4,284.4 1106.2,286.9 1108.1,289.5 1109.9,292.3 1111.8,295.1 1113.6,297.9 1115.5,300.7 1117.3,303.6 1119.2,306.5 1121,309.5 1122.9,312.6 1124.7,315.9 1126.6,319.3 1128.5,322.8 1130.4,326.7 1132.2,330.8 1134.1,335.1 1136,339.4 1137.9,343.9 1139.8,348.4 1141.7,353 1143.6,357.9 1145.5,363.2 1147.4,369.1 1149.3,375.5 1151.3,382.4 1153.2,389.7 1155.1,397.5 1157.1,405.6 1159,414.1 1161,422.8 1162.9,430.9 1164.8,438 1166.8,444.6 1168.7,450.7 1170.6,456.4 1172.5,461.7 1174.4,466.6 1176.3,471.1 1178.2,475.4 1180.1,479.5 1182,483.2 1183.9,486.7 1185.8,489.9 1187.6,492.9 1189.5,495.6 1191.4,498.1 1193.3,500.4 1195.2,502.5 1197.1,504.5 1199,506.3 1200.9,507.9 1202.8,509.4 1204.7,510.7 1206.6,511.9 1208.5,512.9 1210.4,513.9 1212.3,514.8 1214.2,515.7 1216.1,516.6 1218,517.4 1219.9,518.3 1221.8,519.1 1223.8,519.8 1225.7,520.6 1227.6,521.3 1229.5,522 1231.5,522.7 1233.4,523.4 1235.3,524 1237.3,524.7 1239.2,525.3 1241.2,526 1243.1,526.6 1245.1,527.3 1247,527.9 1249,528.6 1250.9,529.2 1252.9,529.9 1254.9,530.5 1256.8,531.2 1258.8,531.8 1260.8,532.5 1262.8,533.1 1264.7,533.8 1266.7,534.5 1268.7,535.1" stroke="#111" fill="none" stroke-width="1.6"/>
<marker id="mB120" markerUnits="userSpaceOnUse" markerWidth="12" markerHeight="12" refX="6" refY="6" overflow="visible"><circle cx="6" cy="6" r="4.6" fill="none" stroke="#103d51" stroke-width="0.85"/></marker>
<path d="M976.9 186.5V198.3M982.2 208.6V221.2M987.3 210.3V220.1M992.1 211.1V217.2M996.6 211.3V214.2M1001.6 217.5V221M1006.6 216.3V218.4M1011.1 219.5V221.8M1016.3 221.5V222.9M1021 222.3V223.5M1026.3 224.6V225.4M1031.2 227.8V228.6M1036.8 231.3V232.1M1041.1 233.5V234.4M1046.3 236.8V237.4M1051.8 241.3V242.1M1057.3 243V244M1061.9 245.6V246.3M1067.4 252.2V252.9M1072.4 255V255.7M1078 260.2V260.8M1082.5 262.7V263.4M1088.3 267.6V268.5M1093.7 275.9V276.6M1099.1 278.1V279M1104.7 287V287.8M1110.2 293.7V294.5M1114.7 303V304.1M1120.4 312.7V313.9M1125.9 321.3V322.7M1130.8 328.6V330.2M1137.9 345.1V346.7M1143.2 361.6V363.2M1149 376.1V378.3M1153.8 398.7V402.1M1159.8 423.1V426M1165.3 441.2V444.1M1171.5 461.5V465.3M1176.4 473.9V478.2M1182.6 482.4V486.8M1187.3 489.1V493.5M1194.4 502.9V507.8M1199.4 528.3V542.2M1204.6 507.8V513.3M1210.6 509.7V518.5M1215.5 516.5V529M1221.2 521.6V534.9M1226.6 519.5V532.6M1232.5 548.6V580.7M1238.1 529.1V550.8M1244.5 520.5V538.3M1250.1 522.4V543.5M1254.9 519.6V540.4M1261.6 520.8V542.6M1267.8 522.7V561.9" stroke="#103d51" fill="none" stroke-width="0.85"/>
<path d="M976.9 189.9 982.2 211.9 987.3 212.5 992.1 212.8 996.6 212.6 1001.6 218.7 1006.6 217.1 1011.1 220.3 1016.3 222 1021 222.7 1026.3 224.8 1031.2 228 1036.8 231.6 1041.1 233.7 1046.3 237.1 1051.8 241.7 1057.3 243.3 1061.9 245.9 1067.4 252.5 1072.4 255.2 1078 260.4 1082.5 262.9 1088.3 267.9 1093.7 276.1 1099.1 278.3 1104.7 287.2 1110.2 294 1114.7 303.4 1120.4 313.2 1125.9 321.6 1130.8 329.1 1137.9 345.7 1143.2 362.2 1149 376.7 1153.8 399.6 1159.8 423.9 1165.3 442.3 1171.5 462.7 1176.4 475.1 1182.6 483.5 1187.3 490.8 1194.4 504.8 1199.4 531.9 1204.6 509.4 1210.6 512.8 1215.5 519.6 1221.2 525.4 1226.6 523.8 1232.5 557.9 1238.1 534.1 1244.5 524.9 1250.1 527.8 1254.9 522.9 1261.6 527.4 1267.8 529.7" fill="none" stroke="none" marker-start="url(#mB120)" marker-mid="url(#mB120)" marker-end="url(#mB120)"/>
<polyline points="977.6,212.2 979.2,212.6 980.8,213 982.5,213.4 984.1,213.8 985.7,214.2 987.4,214.6 989,215 990.6,215.4 992.3,215.8 993.9,216.2 995.6,216.6 997.2,217 998.9,217.4 1000.5,217.8 1002.2,218.2 1003.8,218.7 1005.5,219.1 1007.1,219.5 1008.8,219.9 1010.5,220.4 1012.1,220.8 1013.8,221.3 1015.5,221.7 1017.2,222.2 1018.8,222.6 1020.5,223.2 1022.2,223.8 1023.9,224.4 1025.6,225.2 1027.3,225.9 1029,226.8 1030.7,227.6 1032.4,228.6 1034.1,229.5 1035.9,230.5 1037.6,231.5 1039.3,232.6 1041,233.6 1042.8,234.7 1044.5,235.8 1046.2,236.9 1048,238 1049.7,239.2 1051.4,240.3 1053.2,241.4 1054.9,242.5 1056.7,243.7 1058.4,244.8 1060.2,246 1061.9,247.2 1063.7,248.5 1065.5,249.8 1067.2,251.1 1069,252.5 1070.8,253.9 1072.6,255.3 1074.3,256.7 1076.1,258.2 1077.9,259.7 1079.7,261.2 1081.5,262.7 1083.3,264.3 1085.1,265.9 1086.8,267.5 1088.6,269.1 1090.4,270.8 1092.3,272.4 1094.1,274.1 1095.9,276 1097.7,277.9 1099.5,280 1101.3,282.3 1103.2,284.7 1105,287.2 1106.8,289.9 1108.7,292.6 1110.5,295.4 1112.4,298.2 1114.2,301.1 1116.1,304 1117.9,306.9 1119.8,309.9 1121.6,313 1123.5,316.2 1125.4,319.6 1127.2,323.2 1129.1,327.1 1131,331.2 1132.9,335.4 1134.8,339.8 1136.7,344.2 1138.6,348.7 1140.5,353.4 1142.4,358.3 1144.3,363.6 1146.2,369.4 1148.1,375.9 1150,382.7 1152,390 1153.9,397.9 1155.9,406 1157.8,414.5 1159.7,423.2 1161.7,431.3 1163.6,438.5 1165.5,445.1 1167.5,451.2 1169.4,456.9 1171.3,462.2 1173.2,467.1 1175.1,471.6 1177,475.9 1178.9,480 1180.8,483.7 1182.7,487.2 1184.6,490.5 1186.4,493.4 1188.3,496.1 1190.2,498.6 1192.1,500.9 1194,503.1 1195.9,505 1197.8,506.9 1199.7,508.5 1201.6,510 1203.5,511.3 1205.4,512.4 1207.3,513.5 1209.2,514.4 1211.1,515.4 1213,516.3 1214.9,517.2 1216.8,518 1218.7,518.9 1220.6,519.7 1222.6,520.4 1224.5,521.2 1226.4,521.9 1228.3,522.6 1230.3,523.3 1232.2,524 1234.1,524.6 1236.1,525.3 1238,525.9 1240,526.6 1241.9,527.2 1243.9,527.9 1245.8,528.5 1247.8,529.2 1249.8,529.8 1251.7,530.5 1253.7,531.1 1255.7,531.8 1257.6,532.5 1259.6,533.1 1261.6,533.8 1263.6,534.4 1265.5,535.1 1267.5,535.7" stroke="#111" fill="none" stroke-width="1.6"/>
<marker id="mB124" markerUnits="userSpaceOnUse" markerWidth="12" markerHeight="12" refX="6" refY="6" overflow="visible"><circle cx="6" cy="6" r="4.6" fill="none" stroke="#103d51" stroke-width="0.85"/></marker>
<path d="M976 207.8V224.9M981.2 206.6V218.3M985.6 208.9V217.3M990.6 212.7V217.7M995.3 211.9V214.7M1001 216.8V219.3M1004.8 218V220.6M1010.5 220.3V222M1015.7 222.7V224.4M1020.4 223.8V225.1M1025.1 225.8V226.7M1030.1 227.7V228.7M1035.6 231.2V232.2M1040 233.8V234.5M1045.6 237.9V238.6M1050.3 240.2V241M1056.2 244.4V245.2M1061 246.2V247M1066.2 252.5V253.3M1071.4 256.2V257M1076.4 260.7V261.4M1082.2 265V265.7M1086.9 267.4V268.3M1092.6 273.4V274.1M1097.3 277.1V277.9M1102.5 282.8V283.6M1108.4 293.9V294.7M1114.4 303.4V304.7M1119.4 312.8V313.7M1125.9 323V324.4M1130.1 330.4V331.9M1135.7 343.7V345.2M1141.8 358.3V360M1146.9 374.8V376.6M1153.7 400.9V402.8M1159.1 426.1V429.5M1163.7 441.6V444.6M1169.8 459.5V461.9M1175.6 471.9V474.9M1181.1 487.4V494.7M1187.6 500.3V506.8M1192.6 503V509.8M1197.9 505.1V514M1203.3 510.8V519.2M1209 542.7V562.6M1214.7 517.5V527M1219.5 513.3V523.5M1226.4 517V527.5M1232 521.3V537.8M1238 520.7V540.7M1243.3 532.2V557M1249.7 527.9V556.4M1254.9 523.6V549.7M1260.2 520.1V544.7M1266.5 553.7V676.7" stroke="#103d51" fill="none" stroke-width="0.85"/>
<path d="M976 211.5 981.2 210.1 985.6 211.6 990.6 214.2 995.3 213 1001 217.6 1004.8 218.8 1010.5 220.9 1015.7 223.1 1020.4 224.2 1025.1 226 1030.1 228 1035.6 231.5 1040 234 1045.6 238.1 1050.3 240.4 1056.2 244.6 1061 246.4 1066.2 252.7 1071.4 256.5 1076.4 261 1082.2 265.3 1086.9 267.7 1092.6 273.7 1097.3 277.3 1102.5 283.1 1108.4 294.2 1114.4 303.7 1119.4 313.1 1125.9 323.4 1130.1 330.8 1135.7 344.1 1141.8 359.1 1146.9 375.4 1153.7 401.7 1159.1 427 1163.7 442.6 1169.8 460.2 1175.6 473 1181.1 488.9 1187.6 501.9 1192.6 504.4 1197.9 507.4 1203.3 512.9 1209 547.3 1214.7 520.4 1219.5 516.7 1226.4 521 1232 525.6 1238 524.4 1243.3 539.1 1249.7 535.7 1254.9 531.2 1260.2 526.6 1266.5 567" fill="none" stroke="none" marker-start="url(#mB124)" marker-mid="url(#mB124)" marker-end="url(#mB124)"/>
<polyline points="976.5,212.4 978.1,212.8 979.8,213.2 981.4,213.6 983,214 984.7,214.4 986.3,214.8 987.9,215.2 989.6,215.6 991.2,216 992.8,216.4 994.5,216.8 996.1,217.2 997.8,217.7 999.4,218.1 1001.1,218.5 1002.8,218.9 1004.4,219.3 1006.1,219.8 1007.7,220.2 1009.4,220.6 1011.1,221.1 1012.7,221.5 1014.4,222 1016.1,222.4 1017.8,222.9 1019.5,223.4 1021.2,224 1022.8,224.7 1024.5,225.4 1026.2,226.2 1027.9,227 1029.7,227.9 1031.4,228.8 1033.1,229.8 1034.8,230.7 1036.5,231.8 1038.2,232.8 1040,233.9 1041.7,235 1043.4,236.1 1045.2,237.2 1046.9,238.3 1048.6,239.4 1050.4,240.6 1052.1,241.7 1053.9,242.8 1055.6,243.9 1057.4,245.1 1059.1,246.3 1060.9,247.5 1062.7,248.8 1064.4,250.1 1066.2,251.4 1068,252.7 1069.7,254.1 1071.5,255.5 1073.3,257 1075.1,258.4 1076.8,259.9 1078.6,261.4 1080.4,263 1082.2,264.5 1084,266.1 1085.8,267.7 1087.6,269.4 1089.4,271 1091.2,272.7 1093,274.4 1094.8,276.3 1096.6,278.2 1098.5,280.3 1100.3,282.6 1102.1,285 1104,287.5 1105.8,290.2 1107.6,292.9 1109.5,295.7 1111.3,298.5 1113.2,301.4 1115,304.2 1116.9,307.2 1118.7,310.2 1120.6,313.3 1122.5,316.5 1124.3,319.9 1126.2,323.5 1128.1,327.4 1130,331.5 1131.9,335.7 1133.7,340.1 1135.6,344.6 1137.5,349 1139.4,353.7 1141.3,358.6 1143.2,363.9 1145.1,369.8 1147.1,376.2 1149,383.1 1150.9,390.4 1152.9,398.2 1154.8,406.3 1156.8,414.9 1158.7,423.6 1160.7,431.7 1162.6,438.8 1164.5,445.5 1166.4,451.6 1168.4,457.3 1170.3,462.6 1172.2,467.5 1174.1,472 1176,476.3 1177.9,480.4 1179.8,484.2 1181.7,487.7 1183.6,490.9 1185.4,493.9 1187.3,496.6 1189.2,499.1 1191.1,501.4 1193,503.5 1194.9,505.5 1196.8,507.3 1198.7,509 1200.6,510.5 1202.5,511.8 1204.4,512.9 1206.3,514 1208.2,514.9 1210.1,515.9 1212,516.8 1213.9,517.7 1215.8,518.5 1217.7,519.4 1219.7,520.2 1221.6,520.9 1223.5,521.7 1225.4,522.4 1227.4,523.1 1229.3,523.8 1231.2,524.5 1233.2,525.2 1235.1,525.8 1237,526.4 1239,527.1 1240.9,527.7 1242.9,528.4 1244.8,529 1246.8,529.7 1248.8,530.4 1250.7,531 1252.7,531.7 1254.7,532.3 1256.6,533 1258.6,533.6 1260.6,534.3 1262.6,534.9 1264.6,535.6 1266.6,536.2" stroke="#111" fill="none" stroke-width="1.6"/>
<marker id="mB128" markerUnits="userSpaceOnUse" markerWidth="12" markerHeight="12" refX="6" refY="6" overflow="visible"><circle cx="6" cy="6" r="4.6" fill="none" stroke="#103c50" stroke-width="0.85"/></marker>
<path d="M975.3 202.7V212.1M980.1 203.5V213.7M984.9 206.6V211.7M989.4 212.4V218M994.8 212.6V215.8M999.5 217.2V220.4M1004.3 216.8V218.6M1009.2 220.9V222.6M1014.3 222.4V223.4M1018.9 221.8V223.1M1024.9 225.7V226.8M1029.8 229.1V229.8M1034.3 230.6V231.2M1039.1 233.3V234.2M1044.3 236.8V237.5M1048.8 239.6V240.3M1054.9 245.2V246M1060.4 247.6V248.4M1064.2 251.1V251.9M1070.1 255.4V256.2M1075.4 258.6V259.5M1081.1 264.3V264.8M1085.7 268.6V269.3M1091.7 275.3V276M1097.1 277.5V278.2M1101.9 287.1V287.9M1107.1 294.3V295.1M1112.5 300.2V301.2M1118.5 309.4V310.6M1124.7 321.2V322.6M1129.3 330V331.4M1135.2 348.1V349.3M1140.5 361.4V363.5M1145.4 376V378.4M1152.2 397.1V399.4M1157.3 418.5V421.2M1163.5 445.4V448M1169.9 463.1V466.1M1174.2 474.5V477.7M1180.3 487.1V492M1185.5 496.5V502.6M1190.5 502.3V509.4M1196.4 536.2V549.3M1203.2 560.7V606.7M1208 513.8V522.2M1213.6 510V520.6M1219.8 516.2V525.8M1225.2 515.5V526.1M1231.1 516.7V527.4M1237.2 550.3V587M1243.2 524.3V546.2M1248.2 519.9V535.3M1253.8 531.7V558.6M1259.2 538V583M1265.1 543.6V599.7" stroke="#103c50" fill="none" stroke-width="0.85"/>
<path d="M975.3 205.2 980.1 206.3 984.9 208.8 989.4 213.8 994.8 213.5 999.5 218.3 1004.3 217.4 1009.2 221.5 1014.3 222.8 1018.9 222.2 1024.9 226 1029.8 229.2 1034.3 230.8 1039.1 233.5 1044.3 237 1048.8 239.9 1054.9 245.5 1060.4 247.9 1064.2 251.4 1070.1 255.7 1075.4 258.9 1081.1 264.5 1085.7 268.8 1091.7 275.5 1097.1 277.8 1101.9 287.4 1107.1 294.6 1112.5 300.6 1118.5 309.8 1124.7 321.5 1129.3 330.3 1135.2 348.5 1140.5 362.3 1145.4 376.8 1152.2 397.9 1157.3 419.4 1163.5 446.4 1169.9 464.5 1174.2 475.6 1180.3 488.5 1185.5 498.3 1190.5 504.4 1196.4 539.8 1203.2 569.5 1208 516.3 1213.6 512.7 1219.8 518.5 1225.2 518.3 1231.1 519.4 1237.2 563.7 1243.2 529.6 1248.2 525.9 1253.8 539.5 1259.2 548.6 1265.1 554.3" fill="none" stroke="none" marker-start="url(#mB128)" marker-mid="url(#mB128)" marker-end="url(#mB128)"/>
<polyline points="975.5,212.6 977.1,213 978.7,213.4 980.3,213.8 982,214.2 983.6,214.6 985.2,215 986.9,215.5 988.5,215.9 990.1,216.3 991.8,216.7 993.4,217.1 995.1,217.5 996.7,217.9 998.4,218.3 1000,218.7 1001.7,219.2 1003.3,219.6 1005,220 1006.7,220.4 1008.3,220.9 1010,221.3 1011.7,221.8 1013.4,222.2 1015,222.7 1016.7,223.1 1018.4,223.7 1020.1,224.3 1021.8,225 1023.5,225.7 1025.2,226.5 1026.9,227.3 1028.6,228.1 1030.3,229.1 1032,230 1033.7,231 1035.5,232 1037.2,233.1 1038.9,234.1 1040.6,235.2 1042.4,236.3 1044.1,237.4 1045.8,238.6 1047.6,239.7 1049.3,240.8 1051.1,241.9 1052.8,243.1 1054.6,244.2 1056.3,245.3 1058.1,246.5 1059.8,247.8 1061.6,249 1063.4,250.3 1065.1,251.6 1066.9,253 1068.7,254.4 1070.4,255.8 1072.2,257.2 1074,258.7 1075.8,260.2 1077.6,261.7 1079.4,263.3 1081.2,264.8 1083,266.4 1084.7,268 1086.5,269.7 1088.3,271.3 1090.2,273 1092,274.7 1093.8,276.5 1095.6,278.5 1097.4,280.6 1099.2,282.9 1101.1,285.3 1102.9,287.8 1104.7,290.4 1106.6,293.2 1108.4,296 1110.3,298.8 1112.1,301.7 1114,304.5 1115.8,307.5 1117.7,310.5 1119.6,313.6 1121.4,316.8 1123.3,320.2 1125.2,323.8 1127,327.7 1128.9,331.8 1130.8,336 1132.7,340.4 1134.6,344.9 1136.5,349.3 1138.4,354 1140.3,358.9 1142.2,364.2 1144.1,370.1 1146,376.5 1148,383.4 1149.9,390.7 1151.9,398.5 1153.8,406.6 1155.8,415.2 1157.7,423.9 1159.7,432 1161.6,439.2 1163.5,445.8 1165.4,452 1167.4,457.7 1169.3,463 1171.2,467.9 1173.1,472.4 1175,476.7 1176.9,480.8 1178.8,484.6 1180.7,488.1 1182.6,491.4 1184.4,494.3 1186.3,497.1 1188.2,499.5 1190.1,501.8 1192,504 1193.9,506 1195.8,507.8 1197.7,509.5 1199.6,510.9 1201.5,512.2 1203.4,513.4 1205.3,514.4 1207.2,515.4 1209.1,516.4 1211,517.3 1212.9,518.2 1214.8,519 1216.7,519.9 1218.7,520.7 1220.6,521.4 1222.5,522.2 1224.4,522.9 1226.4,523.6 1228.3,524.3 1230.2,525 1232.2,525.7 1234.1,526.3 1236.1,527 1238,527.6 1240,528.3 1241.9,528.9 1243.9,529.6 1245.8,530.2 1247.8,530.9 1249.7,531.5 1251.7,532.2 1253.7,532.8 1255.7,533.5 1257.6,534.1 1259.6,534.8 1261.6,535.4 1263.6,536.1 1265.6,536.8" stroke="#111" fill="none" stroke-width="1.6"/>
<marker id="mB132" markerUnits="userSpaceOnUse" markerWidth="12" markerHeight="12" refX="6" refY="6" overflow="visible"><circle cx="6" cy="6" r="4.6" fill="none" stroke="#103b4f" stroke-width="0.85"/></marker>
<path d="M973.9 196.5V206.4M979.3 208.5V219.1M983.2 207V214.9M988.3 210V214M993.7 215.3V219M998.5 216.3V219.2M1004.1 220.6V223M1007.5 219V220.6M1013.7 222.9V224.4M1017.8 224.5V225.5M1023.6 228.9V230M1027 227.6V228.6M1033.7 232.4V233.2M1037.8 233.9V234.6M1043.2 237.5V238.1M1047.4 241.5V242.6M1054.1 244.4V245.2M1058.5 249.2V249.9M1064.4 252.6V253.4M1069.2 256.8V257.6M1074.1 260.3V261M1079.4 266.4V267.2M1086 267.8V268.4M1090.4 274.4V275.1M1095.7 279.4V280.3M1100.7 286.5V287.4M1106.6 294.3V295.1M1111.6 303.4V304.3M1117.4 314.4V315.6M1122.4 320.7V322.1M1127.6 331.3V332.8M1134.4 348.4V350M1139.3 358.3V359.9M1145.3 376.6V378.4M1151.8 401.5V404.1M1155.5 420.1V422.4M1162.5 447V451.8M1167.8 461.8V464.9M1173.4 474.1V478.8M1179.2 490.5V495M1184.5 494.7V500.5M1190.3 502.2V508M1196 511.4V520.7M1201.4 507.5V512.8M1207.7 555V577.1M1212 517.5V528.3M1217.9 516.1V529.6M1224.2 567V638.6M1229.2 520.2V536.1M1234.8 522.4V539.1M1240.4 528.1V551.5M1246.4 529.1V555.9M1252.3 547.9V597.2M1258 530.1V569.9M1264.2 523.4V548.6" stroke="#103b4f" fill="none" stroke-width="0.85"/>
<path d="M973.9 200.2 979.3 212.1 983.2 209.1 988.3 211.1 993.7 216.4 998.5 217 1004.1 221.2 1007.5 219.6 1013.7 223.3 1017.8 224.7 1023.6 229.2 1027 227.9 1033.7 232.6 1037.8 234.1 1043.2 237.7 1047.4 241.8 1054.1 244.7 1058.5 249.4 1064.4 252.8 1069.2 257 1074.1 260.6 1079.4 266.6 1086 268 1090.4 274.8 1095.7 279.7 1100.7 286.8 1106.6 294.5 1111.6 303.7 1117.4 314.7 1122.4 321.1 1127.6 331.7 1134.4 348.9 1139.3 358.8 1145.3 377.1 1151.8 402.5 1155.5 420.9 1162.5 448.5 1167.8 462.8 1173.4 475.6 1179.2 491.5 1184.5 496.7 1190.3 504 1196 513.4 1201.4 509.8 1207.7 560.9 1212 520.3 1217.9 519.1 1224.2 578 1229.2 522.9 1234.8 527.5 1240.4 533.1 1246.4 537.1 1252.3 562.4 1258 538.2 1264.2 530" fill="none" stroke="none" marker-start="url(#mB132)" marker-mid="url(#mB132)" marker-end="url(#mB132)"/>
<polyline points="974.1,213 975.7,213.4 977.3,213.8 978.9,214.2 980.6,214.6 982.2,215 983.8,215.4 985.5,215.8 987.1,216.2 988.7,216.6 990.4,217 992,217.4 993.7,217.8 995.3,218.2 997,218.6 998.6,219.1 1000.3,219.5 1002,219.9 1003.6,220.3 1005.3,220.8 1007,221.2 1008.6,221.7 1010.3,222.1 1012,222.5 1013.6,223 1015.3,223.5 1017,224 1018.7,224.6 1020.4,225.3 1022.1,226 1023.8,226.8 1025.5,227.6 1027.2,228.5 1028.9,229.4 1030.6,230.3 1032.4,231.3 1034.1,232.4 1035.8,233.4 1037.5,234.5 1039.3,235.6 1041,236.7 1042.7,237.8 1044.5,238.9 1046.2,240 1048,241.2 1049.7,242.3 1051.4,243.4 1053.2,244.5 1054.9,245.7 1056.7,246.9 1058.5,248.1 1060.2,249.4 1062,250.7 1063.8,252 1065.5,253.4 1067.3,254.7 1069.1,256.1 1070.9,257.6 1072.6,259.1 1074.4,260.5 1076.2,262.1 1078,263.6 1079.8,265.2 1081.6,266.8 1083.4,268.4 1085.2,270 1087,271.7 1088.8,273.3 1090.6,275.1 1092.4,276.9 1094.2,278.9 1096.1,281 1097.9,283.2 1099.7,285.6 1101.5,288.2 1103.4,290.8 1105.2,293.5 1107.1,296.3 1108.9,299.2 1110.8,302 1112.6,304.9 1114.5,307.8 1116.3,310.9 1118.2,314 1120.1,317.2 1121.9,320.6 1123.8,324.2 1125.7,328 1127.6,332.1 1129.5,336.4 1131.4,340.8 1133.3,345.3 1135.2,349.7 1137.1,354.4 1139,359.3 1140.9,364.6 1142.8,370.5 1144.7,376.9 1146.6,383.8 1148.6,391.1 1150.5,398.9 1152.5,407.1 1154.4,415.6 1156.4,424.3 1158.3,432.5 1160.3,439.7 1162.2,446.3 1164.1,452.5 1166,458.2 1167.9,463.5 1169.9,468.4 1171.8,473 1173.7,477.3 1175.6,481.4 1177.5,485.2 1179.4,488.7 1181.2,491.9 1183.1,494.9 1185,497.6 1186.9,500.1 1188.8,502.4 1190.7,504.6 1192.6,506.6 1194.5,508.4 1196.4,510.1 1198.3,511.6 1200.2,512.9 1202.1,514 1204,515.1 1205.9,516.1 1207.8,517 1209.7,517.9 1211.6,518.8 1213.5,519.7 1215.5,520.5 1217.4,521.3 1219.3,522.1 1221.2,522.8 1223.1,523.6 1225.1,524.3 1227,525 1228.9,525.7 1230.9,526.3 1232.8,527 1234.8,527.6 1236.7,528.3 1238.7,528.9 1240.6,529.6 1242.6,530.2 1244.5,530.9 1246.5,531.5 1248.5,532.2 1250.4,532.8 1252.4,533.5 1254.4,534.2 1256.4,534.8 1258.3,535.5 1260.3,536.1 1262.3,536.8 1264.3,537.4" stroke="#111" fill="none" stroke-width="1.6"/>
<marker id="mB136" markerUnits="userSpaceOnUse" markerWidth="12" markerHeight="12" refX="6" refY="6" overflow="visible"><circle cx="6" cy="6" r="4.6" fill="none" stroke="#103a4e" stroke-width="0.85"/></marker>
<path d="M971.8 194.5V203.7M976.9 202.8V213.6M982.2 208V213.5M986.8 213.3V217.3M992 217.3V220.8M997 216.6V219.2M1000.7 218.8V220.7M1006.3 219.2V220.8M1011.3 223.8V225.3M1015.8 224.2V225.3M1020.9 225.5V226.4M1026.8 229.5V230.6M1031.2 230.2V231.4M1037 234.3V235.2M1041.8 238.1V239.1M1046.6 241.1V241.9M1051.3 243.8V244.6M1056.6 248.7V249.4M1062.1 255V255.7M1067.7 256.1V256.7M1072.5 260.4V261.4M1078.1 265.7V266.5M1082.8 268.1V269M1088.3 272.8V273.5M1093.7 280V280.9M1099.1 288.2V288.9M1104.8 294.1V295.3M1110.1 302.7V304M1115.3 311.8V312.8M1121.6 323.6V324.7M1126.1 330.2V331.3M1132.3 345.6V347.2M1138.6 361.9V363.6M1143.2 374.5V376.9M1149.5 400.7V403M1154.8 421.8V424M1160.9 445V448.4M1167 465.9V469M1171.9 475V479.4M1176.9 486V490.3M1183.4 497.9V503.4M1189 506.9V512.4M1194.8 505.7V512.9M1200.2 511.4V517.2M1205.6 507.1V514.8M1211.1 521.2V529.2M1216.4 516.5V525.8M1222 533.4V551.9M1227.3 517.2V529.6M1233.5 517.7V532M1239.3 516.4V536.4M1244.7 528.8V555.9M1250.4 548.6V583.5M1256.6 544V599.7M1262.6 517V543.9" stroke="#103a4e" fill="none" stroke-width="0.85"/>
<path d="M971.8 197.4 976.9 206.6 982.2 209.9 986.8 214.6 992 218.1 997 217.3 1000.7 219.6 1006.3 219.7 1011.3 224.3 1015.8 224.5 1020.9 225.8 1026.8 229.8 1031.2 230.4 1037 234.7 1041.8 238.4 1046.6 241.3 1051.3 243.9 1056.6 248.9 1062.1 255.2 1067.7 256.3 1072.5 260.6 1078.1 266 1082.8 268.4 1088.3 273.1 1093.7 280.3 1099.1 288.4 1104.8 294.4 1110.1 303 1115.3 312 1121.6 324 1126.1 330.5 1132.3 346.1 1138.6 362.4 1143.2 375.3 1149.5 401.5 1154.8 422.6 1160.9 446.2 1167 466.9 1171.9 476.5 1176.9 487.2 1183.4 500 1189 508.1 1194.8 507.4 1200.2 513.3 1205.6 509.1 1211.1 523.7 1216.4 519 1222 537.8 1227.3 521.2 1233.5 522.7 1239.3 520.8 1244.7 537.6 1250.4 556 1256.6 553.5 1262.6 523.5" fill="none" stroke="none" marker-start="url(#mB136)" marker-mid="url(#mB136)" marker-end="url(#mB136)"/>
<polyline points="972.5,213.3 974.1,213.7 975.7,214.1 977.3,214.5 979,214.9 980.6,215.3 982.2,215.7 983.9,216.1 985.5,216.6 987.1,217 988.8,217.4 990.4,217.8 992.1,218.2 993.7,218.6 995.4,219 997,219.4 998.7,219.9 1000.4,220.3 1002,220.7 1003.7,221.2 1005.3,221.6 1007,222 1008.7,222.5 1010.4,222.9 1012,223.4 1013.7,223.9 1015.4,224.4 1017.1,225 1018.8,225.7 1020.5,226.4 1022.2,227.2 1023.9,228 1025.6,228.9 1027.3,229.8 1029,230.7 1030.8,231.7 1032.5,232.7 1034.2,233.8 1035.9,234.9 1037.7,235.9 1039.4,237 1041.1,238.2 1042.9,239.3 1044.6,240.4 1046.4,241.6 1048.1,242.7 1049.9,243.8 1051.6,244.9 1053.4,246.1 1055.1,247.3 1056.9,248.5 1058.6,249.8 1060.4,251.1 1062.2,252.4 1063.9,253.8 1065.7,255.1 1067.5,256.6 1069.3,258 1071.1,259.5 1072.8,261 1074.6,262.5 1076.4,264 1078.2,265.6 1080,267.2 1081.8,268.8 1083.6,270.4 1085.4,272.1 1087.2,273.8 1089,275.5 1090.8,277.3 1092.7,279.3 1094.5,281.4 1096.3,283.6 1098.1,286 1100,288.6 1101.8,291.2 1103.7,294 1105.5,296.8 1107.4,299.6 1109.2,302.5 1111.1,305.3 1112.9,308.3 1114.8,311.3 1116.6,314.4 1118.5,317.7 1120.4,321 1122.3,324.6 1124.1,328.5 1126,332.6 1127.9,336.9 1129.8,341.3 1131.7,345.7 1133.6,350.2 1135.5,354.8 1137.4,359.8 1139.3,365.1 1141.2,370.9 1143.2,377.4 1145.1,384.3 1147,391.6 1149,399.4 1150.9,407.6 1152.9,416.1 1154.9,424.8 1156.8,433 1158.7,440.2 1160.7,446.9 1162.6,453 1164.5,458.8 1166.4,464.1 1168.3,469 1170.2,473.6 1172.1,477.9 1174,482 1175.9,485.8 1177.8,489.3 1179.7,492.6 1181.6,495.6 1183.5,498.3 1185.4,500.8 1187.3,503.1 1189.2,505.3 1191.1,507.3 1193,509.2 1194.9,510.8 1196.8,512.3 1198.7,513.6 1200.6,514.8 1202.5,515.8 1204.4,516.8 1206.3,517.8 1208.2,518.7 1210.1,519.6 1212,520.4 1214,521.3 1215.9,522.1 1217.8,522.8 1219.7,523.6 1221.7,524.3 1223.6,525 1225.5,525.7 1227.5,526.4 1229.4,527.1 1231.3,527.7 1233.3,528.4 1235.2,529 1237.2,529.7 1239.1,530.3 1241.1,531 1243.1,531.6 1245,532.3 1247,533 1249,533.6 1250.9,534.3 1252.9,534.9 1254.9,535.6 1256.9,536.2 1258.8,536.9 1260.8,537.6 1262.8,538.2" stroke="#111" fill="none" stroke-width="1.6"/>
<path d="M953.6 510.4L935 53.3M953.6 510.4L1311 640.8M1311 640.8L1594.5 490.8" stroke="#000" stroke-width="2.2" fill="none" stroke-linejoin="miter"/>
<path d="M953.6 510.4L945.5 513.4M950 423.2L941.8 426M946.4 334L938.1 336.5M942.7 242.7L934.3 244.8M938.9 149.1L930.4 150.9M935 53.3L926.4 54.7M951.1 449.7L947.2 451M947.5 361.1L943.6 362.3M943.8 270.4L939.8 271.5M940.1 177.5L936 178.4M936.2 82.4L932.1 83.1M1020.9 534.9L1012.9 538.2M1163.5 587L1155.5 590.7M981.2 520.4L977.3 521.9M1118.8 570.7L1115 572.3M1274.1 627.3L1270.3 629.2M1357.9 616L1367.4 619.3M1402.5 592.4L1411.9 595.5M1444.8 570L1454 573M1485 548.8L1494.1 551.6M1523.2 528.5L1532.3 531.2M1559.7 509.2L1568.7 511.8M1594.5 490.8L1603.4 493.3M1334.8 628.2L1339.3 629.8M1380.5 604L1385 605.6M1423.9 581.1L1428.3 582.5M1465.1 559.3L1469.5 560.7M1504.3 538.5L1508.7 539.9M1541.7 518.8L1546 520M1577.3 499.9L1581.5 501.1" stroke="#000" stroke-width="2" fill="none"/>
<g font-family="&#39;Liberation Sans&#39;, Arial, sans-serif" fill="#000">
<text transform="matrix(0.8432 -0.3211 0.0433 1.0290 942.1652 520.1118)" font-size="18" text-anchor="end">0.001</text>
<text transform="matrix(0.8546 -0.2899 0.0444 1.0533 938.4826 432.6625)" font-size="18" text-anchor="end">0.01</text>
<text transform="matrix(0.8662 -0.2571 0.0454 1.0785 934.7125 343.1359)" font-size="18" text-anchor="end">0.1</text>
<text transform="matrix(0.8782 -0.2227 0.0465 1.1045 930.8518 251.4570)" font-size="18" text-anchor="end">1</text>
<text transform="matrix(0.8906 -0.1864 0.0477 1.1316 926.8971 157.5473)" font-size="18" text-anchor="end">10</text>
<text transform="matrix(0.9032 -0.1484 0.0488 1.1596 922.8451 61.3244)" font-size="18" text-anchor="end">100</text>
<text transform="matrix(0.8439 -0.3414 0.7830 0.2895 1011.5805 542.6336)" font-size="18" text-anchor="end">0.01</text>
<text transform="matrix(0.8340 -0.3857 0.8833 0.3266 1154.9881 595.6639)" font-size="18" text-anchor="end">0.1</text>
<text transform="matrix(0.9908 0.3476 -0.7637 0.4107 1370.1629 624.6120)" font-size="18" text-anchor="start">500</text>
<text transform="matrix(0.9806 0.3297 -0.7243 0.3893 1414.1955 600.4163)" font-size="18" text-anchor="start">1000</text>
<text transform="matrix(0.9701 0.3131 -0.6879 0.3696 1455.9639 577.4648)" font-size="18" text-anchor="start">1500</text>
<text transform="matrix(0.9594 0.2978 -0.6543 0.3513 1495.6383 555.6639)" font-size="18" text-anchor="start">2000</text>
<text transform="matrix(0.9486 0.2835 -0.6230 0.3343 1533.3724 534.9291)" font-size="18" text-anchor="start">2500</text>
<text transform="matrix(0.9377 0.2703 -0.5940 0.3185 1569.3052 515.1843)" font-size="18" text-anchor="start">3000</text>
<text transform="matrix(0.9268 0.2580 -0.5669 0.3038 1603.5626 496.3600)" font-size="18" text-anchor="start">3500</text>
<text transform="matrix(0.6583 -0.3756 1.0067 0.3181 1537.7152 584.7347)" font-size="20.5" text-anchor="middle">Time [min]</text>
<text transform="matrix(0.8489 0.3281 -0.8803 0.3875 1053.5026 597.4940)" font-size="21" text-anchor="middle">q [&#197;<tspan dy="-8" font-size="14">-1</tspan><tspan dy="8">]</tspan></text>
</g>
<text x="0" y="0" transform="translate(869 309) rotate(90)" font-family="&#39;Liberation Sans&#39;, Arial, sans-serif" font-size="21" letter-spacing="0.9" text-anchor="middle">d&#931;/d&#937; (q) [cm<tspan dy="-8" font-size="13">-1</tspan><tspan dy="8">]</tspan></text>
<text x="-0.8" y="77.3" font-family="&#39;Liberation Sans&#39;, Arial, sans-serif" font-weight="bold" font-size="37" transform="scale(1.06 1)">A</text>
<text x="0" y="77" font-family="&#39;Liberation Sans&#39;, Arial, sans-serif" font-weight="bold" font-size="36" transform="translate(850.5 0) scale(1.07 1)">B</text>
</svg>
</body></html>
